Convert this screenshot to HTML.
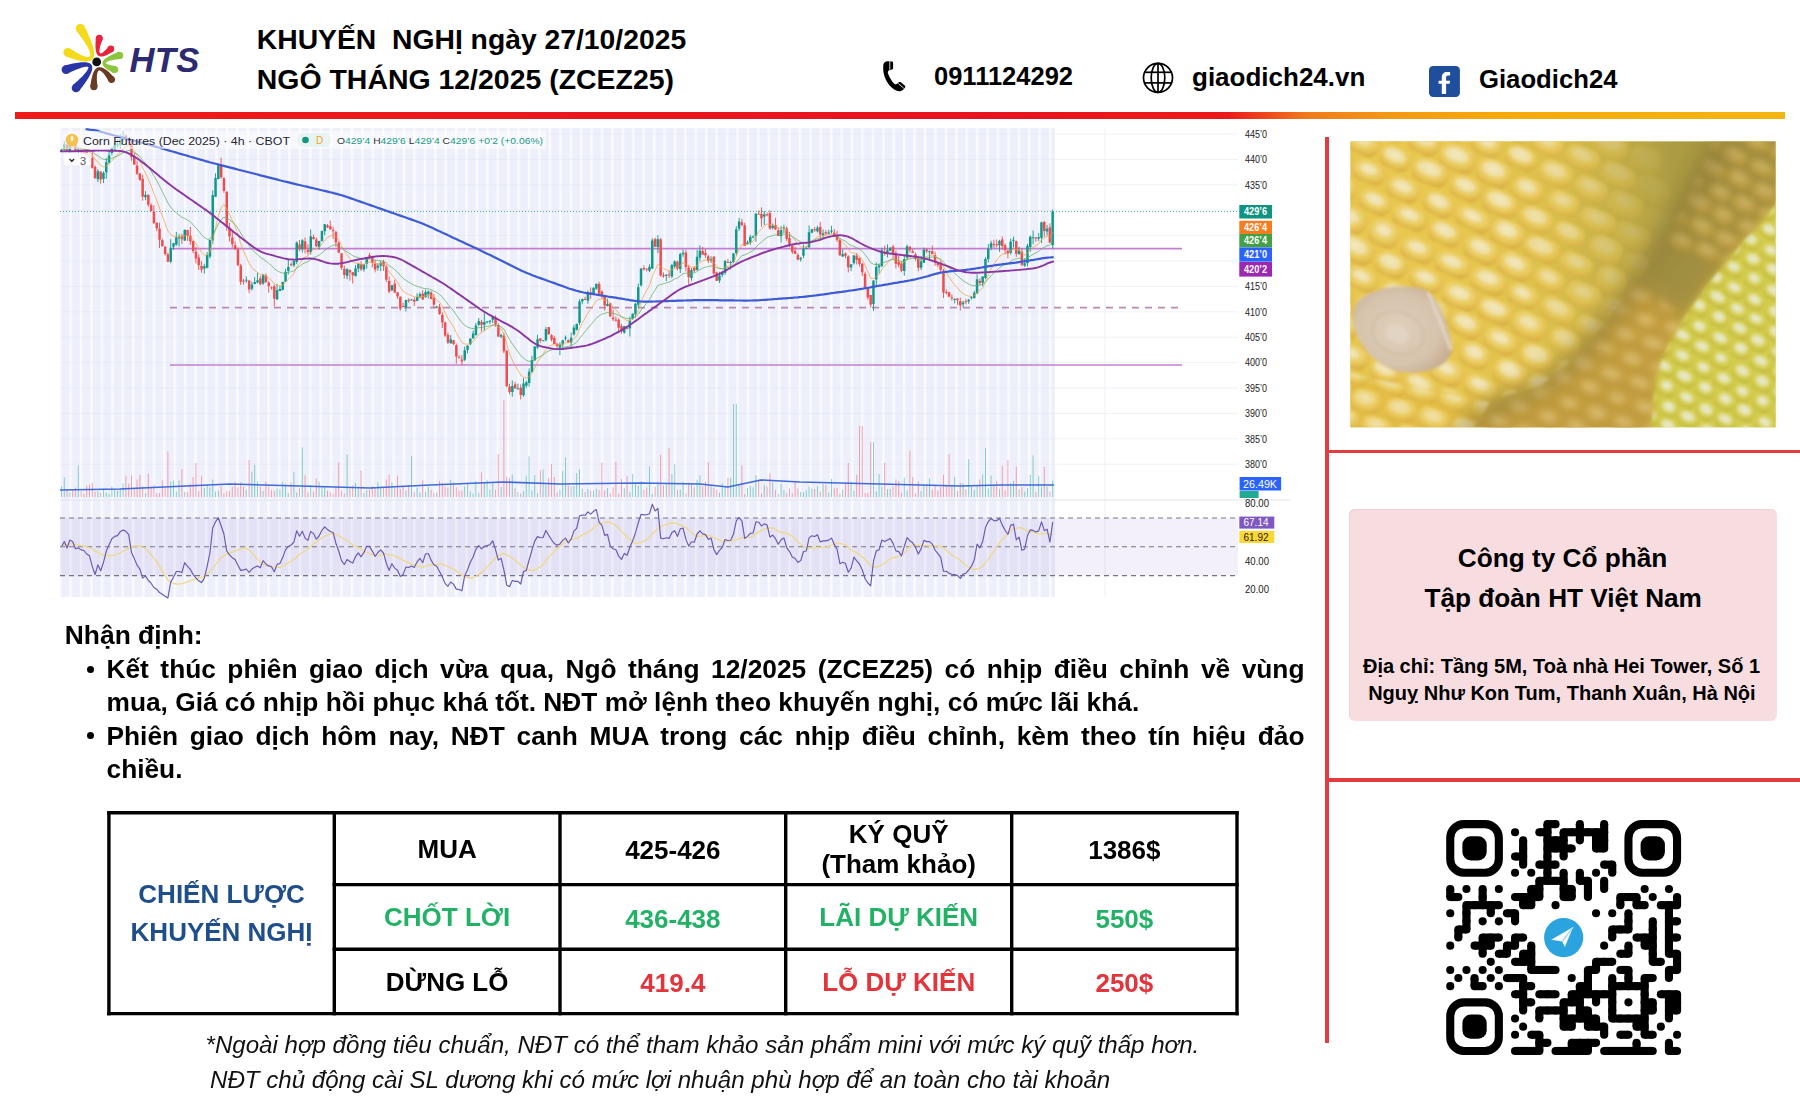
<!DOCTYPE html>
<html lang="vi"><head><meta charset="utf-8"><title>HTS - Khuyến nghị Ngô</title>
<style>
*{margin:0;padding:0;box-sizing:border-box}
html,body{width:1800px;height:1112px;overflow:hidden;background:#fff}
body{position:relative;font-family:"Liberation Sans", Arial, sans-serif;color:#000}
.abs{position:absolute;white-space:nowrap}
.rl{position:absolute;background:#e23b40}
.txt{position:absolute;left:106.5px;width:1198px;font-size:26.3px;font-weight:bold;line-height:33.4px;text-align:justify;text-align-last:left}
.txt li{list-style:none;position:relative}
.bul{position:absolute;left:-20px;top:12.7px;width:7px;height:7px;border-radius:50%;background:#000}
</style></head><body>
<svg style="position:absolute;left:0;top:0" width="210" height="110" viewBox="0 0 210 110"><g fill="#f2da1c"><polygon points="76.52,31.08 78.11,33.10 79.60,35.04 80.99,36.91 82.28,38.71 83.48,40.43 84.58,42.07 85.57,43.64 86.47,45.13 87.28,46.54 87.98,47.87 88.58,49.12 89.09,50.28 89.50,51.36 89.81,52.35 90.03,53.24 90.15,54.04 90.19,54.72 90.16,55.30 90.06,55.76 89.92,56.11 89.74,56.38 89.53,56.58 89.25,56.74 88.90,56.86 88.45,56.95 87.88,56.97 87.21,56.94 86.43,56.82 85.54,56.63 84.55,56.35 83.47,55.97 82.30,55.51 81.03,54.96 79.68,54.31 78.25,53.57 76.72,52.74 75.12,51.81 73.43,50.79 71.66,49.68 69.80,48.48 65.80,56.32 67.99,57.14 70.08,57.90 72.09,58.58 74.00,59.18 75.82,59.72 77.55,60.18 79.19,60.57 80.74,60.89 82.21,61.13 83.60,61.30 84.90,61.40 86.13,61.42 87.29,61.35 88.39,61.20 89.42,60.94 90.38,60.58 91.27,60.09 92.06,59.47 92.74,58.73 93.28,57.89 93.68,56.97 93.95,55.99 94.11,54.97 94.17,53.88 94.13,52.74 94.02,51.54 93.82,50.27 93.55,48.92 93.20,47.49 92.77,45.98 92.27,44.39 91.69,42.71 91.03,40.95 90.29,39.10 89.48,37.16 88.60,35.13 87.63,33.01 86.59,30.81 85.47,28.51 84.28,26.12"/><circle cx="80.4" cy="28.6" r="4.6"/><circle cx="67.8" cy="52.4" r="4.4"/></g><g fill="#e8243c"><polygon points="95.90,37.39 95.77,38.79 95.67,40.14 95.59,41.43 95.53,42.66 95.49,43.84 95.47,44.96 95.48,46.02 95.50,47.04 95.55,47.99 95.63,48.90 95.72,49.75 95.84,50.56 95.98,51.32 96.16,52.03 96.36,52.69 96.59,53.32 96.87,53.90 97.18,54.45 97.55,54.95 97.98,55.40 98.47,55.79 99.01,56.11 99.59,56.34 100.21,56.50 100.84,56.58 101.48,56.59 102.14,56.54 102.82,56.43 103.51,56.27 104.23,56.06 104.98,55.81 105.75,55.50 106.55,55.15 107.38,54.75 108.25,54.30 109.15,53.81 110.09,53.27 111.06,52.68 112.06,52.04 113.10,51.36 108.70,46.44 107.97,47.32 107.27,48.14 106.59,48.89 105.94,49.59 105.31,50.23 104.71,50.80 104.14,51.32 103.60,51.78 103.10,52.17 102.62,52.51 102.18,52.79 101.78,53.01 101.41,53.17 101.10,53.29 100.83,53.35 100.60,53.38 100.42,53.38 100.27,53.35 100.14,53.29 100.02,53.20 99.90,53.06 99.78,52.87 99.67,52.61 99.58,52.28 99.51,51.89 99.46,51.43 99.45,50.90 99.47,50.32 99.53,49.68 99.62,48.97 99.76,48.22 99.93,47.40 100.14,46.54 100.39,45.62 100.67,44.65 101.00,43.62 101.37,42.54 101.77,41.42 102.22,40.24 102.70,39.01"/><circle cx="99.3" cy="38.2" r="3.5"/><circle cx="110.9" cy="48.9" r="3.3"/></g><g fill="#8cc63f"><polygon points="118.61,51.81 117.25,52.36 115.95,52.91 114.71,53.45 113.53,53.97 112.42,54.49 111.36,55.00 110.37,55.50 109.44,55.99 108.57,56.48 107.75,56.96 107.00,57.43 106.30,57.89 105.66,58.36 105.07,58.82 104.54,59.28 104.06,59.76 103.63,60.24 103.25,60.75 102.94,61.30 102.69,61.87 102.53,62.49 102.46,63.13 102.51,63.78 102.65,64.41 102.89,65.01 103.19,65.58 103.56,66.13 103.99,66.65 104.47,67.16 105.00,67.67 105.59,68.18 106.24,68.68 106.94,69.19 107.71,69.71 108.53,70.22 109.41,70.75 110.35,71.29 111.35,71.83 112.42,72.38 113.54,72.94 115.66,66.06 114.52,65.90 113.45,65.74 112.45,65.57 111.52,65.39 110.65,65.21 109.86,65.01 109.13,64.82 108.47,64.61 107.89,64.41 107.37,64.20 106.93,64.00 106.56,63.80 106.27,63.62 106.05,63.46 105.89,63.32 105.79,63.21 105.74,63.14 105.70,63.08 105.69,63.01 105.71,62.93 105.77,62.80 105.89,62.64 106.08,62.44 106.35,62.23 106.69,62.00 107.11,61.76 107.60,61.52 108.17,61.28 108.81,61.05 109.52,60.82 110.30,60.60 111.15,60.38 112.07,60.18 113.06,59.98 114.12,59.79 115.24,59.61 116.43,59.44 117.68,59.28 119.00,59.13 120.39,58.99"/><circle cx="119.5" cy="55.4" r="3.7"/><circle cx="114.6" cy="69.5" r="3.6"/></g><g fill="#6b3a22"><polygon points="97.50,86.59 97.31,85.09 97.16,83.66 97.03,82.30 96.94,81.01 96.88,79.80 96.85,78.65 96.85,77.57 96.88,76.57 96.94,75.64 97.02,74.78 97.14,74.01 97.28,73.30 97.44,72.68 97.63,72.14 97.83,71.67 98.04,71.29 98.25,70.99 98.47,70.76 98.68,70.60 98.89,70.49 99.11,70.43 99.34,70.41 99.61,70.43 99.92,70.50 100.27,70.64 100.66,70.84 101.09,71.11 101.55,71.46 102.04,71.88 102.56,72.38 103.10,72.96 103.67,73.61 104.25,74.34 104.86,75.15 105.48,76.03 106.12,76.99 106.77,78.03 107.45,79.14 108.14,80.32 108.84,81.58 114.36,77.62 113.31,76.48 112.29,75.40 111.30,74.40 110.34,73.46 109.40,72.58 108.49,71.77 107.61,71.02 106.76,70.34 105.92,69.73 105.12,69.17 104.33,68.68 103.55,68.26 102.80,67.90 102.05,67.60 101.31,67.38 100.58,67.22 99.84,67.16 99.12,67.18 98.40,67.29 97.71,67.51 97.06,67.82 96.45,68.22 95.89,68.70 95.38,69.24 94.90,69.84 94.46,70.50 94.05,71.22 93.66,72.01 93.30,72.86 92.95,73.77 92.62,74.74 92.31,75.78 92.01,76.89 91.72,78.07 91.45,79.32 91.19,80.63 90.95,82.02 90.72,83.48 90.50,85.01 90.30,86.61"/><circle cx="93.9" cy="86.6" r="3.6"/><circle cx="111.6" cy="79.6" r="3.4"/></g><g fill="#2b36a6"><polygon points="67.39,73.63 69.38,72.66 71.27,71.76 73.07,70.94 74.78,70.19 76.40,69.51 77.92,68.91 79.35,68.38 80.69,67.92 81.92,67.54 83.06,67.23 84.10,66.99 85.03,66.82 85.85,66.72 86.56,66.68 87.15,66.70 87.61,66.76 87.94,66.85 88.15,66.94 88.27,67.03 88.33,67.11 88.38,67.24 88.40,67.45 88.38,67.76 88.28,68.19 88.10,68.72 87.82,69.34 87.44,70.05 86.95,70.83 86.36,71.68 85.66,72.60 84.85,73.58 83.94,74.62 82.93,75.72 81.81,76.88 80.58,78.10 79.25,79.37 77.82,80.70 76.28,82.09 74.64,83.53 72.90,85.02 79.10,90.98 80.57,89.10 81.95,87.28 83.24,85.54 84.45,83.87 85.56,82.27 86.60,80.74 87.54,79.28 88.40,77.89 89.18,76.56 89.87,75.30 90.47,74.10 90.99,72.96 91.43,71.88 91.78,70.85 92.04,69.86 92.21,68.90 92.28,67.96 92.23,67.04 92.03,66.14 91.67,65.29 91.13,64.52 90.46,63.87 89.69,63.36 88.85,62.97 87.95,62.68 86.98,62.47 85.94,62.33 84.83,62.25 83.64,62.24 82.36,62.27 81.00,62.37 79.54,62.51 77.99,62.71 76.34,62.96 74.60,63.26 72.76,63.62 70.82,64.03 68.78,64.49 66.64,65.00 64.41,65.57"/><circle cx="65.9" cy="69.6" r="4.3"/><circle cx="76.0" cy="88.0" r="4.3"/></g><circle cx="96.7" cy="61.9" r="4.4" fill="#111"/></svg>
<div class="abs" style="top:42.61px;font-size:34.6px;line-height:34.6px;font-weight:bold;left:129.50px;font-style:italic;color:#2c2a70;letter-spacing:0.3px">HTS</div>
<div class="abs" style="top:24.79px;font-size:28.3px;line-height:28.3px;font-weight:bold;left:256.80px;">KHUYẾN&nbsp; NGHỊ ngày 27/10/2025</div>
<div class="abs" style="top:64.92px;font-size:28.45px;line-height:28.45px;font-weight:bold;left:256.80px;">NGÔ THÁNG 12/2025 (ZCEZ25)</div>
<svg style="position:absolute;left:875px;top:55px" width="40" height="40" viewBox="0 0 40 40">
<path d="M8.3,10 C8.5,7.5 10.5,6.3 12.5,6.2 L17,6.4 C17.9,6.5 18.1,7.2 18.1,8 L18.1,13 C18.1,14 17.3,14.6 16.3,14.7 L14.2,15.2 C13,15.8 12.6,17 13,18.5 C14.6,22.6 16.6,26 19,28.4 C20,29.4 21.2,29.6 22.2,28.8 L23.6,27.4 C24.3,26.8 25.2,26.8 25.9,27.3 L29.8,30.6 C30.5,31.2 30.5,32 29.9,32.7 L28.4,34.4 C26.8,36 24.2,36.6 21.8,35.8 C18.2,34.6 14.8,31.4 12.4,27.6 C10,23.6 8.4,18.8 8.2,14.2 Z" fill="#000"/>
<path d="M14.8,6.2 L14.8,14.9 M23.3,28.5 L28.8,33.3" stroke="#fff" stroke-width="0.9" fill="none" opacity="0.9"/>
</svg>
<div class="abs" style="top:63.61px;font-size:25.5px;line-height:25.5px;font-weight:bold;left:934.00px;">0911124292</div>
<svg style="position:absolute;left:1138px;top:58px" width="40" height="40" viewBox="0 0 40 40">
<g fill="none" stroke="#000" stroke-width="1.7">
<circle cx="20" cy="19.8" r="14.5"/>
<ellipse cx="20" cy="19.8" rx="6.8" ry="14.5"/>
<line x1="20" y1="5.3" x2="20" y2="34.3"/>
<line x1="6.6" y1="14.3" x2="33.4" y2="14.3"/>
<line x1="6.4" y1="24.9" x2="33.6" y2="24.9"/>
</g></svg>
<div class="abs" style="top:64.39px;font-size:26px;line-height:26px;font-weight:bold;left:1192.00px;">giaodich24.vn</div>
<svg style="position:absolute;left:1429px;top:65.9px" width="32" height="32" viewBox="0 0 32 32">
<rect x="0" y="0" width="30.9" height="31.1" rx="4.2" fill="#1f4f9c"/>
<path d="M12.8,28.1 L12.8,17.8 L9.6,17.8 L9.6,14.7 L12.8,14.7 L12.8,11.5 C12.8,8 14.8,6 18.2,6 L21.1,6 L21.1,9.6 L19,9.6 C17.6,9.6 17.1,10.3 17.1,11.6 L17.1,14.7 L21.1,14.7 L20.6,17.8 L17.1,17.8 L17.1,28.1 Z" fill="#fff"/>
</svg>
<div class="abs" style="top:66.54px;font-size:25.7px;line-height:25.7px;font-weight:bold;left:1479.00px;">Giaodich24</div>
<div style="position:absolute;left:15px;top:112px;width:1770px;height:6.5px;background:linear-gradient(90deg,#ee1b1b 0%,#e8131f 55%,#ec1a1a 68.5%,#f07a1c 73%,#f39a14 78%,#f6aa0a 84%,#f2b512 100%)"></div>
<svg style="position:absolute;left:0;top:0" width="1800" height="1112" viewBox="0 0 1800 1112" font-family="Liberation Sans, sans-serif">
<defs><pattern id="stp" x="59.0" y="0" width="10.42" height="20" patternUnits="userSpaceOnUse"><rect x="0" y="0" width="10.42" height="20" fill="#edeffb"/><rect x="0" y="0" width="2.4" height="20" fill="#fafbff"/></pattern></defs>
<rect x="60" y="128" width="995" height="469" fill="url(#stp)"/>
<line x1="60" y1="134.0" x2="1238" y2="134.0" stroke="#e3e5f0" stroke-width="0.8" stroke-opacity="0.7"/>
<line x1="60" y1="159.4" x2="1238" y2="159.4" stroke="#e3e5f0" stroke-width="0.8" stroke-opacity="0.7"/>
<line x1="60" y1="184.8" x2="1238" y2="184.8" stroke="#e3e5f0" stroke-width="0.8" stroke-opacity="0.7"/>
<line x1="60" y1="210.2" x2="1238" y2="210.2" stroke="#e3e5f0" stroke-width="0.8" stroke-opacity="0.7"/>
<line x1="60" y1="235.6" x2="1238" y2="235.6" stroke="#e3e5f0" stroke-width="0.8" stroke-opacity="0.7"/>
<line x1="60" y1="261.0" x2="1238" y2="261.0" stroke="#e3e5f0" stroke-width="0.8" stroke-opacity="0.7"/>
<line x1="60" y1="286.4" x2="1238" y2="286.4" stroke="#e3e5f0" stroke-width="0.8" stroke-opacity="0.7"/>
<line x1="60" y1="311.8" x2="1238" y2="311.8" stroke="#e3e5f0" stroke-width="0.8" stroke-opacity="0.7"/>
<line x1="60" y1="337.2" x2="1238" y2="337.2" stroke="#e3e5f0" stroke-width="0.8" stroke-opacity="0.7"/>
<line x1="60" y1="362.6" x2="1238" y2="362.6" stroke="#e3e5f0" stroke-width="0.8" stroke-opacity="0.7"/>
<line x1="60" y1="388.0" x2="1238" y2="388.0" stroke="#e3e5f0" stroke-width="0.8" stroke-opacity="0.7"/>
<line x1="60" y1="413.4" x2="1238" y2="413.4" stroke="#e3e5f0" stroke-width="0.8" stroke-opacity="0.7"/>
<line x1="60" y1="438.8" x2="1238" y2="438.8" stroke="#e3e5f0" stroke-width="0.8" stroke-opacity="0.7"/>
<line x1="60" y1="464.2" x2="1238" y2="464.2" stroke="#e3e5f0" stroke-width="0.8" stroke-opacity="0.7"/>
<line x1="1105" y1="128" x2="1105" y2="597" stroke="#f0f1f6" stroke-width="1"/>
<rect x="60" y="518" width="1178" height="57.6" fill="#7e57c2" fill-opacity="0.09"/>
<line x1="60" y1="518" x2="1238" y2="518" stroke="#74767f" stroke-width="1.1" stroke-dasharray="5,4"/>
<line x1="60" y1="546.8" x2="1238" y2="546.8" stroke="#74767f" stroke-width="1.1" stroke-dasharray="5,4"/>
<line x1="60" y1="575.6" x2="1238" y2="575.6" stroke="#74767f" stroke-width="1.1" stroke-dasharray="5,4"/>
<line x1="170" y1="248.6" x2="1182" y2="248.6" stroke="#c47fd0" stroke-width="1.6"/>
<line x1="170" y1="307.6" x2="1182" y2="307.6" stroke="#b98ab8" stroke-width="1.6" stroke-dasharray="7,6"/>
<line x1="170" y1="365" x2="1182" y2="365" stroke="#c47fd0" stroke-width="1.6"/>
<line x1="60" y1="211.5" x2="1238" y2="211.5" stroke="#2a9d8f" stroke-width="1" stroke-dasharray="1,2" opacity="0.8"/>
<line x1="61.5" y1="148.9" x2="61.5" y2="152.0" stroke="#10998a" stroke-width="0.9"/>
<rect x="60.2" y="149.6" width="2.5" height="1.4" fill="#10998a"/>
<line x1="64.3" y1="140.8" x2="64.3" y2="150.7" stroke="#10998a" stroke-width="0.9"/>
<rect x="63.0" y="144.4" width="2.5" height="5.0" fill="#10998a"/>
<line x1="67.1" y1="143.3" x2="67.1" y2="151.0" stroke="#ef4d4d" stroke-width="0.9"/>
<rect x="65.8" y="144.6" width="2.5" height="5.8" fill="#ef4d4d"/>
<line x1="69.9" y1="140.6" x2="69.9" y2="152.8" stroke="#10998a" stroke-width="0.9"/>
<rect x="68.6" y="142.2" width="2.5" height="9.0" fill="#10998a"/>
<line x1="72.7" y1="137.6" x2="72.7" y2="145.2" stroke="#ef4d4d" stroke-width="0.9"/>
<rect x="71.4" y="140.5" width="2.5" height="3.3" fill="#ef4d4d"/>
<line x1="75.5" y1="142.0" x2="75.5" y2="152.4" stroke="#ef4d4d" stroke-width="0.9"/>
<rect x="74.2" y="143.7" width="2.5" height="6.7" fill="#ef4d4d"/>
<line x1="78.3" y1="147.5" x2="78.3" y2="156.3" stroke="#10998a" stroke-width="0.9"/>
<rect x="77.0" y="149.6" width="2.5" height="1.2" fill="#10998a"/>
<line x1="81.1" y1="148.8" x2="81.1" y2="153.8" stroke="#ef4d4d" stroke-width="0.9"/>
<rect x="79.8" y="150.8" width="2.5" height="1.0" fill="#ef4d4d"/>
<line x1="83.9" y1="149.3" x2="83.9" y2="152.8" stroke="#ef4d4d" stroke-width="0.9"/>
<rect x="82.6" y="151.4" width="2.5" height="1.0" fill="#ef4d4d"/>
<line x1="86.7" y1="149.3" x2="86.7" y2="159.0" stroke="#ef4d4d" stroke-width="0.9"/>
<rect x="85.4" y="151.0" width="2.5" height="4.1" fill="#ef4d4d"/>
<line x1="89.5" y1="154.0" x2="89.5" y2="161.4" stroke="#ef4d4d" stroke-width="0.9"/>
<rect x="88.2" y="155.3" width="2.5" height="1.3" fill="#ef4d4d"/>
<line x1="92.3" y1="151.5" x2="92.3" y2="168.7" stroke="#ef4d4d" stroke-width="0.9"/>
<rect x="91.0" y="157.9" width="2.5" height="9.8" fill="#ef4d4d"/>
<line x1="95.1" y1="165.3" x2="95.1" y2="178.4" stroke="#ef4d4d" stroke-width="0.9"/>
<rect x="93.8" y="166.9" width="2.5" height="11.4" fill="#ef4d4d"/>
<line x1="97.9" y1="169.1" x2="97.9" y2="182.1" stroke="#10998a" stroke-width="0.9"/>
<rect x="96.6" y="171.3" width="2.5" height="7.8" fill="#10998a"/>
<line x1="100.7" y1="171.2" x2="100.7" y2="183.8" stroke="#ef4d4d" stroke-width="0.9"/>
<rect x="99.4" y="171.6" width="2.5" height="8.0" fill="#ef4d4d"/>
<line x1="103.5" y1="171.4" x2="103.5" y2="183.0" stroke="#10998a" stroke-width="0.9"/>
<rect x="102.2" y="172.8" width="2.5" height="6.2" fill="#10998a"/>
<line x1="106.3" y1="158.1" x2="106.3" y2="178.8" stroke="#10998a" stroke-width="0.9"/>
<rect x="105.0" y="162.2" width="2.5" height="10.1" fill="#10998a"/>
<line x1="109.1" y1="150.9" x2="109.1" y2="164.3" stroke="#10998a" stroke-width="0.9"/>
<rect x="107.8" y="155.5" width="2.5" height="6.9" fill="#10998a"/>
<line x1="111.9" y1="147.1" x2="111.9" y2="155.4" stroke="#10998a" stroke-width="0.9"/>
<rect x="110.6" y="148.2" width="2.5" height="4.8" fill="#10998a"/>
<line x1="114.7" y1="141.7" x2="114.7" y2="149.7" stroke="#10998a" stroke-width="0.9"/>
<rect x="113.4" y="145.2" width="2.5" height="3.9" fill="#10998a"/>
<line x1="117.5" y1="139.2" x2="117.5" y2="147.7" stroke="#10998a" stroke-width="0.9"/>
<rect x="116.2" y="144.3" width="2.5" height="1.4" fill="#10998a"/>
<line x1="120.3" y1="134.3" x2="120.3" y2="149.0" stroke="#10998a" stroke-width="0.9"/>
<rect x="119.0" y="139.4" width="2.5" height="5.5" fill="#10998a"/>
<line x1="123.1" y1="131.0" x2="123.1" y2="141.9" stroke="#10998a" stroke-width="0.9"/>
<rect x="121.8" y="137.3" width="2.5" height="2.5" fill="#10998a"/>
<line x1="125.9" y1="134.9" x2="125.9" y2="141.6" stroke="#ef4d4d" stroke-width="0.9"/>
<rect x="124.6" y="135.5" width="2.5" height="2.8" fill="#ef4d4d"/>
<line x1="128.7" y1="138.1" x2="128.7" y2="141.2" stroke="#ef4d4d" stroke-width="0.9"/>
<rect x="127.4" y="139.9" width="2.5" height="1.0" fill="#ef4d4d"/>
<line x1="131.5" y1="141.0" x2="131.5" y2="160.8" stroke="#ef4d4d" stroke-width="0.9"/>
<rect x="130.2" y="141.4" width="2.5" height="15.7" fill="#ef4d4d"/>
<line x1="134.3" y1="153.3" x2="134.3" y2="164.6" stroke="#ef4d4d" stroke-width="0.9"/>
<rect x="133.0" y="156.7" width="2.5" height="7.9" fill="#ef4d4d"/>
<line x1="137.1" y1="160.8" x2="137.1" y2="175.0" stroke="#ef4d4d" stroke-width="0.9"/>
<rect x="135.8" y="165.5" width="2.5" height="8.1" fill="#ef4d4d"/>
<line x1="139.9" y1="173.0" x2="139.9" y2="180.8" stroke="#ef4d4d" stroke-width="0.9"/>
<rect x="138.6" y="173.5" width="2.5" height="6.4" fill="#ef4d4d"/>
<line x1="142.7" y1="174.8" x2="142.7" y2="200.7" stroke="#ef4d4d" stroke-width="0.9"/>
<rect x="141.4" y="178.8" width="2.5" height="17.8" fill="#ef4d4d"/>
<line x1="145.5" y1="191.2" x2="145.5" y2="200.1" stroke="#10998a" stroke-width="0.9"/>
<rect x="144.2" y="194.8" width="2.5" height="2.5" fill="#10998a"/>
<line x1="148.3" y1="194.4" x2="148.3" y2="206.7" stroke="#ef4d4d" stroke-width="0.9"/>
<rect x="147.1" y="194.9" width="2.5" height="9.9" fill="#ef4d4d"/>
<line x1="151.1" y1="203.3" x2="151.1" y2="211.2" stroke="#ef4d4d" stroke-width="0.9"/>
<rect x="149.9" y="205.1" width="2.5" height="6.1" fill="#ef4d4d"/>
<line x1="153.9" y1="205.3" x2="153.9" y2="224.1" stroke="#ef4d4d" stroke-width="0.9"/>
<rect x="152.7" y="211.8" width="2.5" height="11.3" fill="#ef4d4d"/>
<line x1="156.7" y1="222.6" x2="156.7" y2="231.1" stroke="#ef4d4d" stroke-width="0.9"/>
<rect x="155.5" y="222.7" width="2.5" height="5.5" fill="#ef4d4d"/>
<line x1="159.5" y1="222.7" x2="159.5" y2="248.0" stroke="#ef4d4d" stroke-width="0.9"/>
<rect x="158.3" y="228.6" width="2.5" height="11.2" fill="#ef4d4d"/>
<line x1="162.3" y1="238.7" x2="162.3" y2="246.9" stroke="#ef4d4d" stroke-width="0.9"/>
<rect x="161.1" y="240.0" width="2.5" height="6.1" fill="#ef4d4d"/>
<line x1="165.1" y1="245.9" x2="165.1" y2="255.7" stroke="#ef4d4d" stroke-width="0.9"/>
<rect x="163.9" y="246.8" width="2.5" height="7.3" fill="#ef4d4d"/>
<line x1="167.9" y1="252.7" x2="167.9" y2="262.0" stroke="#ef4d4d" stroke-width="0.9"/>
<rect x="166.7" y="254.4" width="2.5" height="7.3" fill="#ef4d4d"/>
<line x1="170.7" y1="239.2" x2="170.7" y2="263.2" stroke="#10998a" stroke-width="0.9"/>
<rect x="169.5" y="247.9" width="2.5" height="13.8" fill="#10998a"/>
<line x1="173.5" y1="243.0" x2="173.5" y2="249.8" stroke="#10998a" stroke-width="0.9"/>
<rect x="172.3" y="243.2" width="2.5" height="3.6" fill="#10998a"/>
<line x1="176.3" y1="231.9" x2="176.3" y2="245.8" stroke="#10998a" stroke-width="0.9"/>
<rect x="175.1" y="237.3" width="2.5" height="7.3" fill="#10998a"/>
<line x1="179.1" y1="233.9" x2="179.1" y2="246.5" stroke="#10998a" stroke-width="0.9"/>
<rect x="177.9" y="237.4" width="2.5" height="1.0" fill="#10998a"/>
<line x1="181.9" y1="233.7" x2="181.9" y2="244.0" stroke="#ef4d4d" stroke-width="0.9"/>
<rect x="180.7" y="235.9" width="2.5" height="3.3" fill="#ef4d4d"/>
<line x1="184.7" y1="229.4" x2="184.7" y2="241.1" stroke="#10998a" stroke-width="0.9"/>
<rect x="183.5" y="229.9" width="2.5" height="10.6" fill="#10998a"/>
<line x1="187.5" y1="229.8" x2="187.5" y2="240.9" stroke="#ef4d4d" stroke-width="0.9"/>
<rect x="186.3" y="230.0" width="2.5" height="5.9" fill="#ef4d4d"/>
<line x1="190.3" y1="226.9" x2="190.3" y2="245.0" stroke="#ef4d4d" stroke-width="0.9"/>
<rect x="189.1" y="235.7" width="2.5" height="5.7" fill="#ef4d4d"/>
<line x1="193.1" y1="240.7" x2="193.1" y2="253.2" stroke="#ef4d4d" stroke-width="0.9"/>
<rect x="191.9" y="241.1" width="2.5" height="9.9" fill="#ef4d4d"/>
<line x1="195.9" y1="246.7" x2="195.9" y2="263.4" stroke="#ef4d4d" stroke-width="0.9"/>
<rect x="194.7" y="251.6" width="2.5" height="6.9" fill="#ef4d4d"/>
<line x1="198.7" y1="254.3" x2="198.7" y2="269.9" stroke="#ef4d4d" stroke-width="0.9"/>
<rect x="197.5" y="257.6" width="2.5" height="7.6" fill="#ef4d4d"/>
<line x1="201.5" y1="261.2" x2="201.5" y2="272.7" stroke="#ef4d4d" stroke-width="0.9"/>
<rect x="200.3" y="265.9" width="2.5" height="3.7" fill="#ef4d4d"/>
<line x1="204.3" y1="263.7" x2="204.3" y2="273.6" stroke="#10998a" stroke-width="0.9"/>
<rect x="203.1" y="266.2" width="2.5" height="2.4" fill="#10998a"/>
<line x1="207.1" y1="251.9" x2="207.1" y2="268.3" stroke="#10998a" stroke-width="0.9"/>
<rect x="205.9" y="255.1" width="2.5" height="12.6" fill="#10998a"/>
<line x1="209.9" y1="239.8" x2="209.9" y2="258.4" stroke="#10998a" stroke-width="0.9"/>
<rect x="208.7" y="240.1" width="2.5" height="16.4" fill="#10998a"/>
<line x1="212.7" y1="190.4" x2="212.7" y2="243.8" stroke="#10998a" stroke-width="0.9"/>
<rect x="211.5" y="195.2" width="2.5" height="45.3" fill="#10998a"/>
<line x1="215.5" y1="173.3" x2="215.5" y2="197.2" stroke="#10998a" stroke-width="0.9"/>
<rect x="214.3" y="178.0" width="2.5" height="18.7" fill="#10998a"/>
<line x1="218.3" y1="165.0" x2="218.3" y2="179.4" stroke="#10998a" stroke-width="0.9"/>
<rect x="217.1" y="165.4" width="2.5" height="13.6" fill="#10998a"/>
<line x1="221.1" y1="157.8" x2="221.1" y2="178.6" stroke="#ef4d4d" stroke-width="0.9"/>
<rect x="219.9" y="165.1" width="2.5" height="12.2" fill="#ef4d4d"/>
<line x1="223.9" y1="177.2" x2="223.9" y2="192.8" stroke="#ef4d4d" stroke-width="0.9"/>
<rect x="222.7" y="178.2" width="2.5" height="12.7" fill="#ef4d4d"/>
<line x1="226.7" y1="191.4" x2="226.7" y2="230.7" stroke="#ef4d4d" stroke-width="0.9"/>
<rect x="225.5" y="191.7" width="2.5" height="34.8" fill="#ef4d4d"/>
<line x1="229.5" y1="222.8" x2="229.5" y2="241.5" stroke="#ef4d4d" stroke-width="0.9"/>
<rect x="228.3" y="227.5" width="2.5" height="8.9" fill="#ef4d4d"/>
<line x1="232.3" y1="231.3" x2="232.3" y2="247.6" stroke="#ef4d4d" stroke-width="0.9"/>
<rect x="231.1" y="237.3" width="2.5" height="6.9" fill="#ef4d4d"/>
<line x1="235.1" y1="241.3" x2="235.1" y2="249.4" stroke="#ef4d4d" stroke-width="0.9"/>
<rect x="233.9" y="245.2" width="2.5" height="4.1" fill="#ef4d4d"/>
<line x1="237.9" y1="247.4" x2="237.9" y2="266.1" stroke="#ef4d4d" stroke-width="0.9"/>
<rect x="236.7" y="249.3" width="2.5" height="16.0" fill="#ef4d4d"/>
<line x1="240.7" y1="263.7" x2="240.7" y2="285.0" stroke="#ef4d4d" stroke-width="0.9"/>
<rect x="239.5" y="265.4" width="2.5" height="16.4" fill="#ef4d4d"/>
<line x1="243.5" y1="278.8" x2="243.5" y2="284.5" stroke="#ef4d4d" stroke-width="0.9"/>
<rect x="242.3" y="280.6" width="2.5" height="1.0" fill="#ef4d4d"/>
<line x1="246.3" y1="276.4" x2="246.3" y2="283.0" stroke="#10998a" stroke-width="0.9"/>
<rect x="245.1" y="279.7" width="2.5" height="1.0" fill="#10998a"/>
<line x1="249.1" y1="279.9" x2="249.1" y2="293.2" stroke="#ef4d4d" stroke-width="0.9"/>
<rect x="247.9" y="280.5" width="2.5" height="9.0" fill="#ef4d4d"/>
<line x1="251.9" y1="281.8" x2="251.9" y2="290.6" stroke="#10998a" stroke-width="0.9"/>
<rect x="250.7" y="284.7" width="2.5" height="4.0" fill="#10998a"/>
<line x1="254.7" y1="277.2" x2="254.7" y2="284.4" stroke="#10998a" stroke-width="0.9"/>
<rect x="253.5" y="282.1" width="2.5" height="1.9" fill="#10998a"/>
<line x1="257.5" y1="272.7" x2="257.5" y2="283.5" stroke="#10998a" stroke-width="0.9"/>
<rect x="256.3" y="280.3" width="2.5" height="2.2" fill="#10998a"/>
<line x1="260.3" y1="276.0" x2="260.3" y2="285.2" stroke="#ef4d4d" stroke-width="0.9"/>
<rect x="259.1" y="278.3" width="2.5" height="6.0" fill="#ef4d4d"/>
<line x1="263.1" y1="273.9" x2="263.1" y2="284.9" stroke="#10998a" stroke-width="0.9"/>
<rect x="261.9" y="274.8" width="2.5" height="8.6" fill="#10998a"/>
<line x1="265.9" y1="273.5" x2="265.9" y2="283.0" stroke="#ef4d4d" stroke-width="0.9"/>
<rect x="264.7" y="275.6" width="2.5" height="6.4" fill="#ef4d4d"/>
<line x1="268.7" y1="281.2" x2="268.7" y2="292.7" stroke="#ef4d4d" stroke-width="0.9"/>
<rect x="267.5" y="282.6" width="2.5" height="3.5" fill="#ef4d4d"/>
<line x1="271.5" y1="286.4" x2="271.5" y2="289.5" stroke="#ef4d4d" stroke-width="0.9"/>
<rect x="270.3" y="287.4" width="2.5" height="1.0" fill="#ef4d4d"/>
<line x1="274.3" y1="284.7" x2="274.3" y2="306.5" stroke="#ef4d4d" stroke-width="0.9"/>
<rect x="273.1" y="286.2" width="2.5" height="12.5" fill="#ef4d4d"/>
<line x1="277.1" y1="284.1" x2="277.1" y2="299.8" stroke="#10998a" stroke-width="0.9"/>
<rect x="275.9" y="290.1" width="2.5" height="9.3" fill="#10998a"/>
<line x1="279.9" y1="286.1" x2="279.9" y2="291.3" stroke="#10998a" stroke-width="0.9"/>
<rect x="278.7" y="289.0" width="2.5" height="2.0" fill="#10998a"/>
<line x1="282.7" y1="281.8" x2="282.7" y2="290.4" stroke="#10998a" stroke-width="0.9"/>
<rect x="281.5" y="281.9" width="2.5" height="7.9" fill="#10998a"/>
<line x1="285.5" y1="268.9" x2="285.5" y2="281.9" stroke="#10998a" stroke-width="0.9"/>
<rect x="284.3" y="271.8" width="2.5" height="9.8" fill="#10998a"/>
<line x1="288.3" y1="258.4" x2="288.3" y2="274.6" stroke="#10998a" stroke-width="0.9"/>
<rect x="287.1" y="266.9" width="2.5" height="4.0" fill="#10998a"/>
<line x1="291.1" y1="262.3" x2="291.1" y2="266.4" stroke="#ef4d4d" stroke-width="0.9"/>
<rect x="289.9" y="264.3" width="2.5" height="1.0" fill="#ef4d4d"/>
<line x1="293.9" y1="260.6" x2="293.9" y2="267.0" stroke="#10998a" stroke-width="0.9"/>
<rect x="292.7" y="260.8" width="2.5" height="4.5" fill="#10998a"/>
<line x1="296.7" y1="241.5" x2="296.7" y2="264.1" stroke="#10998a" stroke-width="0.9"/>
<rect x="295.5" y="242.6" width="2.5" height="19.3" fill="#10998a"/>
<line x1="299.5" y1="239.9" x2="299.5" y2="251.3" stroke="#ef4d4d" stroke-width="0.9"/>
<rect x="298.3" y="244.4" width="2.5" height="4.8" fill="#ef4d4d"/>
<line x1="302.3" y1="239.1" x2="302.3" y2="252.5" stroke="#10998a" stroke-width="0.9"/>
<rect x="301.1" y="240.3" width="2.5" height="9.0" fill="#10998a"/>
<line x1="305.1" y1="237.5" x2="305.1" y2="253.3" stroke="#ef4d4d" stroke-width="0.9"/>
<rect x="303.9" y="241.4" width="2.5" height="7.6" fill="#ef4d4d"/>
<line x1="307.9" y1="244.2" x2="307.9" y2="254.6" stroke="#ef4d4d" stroke-width="0.9"/>
<rect x="306.7" y="250.0" width="2.5" height="2.0" fill="#ef4d4d"/>
<line x1="310.7" y1="229.5" x2="310.7" y2="254.6" stroke="#10998a" stroke-width="0.9"/>
<rect x="309.5" y="236.4" width="2.5" height="15.8" fill="#10998a"/>
<line x1="313.5" y1="234.6" x2="313.5" y2="239.5" stroke="#ef4d4d" stroke-width="0.9"/>
<rect x="312.3" y="237.0" width="2.5" height="2.1" fill="#ef4d4d"/>
<line x1="316.3" y1="237.4" x2="316.3" y2="246.9" stroke="#ef4d4d" stroke-width="0.9"/>
<rect x="315.1" y="239.5" width="2.5" height="6.7" fill="#ef4d4d"/>
<line x1="319.1" y1="240.9" x2="319.1" y2="249.6" stroke="#10998a" stroke-width="0.9"/>
<rect x="317.9" y="241.0" width="2.5" height="6.0" fill="#10998a"/>
<line x1="321.9" y1="230.7" x2="321.9" y2="241.5" stroke="#10998a" stroke-width="0.9"/>
<rect x="320.7" y="231.0" width="2.5" height="10.0" fill="#10998a"/>
<line x1="324.7" y1="223.9" x2="324.7" y2="235.2" stroke="#10998a" stroke-width="0.9"/>
<rect x="323.5" y="224.3" width="2.5" height="6.9" fill="#10998a"/>
<line x1="327.5" y1="224.0" x2="327.5" y2="228.0" stroke="#ef4d4d" stroke-width="0.9"/>
<rect x="326.3" y="225.4" width="2.5" height="2.0" fill="#ef4d4d"/>
<line x1="330.3" y1="220.4" x2="330.3" y2="229.6" stroke="#ef4d4d" stroke-width="0.9"/>
<rect x="329.1" y="226.4" width="2.5" height="3.0" fill="#ef4d4d"/>
<line x1="333.1" y1="226.7" x2="333.1" y2="238.9" stroke="#ef4d4d" stroke-width="0.9"/>
<rect x="331.9" y="230.2" width="2.5" height="1.0" fill="#ef4d4d"/>
<line x1="335.9" y1="230.8" x2="335.9" y2="246.8" stroke="#ef4d4d" stroke-width="0.9"/>
<rect x="334.7" y="232.1" width="2.5" height="10.3" fill="#ef4d4d"/>
<line x1="338.7" y1="241.3" x2="338.7" y2="253.2" stroke="#ef4d4d" stroke-width="0.9"/>
<rect x="337.5" y="242.9" width="2.5" height="9.7" fill="#ef4d4d"/>
<line x1="341.5" y1="253.3" x2="341.5" y2="269.8" stroke="#ef4d4d" stroke-width="0.9"/>
<rect x="340.3" y="253.3" width="2.5" height="14.6" fill="#ef4d4d"/>
<line x1="344.3" y1="265.6" x2="344.3" y2="278.5" stroke="#ef4d4d" stroke-width="0.9"/>
<rect x="343.1" y="268.9" width="2.5" height="6.1" fill="#ef4d4d"/>
<line x1="347.1" y1="268.3" x2="347.1" y2="279.2" stroke="#10998a" stroke-width="0.9"/>
<rect x="345.9" y="269.2" width="2.5" height="6.6" fill="#10998a"/>
<line x1="349.9" y1="269.4" x2="349.9" y2="280.7" stroke="#ef4d4d" stroke-width="0.9"/>
<rect x="348.7" y="270.1" width="2.5" height="2.4" fill="#ef4d4d"/>
<line x1="352.7" y1="272.0" x2="352.7" y2="283.6" stroke="#ef4d4d" stroke-width="0.9"/>
<rect x="351.5" y="272.3" width="2.5" height="3.0" fill="#ef4d4d"/>
<line x1="355.5" y1="265.1" x2="355.5" y2="276.2" stroke="#10998a" stroke-width="0.9"/>
<rect x="354.3" y="268.3" width="2.5" height="7.9" fill="#10998a"/>
<line x1="358.3" y1="262.8" x2="358.3" y2="272.1" stroke="#10998a" stroke-width="0.9"/>
<rect x="357.1" y="264.0" width="2.5" height="4.5" fill="#10998a"/>
<line x1="361.1" y1="261.2" x2="361.1" y2="271.1" stroke="#ef4d4d" stroke-width="0.9"/>
<rect x="359.9" y="264.0" width="2.5" height="5.4" fill="#ef4d4d"/>
<line x1="363.9" y1="263.7" x2="363.9" y2="271.7" stroke="#10998a" stroke-width="0.9"/>
<rect x="362.7" y="264.5" width="2.5" height="5.0" fill="#10998a"/>
<line x1="366.7" y1="257.1" x2="366.7" y2="268.6" stroke="#10998a" stroke-width="0.9"/>
<rect x="365.5" y="257.1" width="2.5" height="6.7" fill="#10998a"/>
<line x1="369.5" y1="252.9" x2="369.5" y2="259.2" stroke="#ef4d4d" stroke-width="0.9"/>
<rect x="368.3" y="255.1" width="2.5" height="2.3" fill="#ef4d4d"/>
<line x1="372.3" y1="256.6" x2="372.3" y2="267.5" stroke="#ef4d4d" stroke-width="0.9"/>
<rect x="371.1" y="257.3" width="2.5" height="5.6" fill="#ef4d4d"/>
<line x1="375.1" y1="260.0" x2="375.1" y2="272.3" stroke="#ef4d4d" stroke-width="0.9"/>
<rect x="373.9" y="263.5" width="2.5" height="6.0" fill="#ef4d4d"/>
<line x1="377.9" y1="263.1" x2="377.9" y2="270.7" stroke="#10998a" stroke-width="0.9"/>
<rect x="376.7" y="265.6" width="2.5" height="2.1" fill="#10998a"/>
<line x1="380.7" y1="260.8" x2="380.7" y2="271.2" stroke="#10998a" stroke-width="0.9"/>
<rect x="379.5" y="262.8" width="2.5" height="2.8" fill="#10998a"/>
<line x1="383.5" y1="259.7" x2="383.5" y2="270.9" stroke="#ef4d4d" stroke-width="0.9"/>
<rect x="382.3" y="261.7" width="2.5" height="4.7" fill="#ef4d4d"/>
<line x1="386.3" y1="264.6" x2="386.3" y2="282.0" stroke="#ef4d4d" stroke-width="0.9"/>
<rect x="385.1" y="266.7" width="2.5" height="13.0" fill="#ef4d4d"/>
<line x1="389.1" y1="276.7" x2="389.1" y2="293.2" stroke="#ef4d4d" stroke-width="0.9"/>
<rect x="387.9" y="280.9" width="2.5" height="10.7" fill="#ef4d4d"/>
<line x1="391.9" y1="285.0" x2="391.9" y2="290.5" stroke="#10998a" stroke-width="0.9"/>
<rect x="390.7" y="285.2" width="2.5" height="5.3" fill="#10998a"/>
<line x1="394.7" y1="279.7" x2="394.7" y2="292.7" stroke="#ef4d4d" stroke-width="0.9"/>
<rect x="393.5" y="283.6" width="2.5" height="9.0" fill="#ef4d4d"/>
<line x1="397.5" y1="292.1" x2="397.5" y2="298.8" stroke="#ef4d4d" stroke-width="0.9"/>
<rect x="396.3" y="292.3" width="2.5" height="4.0" fill="#ef4d4d"/>
<line x1="400.3" y1="296.4" x2="400.3" y2="310.8" stroke="#ef4d4d" stroke-width="0.9"/>
<rect x="399.1" y="296.7" width="2.5" height="12.0" fill="#ef4d4d"/>
<line x1="403.1" y1="302.8" x2="403.1" y2="307.0" stroke="#ef4d4d" stroke-width="0.9"/>
<rect x="401.9" y="306.0" width="2.5" height="1.0" fill="#ef4d4d"/>
<line x1="405.9" y1="299.6" x2="405.9" y2="311.5" stroke="#10998a" stroke-width="0.9"/>
<rect x="404.7" y="300.1" width="2.5" height="7.1" fill="#10998a"/>
<line x1="408.7" y1="298.3" x2="408.7" y2="302.8" stroke="#ef4d4d" stroke-width="0.9"/>
<rect x="407.5" y="299.7" width="2.5" height="1.1" fill="#ef4d4d"/>
<line x1="411.5" y1="299.1" x2="411.5" y2="300.2" stroke="#10998a" stroke-width="0.9"/>
<rect x="410.3" y="299.5" width="2.5" height="1.0" fill="#10998a"/>
<line x1="414.3" y1="297.5" x2="414.3" y2="306.0" stroke="#ef4d4d" stroke-width="0.9"/>
<rect x="413.1" y="299.8" width="2.5" height="1.8" fill="#ef4d4d"/>
<line x1="417.1" y1="293.4" x2="417.1" y2="301.3" stroke="#10998a" stroke-width="0.9"/>
<rect x="415.9" y="297.0" width="2.5" height="3.9" fill="#10998a"/>
<line x1="419.9" y1="292.4" x2="419.9" y2="298.4" stroke="#10998a" stroke-width="0.9"/>
<rect x="418.7" y="294.1" width="2.5" height="3.1" fill="#10998a"/>
<line x1="422.7" y1="290.2" x2="422.7" y2="299.9" stroke="#ef4d4d" stroke-width="0.9"/>
<rect x="421.5" y="293.7" width="2.5" height="5.8" fill="#ef4d4d"/>
<line x1="425.5" y1="289.6" x2="425.5" y2="297.9" stroke="#10998a" stroke-width="0.9"/>
<rect x="424.3" y="292.0" width="2.5" height="5.1" fill="#10998a"/>
<line x1="428.3" y1="290.5" x2="428.3" y2="298.4" stroke="#10998a" stroke-width="0.9"/>
<rect x="427.1" y="291.5" width="2.5" height="2.8" fill="#10998a"/>
<line x1="431.1" y1="290.8" x2="431.1" y2="299.4" stroke="#ef4d4d" stroke-width="0.9"/>
<rect x="429.9" y="292.5" width="2.5" height="6.5" fill="#ef4d4d"/>
<line x1="433.9" y1="294.1" x2="433.9" y2="308.0" stroke="#ef4d4d" stroke-width="0.9"/>
<rect x="432.7" y="297.8" width="2.5" height="6.9" fill="#ef4d4d"/>
<line x1="436.7" y1="305.9" x2="436.7" y2="306.9" stroke="#10998a" stroke-width="0.9"/>
<rect x="435.5" y="306.6" width="2.5" height="1.0" fill="#10998a"/>
<line x1="439.5" y1="304.0" x2="439.5" y2="314.9" stroke="#ef4d4d" stroke-width="0.9"/>
<rect x="438.3" y="306.6" width="2.5" height="7.4" fill="#ef4d4d"/>
<line x1="442.3" y1="312.3" x2="442.3" y2="328.0" stroke="#ef4d4d" stroke-width="0.9"/>
<rect x="441.1" y="314.8" width="2.5" height="7.7" fill="#ef4d4d"/>
<line x1="445.1" y1="321.6" x2="445.1" y2="336.9" stroke="#ef4d4d" stroke-width="0.9"/>
<rect x="443.9" y="322.4" width="2.5" height="13.1" fill="#ef4d4d"/>
<line x1="447.9" y1="332.7" x2="447.9" y2="344.1" stroke="#ef4d4d" stroke-width="0.9"/>
<rect x="446.7" y="334.9" width="2.5" height="7.7" fill="#ef4d4d"/>
<line x1="450.7" y1="335.1" x2="450.7" y2="343.3" stroke="#10998a" stroke-width="0.9"/>
<rect x="449.5" y="339.4" width="2.5" height="3.9" fill="#10998a"/>
<line x1="453.5" y1="340.1" x2="453.5" y2="345.0" stroke="#ef4d4d" stroke-width="0.9"/>
<rect x="452.3" y="340.2" width="2.5" height="3.8" fill="#ef4d4d"/>
<line x1="456.3" y1="343.5" x2="456.3" y2="363.8" stroke="#ef4d4d" stroke-width="0.9"/>
<rect x="455.1" y="345.1" width="2.5" height="11.4" fill="#ef4d4d"/>
<line x1="459.1" y1="355.2" x2="459.1" y2="357.9" stroke="#ef4d4d" stroke-width="0.9"/>
<rect x="457.9" y="357.3" width="2.5" height="1.0" fill="#ef4d4d"/>
<line x1="461.9" y1="355.1" x2="461.9" y2="365.2" stroke="#ef4d4d" stroke-width="0.9"/>
<rect x="460.7" y="359.5" width="2.5" height="1.8" fill="#ef4d4d"/>
<line x1="464.7" y1="346.5" x2="464.7" y2="361.2" stroke="#10998a" stroke-width="0.9"/>
<rect x="463.5" y="350.2" width="2.5" height="9.5" fill="#10998a"/>
<line x1="467.5" y1="345.2" x2="467.5" y2="353.4" stroke="#10998a" stroke-width="0.9"/>
<rect x="466.3" y="345.6" width="2.5" height="4.3" fill="#10998a"/>
<line x1="470.3" y1="338.3" x2="470.3" y2="345.1" stroke="#10998a" stroke-width="0.9"/>
<rect x="469.1" y="338.6" width="2.5" height="5.6" fill="#10998a"/>
<line x1="473.1" y1="330.6" x2="473.1" y2="338.8" stroke="#10998a" stroke-width="0.9"/>
<rect x="471.9" y="333.5" width="2.5" height="4.8" fill="#10998a"/>
<line x1="475.9" y1="323.0" x2="475.9" y2="335.5" stroke="#10998a" stroke-width="0.9"/>
<rect x="474.7" y="325.5" width="2.5" height="9.6" fill="#10998a"/>
<line x1="478.7" y1="318.1" x2="478.7" y2="325.9" stroke="#10998a" stroke-width="0.9"/>
<rect x="477.5" y="321.1" width="2.5" height="3.7" fill="#10998a"/>
<line x1="481.5" y1="319.8" x2="481.5" y2="331.5" stroke="#ef4d4d" stroke-width="0.9"/>
<rect x="480.3" y="321.7" width="2.5" height="3.1" fill="#ef4d4d"/>
<line x1="484.3" y1="313.2" x2="484.3" y2="330.8" stroke="#10998a" stroke-width="0.9"/>
<rect x="483.1" y="322.1" width="2.5" height="2.7" fill="#10998a"/>
<line x1="487.1" y1="320.9" x2="487.1" y2="323.6" stroke="#10998a" stroke-width="0.9"/>
<rect x="485.9" y="321.4" width="2.5" height="1.0" fill="#10998a"/>
<line x1="489.9" y1="320.4" x2="489.9" y2="324.2" stroke="#10998a" stroke-width="0.9"/>
<rect x="488.7" y="320.6" width="2.5" height="1.2" fill="#10998a"/>
<line x1="492.7" y1="316.8" x2="492.7" y2="323.0" stroke="#10998a" stroke-width="0.9"/>
<rect x="491.5" y="316.8" width="2.5" height="2.9" fill="#10998a"/>
<line x1="495.5" y1="315.4" x2="495.5" y2="326.7" stroke="#ef4d4d" stroke-width="0.9"/>
<rect x="494.3" y="317.4" width="2.5" height="7.2" fill="#ef4d4d"/>
<line x1="498.3" y1="323.3" x2="498.3" y2="336.9" stroke="#ef4d4d" stroke-width="0.9"/>
<rect x="497.1" y="325.0" width="2.5" height="11.6" fill="#ef4d4d"/>
<line x1="501.1" y1="333.6" x2="501.1" y2="338.2" stroke="#10998a" stroke-width="0.9"/>
<rect x="499.9" y="335.1" width="2.5" height="1.5" fill="#10998a"/>
<line x1="503.9" y1="333.0" x2="503.9" y2="353.4" stroke="#ef4d4d" stroke-width="0.9"/>
<rect x="502.7" y="335.8" width="2.5" height="15.5" fill="#ef4d4d"/>
<line x1="506.7" y1="350.3" x2="506.7" y2="386.8" stroke="#ef4d4d" stroke-width="0.9"/>
<rect x="505.5" y="350.8" width="2.5" height="35.5" fill="#ef4d4d"/>
<line x1="509.5" y1="383.7" x2="509.5" y2="394.3" stroke="#ef4d4d" stroke-width="0.9"/>
<rect x="508.3" y="386.6" width="2.5" height="5.5" fill="#ef4d4d"/>
<line x1="512.3" y1="380.4" x2="512.3" y2="396.7" stroke="#10998a" stroke-width="0.9"/>
<rect x="511.1" y="386.0" width="2.5" height="6.0" fill="#10998a"/>
<line x1="515.1" y1="381.9" x2="515.1" y2="388.8" stroke="#ef4d4d" stroke-width="0.9"/>
<rect x="513.9" y="384.3" width="2.5" height="4.1" fill="#ef4d4d"/>
<line x1="517.9" y1="383.6" x2="517.9" y2="389.4" stroke="#10998a" stroke-width="0.9"/>
<rect x="516.7" y="388.4" width="2.5" height="1.0" fill="#10998a"/>
<line x1="520.7" y1="384.5" x2="520.7" y2="399.4" stroke="#ef4d4d" stroke-width="0.9"/>
<rect x="519.5" y="387.8" width="2.5" height="7.2" fill="#ef4d4d"/>
<line x1="523.5" y1="378.1" x2="523.5" y2="396.7" stroke="#10998a" stroke-width="0.9"/>
<rect x="522.3" y="383.5" width="2.5" height="11.8" fill="#10998a"/>
<line x1="526.3" y1="380.8" x2="526.3" y2="387.9" stroke="#10998a" stroke-width="0.9"/>
<rect x="525.1" y="382.4" width="2.5" height="3.3" fill="#10998a"/>
<line x1="529.1" y1="368.4" x2="529.1" y2="386.7" stroke="#10998a" stroke-width="0.9"/>
<rect x="527.9" y="371.7" width="2.5" height="11.3" fill="#10998a"/>
<line x1="531.9" y1="355.8" x2="531.9" y2="372.6" stroke="#10998a" stroke-width="0.9"/>
<rect x="530.7" y="360.0" width="2.5" height="12.0" fill="#10998a"/>
<line x1="534.7" y1="346.2" x2="534.7" y2="360.7" stroke="#10998a" stroke-width="0.9"/>
<rect x="533.5" y="346.5" width="2.5" height="13.9" fill="#10998a"/>
<line x1="537.5" y1="334.8" x2="537.5" y2="348.8" stroke="#10998a" stroke-width="0.9"/>
<rect x="536.3" y="339.2" width="2.5" height="8.4" fill="#10998a"/>
<line x1="540.3" y1="338.2" x2="540.3" y2="343.1" stroke="#ef4d4d" stroke-width="0.9"/>
<rect x="539.1" y="338.4" width="2.5" height="2.2" fill="#ef4d4d"/>
<line x1="543.1" y1="340.0" x2="543.1" y2="340.9" stroke="#10998a" stroke-width="0.9"/>
<rect x="541.9" y="340.2" width="2.5" height="1.0" fill="#10998a"/>
<line x1="545.9" y1="326.9" x2="545.9" y2="341.4" stroke="#10998a" stroke-width="0.9"/>
<rect x="544.7" y="329.1" width="2.5" height="11.1" fill="#10998a"/>
<line x1="548.7" y1="327.0" x2="548.7" y2="335.0" stroke="#ef4d4d" stroke-width="0.9"/>
<rect x="547.5" y="327.1" width="2.5" height="7.1" fill="#ef4d4d"/>
<line x1="551.5" y1="334.2" x2="551.5" y2="341.5" stroke="#ef4d4d" stroke-width="0.9"/>
<rect x="550.3" y="335.1" width="2.5" height="4.5" fill="#ef4d4d"/>
<line x1="554.3" y1="335.8" x2="554.3" y2="344.1" stroke="#ef4d4d" stroke-width="0.9"/>
<rect x="553.1" y="338.0" width="2.5" height="6.0" fill="#ef4d4d"/>
<line x1="557.1" y1="342.8" x2="557.1" y2="348.2" stroke="#ef4d4d" stroke-width="0.9"/>
<rect x="555.9" y="343.8" width="2.5" height="2.2" fill="#ef4d4d"/>
<line x1="559.9" y1="342.2" x2="559.9" y2="355.3" stroke="#10998a" stroke-width="0.9"/>
<rect x="558.7" y="344.4" width="2.5" height="3.4" fill="#10998a"/>
<line x1="562.7" y1="339.7" x2="562.7" y2="347.7" stroke="#10998a" stroke-width="0.9"/>
<rect x="561.5" y="340.3" width="2.5" height="4.1" fill="#10998a"/>
<line x1="565.5" y1="335.5" x2="565.5" y2="340.7" stroke="#10998a" stroke-width="0.9"/>
<rect x="564.3" y="337.5" width="2.5" height="1.0" fill="#10998a"/>
<line x1="568.3" y1="339.4" x2="568.3" y2="343.1" stroke="#ef4d4d" stroke-width="0.9"/>
<rect x="567.1" y="340.1" width="2.5" height="2.2" fill="#ef4d4d"/>
<line x1="571.1" y1="332.5" x2="571.1" y2="346.6" stroke="#10998a" stroke-width="0.9"/>
<rect x="569.9" y="337.8" width="2.5" height="4.8" fill="#10998a"/>
<line x1="573.9" y1="325.0" x2="573.9" y2="335.6" stroke="#10998a" stroke-width="0.9"/>
<rect x="572.7" y="327.6" width="2.5" height="6.8" fill="#10998a"/>
<line x1="576.7" y1="323.8" x2="576.7" y2="330.6" stroke="#10998a" stroke-width="0.9"/>
<rect x="575.5" y="323.8" width="2.5" height="6.0" fill="#10998a"/>
<line x1="579.5" y1="299.3" x2="579.5" y2="325.0" stroke="#10998a" stroke-width="0.9"/>
<rect x="578.3" y="301.3" width="2.5" height="21.6" fill="#10998a"/>
<line x1="582.3" y1="298.5" x2="582.3" y2="304.3" stroke="#10998a" stroke-width="0.9"/>
<rect x="581.1" y="299.0" width="2.5" height="2.3" fill="#10998a"/>
<line x1="585.1" y1="296.8" x2="585.1" y2="299.8" stroke="#ef4d4d" stroke-width="0.9"/>
<rect x="583.9" y="298.9" width="2.5" height="1.0" fill="#ef4d4d"/>
<line x1="587.9" y1="290.6" x2="587.9" y2="303.8" stroke="#10998a" stroke-width="0.9"/>
<rect x="586.7" y="292.0" width="2.5" height="8.7" fill="#10998a"/>
<line x1="590.7" y1="287.4" x2="590.7" y2="298.9" stroke="#ef4d4d" stroke-width="0.9"/>
<rect x="589.5" y="292.4" width="2.5" height="1.4" fill="#ef4d4d"/>
<line x1="593.5" y1="287.2" x2="593.5" y2="295.1" stroke="#10998a" stroke-width="0.9"/>
<rect x="592.3" y="287.8" width="2.5" height="6.8" fill="#10998a"/>
<line x1="596.3" y1="283.7" x2="596.3" y2="289.7" stroke="#10998a" stroke-width="0.9"/>
<rect x="595.1" y="283.8" width="2.5" height="4.9" fill="#10998a"/>
<line x1="599.1" y1="281.7" x2="599.1" y2="294.9" stroke="#ef4d4d" stroke-width="0.9"/>
<rect x="597.9" y="283.9" width="2.5" height="9.8" fill="#ef4d4d"/>
<line x1="601.9" y1="290.2" x2="601.9" y2="298.6" stroke="#ef4d4d" stroke-width="0.9"/>
<rect x="600.6" y="291.6" width="2.5" height="4.8" fill="#ef4d4d"/>
<line x1="604.7" y1="295.6" x2="604.7" y2="310.5" stroke="#ef4d4d" stroke-width="0.9"/>
<rect x="603.4" y="296.0" width="2.5" height="9.4" fill="#ef4d4d"/>
<line x1="607.5" y1="298.7" x2="607.5" y2="306.3" stroke="#10998a" stroke-width="0.9"/>
<rect x="606.2" y="304.0" width="2.5" height="2.1" fill="#10998a"/>
<line x1="610.3" y1="302.7" x2="610.3" y2="316.7" stroke="#ef4d4d" stroke-width="0.9"/>
<rect x="609.0" y="303.3" width="2.5" height="13.1" fill="#ef4d4d"/>
<line x1="613.1" y1="309.9" x2="613.1" y2="321.3" stroke="#ef4d4d" stroke-width="0.9"/>
<rect x="611.8" y="317.6" width="2.5" height="1.6" fill="#ef4d4d"/>
<line x1="615.9" y1="316.3" x2="615.9" y2="321.7" stroke="#ef4d4d" stroke-width="0.9"/>
<rect x="614.6" y="319.6" width="2.5" height="1.0" fill="#ef4d4d"/>
<line x1="618.7" y1="318.1" x2="618.7" y2="332.7" stroke="#ef4d4d" stroke-width="0.9"/>
<rect x="617.4" y="319.8" width="2.5" height="7.9" fill="#ef4d4d"/>
<line x1="621.5" y1="323.9" x2="621.5" y2="333.5" stroke="#ef4d4d" stroke-width="0.9"/>
<rect x="620.2" y="326.2" width="2.5" height="5.5" fill="#ef4d4d"/>
<line x1="624.3" y1="325.9" x2="624.3" y2="333.8" stroke="#10998a" stroke-width="0.9"/>
<rect x="623.0" y="326.2" width="2.5" height="6.4" fill="#10998a"/>
<line x1="627.1" y1="327.7" x2="627.1" y2="329.4" stroke="#ef4d4d" stroke-width="0.9"/>
<rect x="625.8" y="327.7" width="2.5" height="1.0" fill="#ef4d4d"/>
<line x1="629.9" y1="316.4" x2="629.9" y2="336.4" stroke="#10998a" stroke-width="0.9"/>
<rect x="628.6" y="320.5" width="2.5" height="7.9" fill="#10998a"/>
<line x1="632.7" y1="313.5" x2="632.7" y2="319.9" stroke="#10998a" stroke-width="0.9"/>
<rect x="631.4" y="313.6" width="2.5" height="5.0" fill="#10998a"/>
<line x1="635.5" y1="302.8" x2="635.5" y2="317.6" stroke="#10998a" stroke-width="0.9"/>
<rect x="634.2" y="303.7" width="2.5" height="10.6" fill="#10998a"/>
<line x1="638.3" y1="283.7" x2="638.3" y2="308.0" stroke="#10998a" stroke-width="0.9"/>
<rect x="637.0" y="287.2" width="2.5" height="17.5" fill="#10998a"/>
<line x1="641.1" y1="267.9" x2="641.1" y2="286.6" stroke="#10998a" stroke-width="0.9"/>
<rect x="639.8" y="268.7" width="2.5" height="16.6" fill="#10998a"/>
<line x1="643.9" y1="265.2" x2="643.9" y2="270.6" stroke="#ef4d4d" stroke-width="0.9"/>
<rect x="642.6" y="268.0" width="2.5" height="1.3" fill="#ef4d4d"/>
<line x1="646.7" y1="268.6" x2="646.7" y2="271.5" stroke="#ef4d4d" stroke-width="0.9"/>
<rect x="645.4" y="268.6" width="2.5" height="1.0" fill="#ef4d4d"/>
<line x1="649.5" y1="264.3" x2="649.5" y2="272.1" stroke="#10998a" stroke-width="0.9"/>
<rect x="648.2" y="266.8" width="2.5" height="4.0" fill="#10998a"/>
<line x1="652.3" y1="238.2" x2="652.3" y2="268.8" stroke="#10998a" stroke-width="0.9"/>
<rect x="651.0" y="240.5" width="2.5" height="28.2" fill="#10998a"/>
<line x1="655.1" y1="237.6" x2="655.1" y2="246.8" stroke="#ef4d4d" stroke-width="0.9"/>
<rect x="653.8" y="239.1" width="2.5" height="7.6" fill="#ef4d4d"/>
<line x1="657.9" y1="235.3" x2="657.9" y2="253.0" stroke="#10998a" stroke-width="0.9"/>
<rect x="656.6" y="239.2" width="2.5" height="7.8" fill="#10998a"/>
<line x1="660.7" y1="237.9" x2="660.7" y2="276.8" stroke="#ef4d4d" stroke-width="0.9"/>
<rect x="659.4" y="239.4" width="2.5" height="36.0" fill="#ef4d4d"/>
<line x1="663.5" y1="272.4" x2="663.5" y2="277.8" stroke="#ef4d4d" stroke-width="0.9"/>
<rect x="662.2" y="275.2" width="2.5" height="1.3" fill="#ef4d4d"/>
<line x1="666.3" y1="274.2" x2="666.3" y2="281.2" stroke="#10998a" stroke-width="0.9"/>
<rect x="665.0" y="274.6" width="2.5" height="1.1" fill="#10998a"/>
<line x1="669.1" y1="270.8" x2="669.1" y2="278.0" stroke="#ef4d4d" stroke-width="0.9"/>
<rect x="667.8" y="274.4" width="2.5" height="1.0" fill="#ef4d4d"/>
<line x1="671.9" y1="263.8" x2="671.9" y2="278.1" stroke="#10998a" stroke-width="0.9"/>
<rect x="670.6" y="265.1" width="2.5" height="11.3" fill="#10998a"/>
<line x1="674.7" y1="260.2" x2="674.7" y2="268.3" stroke="#10998a" stroke-width="0.9"/>
<rect x="673.4" y="261.5" width="2.5" height="5.0" fill="#10998a"/>
<line x1="677.5" y1="260.7" x2="677.5" y2="270.3" stroke="#ef4d4d" stroke-width="0.9"/>
<rect x="676.2" y="261.6" width="2.5" height="6.9" fill="#ef4d4d"/>
<line x1="680.3" y1="252.9" x2="680.3" y2="273.0" stroke="#10998a" stroke-width="0.9"/>
<rect x="679.0" y="254.1" width="2.5" height="15.0" fill="#10998a"/>
<line x1="683.1" y1="249.6" x2="683.1" y2="256.7" stroke="#10998a" stroke-width="0.9"/>
<rect x="681.8" y="252.8" width="2.5" height="1.4" fill="#10998a"/>
<line x1="685.9" y1="250.0" x2="685.9" y2="271.4" stroke="#ef4d4d" stroke-width="0.9"/>
<rect x="684.6" y="252.5" width="2.5" height="14.7" fill="#ef4d4d"/>
<line x1="688.7" y1="264.8" x2="688.7" y2="284.4" stroke="#ef4d4d" stroke-width="0.9"/>
<rect x="687.4" y="267.6" width="2.5" height="9.4" fill="#ef4d4d"/>
<line x1="691.5" y1="268.1" x2="691.5" y2="280.8" stroke="#10998a" stroke-width="0.9"/>
<rect x="690.2" y="270.1" width="2.5" height="8.0" fill="#10998a"/>
<line x1="694.3" y1="266.2" x2="694.3" y2="272.3" stroke="#ef4d4d" stroke-width="0.9"/>
<rect x="693.0" y="267.6" width="2.5" height="3.1" fill="#ef4d4d"/>
<line x1="697.1" y1="249.9" x2="697.1" y2="270.3" stroke="#10998a" stroke-width="0.9"/>
<rect x="695.8" y="256.8" width="2.5" height="13.3" fill="#10998a"/>
<line x1="699.9" y1="245.3" x2="699.9" y2="261.3" stroke="#10998a" stroke-width="0.9"/>
<rect x="698.6" y="250.8" width="2.5" height="6.8" fill="#10998a"/>
<line x1="702.7" y1="246.9" x2="702.7" y2="255.0" stroke="#ef4d4d" stroke-width="0.9"/>
<rect x="701.4" y="250.9" width="2.5" height="3.7" fill="#ef4d4d"/>
<line x1="705.5" y1="249.1" x2="705.5" y2="257.8" stroke="#ef4d4d" stroke-width="0.9"/>
<rect x="704.2" y="252.9" width="2.5" height="2.5" fill="#ef4d4d"/>
<line x1="708.3" y1="254.7" x2="708.3" y2="263.1" stroke="#ef4d4d" stroke-width="0.9"/>
<rect x="707.0" y="256.3" width="2.5" height="4.7" fill="#ef4d4d"/>
<line x1="711.1" y1="256.3" x2="711.1" y2="263.0" stroke="#10998a" stroke-width="0.9"/>
<rect x="709.8" y="259.2" width="2.5" height="1.5" fill="#10998a"/>
<line x1="713.9" y1="256.2" x2="713.9" y2="275.0" stroke="#ef4d4d" stroke-width="0.9"/>
<rect x="712.6" y="256.7" width="2.5" height="16.7" fill="#ef4d4d"/>
<line x1="716.7" y1="271.5" x2="716.7" y2="281.0" stroke="#ef4d4d" stroke-width="0.9"/>
<rect x="715.4" y="272.5" width="2.5" height="8.4" fill="#ef4d4d"/>
<line x1="719.5" y1="271.8" x2="719.5" y2="283.0" stroke="#10998a" stroke-width="0.9"/>
<rect x="718.2" y="275.5" width="2.5" height="5.0" fill="#10998a"/>
<line x1="722.3" y1="271.3" x2="722.3" y2="277.2" stroke="#10998a" stroke-width="0.9"/>
<rect x="721.0" y="271.8" width="2.5" height="3.1" fill="#10998a"/>
<line x1="725.1" y1="260.0" x2="725.1" y2="274.7" stroke="#10998a" stroke-width="0.9"/>
<rect x="723.8" y="261.0" width="2.5" height="11.9" fill="#10998a"/>
<line x1="727.9" y1="258.9" x2="727.9" y2="262.5" stroke="#ef4d4d" stroke-width="0.9"/>
<rect x="726.6" y="262.0" width="2.5" height="1.0" fill="#ef4d4d"/>
<line x1="730.7" y1="260.8" x2="730.7" y2="269.4" stroke="#10998a" stroke-width="0.9"/>
<rect x="729.4" y="261.9" width="2.5" height="1.0" fill="#10998a"/>
<line x1="733.5" y1="253.4" x2="733.5" y2="263.1" stroke="#10998a" stroke-width="0.9"/>
<rect x="732.2" y="253.4" width="2.5" height="8.8" fill="#10998a"/>
<line x1="736.3" y1="226.1" x2="736.3" y2="255.4" stroke="#10998a" stroke-width="0.9"/>
<rect x="735.0" y="229.3" width="2.5" height="23.7" fill="#10998a"/>
<line x1="739.1" y1="217.8" x2="739.1" y2="230.8" stroke="#10998a" stroke-width="0.9"/>
<rect x="737.8" y="221.5" width="2.5" height="7.2" fill="#10998a"/>
<line x1="741.9" y1="218.9" x2="741.9" y2="226.1" stroke="#ef4d4d" stroke-width="0.9"/>
<rect x="740.6" y="222.2" width="2.5" height="2.8" fill="#ef4d4d"/>
<line x1="744.7" y1="222.8" x2="744.7" y2="246.0" stroke="#ef4d4d" stroke-width="0.9"/>
<rect x="743.4" y="225.2" width="2.5" height="20.7" fill="#ef4d4d"/>
<line x1="747.5" y1="240.5" x2="747.5" y2="244.6" stroke="#10998a" stroke-width="0.9"/>
<rect x="746.2" y="242.4" width="2.5" height="1.7" fill="#10998a"/>
<line x1="750.3" y1="234.7" x2="750.3" y2="244.9" stroke="#10998a" stroke-width="0.9"/>
<rect x="749.0" y="237.0" width="2.5" height="5.5" fill="#10998a"/>
<line x1="753.1" y1="235.4" x2="753.1" y2="237.7" stroke="#10998a" stroke-width="0.9"/>
<rect x="751.8" y="236.4" width="2.5" height="1.2" fill="#10998a"/>
<line x1="755.9" y1="213.1" x2="755.9" y2="241.6" stroke="#10998a" stroke-width="0.9"/>
<rect x="754.6" y="213.7" width="2.5" height="22.3" fill="#10998a"/>
<line x1="758.7" y1="210.6" x2="758.7" y2="214.3" stroke="#ef4d4d" stroke-width="0.9"/>
<rect x="757.4" y="213.7" width="2.5" height="1.0" fill="#ef4d4d"/>
<line x1="761.5" y1="207.4" x2="761.5" y2="226.7" stroke="#ef4d4d" stroke-width="0.9"/>
<rect x="760.2" y="214.0" width="2.5" height="4.3" fill="#ef4d4d"/>
<line x1="764.3" y1="211.1" x2="764.3" y2="225.0" stroke="#10998a" stroke-width="0.9"/>
<rect x="763.0" y="214.3" width="2.5" height="2.3" fill="#10998a"/>
<line x1="767.1" y1="212.7" x2="767.1" y2="216.3" stroke="#ef4d4d" stroke-width="0.9"/>
<rect x="765.8" y="214.4" width="2.5" height="1.0" fill="#ef4d4d"/>
<line x1="769.9" y1="210.3" x2="769.9" y2="229.7" stroke="#ef4d4d" stroke-width="0.9"/>
<rect x="768.6" y="213.1" width="2.5" height="15.5" fill="#ef4d4d"/>
<line x1="772.7" y1="223.5" x2="772.7" y2="229.5" stroke="#10998a" stroke-width="0.9"/>
<rect x="771.4" y="225.6" width="2.5" height="2.4" fill="#10998a"/>
<line x1="775.5" y1="217.9" x2="775.5" y2="229.7" stroke="#ef4d4d" stroke-width="0.9"/>
<rect x="774.2" y="225.0" width="2.5" height="4.5" fill="#ef4d4d"/>
<line x1="778.3" y1="227.5" x2="778.3" y2="236.2" stroke="#ef4d4d" stroke-width="0.9"/>
<rect x="777.0" y="230.3" width="2.5" height="5.7" fill="#ef4d4d"/>
<line x1="781.1" y1="226.1" x2="781.1" y2="242.6" stroke="#10998a" stroke-width="0.9"/>
<rect x="779.8" y="230.1" width="2.5" height="6.1" fill="#10998a"/>
<line x1="783.9" y1="224.8" x2="783.9" y2="233.0" stroke="#10998a" stroke-width="0.9"/>
<rect x="782.6" y="227.5" width="2.5" height="1.0" fill="#10998a"/>
<line x1="786.7" y1="226.4" x2="786.7" y2="241.1" stroke="#ef4d4d" stroke-width="0.9"/>
<rect x="785.4" y="228.4" width="2.5" height="10.5" fill="#ef4d4d"/>
<line x1="789.5" y1="232.1" x2="789.5" y2="247.2" stroke="#ef4d4d" stroke-width="0.9"/>
<rect x="788.2" y="237.9" width="2.5" height="6.1" fill="#ef4d4d"/>
<line x1="792.3" y1="243.8" x2="792.3" y2="254.0" stroke="#ef4d4d" stroke-width="0.9"/>
<rect x="791.0" y="246.0" width="2.5" height="5.7" fill="#ef4d4d"/>
<line x1="795.1" y1="246.7" x2="795.1" y2="254.0" stroke="#ef4d4d" stroke-width="0.9"/>
<rect x="793.8" y="250.9" width="2.5" height="2.9" fill="#ef4d4d"/>
<line x1="797.9" y1="253.2" x2="797.9" y2="260.3" stroke="#ef4d4d" stroke-width="0.9"/>
<rect x="796.6" y="255.1" width="2.5" height="4.5" fill="#ef4d4d"/>
<line x1="800.7" y1="256.8" x2="800.7" y2="261.5" stroke="#10998a" stroke-width="0.9"/>
<rect x="799.4" y="257.9" width="2.5" height="1.4" fill="#10998a"/>
<line x1="803.5" y1="244.5" x2="803.5" y2="258.1" stroke="#10998a" stroke-width="0.9"/>
<rect x="802.2" y="248.6" width="2.5" height="7.1" fill="#10998a"/>
<line x1="806.3" y1="246.2" x2="806.3" y2="249.0" stroke="#10998a" stroke-width="0.9"/>
<rect x="805.0" y="248.0" width="2.5" height="1.0" fill="#10998a"/>
<line x1="809.1" y1="225.4" x2="809.1" y2="247.8" stroke="#10998a" stroke-width="0.9"/>
<rect x="807.8" y="232.2" width="2.5" height="15.1" fill="#10998a"/>
<line x1="811.9" y1="228.9" x2="811.9" y2="233.3" stroke="#10998a" stroke-width="0.9"/>
<rect x="810.6" y="229.3" width="2.5" height="3.4" fill="#10998a"/>
<line x1="814.7" y1="227.0" x2="814.7" y2="231.9" stroke="#ef4d4d" stroke-width="0.9"/>
<rect x="813.4" y="229.3" width="2.5" height="1.0" fill="#ef4d4d"/>
<line x1="817.5" y1="225.8" x2="817.5" y2="232.5" stroke="#10998a" stroke-width="0.9"/>
<rect x="816.2" y="227.7" width="2.5" height="3.7" fill="#10998a"/>
<line x1="820.3" y1="221.9" x2="820.3" y2="240.3" stroke="#ef4d4d" stroke-width="0.9"/>
<rect x="819.0" y="226.9" width="2.5" height="7.8" fill="#ef4d4d"/>
<line x1="823.1" y1="229.6" x2="823.1" y2="237.8" stroke="#10998a" stroke-width="0.9"/>
<rect x="821.8" y="233.4" width="2.5" height="1.8" fill="#10998a"/>
<line x1="825.9" y1="230.1" x2="825.9" y2="234.9" stroke="#ef4d4d" stroke-width="0.9"/>
<rect x="824.6" y="232.1" width="2.5" height="1.3" fill="#ef4d4d"/>
<line x1="828.7" y1="229.8" x2="828.7" y2="234.7" stroke="#10998a" stroke-width="0.9"/>
<rect x="827.4" y="232.6" width="2.5" height="1.0" fill="#10998a"/>
<line x1="831.5" y1="225.8" x2="831.5" y2="233.7" stroke="#10998a" stroke-width="0.9"/>
<rect x="830.2" y="230.6" width="2.5" height="1.1" fill="#10998a"/>
<line x1="834.3" y1="229.0" x2="834.3" y2="236.7" stroke="#ef4d4d" stroke-width="0.9"/>
<rect x="833.0" y="232.8" width="2.5" height="2.8" fill="#ef4d4d"/>
<line x1="837.1" y1="230.8" x2="837.1" y2="241.9" stroke="#ef4d4d" stroke-width="0.9"/>
<rect x="835.8" y="236.0" width="2.5" height="3.9" fill="#ef4d4d"/>
<line x1="839.9" y1="238.4" x2="839.9" y2="255.9" stroke="#ef4d4d" stroke-width="0.9"/>
<rect x="838.6" y="240.0" width="2.5" height="15.3" fill="#ef4d4d"/>
<line x1="842.7" y1="249.5" x2="842.7" y2="256.8" stroke="#10998a" stroke-width="0.9"/>
<rect x="841.4" y="254.1" width="2.5" height="2.5" fill="#10998a"/>
<line x1="845.5" y1="252.5" x2="845.5" y2="258.3" stroke="#ef4d4d" stroke-width="0.9"/>
<rect x="844.2" y="253.5" width="2.5" height="2.3" fill="#ef4d4d"/>
<line x1="848.3" y1="255.4" x2="848.3" y2="272.4" stroke="#ef4d4d" stroke-width="0.9"/>
<rect x="847.0" y="256.4" width="2.5" height="11.0" fill="#ef4d4d"/>
<line x1="851.1" y1="264.2" x2="851.1" y2="271.1" stroke="#10998a" stroke-width="0.9"/>
<rect x="849.8" y="264.3" width="2.5" height="3.2" fill="#10998a"/>
<line x1="853.9" y1="255.2" x2="853.9" y2="264.7" stroke="#10998a" stroke-width="0.9"/>
<rect x="852.6" y="255.4" width="2.5" height="7.8" fill="#10998a"/>
<line x1="856.7" y1="253.0" x2="856.7" y2="264.5" stroke="#ef4d4d" stroke-width="0.9"/>
<rect x="855.4" y="255.7" width="2.5" height="4.2" fill="#ef4d4d"/>
<line x1="859.5" y1="257.5" x2="859.5" y2="266.5" stroke="#ef4d4d" stroke-width="0.9"/>
<rect x="858.2" y="258.1" width="2.5" height="5.9" fill="#ef4d4d"/>
<line x1="862.3" y1="262.8" x2="862.3" y2="276.1" stroke="#ef4d4d" stroke-width="0.9"/>
<rect x="861.0" y="263.7" width="2.5" height="8.6" fill="#ef4d4d"/>
<line x1="865.1" y1="271.6" x2="865.1" y2="288.3" stroke="#ef4d4d" stroke-width="0.9"/>
<rect x="863.8" y="273.7" width="2.5" height="14.0" fill="#ef4d4d"/>
<line x1="867.9" y1="287.5" x2="867.9" y2="299.8" stroke="#ef4d4d" stroke-width="0.9"/>
<rect x="866.6" y="287.7" width="2.5" height="9.8" fill="#ef4d4d"/>
<line x1="870.7" y1="295.0" x2="870.7" y2="307.5" stroke="#ef4d4d" stroke-width="0.9"/>
<rect x="869.4" y="295.0" width="2.5" height="9.6" fill="#ef4d4d"/>
<line x1="873.5" y1="280.1" x2="873.5" y2="311.0" stroke="#10998a" stroke-width="0.9"/>
<rect x="872.2" y="280.6" width="2.5" height="23.5" fill="#10998a"/>
<line x1="876.3" y1="262.5" x2="876.3" y2="287.1" stroke="#10998a" stroke-width="0.9"/>
<rect x="875.0" y="267.0" width="2.5" height="12.5" fill="#10998a"/>
<line x1="879.1" y1="263.4" x2="879.1" y2="273.3" stroke="#10998a" stroke-width="0.9"/>
<rect x="877.8" y="265.4" width="2.5" height="1.9" fill="#10998a"/>
<line x1="881.9" y1="247.9" x2="881.9" y2="267.2" stroke="#10998a" stroke-width="0.9"/>
<rect x="880.6" y="250.3" width="2.5" height="15.7" fill="#10998a"/>
<line x1="884.7" y1="245.5" x2="884.7" y2="255.8" stroke="#ef4d4d" stroke-width="0.9"/>
<rect x="883.4" y="251.7" width="2.5" height="1.0" fill="#ef4d4d"/>
<line x1="887.5" y1="244.4" x2="887.5" y2="257.3" stroke="#10998a" stroke-width="0.9"/>
<rect x="886.2" y="250.2" width="2.5" height="2.5" fill="#10998a"/>
<line x1="890.3" y1="247.0" x2="890.3" y2="250.8" stroke="#10998a" stroke-width="0.9"/>
<rect x="889.0" y="247.9" width="2.5" height="2.8" fill="#10998a"/>
<line x1="893.1" y1="244.8" x2="893.1" y2="258.8" stroke="#ef4d4d" stroke-width="0.9"/>
<rect x="891.8" y="246.5" width="2.5" height="7.3" fill="#ef4d4d"/>
<line x1="895.9" y1="250.5" x2="895.9" y2="268.3" stroke="#ef4d4d" stroke-width="0.9"/>
<rect x="894.6" y="254.4" width="2.5" height="9.4" fill="#ef4d4d"/>
<line x1="898.7" y1="256.0" x2="898.7" y2="267.3" stroke="#ef4d4d" stroke-width="0.9"/>
<rect x="897.4" y="261.9" width="2.5" height="2.9" fill="#ef4d4d"/>
<line x1="901.5" y1="261.8" x2="901.5" y2="272.2" stroke="#ef4d4d" stroke-width="0.9"/>
<rect x="900.2" y="263.5" width="2.5" height="7.3" fill="#ef4d4d"/>
<line x1="904.3" y1="255.7" x2="904.3" y2="275.8" stroke="#10998a" stroke-width="0.9"/>
<rect x="903.0" y="259.1" width="2.5" height="11.9" fill="#10998a"/>
<line x1="907.1" y1="244.6" x2="907.1" y2="259.6" stroke="#10998a" stroke-width="0.9"/>
<rect x="905.8" y="246.4" width="2.5" height="11.3" fill="#10998a"/>
<line x1="909.9" y1="246.5" x2="909.9" y2="252.5" stroke="#ef4d4d" stroke-width="0.9"/>
<rect x="908.6" y="246.6" width="2.5" height="3.7" fill="#ef4d4d"/>
<line x1="912.7" y1="248.9" x2="912.7" y2="253.2" stroke="#ef4d4d" stroke-width="0.9"/>
<rect x="911.4" y="251.3" width="2.5" height="1.5" fill="#ef4d4d"/>
<line x1="915.5" y1="252.5" x2="915.5" y2="260.9" stroke="#ef4d4d" stroke-width="0.9"/>
<rect x="914.2" y="254.4" width="2.5" height="4.5" fill="#ef4d4d"/>
<line x1="918.3" y1="255.9" x2="918.3" y2="271.2" stroke="#ef4d4d" stroke-width="0.9"/>
<rect x="917.0" y="258.6" width="2.5" height="9.1" fill="#ef4d4d"/>
<line x1="921.1" y1="256.3" x2="921.1" y2="270.0" stroke="#10998a" stroke-width="0.9"/>
<rect x="919.8" y="261.4" width="2.5" height="6.4" fill="#10998a"/>
<line x1="923.9" y1="247.6" x2="923.9" y2="263.2" stroke="#10998a" stroke-width="0.9"/>
<rect x="922.6" y="249.8" width="2.5" height="12.9" fill="#10998a"/>
<line x1="926.7" y1="248.6" x2="926.7" y2="253.1" stroke="#ef4d4d" stroke-width="0.9"/>
<rect x="925.4" y="249.5" width="2.5" height="1.8" fill="#ef4d4d"/>
<line x1="929.5" y1="250.5" x2="929.5" y2="260.1" stroke="#10998a" stroke-width="0.9"/>
<rect x="928.2" y="251.2" width="2.5" height="1.0" fill="#10998a"/>
<line x1="932.3" y1="245.5" x2="932.3" y2="254.3" stroke="#ef4d4d" stroke-width="0.9"/>
<rect x="931.0" y="251.3" width="2.5" height="2.7" fill="#ef4d4d"/>
<line x1="935.1" y1="251.6" x2="935.1" y2="265.9" stroke="#ef4d4d" stroke-width="0.9"/>
<rect x="933.8" y="255.1" width="2.5" height="5.9" fill="#ef4d4d"/>
<line x1="937.9" y1="262.9" x2="937.9" y2="267.3" stroke="#ef4d4d" stroke-width="0.9"/>
<rect x="936.6" y="263.3" width="2.5" height="1.8" fill="#ef4d4d"/>
<line x1="940.7" y1="260.5" x2="940.7" y2="272.8" stroke="#ef4d4d" stroke-width="0.9"/>
<rect x="939.4" y="264.0" width="2.5" height="5.9" fill="#ef4d4d"/>
<line x1="943.5" y1="268.9" x2="943.5" y2="298.0" stroke="#ef4d4d" stroke-width="0.9"/>
<rect x="942.2" y="270.7" width="2.5" height="21.9" fill="#ef4d4d"/>
<line x1="946.3" y1="289.4" x2="946.3" y2="294.4" stroke="#ef4d4d" stroke-width="0.9"/>
<rect x="945.0" y="292.0" width="2.5" height="1.0" fill="#ef4d4d"/>
<line x1="949.1" y1="291.7" x2="949.1" y2="297.2" stroke="#ef4d4d" stroke-width="0.9"/>
<rect x="947.8" y="292.3" width="2.5" height="4.4" fill="#ef4d4d"/>
<line x1="951.9" y1="294.4" x2="951.9" y2="300.6" stroke="#ef4d4d" stroke-width="0.9"/>
<rect x="950.6" y="297.4" width="2.5" height="1.0" fill="#ef4d4d"/>
<line x1="954.7" y1="298.5" x2="954.7" y2="303.4" stroke="#10998a" stroke-width="0.9"/>
<rect x="953.4" y="298.9" width="2.5" height="1.0" fill="#10998a"/>
<line x1="957.5" y1="298.4" x2="957.5" y2="305.0" stroke="#ef4d4d" stroke-width="0.9"/>
<rect x="956.2" y="298.5" width="2.5" height="1.8" fill="#ef4d4d"/>
<line x1="960.3" y1="297.7" x2="960.3" y2="310.6" stroke="#ef4d4d" stroke-width="0.9"/>
<rect x="959.0" y="301.1" width="2.5" height="4.4" fill="#ef4d4d"/>
<line x1="963.1" y1="300.8" x2="963.1" y2="307.2" stroke="#10998a" stroke-width="0.9"/>
<rect x="961.8" y="302.5" width="2.5" height="1.7" fill="#10998a"/>
<line x1="965.9" y1="298.7" x2="965.9" y2="304.4" stroke="#ef4d4d" stroke-width="0.9"/>
<rect x="964.6" y="301.2" width="2.5" height="1.0" fill="#ef4d4d"/>
<line x1="968.7" y1="298.8" x2="968.7" y2="303.9" stroke="#10998a" stroke-width="0.9"/>
<rect x="967.4" y="299.8" width="2.5" height="1.6" fill="#10998a"/>
<line x1="971.5" y1="296.1" x2="971.5" y2="299.4" stroke="#10998a" stroke-width="0.9"/>
<rect x="970.2" y="297.2" width="2.5" height="1.0" fill="#10998a"/>
<line x1="974.3" y1="290.9" x2="974.3" y2="298.3" stroke="#10998a" stroke-width="0.9"/>
<rect x="973.0" y="292.8" width="2.5" height="5.3" fill="#10998a"/>
<line x1="977.1" y1="274.2" x2="977.1" y2="294.2" stroke="#10998a" stroke-width="0.9"/>
<rect x="975.8" y="279.3" width="2.5" height="14.0" fill="#10998a"/>
<line x1="979.9" y1="278.3" x2="979.9" y2="284.9" stroke="#ef4d4d" stroke-width="0.9"/>
<rect x="978.6" y="280.9" width="2.5" height="2.1" fill="#ef4d4d"/>
<line x1="982.7" y1="276.2" x2="982.7" y2="286.2" stroke="#10998a" stroke-width="0.9"/>
<rect x="981.4" y="276.5" width="2.5" height="6.3" fill="#10998a"/>
<line x1="985.5" y1="257.3" x2="985.5" y2="279.2" stroke="#10998a" stroke-width="0.9"/>
<rect x="984.2" y="259.0" width="2.5" height="18.9" fill="#10998a"/>
<line x1="988.3" y1="244.1" x2="988.3" y2="262.5" stroke="#10998a" stroke-width="0.9"/>
<rect x="987.0" y="248.7" width="2.5" height="10.5" fill="#10998a"/>
<line x1="991.1" y1="240.7" x2="991.1" y2="250.2" stroke="#10998a" stroke-width="0.9"/>
<rect x="989.8" y="243.1" width="2.5" height="4.5" fill="#10998a"/>
<line x1="993.9" y1="239.8" x2="993.9" y2="247.8" stroke="#ef4d4d" stroke-width="0.9"/>
<rect x="992.6" y="244.2" width="2.5" height="1.0" fill="#ef4d4d"/>
<line x1="996.7" y1="239.5" x2="996.7" y2="247.4" stroke="#ef4d4d" stroke-width="0.9"/>
<rect x="995.4" y="244.3" width="2.5" height="1.0" fill="#ef4d4d"/>
<line x1="999.5" y1="239.8" x2="999.5" y2="251.8" stroke="#10998a" stroke-width="0.9"/>
<rect x="998.2" y="240.9" width="2.5" height="4.4" fill="#10998a"/>
<line x1="1002.3" y1="236.5" x2="1002.3" y2="250.0" stroke="#ef4d4d" stroke-width="0.9"/>
<rect x="1001.0" y="239.4" width="2.5" height="6.7" fill="#ef4d4d"/>
<line x1="1005.1" y1="243.5" x2="1005.1" y2="254.2" stroke="#ef4d4d" stroke-width="0.9"/>
<rect x="1003.8" y="245.2" width="2.5" height="4.8" fill="#ef4d4d"/>
<line x1="1007.9" y1="249.7" x2="1007.9" y2="258.4" stroke="#ef4d4d" stroke-width="0.9"/>
<rect x="1006.6" y="250.7" width="2.5" height="2.8" fill="#ef4d4d"/>
<line x1="1010.7" y1="238.5" x2="1010.7" y2="254.5" stroke="#10998a" stroke-width="0.9"/>
<rect x="1009.4" y="241.6" width="2.5" height="11.3" fill="#10998a"/>
<line x1="1013.5" y1="236.5" x2="1013.5" y2="247.5" stroke="#10998a" stroke-width="0.9"/>
<rect x="1012.2" y="239.8" width="2.5" height="1.0" fill="#10998a"/>
<line x1="1016.3" y1="240.6" x2="1016.3" y2="256.9" stroke="#ef4d4d" stroke-width="0.9"/>
<rect x="1015.0" y="241.2" width="2.5" height="12.6" fill="#ef4d4d"/>
<line x1="1019.1" y1="246.5" x2="1019.1" y2="254.9" stroke="#10998a" stroke-width="0.9"/>
<rect x="1017.8" y="250.4" width="2.5" height="3.6" fill="#10998a"/>
<line x1="1021.9" y1="248.2" x2="1021.9" y2="266.3" stroke="#ef4d4d" stroke-width="0.9"/>
<rect x="1020.6" y="251.8" width="2.5" height="13.0" fill="#ef4d4d"/>
<line x1="1024.7" y1="258.3" x2="1024.7" y2="266.9" stroke="#10998a" stroke-width="0.9"/>
<rect x="1023.4" y="263.2" width="2.5" height="2.4" fill="#10998a"/>
<line x1="1027.5" y1="243.9" x2="1027.5" y2="266.5" stroke="#10998a" stroke-width="0.9"/>
<rect x="1026.2" y="245.8" width="2.5" height="17.4" fill="#10998a"/>
<line x1="1030.3" y1="235.5" x2="1030.3" y2="251.8" stroke="#10998a" stroke-width="0.9"/>
<rect x="1029.0" y="236.7" width="2.5" height="10.4" fill="#10998a"/>
<line x1="1033.1" y1="230.5" x2="1033.1" y2="244.2" stroke="#10998a" stroke-width="0.9"/>
<rect x="1031.8" y="237.2" width="2.5" height="1.0" fill="#10998a"/>
<line x1="1035.9" y1="237.0" x2="1035.9" y2="241.8" stroke="#ef4d4d" stroke-width="0.9"/>
<rect x="1034.6" y="237.4" width="2.5" height="1.2" fill="#ef4d4d"/>
<line x1="1038.7" y1="232.9" x2="1038.7" y2="241.1" stroke="#10998a" stroke-width="0.9"/>
<rect x="1037.4" y="237.2" width="2.5" height="1.5" fill="#10998a"/>
<line x1="1041.5" y1="221.6" x2="1041.5" y2="243.1" stroke="#10998a" stroke-width="0.9"/>
<rect x="1040.2" y="222.4" width="2.5" height="15.5" fill="#10998a"/>
<line x1="1044.3" y1="220.8" x2="1044.3" y2="236.6" stroke="#ef4d4d" stroke-width="0.9"/>
<rect x="1043.0" y="222.0" width="2.5" height="9.0" fill="#ef4d4d"/>
<line x1="1047.1" y1="224.9" x2="1047.1" y2="235.5" stroke="#10998a" stroke-width="0.9"/>
<rect x="1045.8" y="228.7" width="2.5" height="2.8" fill="#10998a"/>
<line x1="1049.9" y1="223.3" x2="1049.9" y2="243.4" stroke="#ef4d4d" stroke-width="0.9"/>
<rect x="1048.6" y="227.3" width="2.5" height="15.3" fill="#ef4d4d"/>
<line x1="1052.7" y1="209.5" x2="1052.7" y2="248.8" stroke="#10998a" stroke-width="0.9"/>
<rect x="1051.4" y="211.5" width="2.5" height="33.7" fill="#10998a"/>
<polyline points="61.5,149.6 64.3,148.5 67.1,148.9 69.9,147.6 72.7,146.8 75.5,147.5 78.3,147.9 81.1,148.6 83.9,149.3 86.7,150.5 89.5,151.7 92.3,154.9 95.1,159.6 97.9,161.9 100.7,165.4 103.5,166.9 106.3,166.0 109.1,163.9 111.9,160.8 114.7,157.7 117.5,155.0 120.3,151.9 123.1,149.0 125.9,146.8 128.7,145.6 131.5,147.9 134.3,151.2 137.1,155.7 139.9,160.5 142.7,167.8 145.5,173.2 148.3,179.5 151.1,185.8 153.9,193.3 156.7,200.3 159.5,208.2 162.3,215.7 165.1,223.4 167.9,231.1 170.7,234.4 173.5,236.2 176.3,236.4 179.1,236.6 181.9,237.1 184.7,235.7 187.5,235.7 190.3,236.9 193.1,239.7 195.9,243.5 198.7,247.8 201.5,252.2 204.3,255.0 207.1,255.0 209.9,252.0 212.7,240.6 215.5,228.1 218.3,215.6 221.1,207.9 223.9,204.5 226.7,208.9 229.5,214.4 232.3,220.4 235.1,226.2 237.9,234.0 240.7,243.6 243.5,251.1 246.3,256.8 249.1,263.3 251.9,267.6 254.7,270.5 257.5,272.4 260.3,274.8 263.1,274.8 265.9,276.2 268.7,278.2 271.5,280.2 274.3,283.9 277.1,285.1 279.9,285.9 282.7,285.1 285.5,282.4 288.3,279.3 291.1,276.4 293.9,273.3 296.7,267.2 299.5,263.6 302.3,258.9 305.1,256.9 307.9,255.9 310.7,252.0 313.5,249.5 316.3,248.8 319.1,247.3 321.9,244.0 324.7,240.1 327.5,237.5 330.3,235.9 333.1,234.8 335.9,236.3 338.7,239.6 341.5,245.3 344.3,251.2 347.1,254.8 349.9,258.4 352.7,261.8 355.5,263.1 358.3,263.2 361.1,264.5 363.9,264.5 366.7,263.0 369.5,261.9 372.3,262.1 375.1,263.6 377.9,264.0 380.7,263.7 383.5,264.3 386.3,267.4 389.1,272.2 391.9,274.8 394.7,278.4 397.5,282.0 400.3,287.3 403.1,291.2 405.9,293.0 408.7,294.6 411.5,295.6 414.3,296.8 417.1,296.8 419.9,296.3 422.7,296.9 425.5,295.9 428.3,295.0 431.1,295.8 433.9,297.6 436.7,299.4 439.5,302.3 442.3,306.3 445.1,312.2 447.9,318.3 450.7,322.5 453.5,326.8 456.3,332.7 459.1,337.7 461.9,342.5 464.7,344.0 467.5,344.3 470.3,343.2 473.1,341.2 475.9,338.1 478.7,334.7 481.5,332.7 484.3,330.6 487.1,328.8 489.9,327.1 492.7,325.1 495.5,325.0 498.3,327.3 501.1,328.9 503.9,333.4 506.7,343.9 509.5,353.6 512.3,360.1 515.1,365.7 517.9,370.2 520.7,375.2 523.5,376.9 526.3,378.0 529.1,376.7 531.9,373.4 534.7,368.0 537.5,362.2 540.3,357.9 543.1,354.4 545.9,349.3 548.7,346.3 551.5,345.0 554.3,344.8 557.1,345.0 559.9,344.9 562.7,344.0 565.5,342.7 568.3,342.6 571.1,341.6 573.9,338.8 576.7,335.8 579.5,328.9 582.3,322.9 585.1,318.2 587.9,313.0 590.7,309.1 593.5,304.9 596.3,300.7 599.1,299.3 601.9,298.7 604.7,300.0 607.5,300.8 610.3,304.0 613.1,307.0 615.9,309.6 618.7,313.2 621.5,316.9 624.3,318.8 627.1,320.7 629.9,320.6 632.7,319.2 635.5,316.1 638.3,310.3 641.1,302.0 643.9,295.5 646.7,290.2 649.5,285.5 652.3,276.5 655.1,270.5 657.9,264.3 660.7,266.5 663.5,268.5 666.3,269.7 669.1,270.9 671.9,269.7 674.7,268.1 677.5,268.2 680.3,265.3 683.1,262.8 685.9,263.7 688.7,266.4 691.5,267.1 694.3,267.8 697.1,265.6 699.9,262.6 702.7,261.0 705.5,259.9 708.3,260.1 711.1,259.9 713.9,262.7 716.7,266.3 719.5,268.1 722.3,268.9 725.1,267.3 727.9,266.3 730.7,265.4 733.5,263.0 736.3,256.3 739.1,249.3 741.9,244.5 744.7,244.7 747.5,244.3 750.3,242.8 753.1,241.5 755.9,236.0 758.7,231.6 761.5,229.0 764.3,226.0 767.1,223.9 769.9,224.8 772.7,225.0 775.5,225.9 778.3,227.9 781.1,228.3 783.9,228.2 786.7,230.3 789.5,233.1 792.3,236.8 795.1,240.2 797.9,244.1 800.7,246.8 803.5,247.2 806.3,247.3 809.1,244.3 811.9,241.3 814.7,239.0 817.5,236.8 820.3,236.3 823.1,235.8 825.9,235.3 828.7,234.7 831.5,233.9 834.3,234.3 837.1,235.4 839.9,239.4 842.7,242.3 845.5,245.0 848.3,249.5 851.1,252.5 853.9,253.1 856.7,254.4 859.5,256.4 862.3,259.6 865.1,265.2 867.9,271.6 870.7,278.3 873.5,278.7 876.3,276.4 879.1,274.2 881.9,269.4 884.7,266.0 887.5,262.9 890.3,259.9 893.1,258.7 895.9,259.7 898.7,260.7 901.5,262.7 904.3,262.0 907.1,258.9 909.9,257.2 912.7,256.3 915.5,256.8 918.3,259.0 921.1,259.5 923.9,257.5 926.7,256.3 929.5,255.3 932.3,255.0 935.1,256.2 937.9,258.0 940.7,260.4 943.5,266.8 946.3,272.0 949.1,276.9 951.9,281.2 954.7,284.7 957.5,287.9 960.3,291.4 963.1,293.6 965.9,295.3 968.7,296.2 971.5,296.4 974.3,295.6 977.1,292.4 979.9,290.5 982.7,287.7 985.5,282.0 988.3,275.3 991.1,268.9 993.9,264.1 996.7,260.3 999.5,256.4 1002.3,254.3 1005.1,253.5 1007.9,253.5 1010.7,251.1 1013.5,248.8 1016.3,249.8 1019.1,249.9 1021.9,252.9 1024.7,255.0 1027.5,253.1 1030.3,249.8 1033.1,247.3 1035.9,245.6 1038.7,243.9 1041.5,239.6 1044.3,237.9 1047.1,236.0 1049.9,237.4 1052.7,232.2" fill="none" stroke="#f5a040" stroke-width="1.0" stroke-opacity="0.75" stroke-linejoin="round"/>
<polyline points="61.5,149.6 64.3,149.1 67.1,149.2 69.9,148.6 72.7,148.1 75.5,148.3 78.3,148.5 81.1,148.7 83.9,149.0 86.7,149.6 89.5,150.2 92.3,151.8 95.1,154.2 97.9,155.8 100.7,157.9 103.5,159.3 106.3,159.5 109.1,159.2 111.9,158.2 114.7,157.0 117.5,155.9 120.3,154.4 123.1,152.8 125.9,151.5 128.7,150.5 131.5,151.1 134.3,152.3 137.1,154.3 139.9,156.6 142.7,160.2 145.5,163.4 148.3,167.1 151.1,171.1 153.9,175.9 156.7,180.6 159.5,186.0 162.3,191.5 165.1,197.2 167.9,203.0 170.7,207.1 173.5,210.4 176.3,212.8 179.1,215.1 181.9,217.3 184.7,218.4 187.5,220.0 190.3,221.9 193.1,224.6 195.9,227.7 198.7,231.1 201.5,234.6 204.3,237.5 207.1,239.1 209.9,239.2 212.7,235.2 215.5,230.0 218.3,224.1 221.1,219.8 223.9,217.2 226.7,218.1 229.5,219.7 232.3,221.9 235.1,224.4 237.9,228.2 240.7,233.0 243.5,237.4 246.3,241.2 249.1,245.6 251.9,249.2 254.7,252.2 257.5,254.7 260.3,257.4 263.1,259.0 265.9,261.1 268.7,263.4 271.5,265.6 274.3,268.6 277.1,270.6 279.9,272.2 282.7,273.1 285.5,273.0 288.3,272.4 291.1,271.7 293.9,270.8 296.7,268.2 299.5,266.5 302.3,264.1 305.1,262.7 307.9,261.7 310.7,259.4 313.5,257.6 316.3,256.6 319.1,255.1 321.9,253.0 324.7,250.3 327.5,248.3 330.3,246.5 333.1,245.1 335.9,244.8 338.7,245.6 341.5,247.6 344.3,250.1 347.1,251.8 349.9,253.7 352.7,255.7 355.5,256.8 358.3,257.5 361.1,258.6 363.9,259.1 366.7,258.9 369.5,258.8 372.3,259.2 375.1,260.1 377.9,260.6 380.7,260.8 383.5,261.3 386.3,263.0 389.1,265.6 391.9,267.4 394.7,269.7 397.5,272.1 400.3,275.4 403.1,278.3 405.9,280.3 408.7,282.1 411.5,283.7 414.3,285.3 417.1,286.4 419.9,287.1 422.7,288.2 425.5,288.6 428.3,288.8 431.1,289.7 433.9,291.1 436.7,292.5 439.5,294.5 442.3,297.0 445.1,300.5 447.9,304.3 450.7,307.5 453.5,310.8 456.3,315.0 459.1,318.9 461.9,322.7 464.7,325.2 467.5,327.1 470.3,328.1 473.1,328.6 475.9,328.3 478.7,327.7 481.5,327.4 484.3,326.9 487.1,326.4 489.9,325.9 492.7,325.1 495.5,325.0 498.3,326.1 501.1,326.9 503.9,329.1 506.7,334.3 509.5,339.6 512.3,343.8 515.1,347.8 517.9,351.5 520.7,355.5 523.5,358.0 526.3,360.3 529.1,361.3 531.9,361.2 534.7,359.8 537.5,358.0 540.3,356.4 543.1,354.9 545.9,352.6 548.7,350.9 551.5,349.9 554.3,349.3 557.1,349.0 559.9,348.6 562.7,347.9 565.5,346.9 568.3,346.5 571.1,345.7 573.9,344.1 576.7,342.2 579.5,338.5 582.3,334.9 585.1,331.7 587.9,328.1 590.7,324.9 593.5,321.6 596.3,318.1 599.1,315.9 601.9,314.1 604.7,313.4 607.5,312.5 610.3,312.9 613.1,313.4 615.9,314.0 618.7,315.3 621.5,316.8 624.3,317.6 627.1,318.6 629.9,318.8 632.7,318.3 635.5,317.0 638.3,314.3 641.1,310.1 643.9,306.4 646.7,303.0 649.5,299.7 652.3,294.3 655.1,290.0 657.9,285.4 660.7,284.5 663.5,283.7 666.3,282.9 669.1,282.2 671.9,280.7 674.7,278.9 677.5,278.0 680.3,275.8 683.1,273.7 685.9,273.1 688.7,273.5 691.5,273.2 694.3,272.9 697.1,271.5 699.9,269.6 702.7,268.2 705.5,267.1 708.3,266.5 711.1,265.9 713.9,266.5 716.7,267.8 719.5,268.5 722.3,268.8 725.1,268.1 727.9,267.6 730.7,267.1 733.5,265.8 736.3,262.5 739.1,258.8 741.9,255.7 744.7,254.8 747.5,253.7 750.3,252.2 753.1,250.7 755.9,247.4 758.7,244.3 761.5,242.0 764.3,239.5 767.1,237.3 769.9,236.5 772.7,235.5 775.5,234.9 778.3,235.0 781.1,234.6 783.9,234.0 786.7,234.4 789.5,235.3 792.3,236.8 795.1,238.3 797.9,240.2 800.7,241.8 803.5,242.5 806.3,243.0 809.1,242.0 811.9,240.8 814.7,239.8 817.5,238.7 820.3,238.4 823.1,237.9 825.9,237.5 828.7,237.1 831.5,236.5 834.3,236.4 837.1,236.7 839.9,238.4 842.7,239.8 845.5,241.3 848.3,243.7 851.1,245.5 853.9,246.4 856.7,247.7 859.5,249.2 862.3,251.3 865.1,254.6 867.9,258.5 870.7,262.7 873.5,264.3 876.3,264.5 879.1,264.6 881.9,263.3 884.7,262.3 887.5,261.2 890.3,260.0 893.1,259.5 895.9,259.9 898.7,260.3 901.5,261.3 904.3,261.1 907.1,259.7 909.9,258.9 912.7,258.3 915.5,258.4 918.3,259.2 921.1,259.4 923.9,258.5 926.7,257.9 929.5,257.3 932.3,257.0 935.1,257.3 937.9,258.0 940.7,259.1 943.5,262.2 946.3,264.9 949.1,267.8 951.9,270.6 954.7,273.2 957.5,275.6 960.3,278.4 963.1,280.6 965.9,282.5 968.7,284.1 971.5,285.3 974.3,285.9 977.1,285.3 979.9,285.1 982.7,284.3 985.5,282.0 988.3,279.0 991.1,275.7 993.9,272.9 996.7,270.4 999.5,267.7 1002.3,265.8 1005.1,264.3 1007.9,263.3 1010.7,261.4 1013.5,259.4 1016.3,258.9 1019.1,258.1 1021.9,258.7 1024.7,259.1 1027.5,257.9 1030.3,256.0 1033.1,254.3 1035.9,252.9 1038.7,251.4 1041.5,248.8 1044.3,247.2 1047.1,245.5 1049.9,245.2 1052.7,242.2" fill="none" stroke="#5fae62" stroke-width="1.0" stroke-opacity="0.75" stroke-linejoin="round"/>
<polyline points="85.6,129.0 87.6,129.3 89.6,129.6 91.6,129.8 93.6,130.1 95.6,130.4 97.6,130.9 99.6,131.5 101.6,132.0 103.6,132.5 105.6,133.1 107.6,133.6 109.6,134.1 111.6,134.7 113.6,135.2 115.6,135.8 117.6,136.3 119.6,136.8 121.6,137.4 123.6,137.9 125.6,138.4 127.6,139.0 129.6,139.5 131.6,140.1 133.6,140.6 135.6,141.1 137.6,141.7 139.6,142.2 141.6,142.7 143.6,143.3 145.6,143.8 147.6,144.4 149.6,144.9 151.6,145.5 153.6,146.1 155.6,146.6 157.6,147.2 159.6,147.8 161.6,148.4 163.6,148.9 165.6,149.5 167.6,150.1 169.6,150.7 171.6,151.3 173.6,151.8 175.6,152.4 177.6,153.0 179.6,153.6 181.6,154.1 183.6,154.7 185.6,155.3 187.6,155.9 189.6,156.5 191.6,157.0 193.6,157.6 195.6,158.2 197.6,158.8 199.6,159.4 201.6,159.9 203.6,160.5 205.6,161.1 207.6,161.6 209.6,162.2 211.6,162.7 213.6,163.3 215.6,163.8 217.6,164.3 219.6,164.9 221.6,165.4 223.6,165.9 225.6,166.4 227.6,166.9 229.6,167.4 231.6,167.9 233.6,168.4 235.6,168.9 237.6,169.5 239.6,170.0 241.6,170.5 243.6,171.0 245.6,171.5 247.6,172.0 249.6,172.5 251.6,173.0 253.6,173.5 255.6,174.0 257.6,174.5 259.6,175.1 261.6,175.6 263.6,176.1 265.6,176.6 267.6,177.1 269.6,177.6 271.6,178.1 273.6,178.6 275.6,179.1 277.6,179.6 279.6,180.2 281.6,180.7 283.6,181.2 285.6,181.7 287.6,182.1 289.6,182.6 291.6,183.1 293.6,183.6 295.6,184.1 297.6,184.6 299.6,185.0 301.6,185.5 303.6,186.0 305.6,186.4 307.6,186.9 309.6,187.4 311.6,187.8 313.6,188.3 315.6,188.8 317.6,189.2 319.6,189.7 321.6,190.2 323.6,190.7 325.6,191.1 327.6,191.6 329.6,192.1 331.6,192.5 333.6,193.1 335.6,193.6 337.6,194.1 339.6,194.7 341.6,195.3 343.6,195.9 345.6,196.5 347.6,197.2 349.6,197.9 351.6,198.6 353.6,199.3 355.6,200.0 357.6,200.7 359.6,201.4 361.6,202.1 363.6,202.8 365.6,203.5 367.6,204.2 369.6,204.9 371.6,205.6 373.6,206.3 375.6,207.0 377.6,207.7 379.6,208.4 381.6,209.1 383.6,209.8 385.6,210.5 387.6,211.2 389.6,211.9 391.6,212.6 393.6,213.3 395.6,214.0 397.6,214.7 399.6,215.4 401.6,216.1 403.6,216.8 405.6,217.5 407.6,218.2 409.6,218.9 411.6,219.6 413.6,220.3 415.6,221.0 417.6,221.8 419.6,222.5 421.6,223.3 423.6,224.1 425.6,225.0 427.6,225.8 429.6,226.7 431.6,227.6 433.6,228.5 435.6,229.5 437.6,230.4 439.6,231.3 441.6,232.3 443.6,233.2 445.6,234.1 447.6,235.1 449.6,236.0 451.6,236.9 453.6,237.9 455.6,238.8 457.6,239.7 459.6,240.7 461.6,241.6 463.6,242.5 465.6,243.5 467.6,244.4 469.6,245.3 471.6,246.2 473.6,247.2 475.6,248.1 477.6,249.1 479.6,250.0 481.6,251.0 483.6,251.9 485.6,252.9 487.6,253.9 489.6,254.8 491.6,255.8 493.6,256.8 495.6,257.8 497.6,258.8 499.6,259.8 501.6,260.8 503.6,261.8 505.6,262.8 507.6,263.8 509.6,264.8 511.6,265.8 513.6,266.8 515.6,267.8 517.6,268.8 519.6,269.7 521.6,270.7 523.6,271.6 525.6,272.4 527.6,273.3 529.6,274.1 531.6,274.9 533.6,275.7 535.6,276.4 537.6,277.2 539.6,277.9 541.6,278.6 543.6,279.3 545.6,280.0 547.6,280.8 549.6,281.5 551.6,282.2 553.6,282.9 555.6,283.6 557.6,284.4 559.6,285.1 561.6,285.8 563.6,286.5 565.6,287.2 567.6,288.0 569.6,288.7 571.6,289.3 573.6,289.9 575.6,290.5 577.6,291.0 579.6,291.6 581.6,292.0 583.6,292.5 585.6,292.9 587.6,293.2 589.6,293.6 591.6,293.9 593.6,294.2 595.6,294.5 597.6,294.8 599.6,295.2 601.6,295.5 603.6,295.8 605.6,296.1 607.6,296.5 609.6,296.8 611.6,297.1 613.6,297.4 615.6,297.7 617.6,298.1 619.6,298.4 621.6,298.7 623.6,299.0 625.6,299.4 627.6,299.7 629.6,300.1 631.6,300.4 633.6,300.7 635.6,300.9 637.6,301.2 639.6,301.3 641.6,301.5 643.6,301.6 645.6,301.7 647.6,301.7 649.6,301.7 651.6,301.6 653.6,301.5 655.6,301.5 657.6,301.4 659.6,301.3 661.6,301.3 663.6,301.2 665.6,301.1 667.6,301.1 669.6,301.0 671.6,300.9 673.6,300.9 675.6,300.8 677.6,300.7 679.6,300.7 681.6,300.6 683.6,300.5 685.6,300.5 687.6,300.4 689.6,300.3 691.6,300.3 693.6,300.2 695.6,300.2 697.6,300.2 699.6,300.1 701.6,300.1 703.6,300.1 705.6,300.1 707.6,300.1 709.6,300.1 711.6,300.2 713.6,300.2 715.6,300.2 717.6,300.2 719.6,300.3 721.6,300.3 723.6,300.3 725.6,300.3 727.6,300.4 729.6,300.4 731.6,300.4 733.6,300.4 735.6,300.5 737.6,300.5 739.6,300.5 741.6,300.5 743.6,300.6 745.6,300.6 747.6,300.6 749.6,300.5 751.6,300.5 753.6,300.4 755.6,300.4 757.6,300.3 759.6,300.2 761.6,300.0 763.6,299.9 765.6,299.8 767.6,299.6 769.6,299.5 771.6,299.3 773.6,299.2 775.6,299.0 777.6,298.9 779.6,298.7 781.6,298.6 783.6,298.4 785.6,298.3 787.6,298.1 789.6,298.0 791.6,297.8 793.6,297.7 795.6,297.5 797.6,297.4 799.6,297.2 801.6,297.0 803.6,296.8 805.6,296.6 807.6,296.4 809.6,296.2 811.6,296.0 813.6,295.7 815.6,295.5 817.6,295.2 819.6,294.9 821.6,294.6 823.6,294.4 825.6,294.1 827.6,293.8 829.6,293.5 831.6,293.2 833.6,293.0 835.6,292.7 837.6,292.4 839.6,292.1 841.6,291.9 843.6,291.6 845.6,291.3 847.6,291.0 849.6,290.7 851.6,290.5 853.6,290.2 855.6,289.9 857.6,289.5 859.6,289.2 861.6,288.9 863.6,288.5 865.6,288.2 867.6,287.8 869.6,287.5 871.6,287.1 873.6,286.7 875.6,286.4 877.6,286.0 879.6,285.6 881.6,285.3 883.6,284.9 885.6,284.6 887.6,284.3 889.6,283.9 891.6,283.6 893.6,283.2 895.6,282.9 897.6,282.6 899.6,282.2 901.6,281.9 903.6,281.6 905.6,281.2 907.6,280.9 909.6,280.5 911.6,280.1 913.6,279.7 915.6,279.3 917.6,278.8 919.6,278.3 921.6,277.8 923.6,277.3 925.6,276.7 927.6,276.2 929.6,275.6 931.6,275.0 933.6,274.4 935.6,273.9 937.6,273.4 939.6,272.9 941.6,272.5 943.6,272.2 945.6,271.8 947.6,271.6 949.6,271.3 951.6,271.1 953.6,271.0 955.6,270.8 957.6,270.7 959.6,270.5 961.6,270.3 963.6,270.1 965.6,269.9 967.6,269.6 969.6,269.4 971.6,269.1 973.6,268.8 975.6,268.5 977.6,268.2 979.6,267.8 981.6,267.5 983.6,267.1 985.6,266.8 987.6,266.4 989.6,266.1 991.6,265.8 993.6,265.5 995.6,265.2 997.6,264.9 999.6,264.6 1001.6,264.4 1003.6,264.1 1005.6,263.9 1007.6,263.6 1009.6,263.4 1011.6,263.1 1013.6,262.8 1015.6,262.6 1017.6,262.3 1019.6,262.0 1021.6,261.7 1023.6,261.4 1025.6,261.1 1027.6,260.8 1029.6,260.5 1031.6,260.2 1033.6,259.9 1035.6,259.5 1037.6,259.2 1039.6,258.8 1041.6,258.4 1043.6,258.1 1045.6,257.9 1047.6,257.7 1049.6,257.5 1051.6,257.3 1053.6,257.1" fill="none" stroke="#3d5bd6" stroke-width="2.2" stroke-opacity="1" stroke-linejoin="round"/>
<polyline points="60.0,151.4 62.0,151.4 64.0,151.4 66.0,151.3 68.0,151.3 70.0,151.2 72.0,151.2 74.0,151.2 76.0,151.1 78.0,151.0 80.0,151.0 82.0,151.0 84.0,150.9 86.0,150.8 88.0,150.8 90.0,150.8 92.0,150.7 94.0,150.7 96.0,150.6 98.0,150.6 100.0,150.6 102.0,150.6 104.0,150.6 106.0,150.6 108.0,150.7 110.0,150.7 112.0,150.7 114.0,150.8 116.0,150.8 118.0,150.9 120.0,151.0 122.0,151.3 124.0,151.7 126.0,152.3 128.0,153.1 130.0,154.1 132.0,155.2 134.0,156.4 136.0,157.7 138.0,159.0 140.0,160.4 142.0,161.9 144.0,163.4 146.0,165.0 148.0,166.7 150.0,168.3 152.0,170.0 154.0,171.7 156.0,173.3 158.0,175.0 160.0,176.7 162.0,178.3 164.0,180.0 166.0,181.6 168.0,183.2 170.0,184.8 172.0,186.3 174.0,187.8 176.0,189.2 178.0,190.6 180.0,192.0 182.0,193.4 184.0,194.8 186.0,196.2 188.0,197.6 190.0,199.0 192.0,200.3 194.0,201.7 196.0,203.1 198.0,204.5 200.0,205.9 202.0,207.3 204.0,208.7 206.0,210.1 208.0,211.6 210.0,213.0 212.0,214.5 214.0,216.1 216.0,217.7 218.0,219.2 220.0,220.9 222.0,222.5 224.0,224.1 226.0,225.7 228.0,227.3 230.0,228.9 232.0,230.5 234.0,232.2 236.0,233.8 238.0,235.3 240.0,236.9 242.0,238.5 244.0,240.0 246.0,241.5 248.0,243.0 250.0,244.5 252.0,246.0 254.0,247.5 256.0,248.9 258.0,250.1 260.0,251.2 262.0,252.1 264.0,252.9 266.0,253.6 268.0,254.1 270.0,254.7 272.0,255.2 274.0,255.7 276.0,256.3 278.0,256.8 280.0,257.3 282.0,257.9 284.0,258.4 286.0,258.8 288.0,259.2 290.0,259.4 292.0,259.5 294.0,259.6 296.0,259.5 298.0,259.3 300.0,259.1 302.0,259.0 304.0,258.8 306.0,258.6 308.0,258.5 310.0,258.5 312.0,258.7 314.0,258.9 316.0,259.3 318.0,259.8 320.0,260.5 322.0,261.2 324.0,261.9 326.0,262.5 328.0,263.0 330.0,263.4 332.0,263.6 334.0,263.8 336.0,263.8 338.0,263.7 340.0,263.4 342.0,263.1 344.0,262.8 346.0,262.4 348.0,261.9 350.0,261.4 352.0,260.9 354.0,260.4 356.0,260.0 358.0,259.5 360.0,259.1 362.0,258.7 364.0,258.4 366.0,258.0 368.0,257.7 370.0,257.4 372.0,257.0 374.0,256.7 376.0,256.4 378.0,256.2 380.0,256.1 382.0,256.0 384.0,256.0 386.0,256.1 388.0,256.3 390.0,256.6 392.0,256.8 394.0,257.2 396.0,257.7 398.0,258.4 400.0,259.1 402.0,260.0 404.0,261.0 406.0,262.2 408.0,263.3 410.0,264.4 412.0,265.6 414.0,266.7 416.0,267.8 418.0,269.0 420.0,270.1 422.0,271.3 424.0,272.4 426.0,273.5 428.0,274.7 430.0,275.8 432.0,277.0 434.0,278.1 436.0,279.2 438.0,280.4 440.0,281.6 442.0,282.8 444.0,284.0 446.0,285.3 448.0,286.7 450.0,288.0 452.0,289.4 454.0,290.8 456.0,292.2 458.0,293.6 460.0,295.0 462.0,296.4 464.0,297.8 466.0,299.2 468.0,300.6 470.0,302.0 472.0,303.4 474.0,304.8 476.0,306.2 478.0,307.6 480.0,309.0 482.0,310.3 484.0,311.6 486.0,312.8 488.0,314.0 490.0,315.1 492.0,316.2 494.0,317.3 496.0,318.4 498.0,319.4 500.0,320.5 502.0,321.6 504.0,322.6 506.0,323.7 508.0,324.7 510.0,325.8 512.0,326.9 514.0,328.2 516.0,329.5 518.0,330.8 520.0,332.3 522.0,333.8 524.0,335.4 526.0,337.0 528.0,338.6 530.0,340.2 532.0,341.7 534.0,343.0 536.0,344.2 538.0,345.1 540.0,345.9 542.0,346.6 544.0,347.0 546.0,347.4 548.0,347.8 550.0,348.3 552.0,348.6 554.0,348.9 556.0,349.1 558.0,349.1 560.0,349.1 562.0,349.0 564.0,348.8 566.0,348.5 568.0,348.2 570.0,348.0 572.0,347.7 574.0,347.4 576.0,347.2 578.0,346.9 580.0,346.6 582.0,346.3 584.0,346.0 586.0,345.6 588.0,345.1 590.0,344.5 592.0,343.9 594.0,343.1 596.0,342.3 598.0,341.5 600.0,340.7 602.0,339.9 604.0,339.0 606.0,338.2 608.0,337.2 610.0,336.3 612.0,335.3 614.0,334.2 616.0,333.2 618.0,332.1 620.0,331.0 622.0,329.8 624.0,328.7 626.0,327.4 628.0,326.2 630.0,324.8 632.0,323.5 634.0,322.0 636.0,320.6 638.0,319.2 640.0,317.7 642.0,316.3 644.0,314.8 646.0,313.4 648.0,311.9 650.0,310.5 652.0,309.1 654.0,307.6 656.0,306.2 658.0,304.7 660.0,303.3 662.0,301.8 664.0,300.4 666.0,298.9 668.0,297.5 670.0,296.0 672.0,294.5 674.0,293.1 676.0,291.7 678.0,290.5 680.0,289.3 682.0,288.3 684.0,287.3 686.0,286.5 688.0,285.8 690.0,285.0 692.0,284.3 694.0,283.6 696.0,282.8 698.0,282.1 700.0,281.4 702.0,280.6 704.0,279.9 706.0,279.1 708.0,278.4 710.0,277.7 712.0,276.9 714.0,276.2 716.0,275.4 718.0,274.5 720.0,273.6 722.0,272.6 724.0,271.5 726.0,270.4 728.0,269.2 730.0,268.0 732.0,266.8 734.0,265.6 736.0,264.5 738.0,263.4 740.0,262.3 742.0,261.4 744.0,260.5 746.0,259.6 748.0,258.8 750.0,258.0 752.0,257.2 754.0,256.4 756.0,255.6 758.0,254.8 760.0,254.0 762.0,253.2 764.0,252.5 766.0,251.8 768.0,251.1 770.0,250.5 772.0,249.9 774.0,249.3 776.0,248.7 778.0,248.2 780.0,247.7 782.0,247.1 784.0,246.6 786.0,246.0 788.0,245.5 790.0,245.0 792.0,244.6 794.0,244.2 796.0,243.8 798.0,243.6 800.0,243.3 802.0,243.1 804.0,242.9 806.0,242.7 808.0,242.5 810.0,242.2 812.0,241.9 814.0,241.4 816.0,240.9 818.0,240.4 820.0,239.8 822.0,239.1 824.0,238.4 826.0,237.7 828.0,237.1 830.0,236.6 832.0,236.1 834.0,235.8 836.0,235.5 838.0,235.4 840.0,235.3 842.0,235.4 844.0,235.7 846.0,236.1 848.0,236.7 850.0,237.5 852.0,238.4 854.0,239.5 856.0,240.7 858.0,241.8 860.0,243.0 862.0,244.0 864.0,245.1 866.0,246.1 868.0,247.0 870.0,247.9 872.0,248.7 874.0,249.4 876.0,250.2 878.0,250.9 880.0,251.5 882.0,252.1 884.0,252.6 886.0,253.0 888.0,253.3 890.0,253.5 892.0,253.8 894.0,254.0 896.0,254.2 898.0,254.5 900.0,254.7 902.0,255.0 904.0,255.2 906.0,255.5 908.0,255.7 910.0,256.0 912.0,256.3 914.0,256.5 916.0,256.8 918.0,257.1 920.0,257.4 922.0,257.8 924.0,258.3 926.0,258.8 928.0,259.4 930.0,260.0 932.0,260.7 934.0,261.4 936.0,262.0 938.0,262.7 940.0,263.4 942.0,264.1 944.0,264.9 946.0,265.6 948.0,266.4 950.0,267.2 952.0,268.0 954.0,268.8 956.0,269.6 958.0,270.3 960.0,270.9 962.0,271.4 964.0,271.8 966.0,272.2 968.0,272.4 970.0,272.6 972.0,272.7 974.0,272.7 976.0,272.7 978.0,272.7 980.0,272.6 982.0,272.5 984.0,272.4 986.0,272.3 988.0,272.1 990.0,272.0 992.0,271.9 994.0,271.7 996.0,271.6 998.0,271.5 1000.0,271.3 1002.0,271.2 1004.0,271.0 1006.0,270.9 1008.0,270.7 1010.0,270.6 1012.0,270.4 1014.0,270.3 1016.0,270.1 1018.0,269.9 1020.0,269.8 1022.0,269.6 1024.0,269.4 1026.0,269.2 1028.0,268.9 1030.0,268.7 1032.0,268.5 1034.0,268.2 1036.0,267.8 1038.0,267.3 1040.0,266.7 1042.0,266.0 1044.0,265.1 1046.0,264.1 1048.0,263.1 1050.0,262.5 1052.0,261.9 1054.0,261.3" fill="none" stroke="#8b35a3" stroke-width="1.9" stroke-opacity="1" stroke-linejoin="round"/>
<line x1="61.5" y1="497" x2="61.5" y2="486.3" stroke="#22ab94" stroke-width="1" stroke-opacity="0.5"/>
<line x1="64.3" y1="497" x2="64.3" y2="477.3" stroke="#22ab94" stroke-width="1" stroke-opacity="0.5"/>
<line x1="67.1" y1="497" x2="67.1" y2="489.1" stroke="#f7525f" stroke-width="1" stroke-opacity="0.5"/>
<line x1="69.9" y1="497" x2="69.9" y2="492.5" stroke="#22ab94" stroke-width="1" stroke-opacity="0.5"/>
<line x1="72.7" y1="497" x2="72.7" y2="489.3" stroke="#f7525f" stroke-width="1" stroke-opacity="0.5"/>
<line x1="75.5" y1="497" x2="75.5" y2="487.6" stroke="#f7525f" stroke-width="1" stroke-opacity="0.5"/>
<line x1="78.3" y1="497" x2="78.3" y2="465.2" stroke="#22ab94" stroke-width="1" stroke-opacity="0.5"/>
<line x1="81.1" y1="497" x2="81.1" y2="491.1" stroke="#f7525f" stroke-width="1" stroke-opacity="0.5"/>
<line x1="83.9" y1="497" x2="83.9" y2="493.7" stroke="#f7525f" stroke-width="1" stroke-opacity="0.5"/>
<line x1="86.7" y1="497" x2="86.7" y2="485.5" stroke="#f7525f" stroke-width="1" stroke-opacity="0.5"/>
<line x1="89.5" y1="497" x2="89.5" y2="484.5" stroke="#f7525f" stroke-width="1" stroke-opacity="0.5"/>
<line x1="92.3" y1="497" x2="92.3" y2="482.9" stroke="#f7525f" stroke-width="1" stroke-opacity="0.5"/>
<line x1="95.1" y1="497" x2="95.1" y2="491.9" stroke="#f7525f" stroke-width="1" stroke-opacity="0.5"/>
<line x1="97.9" y1="497" x2="97.9" y2="491.3" stroke="#22ab94" stroke-width="1" stroke-opacity="0.5"/>
<line x1="100.7" y1="497" x2="100.7" y2="492.8" stroke="#f7525f" stroke-width="1" stroke-opacity="0.5"/>
<line x1="103.5" y1="497" x2="103.5" y2="488.6" stroke="#22ab94" stroke-width="1" stroke-opacity="0.5"/>
<line x1="106.3" y1="497" x2="106.3" y2="492.5" stroke="#22ab94" stroke-width="1" stroke-opacity="0.5"/>
<line x1="109.1" y1="497" x2="109.1" y2="493.9" stroke="#22ab94" stroke-width="1" stroke-opacity="0.5"/>
<line x1="111.9" y1="497" x2="111.9" y2="486.5" stroke="#22ab94" stroke-width="1" stroke-opacity="0.5"/>
<line x1="114.7" y1="497" x2="114.7" y2="489.4" stroke="#22ab94" stroke-width="1" stroke-opacity="0.5"/>
<line x1="117.5" y1="497" x2="117.5" y2="490.7" stroke="#22ab94" stroke-width="1" stroke-opacity="0.5"/>
<line x1="120.3" y1="497" x2="120.3" y2="489.3" stroke="#22ab94" stroke-width="1" stroke-opacity="0.5"/>
<line x1="123.1" y1="497" x2="123.1" y2="483.6" stroke="#22ab94" stroke-width="1" stroke-opacity="0.5"/>
<line x1="125.9" y1="497" x2="125.9" y2="475.7" stroke="#f7525f" stroke-width="1" stroke-opacity="0.5"/>
<line x1="128.7" y1="497" x2="128.7" y2="483.6" stroke="#f7525f" stroke-width="1" stroke-opacity="0.5"/>
<line x1="131.5" y1="497" x2="131.5" y2="475.5" stroke="#f7525f" stroke-width="1" stroke-opacity="0.5"/>
<line x1="134.3" y1="497" x2="134.3" y2="489.0" stroke="#f7525f" stroke-width="1" stroke-opacity="0.5"/>
<line x1="137.1" y1="497" x2="137.1" y2="479.5" stroke="#f7525f" stroke-width="1" stroke-opacity="0.5"/>
<line x1="139.9" y1="497" x2="139.9" y2="474.8" stroke="#f7525f" stroke-width="1" stroke-opacity="0.5"/>
<line x1="142.7" y1="497" x2="142.7" y2="486.2" stroke="#f7525f" stroke-width="1" stroke-opacity="0.5"/>
<line x1="145.5" y1="497" x2="145.5" y2="493.5" stroke="#22ab94" stroke-width="1" stroke-opacity="0.5"/>
<line x1="148.3" y1="497" x2="148.3" y2="473.6" stroke="#f7525f" stroke-width="1" stroke-opacity="0.5"/>
<line x1="151.1" y1="497" x2="151.1" y2="486.8" stroke="#f7525f" stroke-width="1" stroke-opacity="0.5"/>
<line x1="153.9" y1="497" x2="153.9" y2="484.8" stroke="#f7525f" stroke-width="1" stroke-opacity="0.5"/>
<line x1="156.7" y1="497" x2="156.7" y2="493.3" stroke="#f7525f" stroke-width="1" stroke-opacity="0.5"/>
<line x1="159.5" y1="497" x2="159.5" y2="493.1" stroke="#f7525f" stroke-width="1" stroke-opacity="0.5"/>
<line x1="162.3" y1="497" x2="162.3" y2="480.3" stroke="#f7525f" stroke-width="1" stroke-opacity="0.5"/>
<line x1="165.1" y1="497" x2="165.1" y2="488.3" stroke="#f7525f" stroke-width="1" stroke-opacity="0.5"/>
<line x1="167.9" y1="497" x2="167.9" y2="451.4" stroke="#f7525f" stroke-width="1" stroke-opacity="0.5"/>
<line x1="170.7" y1="497" x2="170.7" y2="481.6" stroke="#22ab94" stroke-width="1" stroke-opacity="0.5"/>
<line x1="173.5" y1="497" x2="173.5" y2="480.5" stroke="#22ab94" stroke-width="1" stroke-opacity="0.5"/>
<line x1="176.3" y1="497" x2="176.3" y2="491.6" stroke="#22ab94" stroke-width="1" stroke-opacity="0.5"/>
<line x1="179.1" y1="497" x2="179.1" y2="480.3" stroke="#22ab94" stroke-width="1" stroke-opacity="0.5"/>
<line x1="181.9" y1="497" x2="181.9" y2="469.2" stroke="#f7525f" stroke-width="1" stroke-opacity="0.5"/>
<line x1="184.7" y1="497" x2="184.7" y2="491.9" stroke="#22ab94" stroke-width="1" stroke-opacity="0.5"/>
<line x1="187.5" y1="497" x2="187.5" y2="492.4" stroke="#f7525f" stroke-width="1" stroke-opacity="0.5"/>
<line x1="190.3" y1="497" x2="190.3" y2="483.5" stroke="#f7525f" stroke-width="1" stroke-opacity="0.5"/>
<line x1="193.1" y1="497" x2="193.1" y2="477.1" stroke="#f7525f" stroke-width="1" stroke-opacity="0.5"/>
<line x1="195.9" y1="497" x2="195.9" y2="463.1" stroke="#f7525f" stroke-width="1" stroke-opacity="0.5"/>
<line x1="198.7" y1="497" x2="198.7" y2="491.3" stroke="#f7525f" stroke-width="1" stroke-opacity="0.5"/>
<line x1="201.5" y1="497" x2="201.5" y2="476.3" stroke="#f7525f" stroke-width="1" stroke-opacity="0.5"/>
<line x1="204.3" y1="497" x2="204.3" y2="487.8" stroke="#22ab94" stroke-width="1" stroke-opacity="0.5"/>
<line x1="207.1" y1="497" x2="207.1" y2="484.3" stroke="#22ab94" stroke-width="1" stroke-opacity="0.5"/>
<line x1="209.9" y1="497" x2="209.9" y2="487.3" stroke="#22ab94" stroke-width="1" stroke-opacity="0.5"/>
<line x1="212.7" y1="497" x2="212.7" y2="479.6" stroke="#22ab94" stroke-width="1" stroke-opacity="0.5"/>
<line x1="215.5" y1="497" x2="215.5" y2="491.7" stroke="#22ab94" stroke-width="1" stroke-opacity="0.5"/>
<line x1="218.3" y1="497" x2="218.3" y2="490.5" stroke="#22ab94" stroke-width="1" stroke-opacity="0.5"/>
<line x1="221.1" y1="497" x2="221.1" y2="486.3" stroke="#f7525f" stroke-width="1" stroke-opacity="0.5"/>
<line x1="223.9" y1="497" x2="223.9" y2="493.4" stroke="#f7525f" stroke-width="1" stroke-opacity="0.5"/>
<line x1="226.7" y1="497" x2="226.7" y2="491.2" stroke="#f7525f" stroke-width="1" stroke-opacity="0.5"/>
<line x1="229.5" y1="497" x2="229.5" y2="490.9" stroke="#f7525f" stroke-width="1" stroke-opacity="0.5"/>
<line x1="232.3" y1="497" x2="232.3" y2="487.0" stroke="#f7525f" stroke-width="1" stroke-opacity="0.5"/>
<line x1="235.1" y1="497" x2="235.1" y2="481.9" stroke="#f7525f" stroke-width="1" stroke-opacity="0.5"/>
<line x1="237.9" y1="497" x2="237.9" y2="487.5" stroke="#f7525f" stroke-width="1" stroke-opacity="0.5"/>
<line x1="240.7" y1="497" x2="240.7" y2="482.4" stroke="#f7525f" stroke-width="1" stroke-opacity="0.5"/>
<line x1="243.5" y1="497" x2="243.5" y2="486.6" stroke="#f7525f" stroke-width="1" stroke-opacity="0.5"/>
<line x1="246.3" y1="497" x2="246.3" y2="489.5" stroke="#22ab94" stroke-width="1" stroke-opacity="0.5"/>
<line x1="249.1" y1="497" x2="249.1" y2="459.9" stroke="#f7525f" stroke-width="1" stroke-opacity="0.5"/>
<line x1="251.9" y1="497" x2="251.9" y2="471.8" stroke="#22ab94" stroke-width="1" stroke-opacity="0.5"/>
<line x1="254.7" y1="497" x2="254.7" y2="464.8" stroke="#22ab94" stroke-width="1" stroke-opacity="0.5"/>
<line x1="257.5" y1="497" x2="257.5" y2="481.5" stroke="#22ab94" stroke-width="1" stroke-opacity="0.5"/>
<line x1="260.3" y1="497" x2="260.3" y2="486.5" stroke="#f7525f" stroke-width="1" stroke-opacity="0.5"/>
<line x1="263.1" y1="497" x2="263.1" y2="491.1" stroke="#22ab94" stroke-width="1" stroke-opacity="0.5"/>
<line x1="265.9" y1="497" x2="265.9" y2="481.5" stroke="#f7525f" stroke-width="1" stroke-opacity="0.5"/>
<line x1="268.7" y1="497" x2="268.7" y2="486.3" stroke="#f7525f" stroke-width="1" stroke-opacity="0.5"/>
<line x1="271.5" y1="497" x2="271.5" y2="489.9" stroke="#f7525f" stroke-width="1" stroke-opacity="0.5"/>
<line x1="274.3" y1="497" x2="274.3" y2="490.9" stroke="#f7525f" stroke-width="1" stroke-opacity="0.5"/>
<line x1="277.1" y1="497" x2="277.1" y2="488.8" stroke="#22ab94" stroke-width="1" stroke-opacity="0.5"/>
<line x1="279.9" y1="497" x2="279.9" y2="489.2" stroke="#22ab94" stroke-width="1" stroke-opacity="0.5"/>
<line x1="282.7" y1="497" x2="282.7" y2="481.8" stroke="#22ab94" stroke-width="1" stroke-opacity="0.5"/>
<line x1="285.5" y1="497" x2="285.5" y2="484.1" stroke="#22ab94" stroke-width="1" stroke-opacity="0.5"/>
<line x1="288.3" y1="497" x2="288.3" y2="493.1" stroke="#22ab94" stroke-width="1" stroke-opacity="0.5"/>
<line x1="291.1" y1="497" x2="291.1" y2="482.7" stroke="#f7525f" stroke-width="1" stroke-opacity="0.5"/>
<line x1="293.9" y1="497" x2="293.9" y2="472.0" stroke="#22ab94" stroke-width="1" stroke-opacity="0.5"/>
<line x1="296.7" y1="497" x2="296.7" y2="492.5" stroke="#22ab94" stroke-width="1" stroke-opacity="0.5"/>
<line x1="299.5" y1="497" x2="299.5" y2="488.4" stroke="#f7525f" stroke-width="1" stroke-opacity="0.5"/>
<line x1="302.3" y1="497" x2="302.3" y2="447.4" stroke="#22ab94" stroke-width="1" stroke-opacity="0.5"/>
<line x1="305.1" y1="497" x2="305.1" y2="475.4" stroke="#f7525f" stroke-width="1" stroke-opacity="0.5"/>
<line x1="307.9" y1="497" x2="307.9" y2="492.6" stroke="#f7525f" stroke-width="1" stroke-opacity="0.5"/>
<line x1="310.7" y1="497" x2="310.7" y2="485.1" stroke="#22ab94" stroke-width="1" stroke-opacity="0.5"/>
<line x1="313.5" y1="497" x2="313.5" y2="491.6" stroke="#f7525f" stroke-width="1" stroke-opacity="0.5"/>
<line x1="316.3" y1="497" x2="316.3" y2="478.4" stroke="#f7525f" stroke-width="1" stroke-opacity="0.5"/>
<line x1="319.1" y1="497" x2="319.1" y2="481.9" stroke="#22ab94" stroke-width="1" stroke-opacity="0.5"/>
<line x1="321.9" y1="497" x2="321.9" y2="486.9" stroke="#22ab94" stroke-width="1" stroke-opacity="0.5"/>
<line x1="324.7" y1="497" x2="324.7" y2="487.0" stroke="#22ab94" stroke-width="1" stroke-opacity="0.5"/>
<line x1="327.5" y1="497" x2="327.5" y2="490.8" stroke="#f7525f" stroke-width="1" stroke-opacity="0.5"/>
<line x1="330.3" y1="497" x2="330.3" y2="492.3" stroke="#f7525f" stroke-width="1" stroke-opacity="0.5"/>
<line x1="333.1" y1="497" x2="333.1" y2="493.9" stroke="#f7525f" stroke-width="1" stroke-opacity="0.5"/>
<line x1="335.9" y1="497" x2="335.9" y2="486.4" stroke="#f7525f" stroke-width="1" stroke-opacity="0.5"/>
<line x1="338.7" y1="497" x2="338.7" y2="462.3" stroke="#f7525f" stroke-width="1" stroke-opacity="0.5"/>
<line x1="341.5" y1="497" x2="341.5" y2="490.5" stroke="#f7525f" stroke-width="1" stroke-opacity="0.5"/>
<line x1="344.3" y1="497" x2="344.3" y2="493.7" stroke="#f7525f" stroke-width="1" stroke-opacity="0.5"/>
<line x1="347.1" y1="497" x2="347.1" y2="454.6" stroke="#22ab94" stroke-width="1" stroke-opacity="0.5"/>
<line x1="349.9" y1="497" x2="349.9" y2="488.4" stroke="#f7525f" stroke-width="1" stroke-opacity="0.5"/>
<line x1="352.7" y1="497" x2="352.7" y2="485.4" stroke="#f7525f" stroke-width="1" stroke-opacity="0.5"/>
<line x1="355.5" y1="497" x2="355.5" y2="482.9" stroke="#22ab94" stroke-width="1" stroke-opacity="0.5"/>
<line x1="358.3" y1="497" x2="358.3" y2="488.6" stroke="#22ab94" stroke-width="1" stroke-opacity="0.5"/>
<line x1="361.1" y1="497" x2="361.1" y2="470.5" stroke="#f7525f" stroke-width="1" stroke-opacity="0.5"/>
<line x1="363.9" y1="497" x2="363.9" y2="493.1" stroke="#22ab94" stroke-width="1" stroke-opacity="0.5"/>
<line x1="366.7" y1="497" x2="366.7" y2="490.6" stroke="#22ab94" stroke-width="1" stroke-opacity="0.5"/>
<line x1="369.5" y1="497" x2="369.5" y2="489.8" stroke="#f7525f" stroke-width="1" stroke-opacity="0.5"/>
<line x1="372.3" y1="497" x2="372.3" y2="486.1" stroke="#f7525f" stroke-width="1" stroke-opacity="0.5"/>
<line x1="375.1" y1="497" x2="375.1" y2="487.4" stroke="#f7525f" stroke-width="1" stroke-opacity="0.5"/>
<line x1="377.9" y1="497" x2="377.9" y2="482.2" stroke="#22ab94" stroke-width="1" stroke-opacity="0.5"/>
<line x1="380.7" y1="497" x2="380.7" y2="486.6" stroke="#22ab94" stroke-width="1" stroke-opacity="0.5"/>
<line x1="383.5" y1="497" x2="383.5" y2="487.7" stroke="#f7525f" stroke-width="1" stroke-opacity="0.5"/>
<line x1="386.3" y1="497" x2="386.3" y2="479.6" stroke="#f7525f" stroke-width="1" stroke-opacity="0.5"/>
<line x1="389.1" y1="497" x2="389.1" y2="474.6" stroke="#f7525f" stroke-width="1" stroke-opacity="0.5"/>
<line x1="391.9" y1="497" x2="391.9" y2="482.3" stroke="#22ab94" stroke-width="1" stroke-opacity="0.5"/>
<line x1="394.7" y1="497" x2="394.7" y2="487.8" stroke="#f7525f" stroke-width="1" stroke-opacity="0.5"/>
<line x1="397.5" y1="497" x2="397.5" y2="475.7" stroke="#f7525f" stroke-width="1" stroke-opacity="0.5"/>
<line x1="400.3" y1="497" x2="400.3" y2="489.0" stroke="#f7525f" stroke-width="1" stroke-opacity="0.5"/>
<line x1="403.1" y1="497" x2="403.1" y2="486.8" stroke="#f7525f" stroke-width="1" stroke-opacity="0.5"/>
<line x1="405.9" y1="497" x2="405.9" y2="490.5" stroke="#22ab94" stroke-width="1" stroke-opacity="0.5"/>
<line x1="408.7" y1="497" x2="408.7" y2="485.2" stroke="#f7525f" stroke-width="1" stroke-opacity="0.5"/>
<line x1="411.5" y1="497" x2="411.5" y2="456.0" stroke="#22ab94" stroke-width="1" stroke-opacity="0.5"/>
<line x1="414.3" y1="497" x2="414.3" y2="492.0" stroke="#f7525f" stroke-width="1" stroke-opacity="0.5"/>
<line x1="417.1" y1="497" x2="417.1" y2="487.6" stroke="#22ab94" stroke-width="1" stroke-opacity="0.5"/>
<line x1="419.9" y1="497" x2="419.9" y2="492.6" stroke="#22ab94" stroke-width="1" stroke-opacity="0.5"/>
<line x1="422.7" y1="497" x2="422.7" y2="480.4" stroke="#f7525f" stroke-width="1" stroke-opacity="0.5"/>
<line x1="425.5" y1="497" x2="425.5" y2="491.9" stroke="#22ab94" stroke-width="1" stroke-opacity="0.5"/>
<line x1="428.3" y1="497" x2="428.3" y2="486.6" stroke="#22ab94" stroke-width="1" stroke-opacity="0.5"/>
<line x1="431.1" y1="497" x2="431.1" y2="489.9" stroke="#f7525f" stroke-width="1" stroke-opacity="0.5"/>
<line x1="433.9" y1="497" x2="433.9" y2="492.9" stroke="#f7525f" stroke-width="1" stroke-opacity="0.5"/>
<line x1="436.7" y1="497" x2="436.7" y2="492.6" stroke="#22ab94" stroke-width="1" stroke-opacity="0.5"/>
<line x1="439.5" y1="497" x2="439.5" y2="480.9" stroke="#f7525f" stroke-width="1" stroke-opacity="0.5"/>
<line x1="442.3" y1="497" x2="442.3" y2="482.7" stroke="#f7525f" stroke-width="1" stroke-opacity="0.5"/>
<line x1="445.1" y1="497" x2="445.1" y2="486.3" stroke="#f7525f" stroke-width="1" stroke-opacity="0.5"/>
<line x1="447.9" y1="497" x2="447.9" y2="487.4" stroke="#f7525f" stroke-width="1" stroke-opacity="0.5"/>
<line x1="450.7" y1="497" x2="450.7" y2="479.9" stroke="#22ab94" stroke-width="1" stroke-opacity="0.5"/>
<line x1="453.5" y1="497" x2="453.5" y2="482.7" stroke="#f7525f" stroke-width="1" stroke-opacity="0.5"/>
<line x1="456.3" y1="497" x2="456.3" y2="487.1" stroke="#f7525f" stroke-width="1" stroke-opacity="0.5"/>
<line x1="459.1" y1="497" x2="459.1" y2="490.7" stroke="#f7525f" stroke-width="1" stroke-opacity="0.5"/>
<line x1="461.9" y1="497" x2="461.9" y2="490.6" stroke="#f7525f" stroke-width="1" stroke-opacity="0.5"/>
<line x1="464.7" y1="497" x2="464.7" y2="486.5" stroke="#22ab94" stroke-width="1" stroke-opacity="0.5"/>
<line x1="467.5" y1="497" x2="467.5" y2="482.8" stroke="#22ab94" stroke-width="1" stroke-opacity="0.5"/>
<line x1="470.3" y1="497" x2="470.3" y2="491.4" stroke="#22ab94" stroke-width="1" stroke-opacity="0.5"/>
<line x1="473.1" y1="497" x2="473.1" y2="493.7" stroke="#22ab94" stroke-width="1" stroke-opacity="0.5"/>
<line x1="475.9" y1="497" x2="475.9" y2="481.1" stroke="#22ab94" stroke-width="1" stroke-opacity="0.5"/>
<line x1="478.7" y1="497" x2="478.7" y2="492.9" stroke="#22ab94" stroke-width="1" stroke-opacity="0.5"/>
<line x1="481.5" y1="497" x2="481.5" y2="472.4" stroke="#f7525f" stroke-width="1" stroke-opacity="0.5"/>
<line x1="484.3" y1="497" x2="484.3" y2="483.1" stroke="#22ab94" stroke-width="1" stroke-opacity="0.5"/>
<line x1="487.1" y1="497" x2="487.1" y2="480.1" stroke="#22ab94" stroke-width="1" stroke-opacity="0.5"/>
<line x1="489.9" y1="497" x2="489.9" y2="489.6" stroke="#22ab94" stroke-width="1" stroke-opacity="0.5"/>
<line x1="492.7" y1="497" x2="492.7" y2="481.9" stroke="#22ab94" stroke-width="1" stroke-opacity="0.5"/>
<line x1="495.5" y1="497" x2="495.5" y2="490.0" stroke="#f7525f" stroke-width="1" stroke-opacity="0.5"/>
<line x1="498.3" y1="497" x2="498.3" y2="454.1" stroke="#f7525f" stroke-width="1" stroke-opacity="0.5"/>
<line x1="501.1" y1="497" x2="501.1" y2="486.9" stroke="#22ab94" stroke-width="1" stroke-opacity="0.5"/>
<line x1="503.9" y1="497" x2="503.9" y2="400.0" stroke="#f7525f" stroke-width="1" stroke-opacity="0.5"/>
<line x1="506.7" y1="497" x2="506.7" y2="476.7" stroke="#f7525f" stroke-width="1" stroke-opacity="0.5"/>
<line x1="509.5" y1="497" x2="509.5" y2="478.1" stroke="#f7525f" stroke-width="1" stroke-opacity="0.5"/>
<line x1="512.3" y1="497" x2="512.3" y2="474.6" stroke="#22ab94" stroke-width="1" stroke-opacity="0.5"/>
<line x1="515.1" y1="497" x2="515.1" y2="488.4" stroke="#f7525f" stroke-width="1" stroke-opacity="0.5"/>
<line x1="517.9" y1="497" x2="517.9" y2="492.1" stroke="#22ab94" stroke-width="1" stroke-opacity="0.5"/>
<line x1="520.7" y1="497" x2="520.7" y2="493.5" stroke="#f7525f" stroke-width="1" stroke-opacity="0.5"/>
<line x1="523.5" y1="497" x2="523.5" y2="491.2" stroke="#22ab94" stroke-width="1" stroke-opacity="0.5"/>
<line x1="526.3" y1="497" x2="526.3" y2="476.2" stroke="#22ab94" stroke-width="1" stroke-opacity="0.5"/>
<line x1="529.1" y1="497" x2="529.1" y2="456.4" stroke="#22ab94" stroke-width="1" stroke-opacity="0.5"/>
<line x1="531.9" y1="497" x2="531.9" y2="490.4" stroke="#22ab94" stroke-width="1" stroke-opacity="0.5"/>
<line x1="534.7" y1="497" x2="534.7" y2="475.4" stroke="#22ab94" stroke-width="1" stroke-opacity="0.5"/>
<line x1="537.5" y1="497" x2="537.5" y2="493.3" stroke="#22ab94" stroke-width="1" stroke-opacity="0.5"/>
<line x1="540.3" y1="497" x2="540.3" y2="470.3" stroke="#f7525f" stroke-width="1" stroke-opacity="0.5"/>
<line x1="543.1" y1="497" x2="543.1" y2="469.5" stroke="#22ab94" stroke-width="1" stroke-opacity="0.5"/>
<line x1="545.9" y1="497" x2="545.9" y2="484.8" stroke="#22ab94" stroke-width="1" stroke-opacity="0.5"/>
<line x1="548.7" y1="497" x2="548.7" y2="478.2" stroke="#f7525f" stroke-width="1" stroke-opacity="0.5"/>
<line x1="551.5" y1="497" x2="551.5" y2="464.3" stroke="#f7525f" stroke-width="1" stroke-opacity="0.5"/>
<line x1="554.3" y1="497" x2="554.3" y2="477.0" stroke="#f7525f" stroke-width="1" stroke-opacity="0.5"/>
<line x1="557.1" y1="497" x2="557.1" y2="492.7" stroke="#f7525f" stroke-width="1" stroke-opacity="0.5"/>
<line x1="559.9" y1="497" x2="559.9" y2="489.7" stroke="#22ab94" stroke-width="1" stroke-opacity="0.5"/>
<line x1="562.7" y1="497" x2="562.7" y2="471.1" stroke="#22ab94" stroke-width="1" stroke-opacity="0.5"/>
<line x1="565.5" y1="497" x2="565.5" y2="457.3" stroke="#22ab94" stroke-width="1" stroke-opacity="0.5"/>
<line x1="568.3" y1="497" x2="568.3" y2="485.6" stroke="#f7525f" stroke-width="1" stroke-opacity="0.5"/>
<line x1="571.1" y1="497" x2="571.1" y2="486.4" stroke="#22ab94" stroke-width="1" stroke-opacity="0.5"/>
<line x1="573.9" y1="497" x2="573.9" y2="486.1" stroke="#22ab94" stroke-width="1" stroke-opacity="0.5"/>
<line x1="576.7" y1="497" x2="576.7" y2="473.0" stroke="#22ab94" stroke-width="1" stroke-opacity="0.5"/>
<line x1="579.5" y1="497" x2="579.5" y2="469.2" stroke="#22ab94" stroke-width="1" stroke-opacity="0.5"/>
<line x1="582.3" y1="497" x2="582.3" y2="488.7" stroke="#22ab94" stroke-width="1" stroke-opacity="0.5"/>
<line x1="585.1" y1="497" x2="585.1" y2="492.2" stroke="#f7525f" stroke-width="1" stroke-opacity="0.5"/>
<line x1="587.9" y1="497" x2="587.9" y2="489.1" stroke="#22ab94" stroke-width="1" stroke-opacity="0.5"/>
<line x1="590.7" y1="497" x2="590.7" y2="490.9" stroke="#f7525f" stroke-width="1" stroke-opacity="0.5"/>
<line x1="593.5" y1="497" x2="593.5" y2="490.9" stroke="#22ab94" stroke-width="1" stroke-opacity="0.5"/>
<line x1="596.3" y1="497" x2="596.3" y2="488.8" stroke="#22ab94" stroke-width="1" stroke-opacity="0.5"/>
<line x1="599.1" y1="497" x2="599.1" y2="490.0" stroke="#f7525f" stroke-width="1" stroke-opacity="0.5"/>
<line x1="601.9" y1="497" x2="601.9" y2="462.5" stroke="#f7525f" stroke-width="1" stroke-opacity="0.5"/>
<line x1="604.7" y1="497" x2="604.7" y2="490.6" stroke="#f7525f" stroke-width="1" stroke-opacity="0.5"/>
<line x1="607.5" y1="497" x2="607.5" y2="488.0" stroke="#22ab94" stroke-width="1" stroke-opacity="0.5"/>
<line x1="610.3" y1="497" x2="610.3" y2="493.7" stroke="#f7525f" stroke-width="1" stroke-opacity="0.5"/>
<line x1="613.1" y1="497" x2="613.1" y2="487.3" stroke="#f7525f" stroke-width="1" stroke-opacity="0.5"/>
<line x1="615.9" y1="497" x2="615.9" y2="462.0" stroke="#f7525f" stroke-width="1" stroke-opacity="0.5"/>
<line x1="618.7" y1="497" x2="618.7" y2="493.7" stroke="#f7525f" stroke-width="1" stroke-opacity="0.5"/>
<line x1="621.5" y1="497" x2="621.5" y2="478.9" stroke="#f7525f" stroke-width="1" stroke-opacity="0.5"/>
<line x1="624.3" y1="497" x2="624.3" y2="488.3" stroke="#22ab94" stroke-width="1" stroke-opacity="0.5"/>
<line x1="627.1" y1="497" x2="627.1" y2="476.0" stroke="#f7525f" stroke-width="1" stroke-opacity="0.5"/>
<line x1="629.9" y1="497" x2="629.9" y2="492.1" stroke="#22ab94" stroke-width="1" stroke-opacity="0.5"/>
<line x1="632.7" y1="497" x2="632.7" y2="474.0" stroke="#22ab94" stroke-width="1" stroke-opacity="0.5"/>
<line x1="635.5" y1="497" x2="635.5" y2="483.4" stroke="#22ab94" stroke-width="1" stroke-opacity="0.5"/>
<line x1="638.3" y1="497" x2="638.3" y2="485.7" stroke="#22ab94" stroke-width="1" stroke-opacity="0.5"/>
<line x1="641.1" y1="497" x2="641.1" y2="481.2" stroke="#22ab94" stroke-width="1" stroke-opacity="0.5"/>
<line x1="643.9" y1="497" x2="643.9" y2="489.6" stroke="#f7525f" stroke-width="1" stroke-opacity="0.5"/>
<line x1="646.7" y1="497" x2="646.7" y2="487.6" stroke="#f7525f" stroke-width="1" stroke-opacity="0.5"/>
<line x1="649.5" y1="497" x2="649.5" y2="466.4" stroke="#22ab94" stroke-width="1" stroke-opacity="0.5"/>
<line x1="652.3" y1="497" x2="652.3" y2="493.8" stroke="#22ab94" stroke-width="1" stroke-opacity="0.5"/>
<line x1="655.1" y1="497" x2="655.1" y2="486.9" stroke="#f7525f" stroke-width="1" stroke-opacity="0.5"/>
<line x1="657.9" y1="497" x2="657.9" y2="481.8" stroke="#22ab94" stroke-width="1" stroke-opacity="0.5"/>
<line x1="660.7" y1="497" x2="660.7" y2="454.7" stroke="#f7525f" stroke-width="1" stroke-opacity="0.5"/>
<line x1="663.5" y1="497" x2="663.5" y2="485.3" stroke="#f7525f" stroke-width="1" stroke-opacity="0.5"/>
<line x1="666.3" y1="497" x2="666.3" y2="483.1" stroke="#22ab94" stroke-width="1" stroke-opacity="0.5"/>
<line x1="669.1" y1="497" x2="669.1" y2="448.1" stroke="#f7525f" stroke-width="1" stroke-opacity="0.5"/>
<line x1="671.9" y1="497" x2="671.9" y2="473.9" stroke="#22ab94" stroke-width="1" stroke-opacity="0.5"/>
<line x1="674.7" y1="497" x2="674.7" y2="464.4" stroke="#22ab94" stroke-width="1" stroke-opacity="0.5"/>
<line x1="677.5" y1="497" x2="677.5" y2="490.0" stroke="#f7525f" stroke-width="1" stroke-opacity="0.5"/>
<line x1="680.3" y1="497" x2="680.3" y2="489.6" stroke="#22ab94" stroke-width="1" stroke-opacity="0.5"/>
<line x1="683.1" y1="497" x2="683.1" y2="481.9" stroke="#22ab94" stroke-width="1" stroke-opacity="0.5"/>
<line x1="685.9" y1="497" x2="685.9" y2="493.6" stroke="#f7525f" stroke-width="1" stroke-opacity="0.5"/>
<line x1="688.7" y1="497" x2="688.7" y2="482.5" stroke="#f7525f" stroke-width="1" stroke-opacity="0.5"/>
<line x1="691.5" y1="497" x2="691.5" y2="483.1" stroke="#22ab94" stroke-width="1" stroke-opacity="0.5"/>
<line x1="694.3" y1="497" x2="694.3" y2="487.2" stroke="#f7525f" stroke-width="1" stroke-opacity="0.5"/>
<line x1="697.1" y1="497" x2="697.1" y2="479.8" stroke="#22ab94" stroke-width="1" stroke-opacity="0.5"/>
<line x1="699.9" y1="497" x2="699.9" y2="475.2" stroke="#22ab94" stroke-width="1" stroke-opacity="0.5"/>
<line x1="702.7" y1="497" x2="702.7" y2="486.4" stroke="#f7525f" stroke-width="1" stroke-opacity="0.5"/>
<line x1="705.5" y1="497" x2="705.5" y2="481.7" stroke="#f7525f" stroke-width="1" stroke-opacity="0.5"/>
<line x1="708.3" y1="497" x2="708.3" y2="462.0" stroke="#f7525f" stroke-width="1" stroke-opacity="0.5"/>
<line x1="711.1" y1="497" x2="711.1" y2="484.9" stroke="#22ab94" stroke-width="1" stroke-opacity="0.5"/>
<line x1="713.9" y1="497" x2="713.9" y2="487.7" stroke="#f7525f" stroke-width="1" stroke-opacity="0.5"/>
<line x1="716.7" y1="497" x2="716.7" y2="489.6" stroke="#f7525f" stroke-width="1" stroke-opacity="0.5"/>
<line x1="719.5" y1="497" x2="719.5" y2="492.6" stroke="#22ab94" stroke-width="1" stroke-opacity="0.5"/>
<line x1="722.3" y1="497" x2="722.3" y2="483.4" stroke="#22ab94" stroke-width="1" stroke-opacity="0.5"/>
<line x1="725.1" y1="497" x2="725.1" y2="486.3" stroke="#22ab94" stroke-width="1" stroke-opacity="0.5"/>
<line x1="727.9" y1="497" x2="727.9" y2="477.9" stroke="#f7525f" stroke-width="1" stroke-opacity="0.5"/>
<line x1="730.7" y1="497" x2="730.7" y2="477.9" stroke="#22ab94" stroke-width="1" stroke-opacity="0.5"/>
<line x1="733.5" y1="497" x2="733.5" y2="404.0" stroke="#22ab94" stroke-width="1" stroke-opacity="0.5"/>
<line x1="736.3" y1="497" x2="736.3" y2="404.0" stroke="#22ab94" stroke-width="1" stroke-opacity="0.5"/>
<line x1="739.1" y1="497" x2="739.1" y2="485.3" stroke="#22ab94" stroke-width="1" stroke-opacity="0.5"/>
<line x1="741.9" y1="497" x2="741.9" y2="465.5" stroke="#f7525f" stroke-width="1" stroke-opacity="0.5"/>
<line x1="744.7" y1="497" x2="744.7" y2="493.9" stroke="#f7525f" stroke-width="1" stroke-opacity="0.5"/>
<line x1="747.5" y1="497" x2="747.5" y2="488.0" stroke="#22ab94" stroke-width="1" stroke-opacity="0.5"/>
<line x1="750.3" y1="497" x2="750.3" y2="486.0" stroke="#22ab94" stroke-width="1" stroke-opacity="0.5"/>
<line x1="753.1" y1="497" x2="753.1" y2="487.3" stroke="#22ab94" stroke-width="1" stroke-opacity="0.5"/>
<line x1="755.9" y1="497" x2="755.9" y2="475.1" stroke="#22ab94" stroke-width="1" stroke-opacity="0.5"/>
<line x1="758.7" y1="497" x2="758.7" y2="479.5" stroke="#f7525f" stroke-width="1" stroke-opacity="0.5"/>
<line x1="761.5" y1="497" x2="761.5" y2="493.5" stroke="#f7525f" stroke-width="1" stroke-opacity="0.5"/>
<line x1="764.3" y1="497" x2="764.3" y2="485.0" stroke="#22ab94" stroke-width="1" stroke-opacity="0.5"/>
<line x1="767.1" y1="497" x2="767.1" y2="486.6" stroke="#f7525f" stroke-width="1" stroke-opacity="0.5"/>
<line x1="769.9" y1="497" x2="769.9" y2="473.2" stroke="#f7525f" stroke-width="1" stroke-opacity="0.5"/>
<line x1="772.7" y1="497" x2="772.7" y2="482.6" stroke="#22ab94" stroke-width="1" stroke-opacity="0.5"/>
<line x1="775.5" y1="497" x2="775.5" y2="490.0" stroke="#f7525f" stroke-width="1" stroke-opacity="0.5"/>
<line x1="778.3" y1="497" x2="778.3" y2="494.0" stroke="#f7525f" stroke-width="1" stroke-opacity="0.5"/>
<line x1="781.1" y1="497" x2="781.1" y2="483.5" stroke="#22ab94" stroke-width="1" stroke-opacity="0.5"/>
<line x1="783.9" y1="497" x2="783.9" y2="490.3" stroke="#22ab94" stroke-width="1" stroke-opacity="0.5"/>
<line x1="786.7" y1="497" x2="786.7" y2="493.3" stroke="#f7525f" stroke-width="1" stroke-opacity="0.5"/>
<line x1="789.5" y1="497" x2="789.5" y2="488.6" stroke="#f7525f" stroke-width="1" stroke-opacity="0.5"/>
<line x1="792.3" y1="497" x2="792.3" y2="493.3" stroke="#f7525f" stroke-width="1" stroke-opacity="0.5"/>
<line x1="795.1" y1="497" x2="795.1" y2="480.9" stroke="#f7525f" stroke-width="1" stroke-opacity="0.5"/>
<line x1="797.9" y1="497" x2="797.9" y2="488.5" stroke="#f7525f" stroke-width="1" stroke-opacity="0.5"/>
<line x1="800.7" y1="497" x2="800.7" y2="492.0" stroke="#22ab94" stroke-width="1" stroke-opacity="0.5"/>
<line x1="803.5" y1="497" x2="803.5" y2="492.2" stroke="#22ab94" stroke-width="1" stroke-opacity="0.5"/>
<line x1="806.3" y1="497" x2="806.3" y2="490.5" stroke="#22ab94" stroke-width="1" stroke-opacity="0.5"/>
<line x1="809.1" y1="497" x2="809.1" y2="486.8" stroke="#22ab94" stroke-width="1" stroke-opacity="0.5"/>
<line x1="811.9" y1="497" x2="811.9" y2="488.5" stroke="#22ab94" stroke-width="1" stroke-opacity="0.5"/>
<line x1="814.7" y1="497" x2="814.7" y2="488.8" stroke="#f7525f" stroke-width="1" stroke-opacity="0.5"/>
<line x1="817.5" y1="497" x2="817.5" y2="486.2" stroke="#22ab94" stroke-width="1" stroke-opacity="0.5"/>
<line x1="820.3" y1="497" x2="820.3" y2="491.5" stroke="#f7525f" stroke-width="1" stroke-opacity="0.5"/>
<line x1="823.1" y1="497" x2="823.1" y2="484.2" stroke="#22ab94" stroke-width="1" stroke-opacity="0.5"/>
<line x1="825.9" y1="497" x2="825.9" y2="484.8" stroke="#f7525f" stroke-width="1" stroke-opacity="0.5"/>
<line x1="828.7" y1="497" x2="828.7" y2="492.7" stroke="#22ab94" stroke-width="1" stroke-opacity="0.5"/>
<line x1="831.5" y1="497" x2="831.5" y2="478.9" stroke="#22ab94" stroke-width="1" stroke-opacity="0.5"/>
<line x1="834.3" y1="497" x2="834.3" y2="488.3" stroke="#f7525f" stroke-width="1" stroke-opacity="0.5"/>
<line x1="837.1" y1="497" x2="837.1" y2="487.9" stroke="#f7525f" stroke-width="1" stroke-opacity="0.5"/>
<line x1="839.9" y1="497" x2="839.9" y2="493.8" stroke="#f7525f" stroke-width="1" stroke-opacity="0.5"/>
<line x1="842.7" y1="497" x2="842.7" y2="489.7" stroke="#22ab94" stroke-width="1" stroke-opacity="0.5"/>
<line x1="845.5" y1="497" x2="845.5" y2="484.0" stroke="#f7525f" stroke-width="1" stroke-opacity="0.5"/>
<line x1="848.3" y1="497" x2="848.3" y2="463.0" stroke="#f7525f" stroke-width="1" stroke-opacity="0.5"/>
<line x1="851.1" y1="497" x2="851.1" y2="481.8" stroke="#22ab94" stroke-width="1" stroke-opacity="0.5"/>
<line x1="853.9" y1="497" x2="853.9" y2="490.9" stroke="#22ab94" stroke-width="1" stroke-opacity="0.5"/>
<line x1="856.7" y1="497" x2="856.7" y2="474.8" stroke="#f7525f" stroke-width="1" stroke-opacity="0.5"/>
<line x1="859.5" y1="497" x2="859.5" y2="426.0" stroke="#f7525f" stroke-width="1" stroke-opacity="0.5"/>
<line x1="862.3" y1="497" x2="862.3" y2="426.0" stroke="#f7525f" stroke-width="1" stroke-opacity="0.5"/>
<line x1="865.1" y1="497" x2="865.1" y2="493.2" stroke="#f7525f" stroke-width="1" stroke-opacity="0.5"/>
<line x1="867.9" y1="497" x2="867.9" y2="493.1" stroke="#f7525f" stroke-width="1" stroke-opacity="0.5"/>
<line x1="870.7" y1="497" x2="870.7" y2="442.0" stroke="#f7525f" stroke-width="1" stroke-opacity="0.5"/>
<line x1="873.5" y1="497" x2="873.5" y2="442.0" stroke="#22ab94" stroke-width="1" stroke-opacity="0.5"/>
<line x1="876.3" y1="497" x2="876.3" y2="491.2" stroke="#22ab94" stroke-width="1" stroke-opacity="0.5"/>
<line x1="879.1" y1="497" x2="879.1" y2="474.2" stroke="#22ab94" stroke-width="1" stroke-opacity="0.5"/>
<line x1="881.9" y1="497" x2="881.9" y2="486.2" stroke="#22ab94" stroke-width="1" stroke-opacity="0.5"/>
<line x1="884.7" y1="497" x2="884.7" y2="462.9" stroke="#f7525f" stroke-width="1" stroke-opacity="0.5"/>
<line x1="887.5" y1="497" x2="887.5" y2="489.2" stroke="#22ab94" stroke-width="1" stroke-opacity="0.5"/>
<line x1="890.3" y1="497" x2="890.3" y2="488.9" stroke="#22ab94" stroke-width="1" stroke-opacity="0.5"/>
<line x1="893.1" y1="497" x2="893.1" y2="486.5" stroke="#f7525f" stroke-width="1" stroke-opacity="0.5"/>
<line x1="895.9" y1="497" x2="895.9" y2="479.5" stroke="#f7525f" stroke-width="1" stroke-opacity="0.5"/>
<line x1="898.7" y1="497" x2="898.7" y2="481.0" stroke="#f7525f" stroke-width="1" stroke-opacity="0.5"/>
<line x1="901.5" y1="497" x2="901.5" y2="492.8" stroke="#f7525f" stroke-width="1" stroke-opacity="0.5"/>
<line x1="904.3" y1="497" x2="904.3" y2="477.6" stroke="#22ab94" stroke-width="1" stroke-opacity="0.5"/>
<line x1="907.1" y1="497" x2="907.1" y2="490.6" stroke="#22ab94" stroke-width="1" stroke-opacity="0.5"/>
<line x1="909.9" y1="497" x2="909.9" y2="450.8" stroke="#f7525f" stroke-width="1" stroke-opacity="0.5"/>
<line x1="912.7" y1="497" x2="912.7" y2="477.0" stroke="#f7525f" stroke-width="1" stroke-opacity="0.5"/>
<line x1="915.5" y1="497" x2="915.5" y2="493.5" stroke="#f7525f" stroke-width="1" stroke-opacity="0.5"/>
<line x1="918.3" y1="497" x2="918.3" y2="481.3" stroke="#f7525f" stroke-width="1" stroke-opacity="0.5"/>
<line x1="921.1" y1="497" x2="921.1" y2="491.0" stroke="#22ab94" stroke-width="1" stroke-opacity="0.5"/>
<line x1="923.9" y1="497" x2="923.9" y2="484.5" stroke="#22ab94" stroke-width="1" stroke-opacity="0.5"/>
<line x1="926.7" y1="497" x2="926.7" y2="484.2" stroke="#f7525f" stroke-width="1" stroke-opacity="0.5"/>
<line x1="929.5" y1="497" x2="929.5" y2="478.5" stroke="#22ab94" stroke-width="1" stroke-opacity="0.5"/>
<line x1="932.3" y1="497" x2="932.3" y2="489.8" stroke="#f7525f" stroke-width="1" stroke-opacity="0.5"/>
<line x1="935.1" y1="497" x2="935.1" y2="484.7" stroke="#f7525f" stroke-width="1" stroke-opacity="0.5"/>
<line x1="937.9" y1="497" x2="937.9" y2="490.6" stroke="#f7525f" stroke-width="1" stroke-opacity="0.5"/>
<line x1="940.7" y1="497" x2="940.7" y2="487.1" stroke="#f7525f" stroke-width="1" stroke-opacity="0.5"/>
<line x1="943.5" y1="497" x2="943.5" y2="474.7" stroke="#f7525f" stroke-width="1" stroke-opacity="0.5"/>
<line x1="946.3" y1="497" x2="946.3" y2="486.0" stroke="#f7525f" stroke-width="1" stroke-opacity="0.5"/>
<line x1="949.1" y1="497" x2="949.1" y2="454.2" stroke="#f7525f" stroke-width="1" stroke-opacity="0.5"/>
<line x1="951.9" y1="497" x2="951.9" y2="485.4" stroke="#f7525f" stroke-width="1" stroke-opacity="0.5"/>
<line x1="954.7" y1="497" x2="954.7" y2="476.8" stroke="#22ab94" stroke-width="1" stroke-opacity="0.5"/>
<line x1="957.5" y1="497" x2="957.5" y2="491.0" stroke="#f7525f" stroke-width="1" stroke-opacity="0.5"/>
<line x1="960.3" y1="497" x2="960.3" y2="482.4" stroke="#f7525f" stroke-width="1" stroke-opacity="0.5"/>
<line x1="963.1" y1="497" x2="963.1" y2="483.2" stroke="#22ab94" stroke-width="1" stroke-opacity="0.5"/>
<line x1="965.9" y1="497" x2="965.9" y2="489.3" stroke="#f7525f" stroke-width="1" stroke-opacity="0.5"/>
<line x1="968.7" y1="497" x2="968.7" y2="459.3" stroke="#22ab94" stroke-width="1" stroke-opacity="0.5"/>
<line x1="971.5" y1="497" x2="971.5" y2="485.4" stroke="#22ab94" stroke-width="1" stroke-opacity="0.5"/>
<line x1="974.3" y1="497" x2="974.3" y2="490.1" stroke="#22ab94" stroke-width="1" stroke-opacity="0.5"/>
<line x1="977.1" y1="497" x2="977.1" y2="484.9" stroke="#22ab94" stroke-width="1" stroke-opacity="0.5"/>
<line x1="979.9" y1="497" x2="979.9" y2="479.6" stroke="#f7525f" stroke-width="1" stroke-opacity="0.5"/>
<line x1="982.7" y1="497" x2="982.7" y2="474.4" stroke="#22ab94" stroke-width="1" stroke-opacity="0.5"/>
<line x1="985.5" y1="497" x2="985.5" y2="448.0" stroke="#22ab94" stroke-width="1" stroke-opacity="0.5"/>
<line x1="988.3" y1="497" x2="988.3" y2="488.4" stroke="#22ab94" stroke-width="1" stroke-opacity="0.5"/>
<line x1="991.1" y1="497" x2="991.1" y2="475.6" stroke="#22ab94" stroke-width="1" stroke-opacity="0.5"/>
<line x1="993.9" y1="497" x2="993.9" y2="484.8" stroke="#f7525f" stroke-width="1" stroke-opacity="0.5"/>
<line x1="996.7" y1="497" x2="996.7" y2="481.0" stroke="#f7525f" stroke-width="1" stroke-opacity="0.5"/>
<line x1="999.5" y1="497" x2="999.5" y2="488.9" stroke="#22ab94" stroke-width="1" stroke-opacity="0.5"/>
<line x1="1002.3" y1="497" x2="1002.3" y2="465.8" stroke="#f7525f" stroke-width="1" stroke-opacity="0.5"/>
<line x1="1005.1" y1="497" x2="1005.1" y2="490.5" stroke="#f7525f" stroke-width="1" stroke-opacity="0.5"/>
<line x1="1007.9" y1="497" x2="1007.9" y2="459.9" stroke="#f7525f" stroke-width="1" stroke-opacity="0.5"/>
<line x1="1010.7" y1="497" x2="1010.7" y2="483.4" stroke="#22ab94" stroke-width="1" stroke-opacity="0.5"/>
<line x1="1013.5" y1="497" x2="1013.5" y2="480.9" stroke="#22ab94" stroke-width="1" stroke-opacity="0.5"/>
<line x1="1016.3" y1="497" x2="1016.3" y2="466.5" stroke="#f7525f" stroke-width="1" stroke-opacity="0.5"/>
<line x1="1019.1" y1="497" x2="1019.1" y2="489.4" stroke="#22ab94" stroke-width="1" stroke-opacity="0.5"/>
<line x1="1021.9" y1="497" x2="1021.9" y2="487.1" stroke="#f7525f" stroke-width="1" stroke-opacity="0.5"/>
<line x1="1024.7" y1="497" x2="1024.7" y2="491.6" stroke="#22ab94" stroke-width="1" stroke-opacity="0.5"/>
<line x1="1027.5" y1="497" x2="1027.5" y2="488.1" stroke="#22ab94" stroke-width="1" stroke-opacity="0.5"/>
<line x1="1030.3" y1="497" x2="1030.3" y2="474.8" stroke="#22ab94" stroke-width="1" stroke-opacity="0.5"/>
<line x1="1033.1" y1="497" x2="1033.1" y2="455.4" stroke="#22ab94" stroke-width="1" stroke-opacity="0.5"/>
<line x1="1035.9" y1="497" x2="1035.9" y2="492.0" stroke="#f7525f" stroke-width="1" stroke-opacity="0.5"/>
<line x1="1038.7" y1="497" x2="1038.7" y2="475.9" stroke="#22ab94" stroke-width="1" stroke-opacity="0.5"/>
<line x1="1041.5" y1="497" x2="1041.5" y2="486.7" stroke="#22ab94" stroke-width="1" stroke-opacity="0.5"/>
<line x1="1044.3" y1="497" x2="1044.3" y2="466.9" stroke="#f7525f" stroke-width="1" stroke-opacity="0.5"/>
<line x1="1047.1" y1="497" x2="1047.1" y2="486.6" stroke="#22ab94" stroke-width="1" stroke-opacity="0.5"/>
<line x1="1049.9" y1="497" x2="1049.9" y2="491.4" stroke="#f7525f" stroke-width="1" stroke-opacity="0.5"/>
<line x1="1052.7" y1="497" x2="1052.7" y2="480.9" stroke="#22ab94" stroke-width="1" stroke-opacity="0.5"/>
<polyline points="60.0,490.0 120.0,489.0 230.0,484.0 300.0,486.0 370.0,488.0 430.0,485.0 503.0,482.0 560.0,484.0 640.0,483.0 700.0,484.0 728.0,487.0 761.0,480.0 800.0,482.0 880.0,484.0 960.0,486.0 1000.0,485.0 1054.0,485.0" fill="none" stroke="#3f6ad8" stroke-width="1.6" stroke-opacity="1" stroke-linejoin="round"/>
<line x1="60" y1="500" x2="1290" y2="500" stroke="#e3e5ee" stroke-width="1"/>
<polyline points="61.5,546.8 64.3,544.2 67.1,545.4 69.9,544.1 72.7,543.6 75.5,544.5 78.3,544.9 81.1,545.6 83.9,546.1 86.7,546.9 89.5,547.7 92.3,549.3 95.1,551.2 97.9,552.2 100.7,553.9 103.5,555.4 106.3,555.6 109.1,556.0 111.9,555.7 114.7,554.9 117.5,554.0 120.3,552.7 123.1,551.2 125.9,549.6 128.7,548.1 131.5,547.1 134.3,545.9 137.1,546.0 139.9,545.9 142.7,547.0 145.5,548.8 148.3,551.3 151.1,554.5 153.9,558.1 156.7,562.0 159.5,566.3 162.3,570.9 165.1,575.5 167.9,580.1 170.7,582.2 173.5,583.5 176.3,584.0 179.1,584.1 181.9,583.7 184.7,582.8 187.5,581.8 190.3,580.8 193.1,579.8 195.9,579.0 198.7,578.2 201.5,577.4 204.3,576.1 207.1,573.8 209.9,571.8 212.7,568.2 215.5,564.7 218.3,560.9 221.1,557.5 223.9,555.5 226.7,554.4 229.5,553.3 232.3,552.1 235.1,550.8 237.9,549.7 240.7,548.8 243.5,548.2 246.3,548.4 249.1,549.8 251.9,552.7 254.7,556.0 257.5,559.4 260.3,562.4 263.1,564.3 265.9,565.2 268.7,566.0 271.5,566.7 274.3,567.6 277.1,567.5 279.9,567.0 282.7,566.1 285.5,564.8 288.3,562.9 291.1,561.2 293.9,559.4 296.7,556.9 299.5,554.6 302.3,552.5 305.1,550.7 307.9,548.9 310.7,546.4 313.5,543.6 316.3,541.8 319.1,539.9 321.9,537.9 324.7,536.3 327.5,535.1 330.3,534.1 333.1,533.4 335.9,534.3 338.7,535.4 341.5,537.5 344.3,539.3 347.1,540.7 349.9,542.8 352.7,545.0 355.5,546.2 358.3,547.4 361.1,549.3 363.9,551.1 366.7,552.3 369.5,553.4 372.3,554.7 375.1,555.6 377.9,555.8 380.7,555.0 383.5,554.2 386.3,554.4 389.1,555.1 391.9,555.1 394.7,555.9 397.5,557.2 400.3,558.6 403.1,560.1 405.9,561.6 408.7,563.1 411.5,564.2 414.3,565.0 417.1,565.7 419.9,566.3 422.7,567.0 425.5,566.3 428.3,565.1 431.1,564.8 433.9,564.6 436.7,564.3 439.5,563.9 442.3,564.1 445.1,565.3 447.9,566.6 450.7,567.8 453.5,569.0 456.3,570.9 459.1,573.1 461.9,575.1 464.7,576.7 467.5,577.9 470.3,578.0 473.1,577.5 475.9,576.3 478.7,574.4 481.5,572.4 484.3,569.8 487.1,566.9 489.9,564.2 492.7,561.1 495.5,558.3 498.3,556.2 501.1,553.9 503.9,553.4 506.7,554.5 509.5,556.2 512.3,557.9 515.1,560.2 517.9,562.8 520.7,565.3 523.5,567.1 526.3,568.9 529.1,570.0 531.9,570.6 534.7,570.0 537.5,568.4 540.3,566.9 543.1,564.6 545.9,560.7 548.7,557.0 551.5,554.1 554.3,551.4 557.1,548.8 559.9,546.0 562.7,543.7 565.5,541.4 568.3,540.2 571.1,539.4 573.9,538.7 576.7,538.1 579.5,536.6 582.3,535.0 585.1,533.9 587.9,532.2 590.7,530.4 593.5,528.1 596.3,525.5 599.1,524.0 601.9,522.9 604.7,522.7 607.5,522.1 610.3,522.6 613.1,523.9 615.9,525.4 618.7,528.3 621.5,531.4 624.3,534.2 627.1,537.2 629.9,539.6 632.7,541.7 635.5,543.4 638.3,543.4 641.1,542.6 643.9,541.2 646.7,539.8 649.5,537.4 652.3,534.2 655.1,531.5 657.9,528.1 660.7,526.5 663.5,525.5 666.3,524.3 669.1,523.6 671.9,523.0 674.7,522.9 677.5,523.9 680.3,524.9 683.1,525.8 685.9,527.6 688.7,529.9 691.5,532.6 694.3,534.8 697.1,536.6 699.9,536.1 702.7,535.8 705.5,535.5 708.3,535.6 711.1,536.0 713.9,537.4 716.7,538.7 719.5,540.2 722.3,541.6 725.1,541.6 727.9,541.2 730.7,541.1 733.5,540.5 736.3,539.6 739.1,538.6 741.9,537.7 744.7,537.9 747.5,537.7 750.3,537.4 753.1,536.2 755.9,533.9 758.7,531.9 761.5,530.3 764.3,529.2 767.1,528.1 769.9,527.9 772.7,528.0 775.5,529.2 778.3,531.1 781.1,532.5 783.9,532.5 786.7,533.3 789.5,534.6 792.3,536.3 795.1,538.9 797.9,541.8 800.7,544.2 803.5,546.2 806.3,548.1 809.1,548.1 811.9,548.2 814.7,548.0 817.5,547.3 820.3,547.5 823.1,547.7 825.9,547.2 828.7,546.4 831.5,545.1 834.3,544.1 837.1,543.1 839.9,543.3 842.7,544.1 845.5,545.0 848.3,547.5 851.1,549.8 853.9,551.2 856.7,553.1 859.5,554.7 862.3,556.8 865.1,559.5 867.9,562.5 870.7,565.9 873.5,567.1 876.3,567.2 879.1,566.2 881.9,564.7 884.7,563.1 887.5,560.8 890.3,558.7 893.1,557.7 895.9,557.0 898.7,556.1 901.5,555.1 904.3,552.8 907.1,549.5 909.9,546.3 912.7,545.0 915.5,544.8 918.3,545.1 921.1,545.7 923.9,545.6 926.7,545.7 929.5,546.0 932.3,546.0 935.1,546.0 937.9,546.1 940.7,546.2 943.5,548.0 946.3,550.4 949.1,552.7 951.9,555.0 954.7,556.9 957.5,558.4 960.3,560.5 963.1,562.9 965.9,565.2 968.7,567.2 971.5,568.8 974.3,569.5 977.1,568.8 979.9,568.2 982.7,566.0 985.5,562.9 988.3,559.2 991.1,555.2 993.9,551.3 996.7,547.4 999.5,543.1 1002.3,539.6 1005.1,536.6 1007.9,534.0 1010.7,531.1 1013.5,528.6 1016.3,528.3 1019.1,527.5 1021.9,528.1 1024.7,529.6 1027.5,530.7 1030.3,531.5 1033.1,532.2 1035.9,533.0 1038.7,533.9 1041.5,533.6 1044.3,533.7 1047.1,533.3 1049.9,534.5 1052.7,534.3" fill="none" stroke="#efd98a" stroke-width="1.3" stroke-opacity="1" stroke-linejoin="round"/>
<polyline points="61.5,546.8 64.3,541.5 67.1,548.0 69.9,540.0 72.7,541.7 75.5,548.7 78.3,547.9 81.1,549.9 83.9,550.5 86.7,554.0 89.5,555.7 92.3,566.6 95.1,574.5 97.9,564.8 100.7,570.8 103.5,562.3 106.3,551.0 109.1,544.8 111.9,538.7 114.7,536.4 117.5,535.6 120.3,531.7 123.1,530.1 125.9,531.3 128.7,534.6 131.5,552.4 134.3,558.6 137.1,565.2 139.9,569.2 142.7,578.1 145.5,575.9 148.3,580.5 151.1,583.2 153.9,587.5 156.7,589.2 159.5,592.6 162.3,594.2 165.1,596.2 167.9,597.9 170.7,582.1 173.5,577.3 176.3,571.5 179.1,571.5 181.9,572.5 184.7,562.7 187.5,566.4 190.3,569.4 193.1,574.4 195.9,577.9 198.7,580.8 201.5,582.6 204.3,578.4 207.1,566.3 209.9,553.0 212.7,528.0 215.5,521.8 218.3,517.8 221.1,525.8 223.9,534.0 226.7,550.9 229.5,554.8 232.3,557.7 235.1,559.6 237.9,565.3 240.7,570.4 243.5,569.9 246.3,569.0 249.1,572.3 251.9,569.1 254.7,567.3 257.5,565.9 260.3,567.7 263.1,560.6 265.9,564.0 268.7,565.9 271.5,566.8 274.3,571.7 277.1,564.4 279.9,563.5 282.7,557.6 285.5,549.9 288.3,546.5 291.1,545.0 293.9,542.1 296.7,530.8 299.5,536.2 302.3,531.2 305.1,538.1 307.9,540.4 310.7,531.4 313.5,533.6 316.3,539.2 319.1,536.0 321.9,530.3 324.7,526.8 327.5,529.6 330.3,531.5 333.1,532.5 335.9,543.2 338.7,551.0 341.5,560.6 344.3,564.5 347.1,559.5 349.9,561.5 352.7,563.1 355.5,556.7 358.3,552.9 361.1,556.8 363.9,552.4 366.7,546.2 369.5,546.4 372.3,551.1 375.1,556.3 377.9,552.5 380.7,549.8 383.5,553.0 386.3,563.2 389.1,570.4 391.9,563.7 394.7,568.1 397.5,570.2 400.3,576.5 403.1,574.6 405.9,567.0 408.7,567.5 411.5,566.0 414.3,567.4 417.1,561.8 419.9,558.3 422.7,562.7 425.5,554.0 428.3,553.5 431.1,560.1 433.9,564.7 436.7,566.2 439.5,571.6 442.3,576.8 445.1,583.4 447.9,586.3 450.7,582.0 453.5,584.1 456.3,589.1 459.1,589.5 461.9,590.8 464.7,575.7 467.5,570.1 470.3,562.3 473.1,557.0 475.9,549.3 478.7,545.5 481.5,548.8 484.3,546.2 487.1,545.6 489.9,544.7 492.7,540.8 495.5,549.5 498.3,560.1 501.1,558.3 503.9,569.9 506.7,584.9 509.5,586.7 512.3,580.5 515.1,581.4 517.9,581.4 520.7,584.0 523.5,571.5 526.3,570.4 529.1,560.0 531.9,550.4 534.7,541.1 537.5,536.6 540.3,537.8 543.1,537.5 545.9,530.5 548.7,535.2 551.5,539.8 554.3,543.5 557.1,545.3 559.9,543.9 562.7,540.4 565.5,538.1 568.3,543.0 571.1,539.1 573.9,531.1 576.7,528.4 579.5,516.0 582.3,515.0 585.1,515.3 587.9,511.9 590.7,514.1 593.5,511.3 596.3,509.5 599.1,522.2 601.9,525.4 604.7,535.4 607.5,534.4 610.3,546.4 613.1,548.8 615.9,549.7 618.7,556.2 621.5,559.4 624.3,553.4 627.1,555.2 629.9,547.2 632.7,540.8 635.5,532.9 638.3,522.7 641.1,514.3 643.9,514.9 646.7,514.8 649.5,513.7 652.3,504.2 655.1,511.0 657.9,508.4 660.7,538.1 663.5,538.8 666.3,537.8 669.1,538.4 671.9,532.6 674.7,530.7 677.5,536.4 680.3,528.7 683.1,528.1 685.9,539.4 688.7,546.1 691.5,541.8 694.3,542.2 697.1,534.0 699.9,530.8 702.7,533.9 705.5,534.6 708.3,539.4 711.1,538.1 713.9,549.5 716.7,554.6 719.5,550.3 722.3,547.4 725.1,539.5 727.9,540.5 730.7,540.3 733.5,534.1 736.3,520.8 739.1,517.5 741.9,520.9 744.7,538.4 747.5,536.4 750.3,533.4 753.1,533.0 755.9,521.8 758.7,522.2 761.5,526.0 764.3,523.9 767.1,525.0 769.9,537.1 772.7,535.2 775.5,538.7 778.3,544.2 781.1,539.8 783.9,537.9 786.7,547.6 789.5,551.6 792.3,557.0 795.1,558.5 797.9,562.4 800.7,560.6 803.5,551.5 806.3,551.0 809.1,537.9 811.9,535.8 814.7,536.5 817.5,534.7 820.3,542.0 823.1,540.9 825.9,540.9 828.7,540.1 831.5,538.1 834.3,544.4 837.1,549.4 839.9,563.7 842.7,562.2 845.5,563.6 848.3,572.3 851.1,568.1 853.9,557.1 856.7,560.8 859.5,564.0 862.3,570.0 865.1,578.7 867.9,583.0 870.7,585.8 873.5,561.2 876.3,550.9 879.1,549.8 881.9,540.0 884.7,541.5 887.5,540.0 890.3,538.5 893.1,543.4 895.9,550.9 898.7,551.6 901.5,555.9 904.3,546.3 907.1,537.6 909.9,540.8 912.7,542.8 915.5,547.6 918.3,554.0 921.1,548.9 923.9,540.4 926.7,541.6 929.5,541.6 932.3,544.1 935.1,550.1 937.9,553.6 940.7,557.3 943.5,571.3 946.3,571.2 949.1,573.4 951.9,574.3 954.7,574.6 957.5,575.5 960.3,578.4 963.1,574.1 965.9,573.2 968.7,570.0 971.5,566.2 974.3,559.8 977.1,544.0 979.9,547.9 982.7,541.4 985.5,527.6 988.3,521.5 991.1,518.5 993.9,520.6 996.7,520.8 999.5,518.3 1002.3,525.1 1005.1,530.2 1007.9,534.3 1010.7,525.4 1013.5,524.2 1016.3,539.9 1019.1,537.2 1021.9,550.3 1024.7,548.9 1027.5,535.5 1030.3,529.9 1033.1,530.4 1035.9,531.9 1038.7,530.9 1041.5,521.8 1044.3,530.7 1047.1,529.2 1049.9,542.2 1052.7,522.1" fill="none" stroke="#6a58b0" stroke-width="1.15" stroke-opacity="1" stroke-linejoin="round"/>
<text x="1245" y="137.8" font-size="10.5" fill="#222" textLength="22" lengthAdjust="spacingAndGlyphs">445’0</text>
<text x="1245" y="163.2" font-size="10.5" fill="#222" textLength="22" lengthAdjust="spacingAndGlyphs">440’0</text>
<text x="1245" y="188.6" font-size="10.5" fill="#222" textLength="22" lengthAdjust="spacingAndGlyphs">435’0</text>
<text x="1245" y="290.2" font-size="10.5" fill="#222" textLength="22" lengthAdjust="spacingAndGlyphs">415’0</text>
<text x="1245" y="315.6" font-size="10.5" fill="#222" textLength="22" lengthAdjust="spacingAndGlyphs">410’0</text>
<text x="1245" y="341.0" font-size="10.5" fill="#222" textLength="22" lengthAdjust="spacingAndGlyphs">405’0</text>
<text x="1245" y="366.4" font-size="10.5" fill="#222" textLength="22" lengthAdjust="spacingAndGlyphs">400’0</text>
<text x="1245" y="391.8" font-size="10.5" fill="#222" textLength="22" lengthAdjust="spacingAndGlyphs">395’0</text>
<text x="1245" y="417.2" font-size="10.5" fill="#222" textLength="22" lengthAdjust="spacingAndGlyphs">390’0</text>
<text x="1245" y="442.6" font-size="10.5" fill="#222" textLength="22" lengthAdjust="spacingAndGlyphs">385’0</text>
<text x="1245" y="468.0" font-size="10.5" fill="#222" textLength="22" lengthAdjust="spacingAndGlyphs">380’0</text>
<text x="1245" y="506.8" font-size="10.5" fill="#222" textLength="24" lengthAdjust="spacingAndGlyphs">80.00</text>
<text x="1245" y="564.8" font-size="10.5" fill="#222" textLength="24" lengthAdjust="spacingAndGlyphs">40.00</text>
<text x="1245" y="593.3" font-size="10.5" fill="#222" textLength="24" lengthAdjust="spacingAndGlyphs">20.00</text>
<rect x="1239.3" y="205" width="32.7" height="13.5" fill="#0e9480"/>
<text x="1244" y="215.2" font-size="10.5" font-weight="bold" fill="#fff" textLength="23" lengthAdjust="spacingAndGlyphs">429’6</text>
<rect x="1239.3" y="220.8" width="32.7" height="13.2" fill="#f57c1f"/>
<text x="1244" y="230.7" font-size="10.5" font-weight="bold" fill="#fff" textLength="23" lengthAdjust="spacingAndGlyphs">426’4</text>
<rect x="1239.3" y="234" width="32.7" height="13.2" fill="#43a047"/>
<text x="1244" y="243.9" font-size="10.5" font-weight="bold" fill="#fff" textLength="23" lengthAdjust="spacingAndGlyphs">426’4</text>
<rect x="1239.3" y="247.4" width="32.7" height="14.3" fill="#2962ff"/>
<text x="1244" y="258.4" font-size="10.5" font-weight="bold" fill="#fff" textLength="23" lengthAdjust="spacingAndGlyphs">421’0</text>
<rect x="1239.3" y="262" width="32.7" height="14.6" fill="#9c27b0"/>
<text x="1244" y="273.3" font-size="10.5" font-weight="bold" fill="#fff" textLength="23" lengthAdjust="spacingAndGlyphs">420’2</text>
<rect x="1239.6" y="491" width="19" height="7" fill="#22ab94"/>
<rect x="1239.6" y="477" width="41.5" height="13.5" fill="#2962ff"/>
<text x="1243" y="487.6" font-size="10.5" fill="#fff" textLength="34" lengthAdjust="spacingAndGlyphs">26.49K</text>
<rect x="1239.3" y="516.6" width="35" height="12" fill="#7e57c2"/>
<text x="1243.5" y="526.4" font-size="10.5" fill="#fff" textLength="25" lengthAdjust="spacingAndGlyphs">67.14</text>
<rect x="1239.3" y="530.8" width="35" height="12.2" fill="#fdd835"/>
<text x="1243.5" y="540.6" font-size="10.5" fill="#222" textLength="25" lengthAdjust="spacingAndGlyphs">61.92</text>
<rect x="62" y="131" width="484" height="18" fill="#ffffff" fill-opacity="0.55"/>
<rect x="63" y="153" width="28" height="13" rx="2" fill="#fff" fill-opacity="0.85" stroke="#e0e3eb" stroke-width="0.6"/>
<path d="M69.5,159 l2.3,2.3 l2.3,-2.3" fill="none" stroke="#222" stroke-width="1.3"/>
<text x="80" y="165" font-size="11" fill="#555">3</text>
<circle cx="72" cy="140" r="6.3" fill="#f2c14e"/>
<path d="M72,135.5 c-1.8,1.6 -2.2,4.2 0,6.2 c2.2,-2 1.8,-4.6 0,-6.2z" fill="#fff" opacity="0.85"/>
<text x="83" y="144.5" font-size="11.6" fill="#24262e" textLength="207" lengthAdjust="spacingAndGlyphs">Corn Futures (Dec 2025) · 4h · CBOT</text>
<rect x="297" y="133" width="34" height="14" rx="7" fill="#e3f3ef" fill-opacity="0.8"/>
<circle cx="305.5" cy="140" r="3.3" fill="#13967f"/>
<text x="316" y="144" font-size="10" fill="#f0a030">D</text>
<text x="337" y="144" font-size="9.6" fill="#333" textLength="206" lengthAdjust="spacingAndGlyphs">O<tspan fill="#1a9a85">429’4</tspan> H<tspan fill="#1a9a85">429’6</tspan> L<tspan fill="#1a9a85">429’4</tspan> C<tspan fill="#1a9a85">429’6 +0’2 (+0.06%)</tspan></text>
</svg>
<div class="rl" style="left:1325.2px;top:137px;width:3.4px;height:906px"></div>
<div class="rl" style="left:1325.5px;top:450.3px;width:475px;height:3.2px"></div>
<div class="rl" style="left:1325.5px;top:778.4px;width:475px;height:3.2px"></div>
<svg style="position:absolute;left:0;top:0" width="1800" height="1112" viewBox="0 0 1800 1112"><defs><clipPath id="cimg"><rect x="1350.5" y="141.4" width="425.0" height="285.9"/></clipPath><clipPath id="cmain"><polygon points="1340.0,120.0 1735.0,120.0 1723.0,141.0 1680.0,213.0 1636.0,285.0 1600.0,330.0 1576.0,358.0 1540.0,386.0 1490.0,400.0 1440.0,392.0 1340.0,378.0"/></clipPath><clipPath id="crc"><polygon points="1800.0,185.0 1776.0,205.0 1740.0,245.0 1708.0,285.0 1685.0,317.0 1666.0,349.0 1656.0,375.0 1650.0,440.0 1800.0,440.0"/></clipPath><clipPath id="clow"><polygon points="1465.0,440.0 1650.0,440.0 1656.0,375.0 1666.0,349.0 1685.0,317.0 1636.0,285.0 1600.0,330.0 1576.0,358.0 1540.0,386.0 1490.0,408.0"/></clipPath><clipPath id="cbl"><polygon points="1340.0,372.0 1440.0,392.0 1490.0,402.0 1465.0,440.0 1340.0,440.0"/></clipPath><clipPath id="ctr"><polygon points="1723.0,120.0 1800.0,120.0 1800.0,185.0 1776.0,205.0 1740.0,245.0 1708.0,285.0 1685.0,317.0 1636.0,285.0 1680.0,213.0"/></clipPath><linearGradient id="gmain" x1="1450" y1="0" x2="1680" y2="0" gradientUnits="userSpaceOnUse"><stop offset="0" stop-color="#eecc4c"/><stop offset="0.45" stop-color="#dec248"/><stop offset="1" stop-color="#aa9a3e"/></linearGradient><radialGradient id="kg1" cx="0.45" cy="0.35" r="0.75"><stop offset="0" stop-color="#f8eab0"/><stop offset="0.55" stop-color="#f0d05c"/><stop offset="1" stop-color="#d8a834"/></radialGradient><radialGradient id="kg2" cx="0.45" cy="0.35" r="0.75"><stop offset="0" stop-color="#eef0d0"/><stop offset="0.5" stop-color="#dcd650"/><stop offset="1" stop-color="#bcb234"/></radialGradient><radialGradient id="kg3" cx="0.45" cy="0.35" r="0.75"><stop offset="0" stop-color="#e8cc78"/><stop offset="0.55" stop-color="#d0a840"/><stop offset="1" stop-color="#ac882c"/></radialGradient><filter id="fb1" x="-30%" y="-30%" width="160%" height="160%"><feGaussianBlur stdDeviation="10"/></filter><filter id="fb2" x="-20%" y="-20%" width="140%" height="140%"><feGaussianBlur stdDeviation="1.4"/></filter><filter id="fb3" x="-20%" y="-20%" width="140%" height="140%"><feGaussianBlur stdDeviation="3"/></filter><filter id="fb4" x="-30%" y="-30%" width="160%" height="160%"><feGaussianBlur stdDeviation="5"/></filter></defs><g clip-path="url(#cimg)"><rect x="1350.5" y="141.4" width="425.0" height="285.9" fill="#c4a23e"/><g filter="url(#fb1)"><polygon points="1340.0,120.0 1735.0,120.0 1723.0,141.0 1680.0,213.0 1636.0,285.0 1600.0,330.0 1576.0,358.0 1540.0,386.0 1490.0,400.0 1440.0,392.0 1340.0,378.0" fill="url(#gmain)"/><polygon points="1723.0,120.0 1800.0,120.0 1800.0,185.0 1776.0,205.0 1740.0,245.0 1708.0,285.0 1685.0,317.0 1636.0,285.0 1680.0,213.0" fill="#a08e3c"/><polygon points="1465.0,440.0 1650.0,440.0 1656.0,375.0 1666.0,349.0 1685.0,317.0 1636.0,285.0 1600.0,330.0 1576.0,358.0 1540.0,386.0 1490.0,408.0" fill="#c49e3c"/><polygon points="1340.0,372.0 1440.0,392.0 1490.0,402.0 1465.0,440.0 1340.0,440.0" fill="#e8c040"/></g><polygon points="1800.0,185.0 1776.0,205.0 1740.0,245.0 1708.0,285.0 1685.0,317.0 1666.0,349.0 1656.0,375.0 1650.0,440.0 1800.0,440.0" fill="#d6d04a" filter="url(#fb3)"/><g filter="url(#fb2)"><g clip-path="url(#cmain)"><g transform="translate(1602.4,114.1) rotate(26.8)" opacity="0.42"><rect x="-17.2" y="-11.6" width="34.3" height="23.3" rx="10.1" fill="url(#kg1)"/><ellipse cx="-1.7" cy="-2.8" rx="11.8" ry="6.4" fill="#fbf4de" opacity="0.45"/></g><g transform="translate(1639.1,128.7) rotate(22.3)" opacity="0.17"><rect x="-17.8" y="-12.3" width="35.6" height="24.6" rx="10.7" fill="url(#kg1)"/><ellipse cx="-1.8" cy="-2.9" rx="10.3" ry="5.7" fill="#fbf4de" opacity="0.45"/></g><g transform="translate(1539.8,113.1) rotate(26.5)" opacity="0.83"><rect x="-17.0" y="-12.2" width="34.0" height="24.3" rx="10.6" fill="url(#kg1)"/><ellipse cx="-1.7" cy="-2.9" rx="9.8" ry="5.6" fill="#fbf4de" opacity="0.45"/></g><g transform="translate(1576.1,129.1) rotate(26.6)" opacity="0.59"><rect x="-17.3" y="-12.1" width="34.7" height="24.2" rx="10.5" fill="url(#kg1)"/><ellipse cx="-1.7" cy="-2.9" rx="11.0" ry="6.1" fill="#fbf4de" opacity="0.45"/></g><g transform="translate(1610.1,144.7) rotate(27.7)" opacity="0.37"><rect x="-19.0" y="-12.2" width="38.0" height="24.4" rx="10.6" fill="url(#kg1)"/><ellipse cx="-1.9" cy="-2.9" rx="13.0" ry="6.7" fill="#fbf4de" opacity="0.45"/></g><g transform="translate(1645.2,159.4) rotate(23.8)" opacity="0.13"><rect x="-16.7" y="-12.5" width="33.5" height="25.1" rx="10.9" fill="url(#kg1)"/><ellipse cx="-1.7" cy="-3.0" rx="11.3" ry="6.8" fill="#fbf4de" opacity="0.45"/></g><g transform="translate(1477.7,111.7) rotate(20.3)" opacity="1.00"><rect x="-17.2" y="-11.0" width="34.5" height="22.0" rx="9.6" fill="url(#kg1)"/><ellipse cx="-1.7" cy="-2.6" rx="9.0" ry="4.6" fill="#fbf4de" opacity="0.45"/></g><g transform="translate(1513.4,127.8) rotate(27.2)" opacity="1.00"><rect x="-18.2" y="-12.0" width="36.4" height="23.9" rx="10.4" fill="url(#kg1)"/><ellipse cx="-1.8" cy="-2.9" rx="9.6" ry="5.1" fill="#fbf4de" opacity="0.45"/></g><g transform="translate(1547.0,143.3) rotate(26.7)" opacity="0.79"><rect x="-17.1" y="-11.5" width="34.2" height="23.1" rx="10.0" fill="url(#kg1)"/><ellipse cx="-1.7" cy="-2.8" rx="8.6" ry="4.7" fill="#fbf4de" opacity="0.45"/></g><g transform="translate(1582.6,157.9) rotate(22.7)" opacity="0.55"><rect x="-18.2" y="-10.8" width="36.4" height="21.6" rx="9.4" fill="url(#kg1)"/><ellipse cx="-1.8" cy="-2.6" rx="10.8" ry="5.1" fill="#fbf4de" opacity="0.45"/></g><g transform="translate(1617.8,175.5) rotate(25.1)" opacity="0.31"><rect x="-18.9" y="-11.6" width="37.7" height="23.1" rx="10.1" fill="url(#kg1)"/><ellipse cx="-1.9" cy="-2.8" rx="12.3" ry="6.0" fill="#fbf4de" opacity="0.45"/></g><g transform="translate(1652.0,189.0) rotate(27.7)" opacity="0.09"><rect x="-18.1" y="-11.9" width="36.3" height="23.8" rx="10.3" fill="url(#kg1)"/><ellipse cx="-1.8" cy="-2.9" rx="12.3" ry="6.5" fill="#fbf4de" opacity="0.45"/></g><g transform="translate(1417.7,112.3) rotate(23.9)" opacity="1.00"><rect x="-17.5" y="-11.3" width="35.1" height="22.7" rx="9.8" fill="url(#kg1)"/><ellipse cx="-1.8" cy="-2.7" rx="12.0" ry="6.2" fill="#fbf4de" opacity="0.45"/></g><g transform="translate(1450.7,127.7) rotate(22.3)" opacity="1.00"><rect x="-16.6" y="-12.0" width="33.2" height="24.1" rx="10.5" fill="url(#kg1)"/><ellipse cx="-1.7" cy="-2.9" rx="9.5" ry="5.5" fill="#fbf4de" opacity="0.45"/></g><g transform="translate(1486.6,144.0) rotate(27.5)" opacity="1.00"><rect x="-16.2" y="-11.8" width="32.5" height="23.7" rx="10.3" fill="url(#kg1)"/><ellipse cx="-1.6" cy="-2.8" rx="8.7" ry="5.1" fill="#fbf4de" opacity="0.45"/></g><g transform="translate(1521.4,158.0) rotate(22.3)" opacity="0.96"><rect x="-17.1" y="-10.9" width="34.1" height="21.9" rx="9.5" fill="url(#kg1)"/><ellipse cx="-1.7" cy="-2.6" rx="11.7" ry="6.0" fill="#fbf4de" opacity="0.45"/></g><g transform="translate(1555.6,174.0) rotate(20.9)" opacity="0.73"><rect x="-18.3" y="-12.0" width="36.6" height="24.0" rx="10.4" fill="url(#kg1)"/><ellipse cx="-1.8" cy="-2.9" rx="11.6" ry="6.1" fill="#fbf4de" opacity="0.45"/></g><g transform="translate(1590.7,189.1) rotate(24.2)" opacity="0.50"><rect x="-17.9" y="-11.4" width="35.9" height="22.7" rx="9.9" fill="url(#kg1)"/><ellipse cx="-1.8" cy="-2.7" rx="9.7" ry="4.9" fill="#fbf4de" opacity="0.45"/></g><g transform="translate(1624.7,204.7) rotate(22.0)" opacity="0.27"><rect x="-18.6" y="-12.0" width="37.2" height="23.9" rx="10.4" fill="url(#kg1)"/><ellipse cx="-1.9" cy="-2.9" rx="9.1" ry="4.7" fill="#fbf4de" opacity="0.45"/></g><g transform="translate(1659.4,221.5) rotate(26.2)" opacity="0.04"><rect x="-19.1" y="-11.9" width="38.2" height="23.7" rx="10.3" fill="url(#kg1)"/><ellipse cx="-1.9" cy="-2.8" rx="9.2" ry="4.6" fill="#fbf4de" opacity="0.45"/></g><g transform="translate(1354.8,111.8) rotate(21.1)" opacity="1.00"><rect x="-17.1" y="-12.4" width="34.3" height="24.8" rx="10.8" fill="url(#kg1)"/><ellipse cx="-1.7" cy="-3.0" rx="11.5" ry="6.7" fill="#fbf4de" opacity="0.45"/></g><g transform="translate(1389.0,127.5) rotate(24.7)" opacity="1.00"><rect x="-17.8" y="-11.4" width="35.6" height="22.7" rx="9.9" fill="url(#kg1)"/><ellipse cx="-1.8" cy="-2.7" rx="9.1" ry="4.7" fill="#fbf4de" opacity="0.45"/></g><g transform="translate(1424.5,141.8) rotate(25.3)" opacity="1.00"><rect x="-16.9" y="-12.5" width="33.9" height="25.0" rx="10.9" fill="url(#kg1)"/><ellipse cx="-1.7" cy="-3.0" rx="11.0" ry="6.5" fill="#fbf4de" opacity="0.45"/></g><g transform="translate(1457.3,158.8) rotate(20.4)" opacity="1.00"><rect x="-19.4" y="-12.9" width="38.7" height="25.8" rx="11.2" fill="url(#kg1)"/><ellipse cx="-1.9" cy="-3.1" rx="12.2" ry="6.5" fill="#fbf4de" opacity="0.45"/></g><g transform="translate(1494.0,173.1) rotate(21.1)" opacity="1.00"><rect x="-18.3" y="-12.8" width="36.6" height="25.6" rx="11.1" fill="url(#kg1)"/><ellipse cx="-1.8" cy="-3.1" rx="11.5" ry="6.5" fill="#fbf4de" opacity="0.45"/></g><g transform="translate(1527.4,190.2) rotate(21.3)" opacity="0.92"><rect x="-16.7" y="-12.0" width="33.4" height="24.0" rx="10.4" fill="url(#kg1)"/><ellipse cx="-1.7" cy="-2.9" rx="9.5" ry="5.4" fill="#fbf4de" opacity="0.45"/></g><g transform="translate(1562.9,203.6) rotate(20.5)" opacity="0.68"><rect x="-16.6" y="-11.5" width="33.1" height="22.9" rx="10.0" fill="url(#kg1)"/><ellipse cx="-1.7" cy="-2.8" rx="8.2" ry="4.5" fill="#fbf4de" opacity="0.45"/></g><g transform="translate(1597.5,220.7) rotate(22.5)" opacity="0.45"><rect x="-19.0" y="-10.9" width="38.1" height="21.8" rx="9.5" fill="url(#kg1)"/><ellipse cx="-1.9" cy="-2.6" rx="10.9" ry="5.0" fill="#fbf4de" opacity="0.45"/></g><g transform="translate(1632.2,235.6) rotate(25.6)" opacity="0.22"><rect x="-19.2" y="-11.5" width="38.5" height="22.9" rx="10.0" fill="url(#kg1)"/><ellipse cx="-1.9" cy="-2.7" rx="9.5" ry="4.5" fill="#fbf4de" opacity="0.45"/></g><g transform="translate(1327.3,127.4) rotate(21.0)" opacity="1.00"><rect x="-16.5" y="-12.1" width="33.0" height="24.3" rx="10.6" fill="url(#kg1)"/><ellipse cx="-1.6" cy="-2.9" rx="8.2" ry="4.8" fill="#fbf4de" opacity="0.45"/></g><g transform="translate(1361.7,141.9) rotate(26.4)" opacity="1.00"><rect x="-19.0" y="-11.7" width="38.1" height="23.4" rx="10.2" fill="url(#kg1)"/><ellipse cx="-1.9" cy="-2.8" rx="10.4" ry="5.1" fill="#fbf4de" opacity="0.45"/></g><g transform="translate(1395.1,158.5) rotate(25.4)" opacity="1.00"><rect x="-16.4" y="-10.9" width="32.7" height="21.9" rx="9.5" fill="url(#kg1)"/><ellipse cx="-1.6" cy="-2.6" rx="11.1" ry="5.9" fill="#fbf4de" opacity="0.45"/></g><g transform="translate(1430.2,172.5) rotate(21.1)" opacity="1.00"><rect x="-19.4" y="-12.1" width="38.7" height="24.3" rx="10.6" fill="url(#kg1)"/><ellipse cx="-1.9" cy="-2.9" rx="12.6" ry="6.3" fill="#fbf4de" opacity="0.45"/></g><g transform="translate(1465.9,188.5) rotate(22.8)" opacity="1.00"><rect x="-17.0" y="-11.4" width="33.9" height="22.7" rx="9.9" fill="url(#kg1)"/><ellipse cx="-1.7" cy="-2.7" rx="10.3" ry="5.5" fill="#fbf4de" opacity="0.45"/></g><g transform="translate(1500.1,203.5) rotate(23.5)" opacity="1.00"><rect x="-18.9" y="-12.1" width="37.8" height="24.2" rx="10.5" fill="url(#kg1)"/><ellipse cx="-1.9" cy="-2.9" rx="12.3" ry="6.3" fill="#fbf4de" opacity="0.45"/></g><g transform="translate(1535.9,219.8) rotate(23.2)" opacity="0.86"><rect x="-18.1" y="-11.9" width="36.2" height="23.8" rx="10.4" fill="url(#kg1)"/><ellipse cx="-1.8" cy="-2.9" rx="11.5" ry="6.1" fill="#fbf4de" opacity="0.45"/></g><g transform="translate(1568.8,234.1) rotate(23.8)" opacity="0.64"><rect x="-16.9" y="-10.7" width="33.7" height="21.3" rx="9.3" fill="url(#kg1)"/><ellipse cx="-1.7" cy="-2.6" rx="11.2" ry="5.7" fill="#fbf4de" opacity="0.45"/></g><g transform="translate(1605.1,249.5) rotate(23.4)" opacity="0.40"><rect x="-17.7" y="-12.7" width="35.4" height="25.3" rx="11.0" fill="url(#kg1)"/><ellipse cx="-1.8" cy="-3.0" rx="10.8" ry="6.2" fill="#fbf4de" opacity="0.45"/></g><g transform="translate(1639.1,265.2) rotate(23.1)" opacity="0.17"><rect x="-16.7" y="-10.9" width="33.4" height="21.9" rx="9.5" fill="url(#kg1)"/><ellipse cx="-1.7" cy="-2.6" rx="9.3" ry="4.9" fill="#fbf4de" opacity="0.45"/></g><g transform="translate(1333.9,158.7) rotate(25.4)" opacity="1.00"><rect x="-16.6" y="-12.1" width="33.2" height="24.3" rx="10.6" fill="url(#kg1)"/><ellipse cx="-1.7" cy="-2.9" rx="9.0" ry="5.3" fill="#fbf4de" opacity="0.45"/></g><g transform="translate(1369.2,172.3) rotate(20.6)" opacity="1.00"><rect x="-16.9" y="-10.6" width="33.7" height="21.3" rx="9.2" fill="url(#kg1)"/><ellipse cx="-1.7" cy="-2.6" rx="8.9" ry="4.5" fill="#fbf4de" opacity="0.45"/></g><g transform="translate(1403.1,189.7) rotate(22.3)" opacity="1.00"><rect x="-17.4" y="-11.3" width="34.8" height="22.6" rx="9.8" fill="url(#kg1)"/><ellipse cx="-1.7" cy="-2.7" rx="10.1" ry="5.2" fill="#fbf4de" opacity="0.45"/></g><g transform="translate(1438.7,204.5) rotate(27.5)" opacity="1.00"><rect x="-16.7" y="-11.1" width="33.5" height="22.3" rx="9.7" fill="url(#kg1)"/><ellipse cx="-1.7" cy="-2.7" rx="10.4" ry="5.5" fill="#fbf4de" opacity="0.45"/></g><g transform="translate(1473.2,219.3) rotate(26.2)" opacity="1.00"><rect x="-19.4" y="-10.6" width="38.7" height="21.2" rx="9.2" fill="url(#kg1)"/><ellipse cx="-1.9" cy="-2.5" rx="9.5" ry="4.2" fill="#fbf4de" opacity="0.45"/></g><g transform="translate(1507.3,233.8) rotate(22.8)" opacity="1.00"><rect x="-18.0" y="-12.9" width="36.0" height="25.8" rx="11.2" fill="url(#kg1)"/><ellipse cx="-1.8" cy="-3.1" rx="10.6" ry="6.1" fill="#fbf4de" opacity="0.45"/></g><g transform="translate(1541.3,249.3) rotate(20.4)" opacity="0.82"><rect x="-19.1" y="-11.7" width="38.2" height="23.5" rx="10.2" fill="url(#kg1)"/><ellipse cx="-1.9" cy="-2.8" rx="12.9" ry="6.3" fill="#fbf4de" opacity="0.45"/></g><g transform="translate(1576.3,264.7) rotate(23.3)" opacity="0.59"><rect x="-17.5" y="-10.7" width="35.0" height="21.4" rx="9.3" fill="url(#kg1)"/><ellipse cx="-1.7" cy="-2.6" rx="9.3" ry="4.6" fill="#fbf4de" opacity="0.45"/></g><g transform="translate(1611.2,280.2) rotate(24.1)" opacity="0.36"><rect x="-16.3" y="-12.9" width="32.6" height="25.7" rx="11.2" fill="url(#kg1)"/><ellipse cx="-1.6" cy="-3.1" rx="8.4" ry="5.3" fill="#fbf4de" opacity="0.45"/></g><g transform="translate(1646.2,296.8) rotate(24.3)" opacity="0.13"><rect x="-16.5" y="-11.3" width="32.9" height="22.6" rx="9.8" fill="url(#kg1)"/><ellipse cx="-1.6" cy="-2.7" rx="8.3" ry="4.5" fill="#fbf4de" opacity="0.45"/></g><g transform="translate(1340.2,187.7) rotate(22.5)" opacity="1.00"><rect x="-16.5" y="-12.4" width="33.0" height="24.8" rx="10.8" fill="url(#kg1)"/><ellipse cx="-1.6" cy="-3.0" rx="10.7" ry="6.5" fill="#fbf4de" opacity="0.45"/></g><g transform="translate(1375.0,202.6) rotate(24.6)" opacity="1.00"><rect x="-17.0" y="-10.8" width="34.0" height="21.5" rx="9.4" fill="url(#kg1)"/><ellipse cx="-1.7" cy="-2.6" rx="9.7" ry="4.9" fill="#fbf4de" opacity="0.45"/></g><g transform="translate(1410.0,218.0) rotate(22.3)" opacity="1.00"><rect x="-18.5" y="-10.7" width="36.9" height="21.4" rx="9.3" fill="url(#kg1)"/><ellipse cx="-1.8" cy="-2.6" rx="9.6" ry="4.5" fill="#fbf4de" opacity="0.45"/></g><g transform="translate(1445.0,233.6) rotate(24.4)" opacity="1.00"><rect x="-17.6" y="-11.3" width="35.1" height="22.6" rx="9.8" fill="url(#kg1)"/><ellipse cx="-1.8" cy="-2.7" rx="11.2" ry="5.8" fill="#fbf4de" opacity="0.45"/></g><g transform="translate(1481.0,250.4) rotate(26.5)" opacity="1.00"><rect x="-18.7" y="-11.9" width="37.3" height="23.9" rx="10.4" fill="url(#kg1)"/><ellipse cx="-1.9" cy="-2.9" rx="10.7" ry="5.5" fill="#fbf4de" opacity="0.45"/></g><g transform="translate(1515.1,266.5) rotate(26.5)" opacity="1.00"><rect x="-18.6" y="-12.2" width="37.1" height="24.4" rx="10.6" fill="url(#kg1)"/><ellipse cx="-1.9" cy="-2.9" rx="10.0" ry="5.2" fill="#fbf4de" opacity="0.45"/></g><g transform="translate(1549.1,280.0) rotate(25.4)" opacity="0.77"><rect x="-16.4" y="-11.0" width="32.8" height="21.9" rx="9.5" fill="url(#kg1)"/><ellipse cx="-1.6" cy="-2.6" rx="8.8" ry="4.7" fill="#fbf4de" opacity="0.45"/></g><g transform="translate(1583.6,295.3) rotate(20.4)" opacity="0.54"><rect x="-18.7" y="-11.9" width="37.3" height="23.8" rx="10.3" fill="url(#kg1)"/><ellipse cx="-1.9" cy="-2.9" rx="9.1" ry="4.6" fill="#fbf4de" opacity="0.45"/></g><g transform="translate(1618.0,311.5) rotate(21.8)" opacity="0.31"><rect x="-19.0" y="-12.8" width="38.0" height="25.6" rx="11.1" fill="url(#kg1)"/><ellipse cx="-1.9" cy="-3.1" rx="11.6" ry="6.2" fill="#fbf4de" opacity="0.45"/></g><g transform="translate(1653.4,326.9) rotate(26.6)" opacity="0.08"><rect x="-17.3" y="-10.6" width="34.5" height="21.2" rx="9.2" fill="url(#kg1)"/><ellipse cx="-1.7" cy="-2.5" rx="10.4" ry="5.1" fill="#fbf4de" opacity="0.45"/></g><g transform="translate(1349.0,219.8) rotate(20.8)" opacity="1.00"><rect x="-17.9" y="-12.9" width="35.9" height="25.7" rx="11.2" fill="url(#kg1)"/><ellipse cx="-1.8" cy="-3.1" rx="10.8" ry="6.2" fill="#fbf4de" opacity="0.45"/></g><g transform="translate(1383.8,234.0) rotate(24.6)" opacity="1.00"><rect x="-16.4" y="-12.9" width="32.7" height="25.7" rx="11.2" fill="url(#kg1)"/><ellipse cx="-1.6" cy="-3.1" rx="8.0" ry="5.0" fill="#fbf4de" opacity="0.45"/></g><g transform="translate(1417.7,250.6) rotate(21.6)" opacity="1.00"><rect x="-17.5" y="-11.1" width="34.9" height="22.2" rx="9.6" fill="url(#kg1)"/><ellipse cx="-1.7" cy="-2.7" rx="9.4" ry="4.8" fill="#fbf4de" opacity="0.45"/></g><g transform="translate(1452.6,264.8) rotate(22.0)" opacity="1.00"><rect x="-18.6" y="-11.1" width="37.3" height="22.3" rx="9.7" fill="url(#kg1)"/><ellipse cx="-1.9" cy="-2.7" rx="10.3" ry="4.9" fill="#fbf4de" opacity="0.45"/></g><g transform="translate(1488.3,281.4) rotate(21.1)" opacity="1.00"><rect x="-19.0" y="-12.0" width="37.9" height="24.1" rx="10.5" fill="url(#kg1)"/><ellipse cx="-1.9" cy="-2.9" rx="10.7" ry="5.4" fill="#fbf4de" opacity="0.45"/></g><g transform="translate(1522.7,296.0) rotate(25.7)" opacity="0.95"><rect x="-16.3" y="-11.0" width="32.6" height="21.9" rx="9.5" fill="url(#kg1)"/><ellipse cx="-1.6" cy="-2.6" rx="8.2" ry="4.4" fill="#fbf4de" opacity="0.45"/></g><g transform="translate(1557.6,310.8) rotate(26.9)" opacity="0.72"><rect x="-18.8" y="-11.3" width="37.6" height="22.7" rx="9.9" fill="url(#kg1)"/><ellipse cx="-1.9" cy="-2.7" rx="11.7" ry="5.7" fill="#fbf4de" opacity="0.45"/></g><g transform="translate(1591.6,327.7) rotate(24.7)" opacity="0.49"><rect x="-17.4" y="-10.6" width="34.8" height="21.2" rx="9.2" fill="url(#kg1)"/><ellipse cx="-1.7" cy="-2.5" rx="10.2" ry="5.0" fill="#fbf4de" opacity="0.45"/></g><g transform="translate(1625.3,342.1) rotate(23.1)" opacity="0.26"><rect x="-17.2" y="-10.6" width="34.5" height="21.3" rx="9.3" fill="url(#kg1)"/><ellipse cx="-1.7" cy="-2.6" rx="9.4" ry="4.6" fill="#fbf4de" opacity="0.45"/></g><g transform="translate(1660.7,358.3) rotate(27.4)" opacity="0.03"><rect x="-17.5" y="-12.9" width="35.0" height="25.8" rx="11.2" fill="url(#kg1)"/><ellipse cx="-1.7" cy="-3.1" rx="11.4" ry="6.7" fill="#fbf4de" opacity="0.45"/></g><g transform="translate(1321.3,233.4) rotate(20.6)" opacity="1.00"><rect x="-19.2" y="-11.2" width="38.4" height="22.4" rx="9.8" fill="url(#kg1)"/><ellipse cx="-1.9" cy="-2.7" rx="12.1" ry="5.7" fill="#fbf4de" opacity="0.45"/></g><g transform="translate(1356.1,249.7) rotate(26.7)" opacity="1.00"><rect x="-19.3" y="-12.7" width="38.6" height="25.4" rx="11.0" fill="url(#kg1)"/><ellipse cx="-1.9" cy="-3.0" rx="12.1" ry="6.3" fill="#fbf4de" opacity="0.45"/></g><g transform="translate(1390.8,265.0) rotate(21.9)" opacity="1.00"><rect x="-16.9" y="-11.8" width="33.8" height="23.6" rx="10.3" fill="url(#kg1)"/><ellipse cx="-1.7" cy="-2.8" rx="11.3" ry="6.3" fill="#fbf4de" opacity="0.45"/></g><g transform="translate(1426.1,280.3) rotate(21.4)" opacity="1.00"><rect x="-17.5" y="-10.6" width="34.9" height="21.2" rx="9.2" fill="url(#kg1)"/><ellipse cx="-1.7" cy="-2.5" rx="9.8" ry="4.8" fill="#fbf4de" opacity="0.45"/></g><g transform="translate(1460.0,296.6) rotate(20.9)" opacity="1.00"><rect x="-19.1" y="-12.0" width="38.3" height="24.0" rx="10.4" fill="url(#kg1)"/><ellipse cx="-1.9" cy="-2.9" rx="10.7" ry="5.4" fill="#fbf4de" opacity="0.45"/></g><g transform="translate(1494.8,311.3) rotate(21.7)" opacity="1.00"><rect x="-18.5" y="-11.5" width="37.0" height="22.9" rx="10.0" fill="url(#kg1)"/><ellipse cx="-1.9" cy="-2.7" rx="12.3" ry="6.1" fill="#fbf4de" opacity="0.45"/></g><g transform="translate(1528.6,326.0) rotate(25.1)" opacity="0.91"><rect x="-18.2" y="-12.7" width="36.4" height="25.4" rx="11.0" fill="url(#kg1)"/><ellipse cx="-1.8" cy="-3.0" rx="9.4" ry="5.2" fill="#fbf4de" opacity="0.45"/></g><g transform="translate(1564.4,341.4) rotate(27.0)" opacity="0.67"><rect x="-16.4" y="-11.9" width="32.8" height="23.8" rx="10.4" fill="url(#kg1)"/><ellipse cx="-1.6" cy="-2.9" rx="10.7" ry="6.2" fill="#fbf4de" opacity="0.45"/></g><g transform="translate(1599.1,357.3) rotate(22.4)" opacity="0.44"><rect x="-17.6" y="-11.8" width="35.2" height="23.6" rx="10.3" fill="url(#kg1)"/><ellipse cx="-1.8" cy="-2.8" rx="11.8" ry="6.3" fill="#fbf4de" opacity="0.45"/></g><g transform="translate(1632.7,373.2) rotate(20.9)" opacity="0.22"><rect x="-19.3" y="-11.0" width="38.7" height="22.0" rx="9.6" fill="url(#kg1)"/><ellipse cx="-1.9" cy="-2.6" rx="9.4" ry="4.3" fill="#fbf4de" opacity="0.45"/></g><g transform="translate(1328.3,265.4) rotate(23.8)" opacity="1.00"><rect x="-16.9" y="-12.2" width="33.9" height="24.4" rx="10.6" fill="url(#kg1)"/><ellipse cx="-1.7" cy="-2.9" rx="11.1" ry="6.4" fill="#fbf4de" opacity="0.45"/></g><g transform="translate(1361.7,279.1) rotate(24.9)" opacity="1.00"><rect x="-16.7" y="-10.8" width="33.4" height="21.6" rx="9.4" fill="url(#kg1)"/><ellipse cx="-1.7" cy="-2.6" rx="8.6" ry="4.4" fill="#fbf4de" opacity="0.45"/></g><g transform="translate(1396.5,296.0) rotate(25.7)" opacity="1.00"><rect x="-18.6" y="-12.5" width="37.2" height="25.0" rx="10.9" fill="url(#kg1)"/><ellipse cx="-1.9" cy="-3.0" rx="12.1" ry="6.5" fill="#fbf4de" opacity="0.45"/></g><g transform="translate(1433.2,311.9) rotate(20.8)" opacity="1.00"><rect x="-18.2" y="-12.8" width="36.5" height="25.7" rx="11.2" fill="url(#kg1)"/><ellipse cx="-1.8" cy="-3.1" rx="9.1" ry="5.2" fill="#fbf4de" opacity="0.45"/></g><g transform="translate(1465.8,325.5) rotate(25.9)" opacity="1.00"><rect x="-17.4" y="-11.7" width="34.8" height="23.3" rx="10.1" fill="url(#kg1)"/><ellipse cx="-1.7" cy="-2.8" rx="10.8" ry="5.8" fill="#fbf4de" opacity="0.45"/></g><g transform="translate(1500.6,341.5) rotate(24.8)" opacity="1.00"><rect x="-18.0" y="-11.5" width="35.9" height="22.9" rx="10.0" fill="url(#kg1)"/><ellipse cx="-1.8" cy="-2.7" rx="9.1" ry="4.6" fill="#fbf4de" opacity="0.45"/></g><g transform="translate(1536.0,357.6) rotate(20.6)" opacity="0.86"><rect x="-17.8" y="-12.8" width="35.6" height="25.7" rx="11.2" fill="url(#kg1)"/><ellipse cx="-1.8" cy="-3.1" rx="12.1" ry="7.0" fill="#fbf4de" opacity="0.45"/></g><g transform="translate(1571.6,373.1) rotate(22.8)" opacity="0.62"><rect x="-17.2" y="-10.8" width="34.3" height="21.7" rx="9.4" fill="url(#kg1)"/><ellipse cx="-1.7" cy="-2.6" rx="10.0" ry="5.0" fill="#fbf4de" opacity="0.45"/></g><g transform="translate(1606.3,389.1) rotate(25.6)" opacity="0.39"><rect x="-17.4" y="-11.3" width="34.9" height="22.5" rx="9.8" fill="url(#kg1)"/><ellipse cx="-1.7" cy="-2.7" rx="10.2" ry="5.3" fill="#fbf4de" opacity="0.45"/></g><g transform="translate(1641.1,403.7) rotate(24.2)" opacity="0.16"><rect x="-17.2" y="-11.4" width="34.3" height="22.7" rx="9.9" fill="url(#kg1)"/><ellipse cx="-1.7" cy="-2.7" rx="11.3" ry="6.0" fill="#fbf4de" opacity="0.45"/></g><g transform="translate(1335.8,294.7) rotate(23.1)" opacity="1.00"><rect x="-16.3" y="-11.2" width="32.5" height="22.3" rx="9.7" fill="url(#kg1)"/><ellipse cx="-1.6" cy="-2.7" rx="9.4" ry="5.1" fill="#fbf4de" opacity="0.45"/></g><g transform="translate(1369.9,309.4) rotate(23.8)" opacity="1.00"><rect x="-16.9" y="-12.9" width="33.8" height="25.7" rx="11.2" fill="url(#kg1)"/><ellipse cx="-1.7" cy="-3.1" rx="9.7" ry="5.9" fill="#fbf4de" opacity="0.45"/></g><g transform="translate(1403.6,325.4) rotate(20.4)" opacity="1.00"><rect x="-19.3" y="-12.2" width="38.6" height="24.4" rx="10.6" fill="url(#kg1)"/><ellipse cx="-1.9" cy="-2.9" rx="11.3" ry="5.7" fill="#fbf4de" opacity="0.45"/></g><g transform="translate(1439.1,342.0) rotate(25.2)" opacity="1.00"><rect x="-17.6" y="-12.0" width="35.2" height="23.9" rx="10.4" fill="url(#kg1)"/><ellipse cx="-1.8" cy="-2.9" rx="11.8" ry="6.4" fill="#fbf4de" opacity="0.45"/></g><g transform="translate(1474.4,355.7) rotate(27.0)" opacity="1.00"><rect x="-16.3" y="-12.4" width="32.6" height="24.8" rx="10.8" fill="url(#kg1)"/><ellipse cx="-1.6" cy="-3.0" rx="9.2" ry="5.6" fill="#fbf4de" opacity="0.45"/></g><g transform="translate(1509.5,373.3) rotate(27.1)" opacity="1.00"><rect x="-17.4" y="-12.9" width="34.9" height="25.8" rx="11.2" fill="url(#kg1)"/><ellipse cx="-1.7" cy="-3.1" rx="11.1" ry="6.6" fill="#fbf4de" opacity="0.45"/></g><g transform="translate(1542.6,388.4) rotate(21.7)" opacity="0.82"><rect x="-17.6" y="-12.9" width="35.1" height="25.7" rx="11.2" fill="url(#kg1)"/><ellipse cx="-1.8" cy="-3.1" rx="12.1" ry="7.1" fill="#fbf4de" opacity="0.45"/></g><g transform="translate(1578.0,402.6) rotate(21.0)" opacity="0.58"><rect x="-17.7" y="-11.2" width="35.4" height="22.5" rx="9.8" fill="url(#kg1)"/><ellipse cx="-1.8" cy="-2.7" rx="11.0" ry="5.6" fill="#fbf4de" opacity="0.45"/></g><g transform="translate(1612.1,418.5) rotate(27.1)" opacity="0.35"><rect x="-16.4" y="-11.5" width="32.9" height="22.9" rx="10.0" fill="url(#kg1)"/><ellipse cx="-1.6" cy="-2.8" rx="11.0" ry="6.1" fill="#fbf4de" opacity="0.45"/></g><g transform="translate(1646.9,432.9) rotate(21.1)" opacity="0.12"><rect x="-18.9" y="-12.8" width="37.8" height="25.7" rx="11.2" fill="url(#kg1)"/><ellipse cx="-1.9" cy="-3.1" rx="11.4" ry="6.2" fill="#fbf4de" opacity="0.45"/></g><g transform="translate(1341.4,324.6) rotate(23.8)" opacity="1.00"><rect x="-18.3" y="-11.5" width="36.6" height="22.9" rx="10.0" fill="url(#kg1)"/><ellipse cx="-1.8" cy="-2.7" rx="10.2" ry="5.1" fill="#fbf4de" opacity="0.45"/></g><g transform="translate(1377.3,342.1) rotate(24.4)" opacity="1.00"><rect x="-17.0" y="-11.9" width="34.0" height="23.8" rx="10.4" fill="url(#kg1)"/><ellipse cx="-1.7" cy="-2.9" rx="9.1" ry="5.1" fill="#fbf4de" opacity="0.45"/></g><g transform="translate(1412.4,355.6) rotate(26.2)" opacity="1.00"><rect x="-17.8" y="-12.2" width="35.5" height="24.5" rx="10.6" fill="url(#kg1)"/><ellipse cx="-1.8" cy="-2.9" rx="8.6" ry="4.7" fill="#fbf4de" opacity="0.45"/></g><g transform="translate(1446.3,371.9) rotate(24.0)" opacity="1.00"><rect x="-18.2" y="-12.4" width="36.4" height="24.9" rx="10.8" fill="url(#kg1)"/><ellipse cx="-1.8" cy="-3.0" rx="8.9" ry="4.9" fill="#fbf4de" opacity="0.45"/></g><g transform="translate(1480.1,387.1) rotate(23.6)" opacity="1.00"><rect x="-17.3" y="-10.6" width="34.6" height="21.3" rx="9.2" fill="url(#kg1)"/><ellipse cx="-1.7" cy="-2.6" rx="9.4" ry="4.6" fill="#fbf4de" opacity="0.45"/></g><g transform="translate(1516.3,403.9) rotate(27.5)" opacity="0.99"><rect x="-17.4" y="-11.8" width="34.8" height="23.6" rx="10.3" fill="url(#kg1)"/><ellipse cx="-1.7" cy="-2.8" rx="11.0" ry="6.0" fill="#fbf4de" opacity="0.45"/></g><g transform="translate(1551.7,419.5) rotate(20.6)" opacity="0.76"><rect x="-17.2" y="-11.0" width="34.4" height="21.9" rx="9.5" fill="url(#kg1)"/><ellipse cx="-1.7" cy="-2.6" rx="11.6" ry="5.9" fill="#fbf4de" opacity="0.45"/></g><g transform="translate(1585.3,434.3) rotate(22.4)" opacity="0.53"><rect x="-17.9" y="-11.5" width="35.8" height="23.0" rx="10.0" fill="url(#kg1)"/><ellipse cx="-1.8" cy="-2.8" rx="12.1" ry="6.2" fill="#fbf4de" opacity="0.45"/></g><g transform="translate(1620.2,450.0) rotate(24.5)" opacity="0.30"><rect x="-16.6" y="-11.4" width="33.3" height="22.8" rx="9.9" fill="url(#kg1)"/><ellipse cx="-1.7" cy="-2.7" rx="9.7" ry="5.3" fill="#fbf4de" opacity="0.45"/></g><g transform="translate(1350.5,356.0) rotate(20.4)" opacity="1.00"><rect x="-19.1" y="-11.0" width="38.2" height="22.0" rx="9.6" fill="url(#kg1)"/><ellipse cx="-1.9" cy="-2.6" rx="9.7" ry="4.5" fill="#fbf4de" opacity="0.45"/></g><g transform="translate(1384.9,371.7) rotate(24.0)" opacity="1.00"><rect x="-16.2" y="-10.7" width="32.5" height="21.4" rx="9.3" fill="url(#kg1)"/><ellipse cx="-1.6" cy="-2.6" rx="10.6" ry="5.6" fill="#fbf4de" opacity="0.45"/></g><g transform="translate(1419.9,385.9) rotate(24.9)" opacity="1.00"><rect x="-18.1" y="-10.9" width="36.2" height="21.7" rx="9.4" fill="url(#kg1)"/><ellipse cx="-1.8" cy="-2.6" rx="11.4" ry="5.5" fill="#fbf4de" opacity="0.45"/></g><g transform="translate(1454.0,401.8) rotate(25.5)" opacity="1.00"><rect x="-19.3" y="-10.8" width="38.5" height="21.7" rx="9.4" fill="url(#kg1)"/><ellipse cx="-1.9" cy="-2.6" rx="9.5" ry="4.3" fill="#fbf4de" opacity="0.45"/></g><g transform="translate(1487.4,416.9) rotate(25.8)" opacity="1.00"><rect x="-17.7" y="-12.1" width="35.4" height="24.2" rx="10.5" fill="url(#kg1)"/><ellipse cx="-1.8" cy="-2.9" rx="11.8" ry="6.5" fill="#fbf4de" opacity="0.45"/></g><g transform="translate(1522.1,433.7) rotate(22.1)" opacity="0.95"><rect x="-18.9" y="-10.9" width="37.9" height="21.7" rx="9.4" fill="url(#kg1)"/><ellipse cx="-1.9" cy="-2.6" rx="12.1" ry="5.5" fill="#fbf4de" opacity="0.45"/></g><g transform="translate(1557.4,447.7) rotate(23.7)" opacity="0.72"><rect x="-18.7" y="-11.8" width="37.3" height="23.6" rx="10.2" fill="url(#kg1)"/><ellipse cx="-1.9" cy="-2.8" rx="12.5" ry="6.3" fill="#fbf4de" opacity="0.45"/></g><g transform="translate(1321.2,370.7) rotate(24.4)" opacity="1.00"><rect x="-17.8" y="-11.8" width="35.6" height="23.7" rx="10.3" fill="url(#kg1)"/><ellipse cx="-1.8" cy="-2.8" rx="11.9" ry="6.3" fill="#fbf4de" opacity="0.45"/></g><g transform="translate(1357.1,386.5) rotate(20.9)" opacity="1.00"><rect x="-18.7" y="-12.5" width="37.5" height="25.1" rx="10.9" fill="url(#kg1)"/><ellipse cx="-1.9" cy="-3.0" rx="10.2" ry="5.4" fill="#fbf4de" opacity="0.45"/></g><g transform="translate(1390.9,401.8) rotate(25.1)" opacity="1.00"><rect x="-19.1" y="-11.2" width="38.2" height="22.4" rx="9.7" fill="url(#kg1)"/><ellipse cx="-1.9" cy="-2.7" rx="11.7" ry="5.5" fill="#fbf4de" opacity="0.45"/></g><g transform="translate(1427.3,416.7) rotate(25.1)" opacity="1.00"><rect x="-18.7" y="-11.4" width="37.4" height="22.7" rx="9.9" fill="url(#kg1)"/><ellipse cx="-1.9" cy="-2.7" rx="9.4" ry="4.6" fill="#fbf4de" opacity="0.45"/></g><g transform="translate(1461.7,433.3) rotate(25.1)" opacity="1.00"><rect x="-16.4" y="-12.9" width="32.7" height="25.7" rx="11.2" fill="url(#kg1)"/><ellipse cx="-1.6" cy="-3.1" rx="9.2" ry="5.8" fill="#fbf4de" opacity="0.45"/></g><g transform="translate(1496.1,447.9) rotate(20.5)" opacity="1.00"><rect x="-17.5" y="-11.3" width="35.0" height="22.7" rx="9.9" fill="url(#kg1)"/><ellipse cx="-1.8" cy="-2.7" rx="8.8" ry="4.5" fill="#fbf4de" opacity="0.45"/></g><g transform="translate(1329.3,400.8) rotate(22.2)" opacity="1.00"><rect x="-19.4" y="-11.9" width="38.8" height="23.7" rx="10.3" fill="url(#kg1)"/><ellipse cx="-1.9" cy="-2.8" rx="11.1" ry="5.4" fill="#fbf4de" opacity="0.45"/></g><g transform="translate(1364.1,418.4) rotate(27.3)" opacity="1.00"><rect x="-17.6" y="-11.1" width="35.2" height="22.1" rx="9.6" fill="url(#kg1)"/><ellipse cx="-1.8" cy="-2.7" rx="10.3" ry="5.2" fill="#fbf4de" opacity="0.45"/></g><g transform="translate(1398.4,433.0) rotate(24.2)" opacity="1.00"><rect x="-19.2" y="-11.3" width="38.4" height="22.7" rx="9.9" fill="url(#kg1)"/><ellipse cx="-1.9" cy="-2.7" rx="12.5" ry="5.9" fill="#fbf4de" opacity="0.45"/></g><g transform="translate(1432.5,447.1) rotate(27.3)" opacity="1.00"><rect x="-19.2" y="-11.7" width="38.5" height="23.3" rx="10.1" fill="url(#kg1)"/><ellipse cx="-1.9" cy="-2.8" rx="11.0" ry="5.4" fill="#fbf4de" opacity="0.45"/></g><g transform="translate(1335.3,432.9) rotate(24.7)" opacity="1.00"><rect x="-16.6" y="-12.4" width="33.2" height="24.7" rx="10.8" fill="url(#kg1)"/><ellipse cx="-1.7" cy="-3.0" rx="9.1" ry="5.4" fill="#fbf4de" opacity="0.45"/></g><g transform="translate(1371.5,447.8) rotate(22.7)" opacity="1.00"><rect x="-19.0" y="-12.7" width="38.1" height="25.5" rx="11.1" fill="url(#kg1)"/><ellipse cx="-1.9" cy="-3.1" rx="10.3" ry="5.5" fill="#fbf4de" opacity="0.45"/></g></g></g><g filter="url(#fb2)"><g clip-path="url(#crc)"><g transform="translate(1665.4,112.7) rotate(25.2)" opacity="1.00"><rect x="-10.0" y="-7.6" width="20.0" height="15.2" rx="6.6" fill="url(#kg2)"/><ellipse cx="-1.0" cy="-1.8" rx="6.6" ry="4.0" fill="#eef2e2" opacity="0.5"/></g><g transform="translate(1684.4,122.6) rotate(27.5)" opacity="1.00"><rect x="-11.4" y="-7.4" width="22.8" height="14.7" rx="6.4" fill="url(#kg2)"/><ellipse cx="-1.1" cy="-1.8" rx="6.6" ry="3.4" fill="#eef2e2" opacity="0.5"/></g><g transform="translate(1706.1,135.2) rotate(30.1)" opacity="1.00"><rect x="-10.9" y="-7.2" width="21.9" height="14.5" rx="6.3" fill="url(#kg2)"/><ellipse cx="-1.1" cy="-1.7" rx="7.1" ry="3.7" fill="#eef2e2" opacity="0.5"/></g><g transform="translate(1725.6,147.6) rotate(28.9)" opacity="1.00"><rect x="-11.1" y="-8.3" width="22.2" height="16.7" rx="7.3" fill="url(#kg2)"/><ellipse cx="-1.1" cy="-2.0" rx="7.3" ry="4.4" fill="#eef2e2" opacity="0.5"/></g><g transform="translate(1744.1,159.2) rotate(26.7)" opacity="1.00"><rect x="-11.9" y="-7.5" width="23.7" height="15.0" rx="6.5" fill="url(#kg2)"/><ellipse cx="-1.2" cy="-1.8" rx="5.9" ry="3.0" fill="#eef2e2" opacity="0.5"/></g><g transform="translate(1764.2,169.5) rotate(27.4)" opacity="1.00"><rect x="-10.1" y="-7.6" width="20.2" height="15.1" rx="6.6" fill="url(#kg2)"/><ellipse cx="-1.0" cy="-1.8" rx="4.8" ry="2.9" fill="#eef2e2" opacity="0.5"/></g><g transform="translate(1784.6,181.8) rotate(31.2)" opacity="1.00"><rect x="-10.7" y="-7.5" width="21.3" height="14.9" rx="6.5" fill="url(#kg2)"/><ellipse cx="-1.1" cy="-1.8" rx="7.3" ry="4.1" fill="#eef2e2" opacity="0.5"/></g><g transform="translate(1805.5,192.1) rotate(24.2)" opacity="1.00"><rect x="-10.7" y="-7.9" width="21.4" height="15.8" rx="6.9" fill="url(#kg2)"/><ellipse cx="-1.1" cy="-1.9" rx="6.1" ry="3.6" fill="#eef2e2" opacity="0.5"/></g><g transform="translate(1646.7,120.6) rotate(28.3)" opacity="1.00"><rect x="-11.3" y="-8.4" width="22.5" height="16.9" rx="7.3" fill="url(#kg2)"/><ellipse cx="-1.1" cy="-2.0" rx="5.9" ry="3.5" fill="#eef2e2" opacity="0.5"/></g><g transform="translate(1667.8,132.4) rotate(25.2)" opacity="1.00"><rect x="-10.1" y="-8.2" width="20.2" height="16.3" rx="7.1" fill="url(#kg2)"/><ellipse cx="-1.0" cy="-2.0" rx="5.6" ry="3.6" fill="#eef2e2" opacity="0.5"/></g><g transform="translate(1686.4,143.1) rotate(24.0)" opacity="1.00"><rect x="-10.2" y="-7.9" width="20.4" height="15.8" rx="6.9" fill="url(#kg2)"/><ellipse cx="-1.0" cy="-1.9" rx="5.1" ry="3.2" fill="#eef2e2" opacity="0.5"/></g><g transform="translate(1707.0,156.8) rotate(24.6)" opacity="1.00"><rect x="-11.6" y="-7.7" width="23.1" height="15.4" rx="6.7" fill="url(#kg2)"/><ellipse cx="-1.2" cy="-1.9" rx="7.8" ry="4.2" fill="#eef2e2" opacity="0.5"/></g><g transform="translate(1725.9,166.1) rotate(27.8)" opacity="1.00"><rect x="-10.0" y="-8.2" width="20.0" height="16.3" rx="7.1" fill="url(#kg2)"/><ellipse cx="-1.0" cy="-2.0" rx="6.4" ry="4.2" fill="#eef2e2" opacity="0.5"/></g><g transform="translate(1747.4,178.6) rotate(25.4)" opacity="1.00"><rect x="-11.7" y="-8.2" width="23.4" height="16.3" rx="7.1" fill="url(#kg2)"/><ellipse cx="-1.2" cy="-2.0" rx="6.9" ry="3.9" fill="#eef2e2" opacity="0.5"/></g><g transform="translate(1766.4,190.1) rotate(30.5)" opacity="1.00"><rect x="-11.5" y="-7.6" width="23.1" height="15.1" rx="6.6" fill="url(#kg2)"/><ellipse cx="-1.2" cy="-1.8" rx="6.2" ry="3.3" fill="#eef2e2" opacity="0.5"/></g><g transform="translate(1785.5,201.8) rotate(24.8)" opacity="1.00"><rect x="-10.3" y="-8.3" width="20.7" height="16.5" rx="7.2" fill="url(#kg2)"/><ellipse cx="-1.0" cy="-2.0" rx="6.3" ry="4.0" fill="#eef2e2" opacity="0.5"/></g><g transform="translate(1628.1,130.1) rotate(26.3)" opacity="1.00"><rect x="-10.0" y="-8.3" width="20.1" height="16.6" rx="7.2" fill="url(#kg2)"/><ellipse cx="-1.0" cy="-2.0" rx="5.3" ry="3.5" fill="#eef2e2" opacity="0.5"/></g><g transform="translate(1647.6,141.2) rotate(26.8)" opacity="1.00"><rect x="-11.7" y="-7.7" width="23.5" height="15.3" rx="6.7" fill="url(#kg2)"/><ellipse cx="-1.2" cy="-1.8" rx="5.9" ry="3.1" fill="#eef2e2" opacity="0.5"/></g><g transform="translate(1669.6,152.2) rotate(27.7)" opacity="1.00"><rect x="-10.6" y="-7.5" width="21.2" height="15.1" rx="6.6" fill="url(#kg2)"/><ellipse cx="-1.1" cy="-1.8" rx="6.6" ry="3.8" fill="#eef2e2" opacity="0.5"/></g><g transform="translate(1687.4,165.6) rotate(31.0)" opacity="1.00"><rect x="-10.5" y="-8.3" width="21.1" height="16.6" rx="7.2" fill="url(#kg2)"/><ellipse cx="-1.1" cy="-2.0" rx="6.1" ry="3.8" fill="#eef2e2" opacity="0.5"/></g><g transform="translate(1707.3,175.6) rotate(28.0)" opacity="1.00"><rect x="-10.5" y="-7.6" width="20.9" height="15.2" rx="6.6" fill="url(#kg2)"/><ellipse cx="-1.0" cy="-1.8" rx="6.8" ry="4.0" fill="#eef2e2" opacity="0.5"/></g><g transform="translate(1727.9,187.7) rotate(29.3)" opacity="1.00"><rect x="-11.6" y="-8.1" width="23.1" height="16.2" rx="7.1" fill="url(#kg2)"/><ellipse cx="-1.2" cy="-1.9" rx="6.7" ry="3.7" fill="#eef2e2" opacity="0.5"/></g><g transform="translate(1748.4,199.0) rotate(31.0)" opacity="1.00"><rect x="-10.7" y="-7.4" width="21.5" height="14.8" rx="6.4" fill="url(#kg2)"/><ellipse cx="-1.1" cy="-1.8" rx="6.1" ry="3.4" fill="#eef2e2" opacity="0.5"/></g><g transform="translate(1767.6,210.4) rotate(27.6)" opacity="1.00"><rect x="-11.1" y="-8.1" width="22.2" height="16.3" rx="7.1" fill="url(#kg2)"/><ellipse cx="-1.1" cy="-2.0" rx="5.7" ry="3.4" fill="#eef2e2" opacity="0.5"/></g><g transform="translate(1788.6,221.1) rotate(24.5)" opacity="1.00"><rect x="-10.1" y="-8.4" width="20.2" height="16.8" rx="7.3" fill="url(#kg2)"/><ellipse cx="-1.0" cy="-2.0" rx="6.8" ry="4.5" fill="#eef2e2" opacity="0.5"/></g><g transform="translate(1629.7,151.0) rotate(30.3)" opacity="1.00"><rect x="-10.1" y="-8.6" width="20.2" height="17.2" rx="7.5" fill="url(#kg2)"/><ellipse cx="-1.0" cy="-2.1" rx="5.6" ry="3.8" fill="#eef2e2" opacity="0.5"/></g><g transform="translate(1651.1,163.2) rotate(25.0)" opacity="1.00"><rect x="-10.7" y="-8.6" width="21.3" height="17.1" rx="7.5" fill="url(#kg2)"/><ellipse cx="-1.1" cy="-2.1" rx="7.4" ry="4.7" fill="#eef2e2" opacity="0.5"/></g><g transform="translate(1670.5,174.2) rotate(27.3)" opacity="1.00"><rect x="-10.8" y="-7.6" width="21.6" height="15.3" rx="6.6" fill="url(#kg2)"/><ellipse cx="-1.1" cy="-1.8" rx="5.6" ry="3.2" fill="#eef2e2" opacity="0.5"/></g><g transform="translate(1690.9,185.0) rotate(28.9)" opacity="1.00"><rect x="-10.4" y="-8.2" width="20.8" height="16.4" rx="7.1" fill="url(#kg2)"/><ellipse cx="-1.0" cy="-2.0" rx="6.0" ry="3.7" fill="#eef2e2" opacity="0.5"/></g><g transform="translate(1709.7,196.2) rotate(25.9)" opacity="1.00"><rect x="-10.0" y="-8.5" width="19.9" height="17.0" rx="7.4" fill="url(#kg2)"/><ellipse cx="-1.0" cy="-2.0" rx="6.2" ry="4.2" fill="#eef2e2" opacity="0.5"/></g><g transform="translate(1729.7,208.4) rotate(26.5)" opacity="1.00"><rect x="-10.9" y="-8.6" width="21.8" height="17.3" rx="7.5" fill="url(#kg2)"/><ellipse cx="-1.1" cy="-2.1" rx="7.0" ry="4.4" fill="#eef2e2" opacity="0.5"/></g><g transform="translate(1749.2,220.0) rotate(28.0)" opacity="1.00"><rect x="-10.2" y="-8.7" width="20.4" height="17.4" rx="7.6" fill="url(#kg2)"/><ellipse cx="-1.0" cy="-2.1" rx="5.0" ry="3.4" fill="#eef2e2" opacity="0.5"/></g><g transform="translate(1769.0,231.3) rotate(30.3)" opacity="1.00"><rect x="-10.0" y="-7.6" width="20.0" height="15.1" rx="6.6" fill="url(#kg2)"/><ellipse cx="-1.0" cy="-1.8" rx="6.9" ry="4.2" fill="#eef2e2" opacity="0.5"/></g><g transform="translate(1788.8,242.6) rotate(31.9)" opacity="1.00"><rect x="-10.0" y="-7.4" width="19.9" height="14.8" rx="6.4" fill="url(#kg2)"/><ellipse cx="-1.0" cy="-1.8" rx="5.2" ry="3.1" fill="#eef2e2" opacity="0.5"/></g><g transform="translate(1610.5,159.2) rotate(29.9)" opacity="1.00"><rect x="-11.6" y="-8.6" width="23.2" height="17.1" rx="7.4" fill="url(#kg2)"/><ellipse cx="-1.2" cy="-2.1" rx="7.3" ry="4.3" fill="#eef2e2" opacity="0.5"/></g><g transform="translate(1632.6,171.3) rotate(24.3)" opacity="1.00"><rect x="-10.7" y="-8.1" width="21.3" height="16.2" rx="7.1" fill="url(#kg2)"/><ellipse cx="-1.1" cy="-1.9" rx="5.7" ry="3.5" fill="#eef2e2" opacity="0.5"/></g><g transform="translate(1650.9,182.6) rotate(26.9)" opacity="1.00"><rect x="-10.1" y="-7.3" width="20.3" height="14.7" rx="6.4" fill="url(#kg2)"/><ellipse cx="-1.0" cy="-1.8" rx="5.4" ry="3.1" fill="#eef2e2" opacity="0.5"/></g><g transform="translate(1672.5,194.1) rotate(26.6)" opacity="1.00"><rect x="-11.6" y="-8.4" width="23.1" height="16.8" rx="7.3" fill="url(#kg2)"/><ellipse cx="-1.2" cy="-2.0" rx="7.0" ry="4.1" fill="#eef2e2" opacity="0.5"/></g><g transform="translate(1691.1,205.2) rotate(26.4)" opacity="1.00"><rect x="-11.2" y="-8.6" width="22.3" height="17.1" rx="7.5" fill="url(#kg2)"/><ellipse cx="-1.1" cy="-2.1" rx="7.2" ry="4.4" fill="#eef2e2" opacity="0.5"/></g><g transform="translate(1710.4,216.0) rotate(26.4)" opacity="1.00"><rect x="-11.1" y="-7.6" width="22.1" height="15.1" rx="6.6" fill="url(#kg2)"/><ellipse cx="-1.1" cy="-1.8" rx="5.3" ry="2.9" fill="#eef2e2" opacity="0.5"/></g><g transform="translate(1730.5,228.0) rotate(29.8)" opacity="1.00"><rect x="-11.2" y="-8.1" width="22.4" height="16.3" rx="7.1" fill="url(#kg2)"/><ellipse cx="-1.1" cy="-2.0" rx="6.0" ry="3.5" fill="#eef2e2" opacity="0.5"/></g><g transform="translate(1750.4,241.2) rotate(29.9)" opacity="1.00"><rect x="-10.1" y="-8.1" width="20.3" height="16.3" rx="7.1" fill="url(#kg2)"/><ellipse cx="-1.0" cy="-2.0" rx="6.4" ry="4.1" fill="#eef2e2" opacity="0.5"/></g><g transform="translate(1771.0,252.6) rotate(25.5)" opacity="1.00"><rect x="-11.1" y="-8.3" width="22.3" height="16.6" rx="7.2" fill="url(#kg2)"/><ellipse cx="-1.1" cy="-2.0" rx="5.5" ry="3.3" fill="#eef2e2" opacity="0.5"/></g><g transform="translate(1790.8,263.3) rotate(27.8)" opacity="1.00"><rect x="-10.1" y="-8.4" width="20.2" height="16.8" rx="7.3" fill="url(#kg2)"/><ellipse cx="-1.0" cy="-2.0" rx="5.6" ry="3.7" fill="#eef2e2" opacity="0.5"/></g><g transform="translate(1612.4,179.2) rotate(26.4)" opacity="1.00"><rect x="-11.7" y="-7.2" width="23.5" height="14.5" rx="6.3" fill="url(#kg2)"/><ellipse cx="-1.2" cy="-1.7" rx="6.9" ry="3.4" fill="#eef2e2" opacity="0.5"/></g><g transform="translate(1631.9,191.1) rotate(24.6)" opacity="1.00"><rect x="-10.2" y="-7.8" width="20.4" height="15.7" rx="6.8" fill="url(#kg2)"/><ellipse cx="-1.0" cy="-1.9" rx="6.9" ry="4.2" fill="#eef2e2" opacity="0.5"/></g><g transform="translate(1652.6,203.6) rotate(26.2)" opacity="1.00"><rect x="-11.1" y="-7.2" width="22.3" height="14.5" rx="6.3" fill="url(#kg2)"/><ellipse cx="-1.1" cy="-1.7" rx="5.9" ry="3.1" fill="#eef2e2" opacity="0.5"/></g><g transform="translate(1673.8,214.5) rotate(25.2)" opacity="1.00"><rect x="-10.4" y="-8.0" width="20.8" height="15.9" rx="6.9" fill="url(#kg2)"/><ellipse cx="-1.0" cy="-1.9" rx="6.1" ry="3.7" fill="#eef2e2" opacity="0.5"/></g><g transform="translate(1693.2,226.7) rotate(31.7)" opacity="1.00"><rect x="-10.8" y="-8.1" width="21.7" height="16.1" rx="7.0" fill="url(#kg2)"/><ellipse cx="-1.1" cy="-1.9" rx="7.0" ry="4.1" fill="#eef2e2" opacity="0.5"/></g><g transform="translate(1713.0,236.5) rotate(29.5)" opacity="1.00"><rect x="-10.9" y="-8.3" width="21.8" height="16.5" rx="7.2" fill="url(#kg2)"/><ellipse cx="-1.1" cy="-2.0" rx="6.0" ry="3.6" fill="#eef2e2" opacity="0.5"/></g><g transform="translate(1732.3,249.4) rotate(29.7)" opacity="1.00"><rect x="-11.1" y="-8.3" width="22.2" height="16.5" rx="7.2" fill="url(#kg2)"/><ellipse cx="-1.1" cy="-2.0" rx="7.5" ry="4.5" fill="#eef2e2" opacity="0.5"/></g><g transform="translate(1753.0,261.1) rotate(24.5)" opacity="1.00"><rect x="-10.4" y="-8.2" width="20.7" height="16.4" rx="7.1" fill="url(#kg2)"/><ellipse cx="-1.0" cy="-2.0" rx="6.3" ry="4.0" fill="#eef2e2" opacity="0.5"/></g><g transform="translate(1773.1,271.5) rotate(30.1)" opacity="1.00"><rect x="-10.9" y="-8.0" width="21.7" height="16.1" rx="7.0" fill="url(#kg2)"/><ellipse cx="-1.1" cy="-1.9" rx="6.9" ry="4.1" fill="#eef2e2" opacity="0.5"/></g><g transform="translate(1792.3,284.7) rotate(26.6)" opacity="1.00"><rect x="-10.8" y="-8.1" width="21.6" height="16.2" rx="7.0" fill="url(#kg2)"/><ellipse cx="-1.1" cy="-1.9" rx="7.4" ry="4.5" fill="#eef2e2" opacity="0.5"/></g><g transform="translate(1595.4,188.1) rotate(30.0)" opacity="1.00"><rect x="-10.7" y="-8.7" width="21.5" height="17.3" rx="7.5" fill="url(#kg2)"/><ellipse cx="-1.1" cy="-2.1" rx="7.3" ry="4.7" fill="#eef2e2" opacity="0.5"/></g><g transform="translate(1614.2,201.3) rotate(30.9)" opacity="1.00"><rect x="-11.0" y="-8.3" width="21.9" height="16.5" rx="7.2" fill="url(#kg2)"/><ellipse cx="-1.1" cy="-2.0" rx="6.7" ry="4.1" fill="#eef2e2" opacity="0.5"/></g><g transform="translate(1635.0,213.2) rotate(28.5)" opacity="1.00"><rect x="-10.9" y="-8.0" width="21.8" height="16.0" rx="6.9" fill="url(#kg2)"/><ellipse cx="-1.1" cy="-1.9" rx="6.7" ry="4.0" fill="#eef2e2" opacity="0.5"/></g><g transform="translate(1653.3,224.7) rotate(25.5)" opacity="1.00"><rect x="-10.5" y="-8.0" width="21.1" height="16.0" rx="7.0" fill="url(#kg2)"/><ellipse cx="-1.1" cy="-1.9" rx="5.1" ry="3.1" fill="#eef2e2" opacity="0.5"/></g><g transform="translate(1675.4,234.6) rotate(29.3)" opacity="1.00"><rect x="-10.5" y="-8.5" width="21.0" height="17.0" rx="7.4" fill="url(#kg2)"/><ellipse cx="-1.0" cy="-2.0" rx="5.6" ry="3.6" fill="#eef2e2" opacity="0.5"/></g><g transform="translate(1694.4,247.6) rotate(26.9)" opacity="1.00"><rect x="-10.8" y="-7.7" width="21.7" height="15.5" rx="6.7" fill="url(#kg2)"/><ellipse cx="-1.1" cy="-1.9" rx="5.8" ry="3.3" fill="#eef2e2" opacity="0.5"/></g><g transform="translate(1713.0,257.2) rotate(31.5)" opacity="1.00"><rect x="-10.2" y="-7.7" width="20.4" height="15.4" rx="6.7" fill="url(#kg2)"/><ellipse cx="-1.0" cy="-1.8" rx="6.5" ry="4.0" fill="#eef2e2" opacity="0.5"/></g><g transform="translate(1733.7,269.0) rotate(24.9)" opacity="1.00"><rect x="-10.5" y="-8.2" width="21.0" height="16.4" rx="7.1" fill="url(#kg2)"/><ellipse cx="-1.0" cy="-2.0" rx="6.1" ry="3.8" fill="#eef2e2" opacity="0.5"/></g><g transform="translate(1754.1,280.6) rotate(27.5)" opacity="1.00"><rect x="-10.2" y="-8.5" width="20.4" height="16.9" rx="7.4" fill="url(#kg2)"/><ellipse cx="-1.0" cy="-2.0" rx="5.1" ry="3.4" fill="#eef2e2" opacity="0.5"/></g><g transform="translate(1774.6,292.7) rotate(24.3)" opacity="1.00"><rect x="-11.6" y="-7.7" width="23.3" height="15.4" rx="6.7" fill="url(#kg2)"/><ellipse cx="-1.2" cy="-1.8" rx="7.9" ry="4.2" fill="#eef2e2" opacity="0.5"/></g><g transform="translate(1794.8,303.9) rotate(29.7)" opacity="1.00"><rect x="-9.9" y="-7.6" width="19.8" height="15.2" rx="6.6" fill="url(#kg2)"/><ellipse cx="-1.0" cy="-1.8" rx="6.8" ry="4.2" fill="#eef2e2" opacity="0.5"/></g><g transform="translate(1595.9,209.6) rotate(27.8)" opacity="1.00"><rect x="-10.8" y="-7.7" width="21.6" height="15.4" rx="6.7" fill="url(#kg2)"/><ellipse cx="-1.1" cy="-1.8" rx="7.3" ry="4.2" fill="#eef2e2" opacity="0.5"/></g><g transform="translate(1615.6,221.7) rotate(25.9)" opacity="1.00"><rect x="-10.4" y="-7.9" width="20.8" height="15.8" rx="6.8" fill="url(#kg2)"/><ellipse cx="-1.0" cy="-1.9" rx="5.2" ry="3.2" fill="#eef2e2" opacity="0.5"/></g><g transform="translate(1637.1,232.9) rotate(28.2)" opacity="1.00"><rect x="-10.9" y="-8.3" width="21.9" height="16.6" rx="7.2" fill="url(#kg2)"/><ellipse cx="-1.1" cy="-2.0" rx="6.8" ry="4.1" fill="#eef2e2" opacity="0.5"/></g><g transform="translate(1655.5,243.2) rotate(24.1)" opacity="1.00"><rect x="-10.0" y="-7.4" width="19.9" height="14.8" rx="6.4" fill="url(#kg2)"/><ellipse cx="-1.0" cy="-1.8" rx="5.6" ry="3.3" fill="#eef2e2" opacity="0.5"/></g><g transform="translate(1676.2,255.2) rotate(25.7)" opacity="1.00"><rect x="-10.4" y="-7.7" width="20.7" height="15.4" rx="6.7" fill="url(#kg2)"/><ellipse cx="-1.0" cy="-1.8" rx="6.0" ry="3.6" fill="#eef2e2" opacity="0.5"/></g><g transform="translate(1696.5,267.0) rotate(28.6)" opacity="1.00"><rect x="-10.0" y="-7.3" width="20.1" height="14.7" rx="6.4" fill="url(#kg2)"/><ellipse cx="-1.0" cy="-1.8" rx="6.7" ry="3.9" fill="#eef2e2" opacity="0.5"/></g><g transform="translate(1715.1,279.1) rotate(29.3)" opacity="1.00"><rect x="-10.0" y="-8.6" width="20.0" height="17.2" rx="7.5" fill="url(#kg2)"/><ellipse cx="-1.0" cy="-2.1" rx="6.8" ry="4.7" fill="#eef2e2" opacity="0.5"/></g><g transform="translate(1734.5,289.9) rotate(25.9)" opacity="1.00"><rect x="-11.6" y="-8.1" width="23.1" height="16.3" rx="7.1" fill="url(#kg2)"/><ellipse cx="-1.2" cy="-2.0" rx="6.1" ry="3.4" fill="#eef2e2" opacity="0.5"/></g><g transform="translate(1754.4,301.6) rotate(31.2)" opacity="1.00"><rect x="-10.3" y="-7.9" width="20.5" height="15.8" rx="6.9" fill="url(#kg2)"/><ellipse cx="-1.0" cy="-1.9" rx="6.9" ry="4.2" fill="#eef2e2" opacity="0.5"/></g><g transform="translate(1775.4,313.8) rotate(27.9)" opacity="1.00"><rect x="-10.2" y="-8.7" width="20.3" height="17.4" rx="7.6" fill="url(#kg2)"/><ellipse cx="-1.0" cy="-2.1" rx="6.7" ry="4.6" fill="#eef2e2" opacity="0.5"/></g><g transform="translate(1796.2,324.1) rotate(30.7)" opacity="1.00"><rect x="-11.8" y="-7.7" width="23.7" height="15.4" rx="6.7" fill="url(#kg2)"/><ellipse cx="-1.2" cy="-1.9" rx="8.0" ry="4.2" fill="#eef2e2" opacity="0.5"/></g><g transform="translate(1577.7,218.2) rotate(28.8)" opacity="1.00"><rect x="-10.4" y="-7.9" width="20.9" height="15.7" rx="6.8" fill="url(#kg2)"/><ellipse cx="-1.0" cy="-1.9" rx="7.1" ry="4.3" fill="#eef2e2" opacity="0.5"/></g><g transform="translate(1598.2,231.1) rotate(25.6)" opacity="1.00"><rect x="-10.0" y="-8.6" width="19.9" height="17.2" rx="7.5" fill="url(#kg2)"/><ellipse cx="-1.0" cy="-2.1" rx="5.0" ry="3.4" fill="#eef2e2" opacity="0.5"/></g><g transform="translate(1618.1,242.2) rotate(27.4)" opacity="1.00"><rect x="-11.1" y="-8.0" width="22.2" height="15.9" rx="6.9" fill="url(#kg2)"/><ellipse cx="-1.1" cy="-1.9" rx="7.0" ry="4.0" fill="#eef2e2" opacity="0.5"/></g><g transform="translate(1636.7,252.4) rotate(31.6)" opacity="1.00"><rect x="-10.1" y="-7.3" width="20.2" height="14.5" rx="6.3" fill="url(#kg2)"/><ellipse cx="-1.0" cy="-1.7" rx="6.9" ry="3.9" fill="#eef2e2" opacity="0.5"/></g><g transform="translate(1657.0,264.3) rotate(25.4)" opacity="1.00"><rect x="-10.5" y="-8.5" width="20.9" height="16.9" rx="7.3" fill="url(#kg2)"/><ellipse cx="-1.0" cy="-2.0" rx="6.1" ry="3.9" fill="#eef2e2" opacity="0.5"/></g><g transform="translate(1678.2,277.1) rotate(29.1)" opacity="1.00"><rect x="-10.0" y="-7.9" width="20.0" height="15.9" rx="6.9" fill="url(#kg2)"/><ellipse cx="-1.0" cy="-1.9" rx="5.3" ry="3.3" fill="#eef2e2" opacity="0.5"/></g><g transform="translate(1696.8,287.1) rotate(27.9)" opacity="1.00"><rect x="-10.5" y="-8.2" width="21.0" height="16.3" rx="7.1" fill="url(#kg2)"/><ellipse cx="-1.0" cy="-2.0" rx="6.1" ry="3.8" fill="#eef2e2" opacity="0.5"/></g><g transform="translate(1717.5,299.0) rotate(31.4)" opacity="1.00"><rect x="-11.8" y="-7.9" width="23.5" height="15.8" rx="6.9" fill="url(#kg2)"/><ellipse cx="-1.2" cy="-1.9" rx="7.6" ry="4.1" fill="#eef2e2" opacity="0.5"/></g><g transform="translate(1737.3,310.8) rotate(27.3)" opacity="1.00"><rect x="-11.5" y="-8.3" width="22.9" height="16.7" rx="7.3" fill="url(#kg2)"/><ellipse cx="-1.1" cy="-2.0" rx="6.0" ry="3.5" fill="#eef2e2" opacity="0.5"/></g><g transform="translate(1756.1,320.9) rotate(24.2)" opacity="1.00"><rect x="-11.3" y="-7.7" width="22.5" height="15.5" rx="6.7" fill="url(#kg2)"/><ellipse cx="-1.1" cy="-1.9" rx="6.0" ry="3.3" fill="#eef2e2" opacity="0.5"/></g><g transform="translate(1775.7,334.0) rotate(31.3)" opacity="1.00"><rect x="-10.6" y="-7.9" width="21.2" height="15.8" rx="6.9" fill="url(#kg2)"/><ellipse cx="-1.1" cy="-1.9" rx="6.6" ry="3.9" fill="#eef2e2" opacity="0.5"/></g><g transform="translate(1797.2,344.4) rotate(29.2)" opacity="1.00"><rect x="-11.9" y="-7.5" width="23.7" height="15.0" rx="6.5" fill="url(#kg2)"/><ellipse cx="-1.2" cy="-1.8" rx="7.1" ry="3.6" fill="#eef2e2" opacity="0.5"/></g><g transform="translate(1578.5,238.6) rotate(28.5)" opacity="1.00"><rect x="-11.8" y="-8.3" width="23.7" height="16.5" rx="7.2" fill="url(#kg2)"/><ellipse cx="-1.2" cy="-2.0" rx="6.9" ry="3.8" fill="#eef2e2" opacity="0.5"/></g><g transform="translate(1599.4,250.0) rotate(28.8)" opacity="1.00"><rect x="-10.1" y="-7.4" width="20.1" height="14.7" rx="6.4" fill="url(#kg2)"/><ellipse cx="-1.0" cy="-1.8" rx="6.1" ry="3.6" fill="#eef2e2" opacity="0.5"/></g><g transform="translate(1620.1,262.3) rotate(27.4)" opacity="1.00"><rect x="-11.6" y="-8.8" width="23.2" height="17.6" rx="7.6" fill="url(#kg2)"/><ellipse cx="-1.2" cy="-2.1" rx="6.8" ry="4.1" fill="#eef2e2" opacity="0.5"/></g><g transform="translate(1638.8,273.2) rotate(31.6)" opacity="1.00"><rect x="-11.4" y="-8.1" width="22.8" height="16.2" rx="7.1" fill="url(#kg2)"/><ellipse cx="-1.1" cy="-1.9" rx="5.8" ry="3.3" fill="#eef2e2" opacity="0.5"/></g><g transform="translate(1658.8,285.6) rotate(24.9)" opacity="1.00"><rect x="-11.0" y="-8.1" width="22.0" height="16.3" rx="7.1" fill="url(#kg2)"/><ellipse cx="-1.1" cy="-2.0" rx="6.6" ry="3.9" fill="#eef2e2" opacity="0.5"/></g><g transform="translate(1677.8,297.1) rotate(30.0)" opacity="1.00"><rect x="-10.6" y="-7.4" width="21.2" height="14.8" rx="6.4" fill="url(#kg2)"/><ellipse cx="-1.1" cy="-1.8" rx="6.9" ry="3.9" fill="#eef2e2" opacity="0.5"/></g><g transform="translate(1699.3,307.8) rotate(29.3)" opacity="1.00"><rect x="-10.2" y="-8.4" width="20.3" height="16.8" rx="7.3" fill="url(#kg2)"/><ellipse cx="-1.0" cy="-2.0" rx="5.3" ry="3.5" fill="#eef2e2" opacity="0.5"/></g><g transform="translate(1719.0,319.0) rotate(28.7)" opacity="1.00"><rect x="-9.9" y="-8.1" width="19.8" height="16.3" rx="7.1" fill="url(#kg2)"/><ellipse cx="-1.0" cy="-2.0" rx="6.4" ry="4.2" fill="#eef2e2" opacity="0.5"/></g><g transform="translate(1739.6,330.4) rotate(26.4)" opacity="1.00"><rect x="-11.3" y="-7.9" width="22.7" height="15.8" rx="6.9" fill="url(#kg2)"/><ellipse cx="-1.1" cy="-1.9" rx="6.8" ry="3.8" fill="#eef2e2" opacity="0.5"/></g><g transform="translate(1757.7,342.6) rotate(28.0)" opacity="1.00"><rect x="-11.1" y="-8.7" width="22.2" height="17.3" rx="7.5" fill="url(#kg2)"/><ellipse cx="-1.1" cy="-2.1" rx="6.7" ry="4.2" fill="#eef2e2" opacity="0.5"/></g><g transform="translate(1778.7,354.3) rotate(27.1)" opacity="1.00"><rect x="-10.7" y="-7.6" width="21.4" height="15.3" rx="6.6" fill="url(#kg2)"/><ellipse cx="-1.1" cy="-1.8" rx="6.7" ry="3.8" fill="#eef2e2" opacity="0.5"/></g><g transform="translate(1797.1,364.7) rotate(27.9)" opacity="1.00"><rect x="-10.6" y="-8.3" width="21.2" height="16.6" rx="7.2" fill="url(#kg2)"/><ellipse cx="-1.1" cy="-2.0" rx="6.6" ry="4.1" fill="#eef2e2" opacity="0.5"/></g><g transform="translate(1561.6,247.3) rotate(26.6)" opacity="1.00"><rect x="-11.5" y="-8.1" width="23.0" height="16.1" rx="7.0" fill="url(#kg2)"/><ellipse cx="-1.1" cy="-1.9" rx="7.8" ry="4.4" fill="#eef2e2" opacity="0.5"/></g><g transform="translate(1581.0,259.8) rotate(25.0)" opacity="1.00"><rect x="-11.9" y="-7.7" width="23.7" height="15.5" rx="6.7" fill="url(#kg2)"/><ellipse cx="-1.2" cy="-1.9" rx="6.7" ry="3.5" fill="#eef2e2" opacity="0.5"/></g><g transform="translate(1600.9,270.0) rotate(31.6)" opacity="1.00"><rect x="-11.6" y="-7.4" width="23.2" height="14.9" rx="6.5" fill="url(#kg2)"/><ellipse cx="-1.2" cy="-1.8" rx="6.0" ry="3.1" fill="#eef2e2" opacity="0.5"/></g><g transform="translate(1620.4,283.1) rotate(31.9)" opacity="1.00"><rect x="-10.6" y="-7.6" width="21.2" height="15.2" rx="6.6" fill="url(#kg2)"/><ellipse cx="-1.1" cy="-1.8" rx="5.9" ry="3.4" fill="#eef2e2" opacity="0.5"/></g><g transform="translate(1639.6,295.0) rotate(29.8)" opacity="1.00"><rect x="-11.6" y="-8.3" width="23.3" height="16.6" rx="7.2" fill="url(#kg2)"/><ellipse cx="-1.2" cy="-2.0" rx="6.2" ry="3.6" fill="#eef2e2" opacity="0.5"/></g><g transform="translate(1661.2,305.7) rotate(28.7)" opacity="1.00"><rect x="-10.3" y="-8.2" width="20.7" height="16.4" rx="7.1" fill="url(#kg2)"/><ellipse cx="-1.0" cy="-2.0" rx="7.0" ry="4.5" fill="#eef2e2" opacity="0.5"/></g><g transform="translate(1679.3,316.3) rotate(27.0)" opacity="1.00"><rect x="-11.1" y="-7.3" width="22.3" height="14.6" rx="6.3" fill="url(#kg2)"/><ellipse cx="-1.1" cy="-1.7" rx="5.4" ry="2.8" fill="#eef2e2" opacity="0.5"/></g><g transform="translate(1699.5,328.5) rotate(26.5)" opacity="1.00"><rect x="-10.0" y="-8.1" width="20.1" height="16.2" rx="7.0" fill="url(#kg2)"/><ellipse cx="-1.0" cy="-1.9" rx="6.2" ry="4.0" fill="#eef2e2" opacity="0.5"/></g><g transform="translate(1720.2,340.1) rotate(28.5)" opacity="1.00"><rect x="-11.5" y="-8.1" width="22.9" height="16.2" rx="7.1" fill="url(#kg2)"/><ellipse cx="-1.1" cy="-1.9" rx="7.0" ry="4.0" fill="#eef2e2" opacity="0.5"/></g><g transform="translate(1740.7,350.5) rotate(24.1)" opacity="1.00"><rect x="-10.1" y="-8.6" width="20.3" height="17.2" rx="7.5" fill="url(#kg2)"/><ellipse cx="-1.0" cy="-2.1" rx="6.6" ry="4.5" fill="#eef2e2" opacity="0.5"/></g><g transform="translate(1760.8,363.3) rotate(24.9)" opacity="1.00"><rect x="-11.6" y="-8.3" width="23.2" height="16.6" rx="7.2" fill="url(#kg2)"/><ellipse cx="-1.2" cy="-2.0" rx="6.5" ry="3.7" fill="#eef2e2" opacity="0.5"/></g><g transform="translate(1780.4,375.0) rotate(31.5)" opacity="1.00"><rect x="-10.8" y="-7.6" width="21.7" height="15.3" rx="6.6" fill="url(#kg2)"/><ellipse cx="-1.1" cy="-1.8" rx="6.0" ry="3.4" fill="#eef2e2" opacity="0.5"/></g><g transform="translate(1799.6,385.3) rotate(25.6)" opacity="1.00"><rect x="-11.9" y="-8.8" width="23.7" height="17.5" rx="7.6" fill="url(#kg2)"/><ellipse cx="-1.2" cy="-2.1" rx="6.1" ry="3.6" fill="#eef2e2" opacity="0.5"/></g><g transform="translate(1562.2,268.3) rotate(26.1)" opacity="1.00"><rect x="-11.7" y="-7.4" width="23.3" height="14.9" rx="6.5" fill="url(#kg2)"/><ellipse cx="-1.2" cy="-1.8" rx="7.8" ry="4.0" fill="#eef2e2" opacity="0.5"/></g><g transform="translate(1581.7,279.0) rotate(30.7)" opacity="1.00"><rect x="-10.5" y="-8.8" width="21.1" height="17.5" rx="7.6" fill="url(#kg2)"/><ellipse cx="-1.1" cy="-2.1" rx="5.9" ry="3.9" fill="#eef2e2" opacity="0.5"/></g><g transform="translate(1603.1,291.9) rotate(26.0)" opacity="1.00"><rect x="-10.3" y="-7.9" width="20.5" height="15.8" rx="6.9" fill="url(#kg2)"/><ellipse cx="-1.0" cy="-1.9" rx="5.3" ry="3.3" fill="#eef2e2" opacity="0.5"/></g><g transform="translate(1621.5,302.2) rotate(26.0)" opacity="1.00"><rect x="-11.2" y="-8.0" width="22.5" height="16.1" rx="7.0" fill="url(#kg2)"/><ellipse cx="-1.1" cy="-1.9" rx="6.1" ry="3.5" fill="#eef2e2" opacity="0.5"/></g><g transform="translate(1640.9,313.5) rotate(26.0)" opacity="1.00"><rect x="-10.8" y="-7.3" width="21.5" height="14.6" rx="6.4" fill="url(#kg2)"/><ellipse cx="-1.1" cy="-1.8" rx="6.4" ry="3.5" fill="#eef2e2" opacity="0.5"/></g><g transform="translate(1662.4,325.4) rotate(25.8)" opacity="1.00"><rect x="-11.6" y="-8.7" width="23.2" height="17.4" rx="7.6" fill="url(#kg2)"/><ellipse cx="-1.2" cy="-2.1" rx="7.8" ry="4.7" fill="#eef2e2" opacity="0.5"/></g><g transform="translate(1682.7,337.4) rotate(26.1)" opacity="1.00"><rect x="-11.7" y="-7.9" width="23.3" height="15.9" rx="6.9" fill="url(#kg2)"/><ellipse cx="-1.2" cy="-1.9" rx="6.9" ry="3.8" fill="#eef2e2" opacity="0.5"/></g><g transform="translate(1702.2,348.7) rotate(24.2)" opacity="1.00"><rect x="-11.6" y="-8.3" width="23.3" height="16.7" rx="7.2" fill="url(#kg2)"/><ellipse cx="-1.2" cy="-2.0" rx="6.6" ry="3.8" fill="#eef2e2" opacity="0.5"/></g><g transform="translate(1720.9,360.3) rotate(27.7)" opacity="1.00"><rect x="-10.6" y="-8.1" width="21.3" height="16.3" rx="7.1" fill="url(#kg2)"/><ellipse cx="-1.1" cy="-2.0" rx="5.1" ry="3.1" fill="#eef2e2" opacity="0.5"/></g><g transform="translate(1742.3,373.1) rotate(32.0)" opacity="1.00"><rect x="-11.3" y="-8.3" width="22.5" height="16.6" rx="7.2" fill="url(#kg2)"/><ellipse cx="-1.1" cy="-2.0" rx="6.8" ry="4.0" fill="#eef2e2" opacity="0.5"/></g><g transform="translate(1762.0,383.4) rotate(28.8)" opacity="1.00"><rect x="-10.9" y="-8.7" width="21.8" height="17.4" rx="7.6" fill="url(#kg2)"/><ellipse cx="-1.1" cy="-2.1" rx="6.5" ry="4.1" fill="#eef2e2" opacity="0.5"/></g><g transform="translate(1780.8,395.4) rotate(32.0)" opacity="1.00"><rect x="-10.9" y="-8.7" width="21.7" height="17.4" rx="7.6" fill="url(#kg2)"/><ellipse cx="-1.1" cy="-2.1" rx="7.5" ry="4.8" fill="#eef2e2" opacity="0.5"/></g><g transform="translate(1802.2,405.4) rotate(28.5)" opacity="1.00"><rect x="-10.0" y="-7.7" width="20.1" height="15.5" rx="6.7" fill="url(#kg2)"/><ellipse cx="-1.0" cy="-1.9" rx="6.6" ry="4.0" fill="#eef2e2" opacity="0.5"/></g><g transform="translate(1543.9,276.6) rotate(29.8)" opacity="1.00"><rect x="-11.6" y="-8.2" width="23.1" height="16.5" rx="7.2" fill="url(#kg2)"/><ellipse cx="-1.2" cy="-2.0" rx="7.7" ry="4.4" fill="#eef2e2" opacity="0.5"/></g><g transform="translate(1564.1,288.4) rotate(31.3)" opacity="1.00"><rect x="-10.7" y="-7.8" width="21.5" height="15.6" rx="6.8" fill="url(#kg2)"/><ellipse cx="-1.1" cy="-1.9" rx="6.0" ry="3.5" fill="#eef2e2" opacity="0.5"/></g><g transform="translate(1583.3,301.2) rotate(28.6)" opacity="1.00"><rect x="-11.1" y="-7.3" width="22.3" height="14.7" rx="6.4" fill="url(#kg2)"/><ellipse cx="-1.1" cy="-1.8" rx="5.8" ry="3.1" fill="#eef2e2" opacity="0.5"/></g><g transform="translate(1604.1,311.3) rotate(27.4)" opacity="1.00"><rect x="-10.4" y="-7.8" width="20.8" height="15.6" rx="6.8" fill="url(#kg2)"/><ellipse cx="-1.0" cy="-1.9" rx="6.0" ry="3.6" fill="#eef2e2" opacity="0.5"/></g><g transform="translate(1624.3,323.7) rotate(25.3)" opacity="1.00"><rect x="-10.5" y="-7.8" width="20.9" height="15.5" rx="6.7" fill="url(#kg2)"/><ellipse cx="-1.0" cy="-1.9" rx="6.1" ry="3.6" fill="#eef2e2" opacity="0.5"/></g><g transform="translate(1643.0,333.9) rotate(28.8)" opacity="1.00"><rect x="-11.2" y="-8.6" width="22.4" height="17.2" rx="7.5" fill="url(#kg2)"/><ellipse cx="-1.1" cy="-2.1" rx="7.5" ry="4.6" fill="#eef2e2" opacity="0.5"/></g><g transform="translate(1662.9,346.6) rotate(28.0)" opacity="1.00"><rect x="-11.0" y="-7.5" width="22.0" height="15.0" rx="6.5" fill="url(#kg2)"/><ellipse cx="-1.1" cy="-1.8" rx="6.5" ry="3.6" fill="#eef2e2" opacity="0.5"/></g><g transform="translate(1682.4,357.8) rotate(25.9)" opacity="1.00"><rect x="-11.6" y="-8.2" width="23.1" height="16.5" rx="7.2" fill="url(#kg2)"/><ellipse cx="-1.2" cy="-2.0" rx="6.3" ry="3.6" fill="#eef2e2" opacity="0.5"/></g><g transform="translate(1703.3,369.6) rotate(29.0)" opacity="1.00"><rect x="-10.5" y="-8.0" width="21.0" height="15.9" rx="6.9" fill="url(#kg2)"/><ellipse cx="-1.0" cy="-1.9" rx="5.9" ry="3.6" fill="#eef2e2" opacity="0.5"/></g><g transform="translate(1723.8,380.6) rotate(25.9)" opacity="1.00"><rect x="-11.0" y="-8.1" width="21.9" height="16.2" rx="7.0" fill="url(#kg2)"/><ellipse cx="-1.1" cy="-1.9" rx="6.8" ry="4.0" fill="#eef2e2" opacity="0.5"/></g><g transform="translate(1742.2,393.5) rotate(27.9)" opacity="1.00"><rect x="-10.2" y="-8.3" width="20.4" height="16.6" rx="7.2" fill="url(#kg2)"/><ellipse cx="-1.0" cy="-2.0" rx="5.4" ry="3.5" fill="#eef2e2" opacity="0.5"/></g><g transform="translate(1762.6,403.3) rotate(25.1)" opacity="1.00"><rect x="-10.2" y="-8.7" width="20.5" height="17.5" rx="7.6" fill="url(#kg2)"/><ellipse cx="-1.0" cy="-2.1" rx="5.0" ry="3.4" fill="#eef2e2" opacity="0.5"/></g><g transform="translate(1783.2,415.1) rotate(25.7)" opacity="1.00"><rect x="-10.3" y="-8.4" width="20.6" height="16.9" rx="7.3" fill="url(#kg2)"/><ellipse cx="-1.0" cy="-2.0" rx="7.1" ry="4.6" fill="#eef2e2" opacity="0.5"/></g><g transform="translate(1803.1,426.7) rotate(29.3)" opacity="1.00"><rect x="-11.9" y="-8.2" width="23.8" height="16.3" rx="7.1" fill="url(#kg2)"/><ellipse cx="-1.2" cy="-2.0" rx="7.9" ry="4.4" fill="#eef2e2" opacity="0.5"/></g><g transform="translate(1546.1,298.3) rotate(30.3)" opacity="1.00"><rect x="-10.0" y="-8.3" width="20.1" height="16.6" rx="7.2" fill="url(#kg2)"/><ellipse cx="-1.0" cy="-2.0" rx="6.9" ry="4.6" fill="#eef2e2" opacity="0.5"/></g><g transform="translate(1565.5,309.3) rotate(24.6)" opacity="1.00"><rect x="-11.2" y="-8.7" width="22.3" height="17.4" rx="7.5" fill="url(#kg2)"/><ellipse cx="-1.1" cy="-2.1" rx="6.5" ry="4.1" fill="#eef2e2" opacity="0.5"/></g><g transform="translate(1584.1,322.0) rotate(24.8)" opacity="1.00"><rect x="-11.3" y="-8.7" width="22.6" height="17.4" rx="7.6" fill="url(#kg2)"/><ellipse cx="-1.1" cy="-2.1" rx="5.8" ry="3.6" fill="#eef2e2" opacity="0.5"/></g><g transform="translate(1605.3,332.2) rotate(30.3)" opacity="1.00"><rect x="-10.8" y="-7.6" width="21.6" height="15.1" rx="6.6" fill="url(#kg2)"/><ellipse cx="-1.1" cy="-1.8" rx="6.9" ry="3.9" fill="#eef2e2" opacity="0.5"/></g><g transform="translate(1625.3,343.7) rotate(26.6)" opacity="1.00"><rect x="-10.9" y="-7.8" width="21.7" height="15.7" rx="6.8" fill="url(#kg2)"/><ellipse cx="-1.1" cy="-1.9" rx="6.3" ry="3.6" fill="#eef2e2" opacity="0.5"/></g><g transform="translate(1644.6,356.5) rotate(30.6)" opacity="1.00"><rect x="-11.5" y="-7.4" width="23.0" height="14.8" rx="6.4" fill="url(#kg2)"/><ellipse cx="-1.1" cy="-1.8" rx="7.1" ry="3.7" fill="#eef2e2" opacity="0.5"/></g><g transform="translate(1664.2,367.9) rotate(27.0)" opacity="1.00"><rect x="-11.8" y="-7.3" width="23.5" height="14.6" rx="6.4" fill="url(#kg2)"/><ellipse cx="-1.2" cy="-1.8" rx="7.2" ry="3.6" fill="#eef2e2" opacity="0.5"/></g><g transform="translate(1684.5,378.5) rotate(26.0)" opacity="1.00"><rect x="-11.6" y="-8.2" width="23.2" height="16.4" rx="7.1" fill="url(#kg2)"/><ellipse cx="-1.2" cy="-2.0" rx="7.7" ry="4.4" fill="#eef2e2" opacity="0.5"/></g><g transform="translate(1705.2,389.7) rotate(25.8)" opacity="1.00"><rect x="-10.3" y="-8.5" width="20.5" height="17.0" rx="7.4" fill="url(#kg2)"/><ellipse cx="-1.0" cy="-2.0" rx="6.2" ry="4.1" fill="#eef2e2" opacity="0.5"/></g><g transform="translate(1725.3,401.4) rotate(28.4)" opacity="1.00"><rect x="-11.2" y="-8.8" width="22.5" height="17.6" rx="7.6" fill="url(#kg2)"/><ellipse cx="-1.1" cy="-2.1" rx="6.2" ry="3.9" fill="#eef2e2" opacity="0.5"/></g><g transform="translate(1744.4,412.4) rotate(26.1)" opacity="1.00"><rect x="-11.0" y="-8.7" width="21.9" height="17.5" rx="7.6" fill="url(#kg2)"/><ellipse cx="-1.1" cy="-2.1" rx="6.9" ry="4.4" fill="#eef2e2" opacity="0.5"/></g><g transform="translate(1764.7,424.7) rotate(30.2)" opacity="1.00"><rect x="-10.6" y="-8.3" width="21.3" height="16.5" rx="7.2" fill="url(#kg2)"/><ellipse cx="-1.1" cy="-2.0" rx="5.9" ry="3.7" fill="#eef2e2" opacity="0.5"/></g><g transform="translate(1783.9,436.7) rotate(25.0)" opacity="1.00"><rect x="-10.5" y="-7.5" width="21.0" height="14.9" rx="6.5" fill="url(#kg2)"/><ellipse cx="-1.0" cy="-1.8" rx="5.8" ry="3.3" fill="#eef2e2" opacity="0.5"/></g><g transform="translate(1805.0,448.6) rotate(30.8)" opacity="1.00"><rect x="-10.7" y="-7.6" width="21.4" height="15.2" rx="6.6" fill="url(#kg2)"/><ellipse cx="-1.1" cy="-1.8" rx="7.1" ry="4.0" fill="#eef2e2" opacity="0.5"/></g><g transform="translate(1525.7,306.0) rotate(31.7)" opacity="1.00"><rect x="-11.1" y="-7.7" width="22.2" height="15.4" rx="6.7" fill="url(#kg2)"/><ellipse cx="-1.1" cy="-1.8" rx="7.5" ry="4.1" fill="#eef2e2" opacity="0.5"/></g><g transform="translate(1547.0,317.8) rotate(27.4)" opacity="1.00"><rect x="-11.4" y="-7.7" width="22.8" height="15.5" rx="6.7" fill="url(#kg2)"/><ellipse cx="-1.1" cy="-1.9" rx="7.6" ry="4.1" fill="#eef2e2" opacity="0.5"/></g><g transform="translate(1566.9,330.5) rotate(25.2)" opacity="1.00"><rect x="-11.3" y="-8.4" width="22.6" height="16.8" rx="7.3" fill="url(#kg2)"/><ellipse cx="-1.1" cy="-2.0" rx="6.2" ry="3.7" fill="#eef2e2" opacity="0.5"/></g><g transform="translate(1586.1,342.5) rotate(27.5)" opacity="1.00"><rect x="-10.0" y="-7.7" width="19.9" height="15.3" rx="6.7" fill="url(#kg2)"/><ellipse cx="-1.0" cy="-1.8" rx="5.4" ry="3.3" fill="#eef2e2" opacity="0.5"/></g><g transform="translate(1607.2,352.1) rotate(29.8)" opacity="1.00"><rect x="-10.1" y="-7.2" width="20.2" height="14.5" rx="6.3" fill="url(#kg2)"/><ellipse cx="-1.0" cy="-1.7" rx="5.6" ry="3.2" fill="#eef2e2" opacity="0.5"/></g><g transform="translate(1626.1,364.7) rotate(24.3)" opacity="1.00"><rect x="-10.9" y="-7.8" width="21.8" height="15.6" rx="6.8" fill="url(#kg2)"/><ellipse cx="-1.1" cy="-1.9" rx="6.2" ry="3.5" fill="#eef2e2" opacity="0.5"/></g><g transform="translate(1647.2,376.4) rotate(28.1)" opacity="1.00"><rect x="-10.1" y="-7.5" width="20.2" height="15.0" rx="6.5" fill="url(#kg2)"/><ellipse cx="-1.0" cy="-1.8" rx="6.5" ry="3.9" fill="#eef2e2" opacity="0.5"/></g><g transform="translate(1666.7,388.0) rotate(25.1)" opacity="1.00"><rect x="-10.2" y="-8.5" width="20.4" height="17.0" rx="7.4" fill="url(#kg2)"/><ellipse cx="-1.0" cy="-2.0" rx="5.3" ry="3.6" fill="#eef2e2" opacity="0.5"/></g><g transform="translate(1686.6,399.6) rotate(26.4)" opacity="1.00"><rect x="-10.5" y="-7.8" width="21.0" height="15.6" rx="6.8" fill="url(#kg2)"/><ellipse cx="-1.0" cy="-1.9" rx="6.7" ry="4.0" fill="#eef2e2" opacity="0.5"/></g><g transform="translate(1705.8,411.6) rotate(32.0)" opacity="1.00"><rect x="-10.2" y="-8.7" width="20.3" height="17.4" rx="7.6" fill="url(#kg2)"/><ellipse cx="-1.0" cy="-2.1" rx="6.8" ry="4.6" fill="#eef2e2" opacity="0.5"/></g><g transform="translate(1725.2,421.2) rotate(28.6)" opacity="1.00"><rect x="-10.8" y="-7.5" width="21.5" height="14.9" rx="6.5" fill="url(#kg2)"/><ellipse cx="-1.1" cy="-1.8" rx="7.3" ry="4.0" fill="#eef2e2" opacity="0.5"/></g><g transform="translate(1746.6,433.4) rotate(25.8)" opacity="1.00"><rect x="-10.9" y="-8.7" width="21.8" height="17.5" rx="7.6" fill="url(#kg2)"/><ellipse cx="-1.1" cy="-2.1" rx="5.5" ry="3.5" fill="#eef2e2" opacity="0.5"/></g><g transform="translate(1766.5,445.1) rotate(28.9)" opacity="1.00"><rect x="-11.4" y="-8.8" width="22.9" height="17.6" rx="7.6" fill="url(#kg2)"/><ellipse cx="-1.1" cy="-2.1" rx="7.4" ry="4.5" fill="#eef2e2" opacity="0.5"/></g><g transform="translate(1786.2,456.5) rotate(28.2)" opacity="1.00"><rect x="-10.3" y="-7.7" width="20.7" height="15.4" rx="6.7" fill="url(#kg2)"/><ellipse cx="-1.0" cy="-1.9" rx="7.0" ry="4.2" fill="#eef2e2" opacity="0.5"/></g><g transform="translate(1528.4,327.6) rotate(30.3)" opacity="1.00"><rect x="-10.9" y="-8.6" width="21.7" height="17.3" rx="7.5" fill="url(#kg2)"/><ellipse cx="-1.1" cy="-2.1" rx="7.2" ry="4.6" fill="#eef2e2" opacity="0.5"/></g><g transform="translate(1548.6,339.4) rotate(25.6)" opacity="1.00"><rect x="-10.3" y="-8.0" width="20.6" height="16.0" rx="6.9" fill="url(#kg2)"/><ellipse cx="-1.0" cy="-1.9" rx="5.5" ry="3.4" fill="#eef2e2" opacity="0.5"/></g><g transform="translate(1569.0,349.7) rotate(24.2)" opacity="1.00"><rect x="-11.5" y="-8.5" width="23.0" height="17.1" rx="7.4" fill="url(#kg2)"/><ellipse cx="-1.2" cy="-2.0" rx="6.5" ry="3.9" fill="#eef2e2" opacity="0.5"/></g><g transform="translate(1587.1,362.2) rotate(25.3)" opacity="1.00"><rect x="-11.3" y="-7.8" width="22.6" height="15.5" rx="6.8" fill="url(#kg2)"/><ellipse cx="-1.1" cy="-1.9" rx="6.8" ry="3.8" fill="#eef2e2" opacity="0.5"/></g><g transform="translate(1608.2,374.0) rotate(24.0)" opacity="1.00"><rect x="-11.4" y="-8.1" width="22.9" height="16.2" rx="7.0" fill="url(#kg2)"/><ellipse cx="-1.1" cy="-1.9" rx="6.9" ry="3.9" fill="#eef2e2" opacity="0.5"/></g><g transform="translate(1627.1,384.6) rotate(29.5)" opacity="1.00"><rect x="-10.0" y="-7.3" width="20.1" height="14.6" rx="6.4" fill="url(#kg2)"/><ellipse cx="-1.0" cy="-1.8" rx="6.8" ry="4.0" fill="#eef2e2" opacity="0.5"/></g><g transform="translate(1647.8,396.8) rotate(27.1)" opacity="1.00"><rect x="-11.6" y="-8.2" width="23.2" height="16.4" rx="7.1" fill="url(#kg2)"/><ellipse cx="-1.2" cy="-2.0" rx="6.6" ry="3.7" fill="#eef2e2" opacity="0.5"/></g><g transform="translate(1668.7,409.0) rotate(26.7)" opacity="1.00"><rect x="-10.2" y="-8.5" width="20.4" height="17.0" rx="7.4" fill="url(#kg2)"/><ellipse cx="-1.0" cy="-2.0" rx="6.3" ry="4.2" fill="#eef2e2" opacity="0.5"/></g><g transform="translate(1687.9,418.8) rotate(24.5)" opacity="1.00"><rect x="-11.4" y="-8.1" width="22.8" height="16.2" rx="7.0" fill="url(#kg2)"/><ellipse cx="-1.1" cy="-1.9" rx="6.9" ry="3.9" fill="#eef2e2" opacity="0.5"/></g><g transform="translate(1708.3,432.0) rotate(24.9)" opacity="1.00"><rect x="-11.4" y="-7.7" width="22.8" height="15.3" rx="6.7" fill="url(#kg2)"/><ellipse cx="-1.1" cy="-1.8" rx="7.2" ry="3.9" fill="#eef2e2" opacity="0.5"/></g><g transform="translate(1727.4,442.0) rotate(27.5)" opacity="1.00"><rect x="-10.8" y="-7.7" width="21.7" height="15.3" rx="6.7" fill="url(#kg2)"/><ellipse cx="-1.1" cy="-1.8" rx="5.4" ry="3.0" fill="#eef2e2" opacity="0.5"/></g><g transform="translate(1746.6,453.1) rotate(31.8)" opacity="1.00"><rect x="-10.6" y="-7.4" width="21.1" height="14.8" rx="6.4" fill="url(#kg2)"/><ellipse cx="-1.1" cy="-1.8" rx="5.1" ry="2.9" fill="#eef2e2" opacity="0.5"/></g><g transform="translate(1510.2,337.2) rotate(26.5)" opacity="1.00"><rect x="-10.3" y="-7.9" width="20.5" height="15.7" rx="6.8" fill="url(#kg2)"/><ellipse cx="-1.0" cy="-1.9" rx="7.0" ry="4.3" fill="#eef2e2" opacity="0.5"/></g><g transform="translate(1528.7,347.2) rotate(31.5)" opacity="1.00"><rect x="-11.6" y="-7.8" width="23.2" height="15.5" rx="6.7" fill="url(#kg2)"/><ellipse cx="-1.2" cy="-1.9" rx="7.2" ry="3.8" fill="#eef2e2" opacity="0.5"/></g><g transform="translate(1549.8,358.6) rotate(28.9)" opacity="1.00"><rect x="-10.9" y="-7.7" width="21.7" height="15.4" rx="6.7" fill="url(#kg2)"/><ellipse cx="-1.1" cy="-1.9" rx="6.3" ry="3.6" fill="#eef2e2" opacity="0.5"/></g><g transform="translate(1570.5,371.3) rotate(25.5)" opacity="1.00"><rect x="-10.9" y="-8.5" width="21.8" height="17.0" rx="7.4" fill="url(#kg2)"/><ellipse cx="-1.1" cy="-2.0" rx="6.4" ry="4.0" fill="#eef2e2" opacity="0.5"/></g><g transform="translate(1589.7,381.8) rotate(24.3)" opacity="1.00"><rect x="-10.3" y="-7.8" width="20.6" height="15.6" rx="6.8" fill="url(#kg2)"/><ellipse cx="-1.0" cy="-1.9" rx="6.0" ry="3.6" fill="#eef2e2" opacity="0.5"/></g><g transform="translate(1608.9,394.9) rotate(29.6)" opacity="1.00"><rect x="-10.9" y="-7.8" width="21.8" height="15.6" rx="6.8" fill="url(#kg2)"/><ellipse cx="-1.1" cy="-1.9" rx="6.3" ry="3.6" fill="#eef2e2" opacity="0.5"/></g><g transform="translate(1629.2,405.1) rotate(27.4)" opacity="1.00"><rect x="-11.0" y="-7.6" width="22.1" height="15.3" rx="6.6" fill="url(#kg2)"/><ellipse cx="-1.1" cy="-1.8" rx="6.9" ry="3.8" fill="#eef2e2" opacity="0.5"/></g><g transform="translate(1649.6,416.5) rotate(27.9)" opacity="1.00"><rect x="-11.2" y="-7.5" width="22.3" height="15.0" rx="6.5" fill="url(#kg2)"/><ellipse cx="-1.1" cy="-1.8" rx="6.5" ry="3.5" fill="#eef2e2" opacity="0.5"/></g><g transform="translate(1667.8,427.4) rotate(30.8)" opacity="1.00"><rect x="-10.8" y="-8.4" width="21.6" height="16.8" rx="7.3" fill="url(#kg2)"/><ellipse cx="-1.1" cy="-2.0" rx="7.0" ry="4.4" fill="#eef2e2" opacity="0.5"/></g><g transform="translate(1689.7,441.0) rotate(30.3)" opacity="1.00"><rect x="-10.3" y="-7.4" width="20.6" height="14.9" rx="6.5" fill="url(#kg2)"/><ellipse cx="-1.0" cy="-1.8" rx="5.2" ry="3.0" fill="#eef2e2" opacity="0.5"/></g><g transform="translate(1708.1,450.9) rotate(25.9)" opacity="1.00"><rect x="-10.2" y="-8.7" width="20.3" height="17.3" rx="7.5" fill="url(#kg2)"/><ellipse cx="-1.0" cy="-2.1" rx="5.3" ry="3.6" fill="#eef2e2" opacity="0.5"/></g><g transform="translate(1511.0,355.7) rotate(30.7)" opacity="1.00"><rect x="-11.2" y="-8.0" width="22.3" height="15.9" rx="6.9" fill="url(#kg2)"/><ellipse cx="-1.1" cy="-1.9" rx="7.1" ry="4.1" fill="#eef2e2" opacity="0.5"/></g><g transform="translate(1531.6,368.8) rotate(25.8)" opacity="1.00"><rect x="-10.6" y="-8.4" width="21.1" height="16.7" rx="7.3" fill="url(#kg2)"/><ellipse cx="-1.1" cy="-2.0" rx="6.5" ry="4.1" fill="#eef2e2" opacity="0.5"/></g><g transform="translate(1551.8,379.7) rotate(27.8)" opacity="1.00"><rect x="-11.0" y="-7.5" width="21.9" height="15.0" rx="6.5" fill="url(#kg2)"/><ellipse cx="-1.1" cy="-1.8" rx="7.2" ry="3.9" fill="#eef2e2" opacity="0.5"/></g><g transform="translate(1571.4,392.1) rotate(25.9)" opacity="1.00"><rect x="-10.9" y="-8.1" width="21.9" height="16.3" rx="7.1" fill="url(#kg2)"/><ellipse cx="-1.1" cy="-2.0" rx="6.3" ry="3.8" fill="#eef2e2" opacity="0.5"/></g><g transform="translate(1591.5,403.8) rotate(24.6)" opacity="1.00"><rect x="-10.0" y="-7.3" width="19.9" height="14.5" rx="6.3" fill="url(#kg2)"/><ellipse cx="-1.0" cy="-1.7" rx="5.8" ry="3.4" fill="#eef2e2" opacity="0.5"/></g><g transform="translate(1610.6,413.9) rotate(31.4)" opacity="1.00"><rect x="-10.4" y="-8.4" width="20.8" height="16.9" rx="7.3" fill="url(#kg2)"/><ellipse cx="-1.0" cy="-2.0" rx="6.2" ry="4.1" fill="#eef2e2" opacity="0.5"/></g><g transform="translate(1629.9,425.5) rotate(25.5)" opacity="1.00"><rect x="-11.1" y="-8.4" width="22.2" height="16.9" rx="7.3" fill="url(#kg2)"/><ellipse cx="-1.1" cy="-2.0" rx="6.3" ry="3.8" fill="#eef2e2" opacity="0.5"/></g><g transform="translate(1650.3,437.5) rotate(30.7)" opacity="1.00"><rect x="-11.8" y="-8.2" width="23.6" height="16.5" rx="7.2" fill="url(#kg2)"/><ellipse cx="-1.2" cy="-2.0" rx="7.8" ry="4.3" fill="#eef2e2" opacity="0.5"/></g><g transform="translate(1670.3,448.8) rotate(25.5)" opacity="1.00"><rect x="-11.6" y="-8.4" width="23.1" height="16.7" rx="7.3" fill="url(#kg2)"/><ellipse cx="-1.2" cy="-2.0" rx="6.5" ry="3.8" fill="#eef2e2" opacity="0.5"/></g><g transform="translate(1491.5,366.3) rotate(24.2)" opacity="1.00"><rect x="-10.7" y="-8.5" width="21.4" height="17.0" rx="7.4" fill="url(#kg2)"/><ellipse cx="-1.1" cy="-2.0" rx="7.0" ry="4.5" fill="#eef2e2" opacity="0.5"/></g><g transform="translate(1512.1,376.7) rotate(26.7)" opacity="1.00"><rect x="-10.4" y="-7.2" width="20.8" height="14.5" rx="6.3" fill="url(#kg2)"/><ellipse cx="-1.0" cy="-1.7" rx="5.6" ry="3.1" fill="#eef2e2" opacity="0.5"/></g><g transform="translate(1532.4,388.9) rotate(31.2)" opacity="1.00"><rect x="-11.9" y="-7.4" width="23.7" height="14.7" rx="6.4" fill="url(#kg2)"/><ellipse cx="-1.2" cy="-1.8" rx="6.0" ry="3.0" fill="#eef2e2" opacity="0.5"/></g><g transform="translate(1551.9,400.4) rotate(28.6)" opacity="1.00"><rect x="-10.5" y="-8.6" width="21.0" height="17.3" rx="7.5" fill="url(#kg2)"/><ellipse cx="-1.1" cy="-2.1" rx="7.1" ry="4.7" fill="#eef2e2" opacity="0.5"/></g><g transform="translate(1571.4,411.5) rotate(27.2)" opacity="1.00"><rect x="-11.3" y="-8.1" width="22.6" height="16.2" rx="7.0" fill="url(#kg2)"/><ellipse cx="-1.1" cy="-1.9" rx="6.1" ry="3.5" fill="#eef2e2" opacity="0.5"/></g><g transform="translate(1591.2,423.0) rotate(25.3)" opacity="1.00"><rect x="-11.5" y="-7.8" width="23.1" height="15.6" rx="6.8" fill="url(#kg2)"/><ellipse cx="-1.2" cy="-1.9" rx="6.7" ry="3.6" fill="#eef2e2" opacity="0.5"/></g><g transform="translate(1612.7,434.6) rotate(24.6)" opacity="1.00"><rect x="-10.7" y="-8.4" width="21.3" height="16.9" rx="7.3" fill="url(#kg2)"/><ellipse cx="-1.1" cy="-2.0" rx="5.8" ry="3.7" fill="#eef2e2" opacity="0.5"/></g><g transform="translate(1632.4,446.9) rotate(28.1)" opacity="1.00"><rect x="-10.0" y="-7.8" width="20.0" height="15.5" rx="6.7" fill="url(#kg2)"/><ellipse cx="-1.0" cy="-1.9" rx="6.7" ry="4.1" fill="#eef2e2" opacity="0.5"/></g><g transform="translate(1651.8,456.9) rotate(29.3)" opacity="1.00"><rect x="-10.5" y="-8.1" width="20.9" height="16.3" rx="7.1" fill="url(#kg2)"/><ellipse cx="-1.0" cy="-2.0" rx="7.0" ry="4.4" fill="#eef2e2" opacity="0.5"/></g><g transform="translate(1493.0,386.2) rotate(25.1)" opacity="1.00"><rect x="-11.4" y="-7.3" width="22.9" height="14.6" rx="6.4" fill="url(#kg2)"/><ellipse cx="-1.1" cy="-1.8" rx="6.7" ry="3.4" fill="#eef2e2" opacity="0.5"/></g><g transform="translate(1514.7,398.7) rotate(29.7)" opacity="1.00"><rect x="-11.6" y="-8.1" width="23.3" height="16.1" rx="7.0" fill="url(#kg2)"/><ellipse cx="-1.2" cy="-1.9" rx="5.9" ry="3.3" fill="#eef2e2" opacity="0.5"/></g><g transform="translate(1532.9,409.9) rotate(29.9)" opacity="1.00"><rect x="-10.5" y="-8.6" width="21.0" height="17.3" rx="7.5" fill="url(#kg2)"/><ellipse cx="-1.0" cy="-2.1" rx="5.7" ry="3.7" fill="#eef2e2" opacity="0.5"/></g><g transform="translate(1553.9,420.1) rotate(28.4)" opacity="1.00"><rect x="-10.9" y="-7.9" width="21.7" height="15.8" rx="6.9" fill="url(#kg2)"/><ellipse cx="-1.1" cy="-1.9" rx="5.6" ry="3.2" fill="#eef2e2" opacity="0.5"/></g><g transform="translate(1573.9,432.7) rotate(28.2)" opacity="1.00"><rect x="-10.6" y="-8.2" width="21.1" height="16.4" rx="7.1" fill="url(#kg2)"/><ellipse cx="-1.1" cy="-2.0" rx="5.5" ry="3.4" fill="#eef2e2" opacity="0.5"/></g><g transform="translate(1593.1,444.4) rotate(26.4)" opacity="1.00"><rect x="-10.3" y="-7.7" width="20.6" height="15.3" rx="6.7" fill="url(#kg2)"/><ellipse cx="-1.0" cy="-1.8" rx="5.1" ry="3.0" fill="#eef2e2" opacity="0.5"/></g><g transform="translate(1613.7,454.6) rotate(25.7)" opacity="1.00"><rect x="-10.1" y="-8.6" width="20.3" height="17.3" rx="7.5" fill="url(#kg2)"/><ellipse cx="-1.0" cy="-2.1" rx="5.5" ry="3.8" fill="#eef2e2" opacity="0.5"/></g><g transform="translate(1476.8,395.5) rotate(29.0)" opacity="1.00"><rect x="-10.3" y="-8.6" width="20.6" height="17.1" rx="7.4" fill="url(#kg2)"/><ellipse cx="-1.0" cy="-2.1" rx="6.3" ry="4.2" fill="#eef2e2" opacity="0.5"/></g><g transform="translate(1496.5,406.3) rotate(29.6)" opacity="1.00"><rect x="-10.4" y="-8.1" width="20.9" height="16.2" rx="7.1" fill="url(#kg2)"/><ellipse cx="-1.0" cy="-1.9" rx="5.5" ry="3.4" fill="#eef2e2" opacity="0.5"/></g><g transform="translate(1515.4,417.5) rotate(31.3)" opacity="1.00"><rect x="-10.1" y="-7.5" width="20.3" height="14.9" rx="6.5" fill="url(#kg2)"/><ellipse cx="-1.0" cy="-1.8" rx="6.1" ry="3.6" fill="#eef2e2" opacity="0.5"/></g><g transform="translate(1536.1,430.6) rotate(26.9)" opacity="1.00"><rect x="-11.0" y="-8.5" width="22.0" height="17.0" rx="7.4" fill="url(#kg2)"/><ellipse cx="-1.1" cy="-2.0" rx="6.1" ry="3.7" fill="#eef2e2" opacity="0.5"/></g><g transform="translate(1556.3,440.6) rotate(28.5)" opacity="1.00"><rect x="-11.1" y="-8.1" width="22.3" height="16.2" rx="7.1" fill="url(#kg2)"/><ellipse cx="-1.1" cy="-1.9" rx="5.5" ry="3.2" fill="#eef2e2" opacity="0.5"/></g><g transform="translate(1576.0,453.7) rotate(31.3)" opacity="1.00"><rect x="-10.7" y="-8.6" width="21.5" height="17.3" rx="7.5" fill="url(#kg2)"/><ellipse cx="-1.1" cy="-2.1" rx="5.2" ry="3.4" fill="#eef2e2" opacity="0.5"/></g></g></g><g filter="url(#fb3)" opacity="0.7"><g clip-path="url(#clow)"><g transform="translate(1442.3,223.5) rotate(21.7)" opacity="1.00"><rect x="-13.0" y="-9.2" width="26.0" height="18.5" rx="8.0" fill="url(#kg3)"/><ellipse cx="-1.3" cy="-2.2" rx="6.9" ry="3.9" fill="#e8d098" opacity="0.5"/></g><g transform="translate(1470.2,233.7) rotate(19.7)" opacity="1.00"><rect x="-12.6" y="-7.9" width="25.2" height="15.7" rx="6.8" fill="url(#kg3)"/><ellipse cx="-1.3" cy="-1.9" rx="8.6" ry="4.3" fill="#e8d098" opacity="0.5"/></g><g transform="translate(1498.5,244.1) rotate(19.5)" opacity="1.00"><rect x="-14.2" y="-8.2" width="28.4" height="16.4" rx="7.1" fill="url(#kg3)"/><ellipse cx="-1.4" cy="-2.0" rx="7.4" ry="3.4" fill="#e8d098" opacity="0.5"/></g><g transform="translate(1527.8,255.0) rotate(16.3)" opacity="1.00"><rect x="-14.0" y="-8.0" width="28.0" height="15.9" rx="6.9" fill="url(#kg3)"/><ellipse cx="-1.4" cy="-1.9" rx="8.4" ry="3.8" fill="#e8d098" opacity="0.5"/></g><g transform="translate(1556.4,266.7) rotate(22.0)" opacity="1.00"><rect x="-14.1" y="-8.5" width="28.1" height="16.9" rx="7.4" fill="url(#kg3)"/><ellipse cx="-1.4" cy="-2.0" rx="7.9" ry="3.8" fill="#e8d098" opacity="0.5"/></g><g transform="translate(1583.8,276.4) rotate(17.4)" opacity="1.00"><rect x="-13.7" y="-8.3" width="27.4" height="16.7" rx="7.2" fill="url(#kg3)"/><ellipse cx="-1.4" cy="-2.0" rx="8.7" ry="4.2" fill="#e8d098" opacity="0.5"/></g><g transform="translate(1611.4,285.6) rotate(21.9)" opacity="1.00"><rect x="-13.1" y="-9.1" width="26.2" height="18.2" rx="7.9" fill="url(#kg3)"/><ellipse cx="-1.3" cy="-2.2" rx="7.2" ry="4.0" fill="#e8d098" opacity="0.5"/></g><g transform="translate(1638.9,297.5) rotate(20.8)" opacity="1.00"><rect x="-13.8" y="-8.9" width="27.6" height="17.8" rx="7.8" fill="url(#kg3)"/><ellipse cx="-1.4" cy="-2.1" rx="6.9" ry="3.6" fill="#e8d098" opacity="0.5"/></g><g transform="translate(1668.9,306.2) rotate(22.1)" opacity="1.00"><rect x="-12.8" y="-8.3" width="25.7" height="16.6" rx="7.2" fill="url(#kg3)"/><ellipse cx="-1.3" cy="-2.0" rx="8.2" ry="4.3" fill="#e8d098" opacity="0.5"/></g><g transform="translate(1695.3,316.6) rotate(22.9)" opacity="1.00"><rect x="-14.9" y="-8.1" width="29.8" height="16.3" rx="7.1" fill="url(#kg3)"/><ellipse cx="-1.5" cy="-2.0" rx="7.4" ry="3.2" fill="#e8d098" opacity="0.5"/></g><g transform="translate(1725.3,327.1) rotate(17.5)" opacity="1.00"><rect x="-14.4" y="-8.9" width="28.7" height="17.9" rx="7.8" fill="url(#kg3)"/><ellipse cx="-1.4" cy="-2.1" rx="9.4" ry="4.7" fill="#e8d098" opacity="0.5"/></g><g transform="translate(1753.3,338.5) rotate(23.8)" opacity="1.00"><rect x="-14.6" y="-8.5" width="29.2" height="17.1" rx="7.4" fill="url(#kg3)"/><ellipse cx="-1.5" cy="-2.0" rx="8.2" ry="3.8" fill="#e8d098" opacity="0.5"/></g><g transform="translate(1782.1,348.5) rotate(20.0)" opacity="1.00"><rect x="-13.9" y="-9.2" width="27.8" height="18.3" rx="8.0" fill="url(#kg3)"/><ellipse cx="-1.4" cy="-2.2" rx="9.2" ry="4.9" fill="#e8d098" opacity="0.5"/></g><g transform="translate(1421.6,239.2) rotate(18.5)" opacity="1.00"><rect x="-14.2" y="-9.0" width="28.4" height="18.1" rx="7.9" fill="url(#kg3)"/><ellipse cx="-1.4" cy="-2.2" rx="9.7" ry="4.9" fill="#e8d098" opacity="0.5"/></g><g transform="translate(1450.7,249.1) rotate(20.1)" opacity="1.00"><rect x="-13.5" y="-8.9" width="27.0" height="17.9" rx="7.8" fill="url(#kg3)"/><ellipse cx="-1.3" cy="-2.1" rx="9.2" ry="4.9" fill="#e8d098" opacity="0.5"/></g><g transform="translate(1478.5,260.5) rotate(16.2)" opacity="1.00"><rect x="-13.4" y="-8.7" width="26.8" height="17.4" rx="7.6" fill="url(#kg3)"/><ellipse cx="-1.3" cy="-2.1" rx="9.1" ry="4.7" fill="#e8d098" opacity="0.5"/></g><g transform="translate(1505.1,270.9) rotate(19.6)" opacity="1.00"><rect x="-14.0" y="-8.4" width="28.1" height="16.7" rx="7.3" fill="url(#kg3)"/><ellipse cx="-1.4" cy="-2.0" rx="9.1" ry="4.3" fill="#e8d098" opacity="0.5"/></g><g transform="translate(1533.3,279.9) rotate(16.1)" opacity="1.00"><rect x="-14.5" y="-8.7" width="29.0" height="17.5" rx="7.6" fill="url(#kg3)"/><ellipse cx="-1.5" cy="-2.1" rx="8.5" ry="4.1" fill="#e8d098" opacity="0.5"/></g><g transform="translate(1563.5,289.5) rotate(21.5)" opacity="1.00"><rect x="-13.3" y="-9.0" width="26.6" height="18.0" rx="7.8" fill="url(#kg3)"/><ellipse cx="-1.3" cy="-2.2" rx="9.0" ry="4.9" fill="#e8d098" opacity="0.5"/></g><g transform="translate(1590.3,301.4) rotate(20.4)" opacity="1.00"><rect x="-14.3" y="-8.6" width="28.6" height="17.3" rx="7.5" fill="url(#kg3)"/><ellipse cx="-1.4" cy="-2.1" rx="9.2" ry="4.5" fill="#e8d098" opacity="0.5"/></g><g transform="translate(1618.8,310.5) rotate(21.0)" opacity="1.00"><rect x="-14.6" y="-7.8" width="29.1" height="15.7" rx="6.8" fill="url(#kg3)"/><ellipse cx="-1.5" cy="-1.9" rx="7.3" ry="3.1" fill="#e8d098" opacity="0.5"/></g><g transform="translate(1645.8,322.2) rotate(19.9)" opacity="1.00"><rect x="-13.1" y="-8.4" width="26.2" height="16.9" rx="7.3" fill="url(#kg3)"/><ellipse cx="-1.3" cy="-2.0" rx="7.0" ry="3.6" fill="#e8d098" opacity="0.5"/></g><g transform="translate(1675.4,330.9) rotate(17.7)" opacity="1.00"><rect x="-14.0" y="-9.3" width="27.9" height="18.6" rx="8.1" fill="url(#kg3)"/><ellipse cx="-1.4" cy="-2.2" rx="7.1" ry="3.8" fill="#e8d098" opacity="0.5"/></g><g transform="translate(1702.6,340.9) rotate(16.3)" opacity="1.00"><rect x="-12.6" y="-9.3" width="25.3" height="18.6" rx="8.1" fill="url(#kg3)"/><ellipse cx="-1.3" cy="-2.2" rx="8.6" ry="5.1" fill="#e8d098" opacity="0.5"/></g><g transform="translate(1732.3,352.3) rotate(21.1)" opacity="1.00"><rect x="-13.1" y="-9.2" width="26.2" height="18.3" rx="8.0" fill="url(#kg3)"/><ellipse cx="-1.3" cy="-2.2" rx="6.6" ry="3.7" fill="#e8d098" opacity="0.5"/></g><g transform="translate(1760.1,362.8) rotate(18.4)" opacity="1.00"><rect x="-13.2" y="-7.9" width="26.4" height="15.8" rx="6.9" fill="url(#kg3)"/><ellipse cx="-1.3" cy="-1.9" rx="8.1" ry="3.9" fill="#e8d098" opacity="0.5"/></g><g transform="translate(1788.1,373.2) rotate(19.2)" opacity="1.00"><rect x="-12.7" y="-8.9" width="25.4" height="17.8" rx="7.7" fill="url(#kg3)"/><ellipse cx="-1.3" cy="-2.1" rx="8.7" ry="4.9" fill="#e8d098" opacity="0.5"/></g><g transform="translate(1429.2,263.4) rotate(20.6)" opacity="1.00"><rect x="-12.9" y="-8.5" width="25.7" height="17.0" rx="7.4" fill="url(#kg3)"/><ellipse cx="-1.3" cy="-2.0" rx="7.4" ry="3.9" fill="#e8d098" opacity="0.5"/></g><g transform="translate(1455.8,275.4) rotate(16.3)" opacity="1.00"><rect x="-13.9" y="-8.3" width="27.9" height="16.6" rx="7.2" fill="url(#kg3)"/><ellipse cx="-1.4" cy="-2.0" rx="8.9" ry="4.2" fill="#e8d098" opacity="0.5"/></g><g transform="translate(1485.7,285.4) rotate(22.3)" opacity="1.00"><rect x="-13.2" y="-8.4" width="26.5" height="16.8" rx="7.3" fill="url(#kg3)"/><ellipse cx="-1.3" cy="-2.0" rx="6.5" ry="3.3" fill="#e8d098" opacity="0.5"/></g><g transform="translate(1514.0,295.1) rotate(22.7)" opacity="1.00"><rect x="-15.1" y="-8.5" width="30.1" height="16.9" rx="7.4" fill="url(#kg3)"/><ellipse cx="-1.5" cy="-2.0" rx="10.0" ry="4.5" fill="#e8d098" opacity="0.5"/></g><g transform="translate(1542.1,305.1) rotate(16.7)" opacity="1.00"><rect x="-13.9" y="-7.7" width="27.8" height="15.4" rx="6.7" fill="url(#kg3)"/><ellipse cx="-1.4" cy="-1.9" rx="9.4" ry="4.2" fill="#e8d098" opacity="0.5"/></g><g transform="translate(1569.5,315.7) rotate(16.1)" opacity="1.00"><rect x="-13.0" y="-8.2" width="26.1" height="16.5" rx="7.2" fill="url(#kg3)"/><ellipse cx="-1.3" cy="-2.0" rx="7.1" ry="3.6" fill="#e8d098" opacity="0.5"/></g><g transform="translate(1597.2,325.4) rotate(23.0)" opacity="1.00"><rect x="-14.4" y="-8.8" width="28.8" height="17.7" rx="7.7" fill="url(#kg3)"/><ellipse cx="-1.4" cy="-2.1" rx="9.8" ry="4.8" fill="#e8d098" opacity="0.5"/></g><g transform="translate(1625.1,336.2) rotate(18.7)" opacity="1.00"><rect x="-14.3" y="-9.0" width="28.7" height="18.0" rx="7.8" fill="url(#kg3)"/><ellipse cx="-1.4" cy="-2.2" rx="7.3" ry="3.7" fill="#e8d098" opacity="0.5"/></g><g transform="translate(1654.1,345.7) rotate(16.5)" opacity="1.00"><rect x="-14.9" y="-8.4" width="29.8" height="16.7" rx="7.3" fill="url(#kg3)"/><ellipse cx="-1.5" cy="-2.0" rx="9.4" ry="4.2" fill="#e8d098" opacity="0.5"/></g><g transform="translate(1683.0,357.6) rotate(23.9)" opacity="1.00"><rect x="-15.0" y="-8.2" width="30.1" height="16.5" rx="7.2" fill="url(#kg3)"/><ellipse cx="-1.5" cy="-2.0" rx="9.8" ry="4.3" fill="#e8d098" opacity="0.5"/></g><g transform="translate(1709.3,365.7) rotate(22.7)" opacity="1.00"><rect x="-14.3" y="-9.3" width="28.5" height="18.7" rx="8.1" fill="url(#kg3)"/><ellipse cx="-1.4" cy="-2.2" rx="6.9" ry="3.6" fill="#e8d098" opacity="0.5"/></g><g transform="translate(1738.8,376.9) rotate(17.6)" opacity="1.00"><rect x="-13.0" y="-8.5" width="25.9" height="17.0" rx="7.4" fill="url(#kg3)"/><ellipse cx="-1.3" cy="-2.0" rx="7.6" ry="4.0" fill="#e8d098" opacity="0.5"/></g><g transform="translate(1767.6,387.8) rotate(23.5)" opacity="1.00"><rect x="-13.0" y="-8.7" width="26.0" height="17.4" rx="7.6" fill="url(#kg3)"/><ellipse cx="-1.3" cy="-2.1" rx="7.9" ry="4.2" fill="#e8d098" opacity="0.5"/></g><g transform="translate(1795.9,398.4) rotate(22.0)" opacity="1.00"><rect x="-12.7" y="-8.4" width="25.5" height="16.7" rx="7.3" fill="url(#kg3)"/><ellipse cx="-1.3" cy="-2.0" rx="6.5" ry="3.4" fill="#e8d098" opacity="0.5"/></g><g transform="translate(1407.3,279.0) rotate(21.0)" opacity="1.00"><rect x="-15.0" y="-9.1" width="30.0" height="18.3" rx="7.9" fill="url(#kg3)"/><ellipse cx="-1.5" cy="-2.2" rx="9.5" ry="4.6" fill="#e8d098" opacity="0.5"/></g><g transform="translate(1435.3,289.0) rotate(19.3)" opacity="1.00"><rect x="-12.7" y="-8.0" width="25.3" height="16.0" rx="6.9" fill="url(#kg3)"/><ellipse cx="-1.3" cy="-1.9" rx="7.9" ry="4.0" fill="#e8d098" opacity="0.5"/></g><g transform="translate(1463.3,300.1) rotate(22.7)" opacity="1.00"><rect x="-13.6" y="-8.9" width="27.1" height="17.8" rx="7.7" fill="url(#kg3)"/><ellipse cx="-1.4" cy="-2.1" rx="8.8" ry="4.6" fill="#e8d098" opacity="0.5"/></g><g transform="translate(1491.0,309.7) rotate(17.5)" opacity="1.00"><rect x="-13.8" y="-8.6" width="27.6" height="17.3" rx="7.5" fill="url(#kg3)"/><ellipse cx="-1.4" cy="-2.1" rx="6.9" ry="3.4" fill="#e8d098" opacity="0.5"/></g><g transform="translate(1519.2,320.4) rotate(19.5)" opacity="1.00"><rect x="-14.6" y="-8.3" width="29.1" height="16.6" rx="7.2" fill="url(#kg3)"/><ellipse cx="-1.5" cy="-2.0" rx="8.8" ry="4.0" fill="#e8d098" opacity="0.5"/></g><g transform="translate(1548.1,329.5) rotate(17.0)" opacity="1.00"><rect x="-13.5" y="-9.3" width="26.9" height="18.6" rx="8.1" fill="url(#kg3)"/><ellipse cx="-1.3" cy="-2.2" rx="9.0" ry="4.9" fill="#e8d098" opacity="0.5"/></g><g transform="translate(1575.3,341.1) rotate(20.8)" opacity="1.00"><rect x="-13.7" y="-8.7" width="27.4" height="17.5" rx="7.6" fill="url(#kg3)"/><ellipse cx="-1.4" cy="-2.1" rx="8.3" ry="4.2" fill="#e8d098" opacity="0.5"/></g><g transform="translate(1605.3,349.7) rotate(18.4)" opacity="1.00"><rect x="-14.8" y="-8.1" width="29.5" height="16.2" rx="7.0" fill="url(#kg3)"/><ellipse cx="-1.5" cy="-1.9" rx="7.3" ry="3.2" fill="#e8d098" opacity="0.5"/></g><g transform="translate(1632.6,361.5) rotate(19.0)" opacity="1.00"><rect x="-14.1" y="-9.3" width="28.1" height="18.6" rx="8.1" fill="url(#kg3)"/><ellipse cx="-1.4" cy="-2.2" rx="7.3" ry="3.9" fill="#e8d098" opacity="0.5"/></g><g transform="translate(1660.9,371.3) rotate(22.3)" opacity="1.00"><rect x="-14.4" y="-8.5" width="28.7" height="17.0" rx="7.4" fill="url(#kg3)"/><ellipse cx="-1.4" cy="-2.0" rx="7.2" ry="3.4" fill="#e8d098" opacity="0.5"/></g><g transform="translate(1689.6,380.3) rotate(21.0)" opacity="1.00"><rect x="-14.6" y="-7.7" width="29.3" height="15.3" rx="6.7" fill="url(#kg3)"/><ellipse cx="-1.5" cy="-1.8" rx="9.1" ry="3.8" fill="#e8d098" opacity="0.5"/></g><g transform="translate(1716.6,390.6) rotate(22.5)" opacity="1.00"><rect x="-13.2" y="-8.7" width="26.5" height="17.4" rx="7.6" fill="url(#kg3)"/><ellipse cx="-1.3" cy="-2.1" rx="7.8" ry="4.1" fill="#e8d098" opacity="0.5"/></g><g transform="translate(1744.5,402.1) rotate(16.9)" opacity="1.00"><rect x="-13.4" y="-7.7" width="26.7" height="15.4" rx="6.7" fill="url(#kg3)"/><ellipse cx="-1.3" cy="-1.9" rx="6.9" ry="3.2" fill="#e8d098" opacity="0.5"/></g><g transform="translate(1772.7,411.0) rotate(19.4)" opacity="1.00"><rect x="-15.1" y="-8.3" width="30.1" height="16.5" rx="7.2" fill="url(#kg3)"/><ellipse cx="-1.5" cy="-2.0" rx="9.6" ry="4.2" fill="#e8d098" opacity="0.5"/></g><g transform="translate(1801.7,421.8) rotate(22.2)" opacity="1.00"><rect x="-15.0" y="-8.0" width="30.0" height="16.0" rx="7.0" fill="url(#kg3)"/><ellipse cx="-1.5" cy="-1.9" rx="10.2" ry="4.4" fill="#e8d098" opacity="0.5"/></g><g transform="translate(1414.8,302.6) rotate(20.5)" opacity="1.00"><rect x="-15.1" y="-8.8" width="30.2" height="17.5" rx="7.6" fill="url(#kg3)"/><ellipse cx="-1.5" cy="-2.1" rx="9.1" ry="4.2" fill="#e8d098" opacity="0.5"/></g><g transform="translate(1442.0,314.9) rotate(20.2)" opacity="1.00"><rect x="-15.1" y="-9.3" width="30.1" height="18.5" rx="8.1" fill="url(#kg3)"/><ellipse cx="-1.5" cy="-2.2" rx="7.7" ry="3.8" fill="#e8d098" opacity="0.5"/></g><g transform="translate(1470.8,323.3) rotate(18.4)" opacity="1.00"><rect x="-14.8" y="-8.9" width="29.7" height="17.9" rx="7.8" fill="url(#kg3)"/><ellipse cx="-1.5" cy="-2.1" rx="7.5" ry="3.6" fill="#e8d098" opacity="0.5"/></g><g transform="translate(1498.9,335.3) rotate(20.7)" opacity="1.00"><rect x="-15.1" y="-8.1" width="30.2" height="16.2" rx="7.1" fill="url(#kg3)"/><ellipse cx="-1.5" cy="-1.9" rx="9.9" ry="4.3" fill="#e8d098" opacity="0.5"/></g><g transform="translate(1526.4,344.0) rotate(17.0)" opacity="1.00"><rect x="-12.9" y="-7.7" width="25.7" height="15.4" rx="6.7" fill="url(#kg3)"/><ellipse cx="-1.3" cy="-1.9" rx="7.3" ry="3.5" fill="#e8d098" opacity="0.5"/></g><g transform="translate(1554.2,354.4) rotate(23.8)" opacity="1.00"><rect x="-12.9" y="-8.0" width="25.9" height="16.0" rx="7.0" fill="url(#kg3)"/><ellipse cx="-1.3" cy="-1.9" rx="6.9" ry="3.4" fill="#e8d098" opacity="0.5"/></g><g transform="translate(1582.9,365.4) rotate(23.4)" opacity="1.00"><rect x="-14.0" y="-9.3" width="27.9" height="18.6" rx="8.1" fill="url(#kg3)"/><ellipse cx="-1.4" cy="-2.2" rx="9.1" ry="4.9" fill="#e8d098" opacity="0.5"/></g><g transform="translate(1612.2,376.0) rotate(18.6)" opacity="1.00"><rect x="-14.8" y="-8.2" width="29.6" height="16.4" rx="7.1" fill="url(#kg3)"/><ellipse cx="-1.5" cy="-2.0" rx="9.0" ry="4.0" fill="#e8d098" opacity="0.5"/></g><g transform="translate(1640.5,385.1) rotate(21.9)" opacity="1.00"><rect x="-15.1" y="-8.1" width="30.2" height="16.1" rx="7.0" fill="url(#kg3)"/><ellipse cx="-1.5" cy="-1.9" rx="8.3" ry="3.6" fill="#e8d098" opacity="0.5"/></g><g transform="translate(1667.8,395.2) rotate(20.1)" opacity="1.00"><rect x="-12.9" y="-9.1" width="25.8" height="18.3" rx="7.9" fill="url(#kg3)"/><ellipse cx="-1.3" cy="-2.2" rx="6.8" ry="3.8" fill="#e8d098" opacity="0.5"/></g><g transform="translate(1696.7,406.1) rotate(20.8)" opacity="1.00"><rect x="-13.8" y="-7.9" width="27.6" height="15.9" rx="6.9" fill="url(#kg3)"/><ellipse cx="-1.4" cy="-1.9" rx="9.3" ry="4.3" fill="#e8d098" opacity="0.5"/></g><g transform="translate(1724.4,416.2) rotate(18.8)" opacity="1.00"><rect x="-14.4" y="-8.3" width="28.8" height="16.6" rx="7.2" fill="url(#kg3)"/><ellipse cx="-1.4" cy="-2.0" rx="7.4" ry="3.4" fill="#e8d098" opacity="0.5"/></g><g transform="translate(1752.9,427.6) rotate(21.2)" opacity="1.00"><rect x="-13.9" y="-8.8" width="27.8" height="17.5" rx="7.6" fill="url(#kg3)"/><ellipse cx="-1.4" cy="-2.1" rx="9.4" ry="4.7" fill="#e8d098" opacity="0.5"/></g><g transform="translate(1781.6,436.4) rotate(20.7)" opacity="1.00"><rect x="-14.8" y="-8.9" width="29.6" height="17.9" rx="7.8" fill="url(#kg3)"/><ellipse cx="-1.5" cy="-2.1" rx="8.9" ry="4.3" fill="#e8d098" opacity="0.5"/></g><g transform="translate(1391.5,319.1) rotate(23.0)" opacity="1.00"><rect x="-13.6" y="-8.7" width="27.2" height="17.3" rx="7.5" fill="url(#kg3)"/><ellipse cx="-1.4" cy="-2.1" rx="7.8" ry="4.0" fill="#e8d098" opacity="0.5"/></g><g transform="translate(1421.4,328.1) rotate(17.3)" opacity="1.00"><rect x="-14.2" y="-8.0" width="28.4" height="16.0" rx="7.0" fill="url(#kg3)"/><ellipse cx="-1.4" cy="-1.9" rx="9.6" ry="4.3" fill="#e8d098" opacity="0.5"/></g><g transform="translate(1450.0,338.8) rotate(21.4)" opacity="1.00"><rect x="-13.0" y="-9.3" width="25.9" height="18.6" rx="8.1" fill="url(#kg3)"/><ellipse cx="-1.3" cy="-2.2" rx="6.8" ry="3.9" fill="#e8d098" opacity="0.5"/></g><g transform="translate(1476.7,348.1) rotate(21.4)" opacity="1.00"><rect x="-14.6" y="-9.2" width="29.2" height="18.3" rx="8.0" fill="url(#kg3)"/><ellipse cx="-1.5" cy="-2.2" rx="9.7" ry="4.9" fill="#e8d098" opacity="0.5"/></g><g transform="translate(1505.8,358.4) rotate(16.2)" opacity="1.00"><rect x="-15.1" y="-8.2" width="30.2" height="16.4" rx="7.1" fill="url(#kg3)"/><ellipse cx="-1.5" cy="-2.0" rx="9.3" ry="4.0" fill="#e8d098" opacity="0.5"/></g><g transform="translate(1533.2,369.5) rotate(16.2)" opacity="1.00"><rect x="-13.8" y="-8.4" width="27.6" height="16.7" rx="7.3" fill="url(#kg3)"/><ellipse cx="-1.4" cy="-2.0" rx="7.7" ry="3.7" fill="#e8d098" opacity="0.5"/></g><g transform="translate(1562.2,379.4) rotate(21.9)" opacity="1.00"><rect x="-12.9" y="-8.3" width="25.8" height="16.6" rx="7.2" fill="url(#kg3)"/><ellipse cx="-1.3" cy="-2.0" rx="8.0" ry="4.1" fill="#e8d098" opacity="0.5"/></g><g transform="translate(1589.8,389.1) rotate(23.8)" opacity="1.00"><rect x="-14.2" y="-8.7" width="28.4" height="17.3" rx="7.5" fill="url(#kg3)"/><ellipse cx="-1.4" cy="-2.1" rx="8.2" ry="4.0" fill="#e8d098" opacity="0.5"/></g><g transform="translate(1617.9,400.3) rotate(17.5)" opacity="1.00"><rect x="-12.7" y="-7.9" width="25.4" height="15.8" rx="6.8" fill="url(#kg3)"/><ellipse cx="-1.3" cy="-1.9" rx="6.6" ry="3.3" fill="#e8d098" opacity="0.5"/></g><g transform="translate(1645.6,409.6) rotate(20.5)" opacity="1.00"><rect x="-14.9" y="-8.6" width="29.8" height="17.3" rx="7.5" fill="url(#kg3)"/><ellipse cx="-1.5" cy="-2.1" rx="8.7" ry="4.0" fill="#e8d098" opacity="0.5"/></g><g transform="translate(1674.1,421.7) rotate(16.0)" opacity="1.00"><rect x="-14.5" y="-8.4" width="28.9" height="16.8" rx="7.3" fill="url(#kg3)"/><ellipse cx="-1.4" cy="-2.0" rx="7.0" ry="3.2" fill="#e8d098" opacity="0.5"/></g><g transform="translate(1701.6,431.6) rotate(19.0)" opacity="1.00"><rect x="-12.7" y="-8.4" width="25.4" height="16.8" rx="7.3" fill="url(#kg3)"/><ellipse cx="-1.3" cy="-2.0" rx="7.5" ry="4.0" fill="#e8d098" opacity="0.5"/></g><g transform="translate(1730.5,442.4) rotate(23.6)" opacity="1.00"><rect x="-15.0" y="-8.9" width="30.0" height="17.9" rx="7.8" fill="url(#kg3)"/><ellipse cx="-1.5" cy="-2.1" rx="8.9" ry="4.2" fill="#e8d098" opacity="0.5"/></g><g transform="translate(1759.6,450.9) rotate(19.1)" opacity="1.00"><rect x="-13.0" y="-7.9" width="25.9" height="15.8" rx="6.9" fill="url(#kg3)"/><ellipse cx="-1.3" cy="-1.9" rx="6.5" ry="3.2" fill="#e8d098" opacity="0.5"/></g><g transform="translate(1398.6,342.6) rotate(22.6)" opacity="1.00"><rect x="-13.8" y="-9.1" width="27.5" height="18.3" rx="8.0" fill="url(#kg3)"/><ellipse cx="-1.4" cy="-2.2" rx="9.2" ry="4.9" fill="#e8d098" opacity="0.5"/></g><g transform="translate(1427.2,354.1) rotate(17.9)" opacity="1.00"><rect x="-13.3" y="-8.6" width="26.6" height="17.3" rx="7.5" fill="url(#kg3)"/><ellipse cx="-1.3" cy="-2.1" rx="7.9" ry="4.1" fill="#e8d098" opacity="0.5"/></g><g transform="translate(1456.1,363.0) rotate(17.5)" opacity="1.00"><rect x="-14.6" y="-8.0" width="29.2" height="16.1" rx="7.0" fill="url(#kg3)"/><ellipse cx="-1.5" cy="-1.9" rx="9.4" ry="4.1" fill="#e8d098" opacity="0.5"/></g><g transform="translate(1483.0,373.7) rotate(20.0)" opacity="1.00"><rect x="-14.8" y="-8.7" width="29.6" height="17.5" rx="7.6" fill="url(#kg3)"/><ellipse cx="-1.5" cy="-2.1" rx="7.9" ry="3.7" fill="#e8d098" opacity="0.5"/></g><g transform="translate(1511.9,384.5) rotate(16.3)" opacity="1.00"><rect x="-13.3" y="-7.9" width="26.7" height="15.9" rx="6.9" fill="url(#kg3)"/><ellipse cx="-1.3" cy="-1.9" rx="9.2" ry="4.4" fill="#e8d098" opacity="0.5"/></g><g transform="translate(1539.7,393.9) rotate(17.2)" opacity="1.00"><rect x="-13.4" y="-8.6" width="26.9" height="17.2" rx="7.5" fill="url(#kg3)"/><ellipse cx="-1.3" cy="-2.1" rx="7.8" ry="4.0" fill="#e8d098" opacity="0.5"/></g><g transform="translate(1569.5,405.1) rotate(20.1)" opacity="1.00"><rect x="-13.1" y="-7.9" width="26.1" height="15.9" rx="6.9" fill="url(#kg3)"/><ellipse cx="-1.3" cy="-1.9" rx="6.6" ry="3.2" fill="#e8d098" opacity="0.5"/></g><g transform="translate(1597.2,415.4) rotate(19.8)" opacity="1.00"><rect x="-13.2" y="-9.1" width="26.4" height="18.2" rx="7.9" fill="url(#kg3)"/><ellipse cx="-1.3" cy="-2.2" rx="8.8" ry="4.9" fill="#e8d098" opacity="0.5"/></g><g transform="translate(1624.2,424.3) rotate(21.7)" opacity="1.00"><rect x="-14.4" y="-7.8" width="28.8" height="15.5" rx="6.8" fill="url(#kg3)"/><ellipse cx="-1.4" cy="-1.9" rx="8.8" ry="3.8" fill="#e8d098" opacity="0.5"/></g><g transform="translate(1652.1,434.5) rotate(22.4)" opacity="1.00"><rect x="-13.2" y="-8.4" width="26.4" height="16.8" rx="7.3" fill="url(#kg3)"/><ellipse cx="-1.3" cy="-2.0" rx="8.7" ry="4.4" fill="#e8d098" opacity="0.5"/></g><g transform="translate(1681.2,444.5) rotate(23.5)" opacity="1.00"><rect x="-14.0" y="-8.0" width="27.9" height="16.0" rx="6.9" fill="url(#kg3)"/><ellipse cx="-1.4" cy="-1.9" rx="7.6" ry="3.5" fill="#e8d098" opacity="0.5"/></g><g transform="translate(1709.2,455.7) rotate(20.7)" opacity="1.00"><rect x="-14.3" y="-9.2" width="28.6" height="18.5" rx="8.0" fill="url(#kg3)"/><ellipse cx="-1.4" cy="-2.2" rx="7.0" ry="3.6" fill="#e8d098" opacity="0.5"/></g><g transform="translate(1379.4,358.0) rotate(19.5)" opacity="1.00"><rect x="-13.7" y="-9.3" width="27.4" height="18.7" rx="8.1" fill="url(#kg3)"/><ellipse cx="-1.4" cy="-2.2" rx="9.3" ry="5.1" fill="#e8d098" opacity="0.5"/></g><g transform="translate(1406.4,367.9) rotate(19.8)" opacity="1.00"><rect x="-12.9" y="-8.7" width="25.7" height="17.5" rx="7.6" fill="url(#kg3)"/><ellipse cx="-1.3" cy="-2.1" rx="8.1" ry="4.4" fill="#e8d098" opacity="0.5"/></g><g transform="translate(1434.9,379.1) rotate(21.9)" opacity="1.00"><rect x="-14.2" y="-8.8" width="28.3" height="17.6" rx="7.7" fill="url(#kg3)"/><ellipse cx="-1.4" cy="-2.1" rx="9.4" ry="4.7" fill="#e8d098" opacity="0.5"/></g><g transform="translate(1462.8,389.5) rotate(17.3)" opacity="1.00"><rect x="-15.0" y="-7.8" width="30.0" height="15.6" rx="6.8" fill="url(#kg3)"/><ellipse cx="-1.5" cy="-1.9" rx="10.3" ry="4.3" fill="#e8d098" opacity="0.5"/></g><g transform="translate(1492.0,399.0) rotate(17.4)" opacity="1.00"><rect x="-14.6" y="-8.2" width="29.1" height="16.5" rx="7.2" fill="url(#kg3)"/><ellipse cx="-1.5" cy="-2.0" rx="7.9" ry="3.6" fill="#e8d098" opacity="0.5"/></g><g transform="translate(1518.3,408.0) rotate(22.9)" opacity="1.00"><rect x="-13.0" y="-9.0" width="26.1" height="18.1" rx="7.9" fill="url(#kg3)"/><ellipse cx="-1.3" cy="-2.2" rx="7.7" ry="4.3" fill="#e8d098" opacity="0.5"/></g><g transform="translate(1548.6,419.1) rotate(20.1)" opacity="1.00"><rect x="-13.0" y="-9.2" width="26.1" height="18.3" rx="8.0" fill="url(#kg3)"/><ellipse cx="-1.3" cy="-2.2" rx="6.6" ry="3.7" fill="#e8d098" opacity="0.5"/></g><g transform="translate(1576.5,428.6) rotate(22.9)" opacity="1.00"><rect x="-13.3" y="-8.8" width="26.6" height="17.5" rx="7.6" fill="url(#kg3)"/><ellipse cx="-1.3" cy="-2.1" rx="6.6" ry="3.5" fill="#e8d098" opacity="0.5"/></g><g transform="translate(1604.4,439.9) rotate(20.3)" opacity="1.00"><rect x="-14.6" y="-7.9" width="29.1" height="15.8" rx="6.9" fill="url(#kg3)"/><ellipse cx="-1.5" cy="-1.9" rx="9.6" ry="4.2" fill="#e8d098" opacity="0.5"/></g><g transform="translate(1631.7,450.7) rotate(16.3)" opacity="1.00"><rect x="-13.8" y="-7.7" width="27.5" height="15.4" rx="6.7" fill="url(#kg3)"/><ellipse cx="-1.4" cy="-1.9" rx="8.6" ry="3.9" fill="#e8d098" opacity="0.5"/></g><g transform="translate(1385.4,383.1) rotate(21.1)" opacity="1.00"><rect x="-14.2" y="-7.7" width="28.4" height="15.4" rx="6.7" fill="url(#kg3)"/><ellipse cx="-1.4" cy="-1.8" rx="7.1" ry="3.1" fill="#e8d098" opacity="0.5"/></g><g transform="translate(1414.1,393.1) rotate(23.7)" opacity="1.00"><rect x="-15.1" y="-8.8" width="30.2" height="17.7" rx="7.7" fill="url(#kg3)"/><ellipse cx="-1.5" cy="-2.1" rx="8.6" ry="4.0" fill="#e8d098" opacity="0.5"/></g><g transform="translate(1441.0,402.1) rotate(20.3)" opacity="1.00"><rect x="-13.6" y="-7.7" width="27.2" height="15.4" rx="6.7" fill="url(#kg3)"/><ellipse cx="-1.4" cy="-1.8" rx="8.1" ry="3.7" fill="#e8d098" opacity="0.5"/></g><g transform="translate(1469.0,413.6) rotate(22.4)" opacity="1.00"><rect x="-13.8" y="-8.8" width="27.6" height="17.7" rx="7.7" fill="url(#kg3)"/><ellipse cx="-1.4" cy="-2.1" rx="8.9" ry="4.6" fill="#e8d098" opacity="0.5"/></g><g transform="translate(1498.4,422.6) rotate(19.0)" opacity="1.00"><rect x="-14.0" y="-8.8" width="28.1" height="17.6" rx="7.6" fill="url(#kg3)"/><ellipse cx="-1.4" cy="-2.1" rx="7.3" ry="3.7" fill="#e8d098" opacity="0.5"/></g><g transform="translate(1526.2,433.3) rotate(22.2)" opacity="1.00"><rect x="-12.8" y="-8.1" width="25.6" height="16.3" rx="7.1" fill="url(#kg3)"/><ellipse cx="-1.3" cy="-2.0" rx="7.3" ry="3.7" fill="#e8d098" opacity="0.5"/></g><g transform="translate(1555.5,444.9) rotate(21.0)" opacity="1.00"><rect x="-14.8" y="-9.3" width="29.7" height="18.6" rx="8.1" fill="url(#kg3)"/><ellipse cx="-1.5" cy="-2.2" rx="8.7" ry="4.4" fill="#e8d098" opacity="0.5"/></g><g transform="translate(1581.4,454.9) rotate(16.8)" opacity="1.00"><rect x="-14.7" y="-8.2" width="29.4" height="16.5" rx="7.2" fill="url(#kg3)"/><ellipse cx="-1.5" cy="-2.0" rx="8.9" ry="4.0" fill="#e8d098" opacity="0.5"/></g><g transform="translate(1365.1,396.0) rotate(18.4)" opacity="1.00"><rect x="-14.2" y="-8.3" width="28.4" height="16.6" rx="7.2" fill="url(#kg3)"/><ellipse cx="-1.4" cy="-2.0" rx="7.1" ry="3.3" fill="#e8d098" opacity="0.5"/></g><g transform="translate(1393.2,406.7) rotate(16.2)" opacity="1.00"><rect x="-13.8" y="-9.1" width="27.6" height="18.2" rx="7.9" fill="url(#kg3)"/><ellipse cx="-1.4" cy="-2.2" rx="6.9" ry="3.7" fill="#e8d098" opacity="0.5"/></g><g transform="translate(1420.6,417.9) rotate(20.8)" opacity="1.00"><rect x="-12.7" y="-9.1" width="25.4" height="18.1" rx="7.9" fill="url(#kg3)"/><ellipse cx="-1.3" cy="-2.2" rx="8.1" ry="4.7" fill="#e8d098" opacity="0.5"/></g><g transform="translate(1447.9,428.9) rotate(23.3)" opacity="1.00"><rect x="-13.2" y="-9.3" width="26.3" height="18.7" rx="8.1" fill="url(#kg3)"/><ellipse cx="-1.3" cy="-2.2" rx="7.8" ry="4.5" fill="#e8d098" opacity="0.5"/></g><g transform="translate(1476.8,438.4) rotate(23.7)" opacity="1.00"><rect x="-15.0" y="-8.4" width="29.9" height="16.8" rx="7.3" fill="url(#kg3)"/><ellipse cx="-1.5" cy="-2.0" rx="8.2" ry="3.7" fill="#e8d098" opacity="0.5"/></g><g transform="translate(1506.1,447.5) rotate(17.9)" opacity="1.00"><rect x="-14.8" y="-8.9" width="29.5" height="17.9" rx="7.8" fill="url(#kg3)"/><ellipse cx="-1.5" cy="-2.1" rx="7.7" ry="3.8" fill="#e8d098" opacity="0.5"/></g><g transform="translate(1372.0,422.4) rotate(22.0)" opacity="1.00"><rect x="-13.7" y="-7.7" width="27.4" height="15.5" rx="6.7" fill="url(#kg3)"/><ellipse cx="-1.4" cy="-1.9" rx="9.2" ry="4.1" fill="#e8d098" opacity="0.5"/></g><g transform="translate(1398.2,432.7) rotate(16.7)" opacity="1.00"><rect x="-13.3" y="-8.4" width="26.6" height="16.8" rx="7.3" fill="url(#kg3)"/><ellipse cx="-1.3" cy="-2.0" rx="6.8" ry="3.4" fill="#e8d098" opacity="0.5"/></g><g transform="translate(1427.2,443.0) rotate(22.0)" opacity="1.00"><rect x="-14.4" y="-9.1" width="28.8" height="18.2" rx="7.9" fill="url(#kg3)"/><ellipse cx="-1.4" cy="-2.2" rx="9.7" ry="4.9" fill="#e8d098" opacity="0.5"/></g><g transform="translate(1454.8,453.4) rotate(23.3)" opacity="1.00"><rect x="-14.4" y="-7.8" width="28.9" height="15.7" rx="6.8" fill="url(#kg3)"/><ellipse cx="-1.4" cy="-1.9" rx="7.0" ry="3.0" fill="#e8d098" opacity="0.5"/></g></g><g clip-path="url(#ctr)"><g transform="translate(1800.2,118.5) rotate(26.5)" opacity="1.00"><rect x="-12.7" y="-8.8" width="25.5" height="17.5" rx="7.6" fill="url(#kg3)"/><ellipse cx="-1.3" cy="-2.1" rx="6.1" ry="3.4" fill="#c8bc80" opacity="0.35"/></g><g transform="translate(1753.3,120.1) rotate(28.1)" opacity="1.00"><rect x="-13.3" y="-8.3" width="26.6" height="16.7" rx="7.3" fill="url(#kg3)"/><ellipse cx="-1.3" cy="-2.0" rx="7.1" ry="3.6" fill="#c8bc80" opacity="0.35"/></g><g transform="translate(1778.3,131.5) rotate(28.3)" opacity="1.00"><rect x="-13.2" y="-7.8" width="26.4" height="15.5" rx="6.7" fill="url(#kg3)"/><ellipse cx="-1.3" cy="-1.9" rx="7.0" ry="3.3" fill="#c8bc80" opacity="0.35"/></g><g transform="translate(1802.7,143.0) rotate(23.2)" opacity="1.00"><rect x="-13.1" y="-8.0" width="26.2" height="16.0" rx="7.0" fill="url(#kg3)"/><ellipse cx="-1.3" cy="-1.9" rx="6.5" ry="3.2" fill="#c8bc80" opacity="0.35"/></g><g transform="translate(1706.2,121.1) rotate(22.8)" opacity="1.00"><rect x="-13.9" y="-7.8" width="27.8" height="15.7" rx="6.8" fill="url(#kg3)"/><ellipse cx="-1.4" cy="-1.9" rx="8.2" ry="3.7" fill="#c8bc80" opacity="0.35"/></g><g transform="translate(1732.3,131.0) rotate(27.9)" opacity="1.00"><rect x="-12.4" y="-7.5" width="24.8" height="15.0" rx="6.5" fill="url(#kg3)"/><ellipse cx="-1.2" cy="-1.8" rx="7.9" ry="3.8" fill="#c8bc80" opacity="0.35"/></g><g transform="translate(1756.8,143.3) rotate(23.5)" opacity="1.00"><rect x="-13.8" y="-7.4" width="27.7" height="14.7" rx="6.4" fill="url(#kg3)"/><ellipse cx="-1.4" cy="-1.8" rx="8.9" ry="3.8" fill="#c8bc80" opacity="0.35"/></g><g transform="translate(1783.3,155.0) rotate(22.6)" opacity="1.00"><rect x="-13.7" y="-8.6" width="27.5" height="17.1" rx="7.4" fill="url(#kg3)"/><ellipse cx="-1.4" cy="-2.1" rx="7.5" ry="3.7" fill="#c8bc80" opacity="0.35"/></g><g transform="translate(1660.1,119.9) rotate(23.6)" opacity="1.00"><rect x="-13.0" y="-8.4" width="26.1" height="16.7" rx="7.3" fill="url(#kg3)"/><ellipse cx="-1.3" cy="-2.0" rx="6.7" ry="3.4" fill="#c8bc80" opacity="0.35"/></g><g transform="translate(1685.5,132.7) rotate(23.8)" opacity="1.00"><rect x="-13.8" y="-7.2" width="27.6" height="14.5" rx="6.3" fill="url(#kg3)"/><ellipse cx="-1.4" cy="-1.7" rx="7.7" ry="3.3" fill="#c8bc80" opacity="0.35"/></g><g transform="translate(1711.3,144.1) rotate(23.7)" opacity="1.00"><rect x="-12.5" y="-7.5" width="24.9" height="14.9" rx="6.5" fill="url(#kg3)"/><ellipse cx="-1.2" cy="-1.8" rx="7.1" ry="3.4" fill="#c8bc80" opacity="0.35"/></g><g transform="translate(1734.6,156.3) rotate(28.0)" opacity="1.00"><rect x="-13.8" y="-7.9" width="27.6" height="15.7" rx="6.8" fill="url(#kg3)"/><ellipse cx="-1.4" cy="-1.9" rx="7.9" ry="3.6" fill="#c8bc80" opacity="0.35"/></g><g transform="translate(1762.2,168.9) rotate(23.7)" opacity="1.00"><rect x="-13.4" y="-7.5" width="26.9" height="15.0" rx="6.5" fill="url(#kg3)"/><ellipse cx="-1.3" cy="-1.8" rx="7.5" ry="3.3" fill="#c8bc80" opacity="0.35"/></g><g transform="translate(1787.2,180.3) rotate(28.9)" opacity="1.00"><rect x="-13.6" y="-7.4" width="27.2" height="14.9" rx="6.5" fill="url(#kg3)"/><ellipse cx="-1.4" cy="-1.8" rx="7.2" ry="3.1" fill="#c8bc80" opacity="0.35"/></g><g transform="translate(1639.5,133.1) rotate(27.2)" opacity="1.00"><rect x="-12.5" y="-8.3" width="25.0" height="16.6" rx="7.2" fill="url(#kg3)"/><ellipse cx="-1.3" cy="-2.0" rx="6.6" ry="3.5" fill="#c8bc80" opacity="0.35"/></g><g transform="translate(1664.6,144.7) rotate(28.2)" opacity="1.00"><rect x="-13.5" y="-8.3" width="26.9" height="16.6" rx="7.2" fill="url(#kg3)"/><ellipse cx="-1.3" cy="-2.0" rx="8.6" ry="4.3" fill="#c8bc80" opacity="0.35"/></g><g transform="translate(1689.9,157.3) rotate(28.3)" opacity="1.00"><rect x="-13.4" y="-7.3" width="26.7" height="14.7" rx="6.4" fill="url(#kg3)"/><ellipse cx="-1.3" cy="-1.8" rx="7.0" ry="3.1" fill="#c8bc80" opacity="0.35"/></g><g transform="translate(1713.6,169.1) rotate(26.7)" opacity="1.00"><rect x="-13.4" y="-7.4" width="26.8" height="14.8" rx="6.5" fill="url(#kg3)"/><ellipse cx="-1.3" cy="-1.8" rx="8.9" ry="4.0" fill="#c8bc80" opacity="0.35"/></g><g transform="translate(1739.3,179.6) rotate(27.8)" opacity="1.00"><rect x="-13.3" y="-8.2" width="26.6" height="16.4" rx="7.1" fill="url(#kg3)"/><ellipse cx="-1.3" cy="-2.0" rx="8.0" ry="4.0" fill="#c8bc80" opacity="0.35"/></g><g transform="translate(1764.9,192.7) rotate(23.0)" opacity="1.00"><rect x="-14.0" y="-8.6" width="27.9" height="17.1" rx="7.4" fill="url(#kg3)"/><ellipse cx="-1.4" cy="-2.1" rx="8.0" ry="3.9" fill="#c8bc80" opacity="0.35"/></g><g transform="translate(1790.8,203.4) rotate(21.7)" opacity="1.00"><rect x="-13.3" y="-7.3" width="26.5" height="14.7" rx="6.4" fill="url(#kg3)"/><ellipse cx="-1.3" cy="-1.8" rx="7.2" ry="3.2" fill="#c8bc80" opacity="0.35"/></g><g transform="translate(1642.4,157.6) rotate(23.6)" opacity="1.00"><rect x="-12.9" y="-8.7" width="25.7" height="17.5" rx="7.6" fill="url(#kg3)"/><ellipse cx="-1.3" cy="-2.1" rx="7.1" ry="3.8" fill="#c8bc80" opacity="0.35"/></g><g transform="translate(1667.3,169.2) rotate(27.1)" opacity="1.00"><rect x="-13.1" y="-8.7" width="26.2" height="17.4" rx="7.6" fill="url(#kg3)"/><ellipse cx="-1.3" cy="-2.1" rx="7.6" ry="4.1" fill="#c8bc80" opacity="0.35"/></g><g transform="translate(1692.7,181.4) rotate(21.6)" opacity="1.00"><rect x="-11.9" y="-7.5" width="23.7" height="15.0" rx="6.5" fill="url(#kg3)"/><ellipse cx="-1.2" cy="-1.8" rx="8.2" ry="4.1" fill="#c8bc80" opacity="0.35"/></g><g transform="translate(1720.0,193.4) rotate(28.8)" opacity="1.00"><rect x="-11.9" y="-7.9" width="23.7" height="15.7" rx="6.8" fill="url(#kg3)"/><ellipse cx="-1.2" cy="-1.9" rx="7.7" ry="4.1" fill="#c8bc80" opacity="0.35"/></g><g transform="translate(1744.3,205.0) rotate(26.2)" opacity="1.00"><rect x="-12.7" y="-8.4" width="25.4" height="16.8" rx="7.3" fill="url(#kg3)"/><ellipse cx="-1.3" cy="-2.0" rx="6.3" ry="3.3" fill="#c8bc80" opacity="0.35"/></g><g transform="translate(1768.9,216.4) rotate(22.8)" opacity="1.00"><rect x="-12.4" y="-7.2" width="24.7" height="14.5" rx="6.3" fill="url(#kg3)"/><ellipse cx="-1.2" cy="-1.7" rx="7.1" ry="3.3" fill="#c8bc80" opacity="0.35"/></g><g transform="translate(1795.0,226.5) rotate(25.9)" opacity="1.00"><rect x="-12.7" y="-7.6" width="25.4" height="15.1" rx="6.6" fill="url(#kg3)"/><ellipse cx="-1.3" cy="-1.8" rx="7.1" ry="3.4" fill="#c8bc80" opacity="0.35"/></g><g transform="translate(1621.8,169.5) rotate(23.1)" opacity="1.00"><rect x="-12.3" y="-7.4" width="24.5" height="14.8" rx="6.4" fill="url(#kg3)"/><ellipse cx="-1.2" cy="-1.8" rx="7.7" ry="3.7" fill="#c8bc80" opacity="0.35"/></g><g transform="translate(1647.6,180.9) rotate(27.7)" opacity="1.00"><rect x="-11.9" y="-7.7" width="23.8" height="15.5" rx="6.7" fill="url(#kg3)"/><ellipse cx="-1.2" cy="-1.9" rx="8.1" ry="4.2" fill="#c8bc80" opacity="0.35"/></g><g transform="translate(1672.7,193.8) rotate(25.0)" opacity="1.00"><rect x="-14.0" y="-8.5" width="28.0" height="16.9" rx="7.4" fill="url(#kg3)"/><ellipse cx="-1.4" cy="-2.0" rx="9.3" ry="4.5" fill="#c8bc80" opacity="0.35"/></g><g transform="translate(1698.7,203.9) rotate(28.7)" opacity="1.00"><rect x="-13.9" y="-8.8" width="27.8" height="17.5" rx="7.6" fill="url(#kg3)"/><ellipse cx="-1.4" cy="-2.1" rx="9.1" ry="4.6" fill="#c8bc80" opacity="0.35"/></g><g transform="translate(1723.5,216.7) rotate(28.2)" opacity="1.00"><rect x="-12.0" y="-8.4" width="23.9" height="16.7" rx="7.3" fill="url(#kg3)"/><ellipse cx="-1.2" cy="-2.0" rx="6.0" ry="3.3" fill="#c8bc80" opacity="0.35"/></g><g transform="translate(1749.2,229.0) rotate(24.9)" opacity="1.00"><rect x="-13.4" y="-7.6" width="26.9" height="15.3" rx="6.6" fill="url(#kg3)"/><ellipse cx="-1.3" cy="-1.8" rx="8.1" ry="3.7" fill="#c8bc80" opacity="0.35"/></g><g transform="translate(1774.8,240.2) rotate(26.1)" opacity="1.00"><rect x="-12.7" y="-8.3" width="25.3" height="16.7" rx="7.3" fill="url(#kg3)"/><ellipse cx="-1.3" cy="-2.0" rx="8.1" ry="4.3" fill="#c8bc80" opacity="0.35"/></g><g transform="translate(1798.9,252.2) rotate(22.2)" opacity="1.00"><rect x="-13.0" y="-7.4" width="26.1" height="14.7" rx="6.4" fill="url(#kg3)"/><ellipse cx="-1.3" cy="-1.8" rx="7.0" ry="3.2" fill="#c8bc80" opacity="0.35"/></g><g transform="translate(1626.5,193.2) rotate(21.3)" opacity="1.00"><rect x="-12.0" y="-8.3" width="24.0" height="16.6" rx="7.2" fill="url(#kg3)"/><ellipse cx="-1.2" cy="-2.0" rx="7.8" ry="4.3" fill="#c8bc80" opacity="0.35"/></g><g transform="translate(1651.8,204.7) rotate(27.4)" opacity="1.00"><rect x="-13.8" y="-8.7" width="27.6" height="17.3" rx="7.5" fill="url(#kg3)"/><ellipse cx="-1.4" cy="-2.1" rx="8.4" ry="4.2" fill="#c8bc80" opacity="0.35"/></g><g transform="translate(1675.8,217.2) rotate(22.9)" opacity="1.00"><rect x="-13.3" y="-8.4" width="26.7" height="16.8" rx="7.3" fill="url(#kg3)"/><ellipse cx="-1.3" cy="-2.0" rx="7.7" ry="3.9" fill="#c8bc80" opacity="0.35"/></g><g transform="translate(1701.7,227.7) rotate(27.3)" opacity="1.00"><rect x="-13.2" y="-8.3" width="26.5" height="16.6" rx="7.2" fill="url(#kg3)"/><ellipse cx="-1.3" cy="-2.0" rx="8.1" ry="4.0" fill="#c8bc80" opacity="0.35"/></g><g transform="translate(1726.8,240.6) rotate(23.3)" opacity="1.00"><rect x="-13.6" y="-8.2" width="27.1" height="16.4" rx="7.1" fill="url(#kg3)"/><ellipse cx="-1.4" cy="-2.0" rx="7.0" ry="3.4" fill="#c8bc80" opacity="0.35"/></g><g transform="translate(1752.3,251.7) rotate(28.6)" opacity="1.00"><rect x="-13.3" y="-7.8" width="26.6" height="15.6" rx="6.8" fill="url(#kg3)"/><ellipse cx="-1.3" cy="-1.9" rx="7.0" ry="3.3" fill="#c8bc80" opacity="0.35"/></g><g transform="translate(1778.3,264.9) rotate(28.3)" opacity="1.00"><rect x="-12.7" y="-7.4" width="25.4" height="14.8" rx="6.4" fill="url(#kg3)"/><ellipse cx="-1.3" cy="-1.8" rx="6.3" ry="2.9" fill="#c8bc80" opacity="0.35"/></g><g transform="translate(1802.3,274.8) rotate(23.7)" opacity="1.00"><rect x="-13.1" y="-7.9" width="26.2" height="15.7" rx="6.8" fill="url(#kg3)"/><ellipse cx="-1.3" cy="-1.9" rx="6.4" ry="3.1" fill="#c8bc80" opacity="0.35"/></g><g transform="translate(1604.4,204.6) rotate(27.0)" opacity="1.00"><rect x="-12.9" y="-8.6" width="25.8" height="17.2" rx="7.5" fill="url(#kg3)"/><ellipse cx="-1.3" cy="-2.1" rx="7.8" ry="4.2" fill="#c8bc80" opacity="0.35"/></g><g transform="translate(1630.8,215.8) rotate(24.3)" opacity="1.00"><rect x="-11.9" y="-8.5" width="23.9" height="17.0" rx="7.4" fill="url(#kg3)"/><ellipse cx="-1.2" cy="-2.0" rx="7.0" ry="4.0" fill="#c8bc80" opacity="0.35"/></g><g transform="translate(1656.3,228.2) rotate(21.5)" opacity="1.00"><rect x="-12.8" y="-8.5" width="25.6" height="17.0" rx="7.4" fill="url(#kg3)"/><ellipse cx="-1.3" cy="-2.0" rx="8.1" ry="4.3" fill="#c8bc80" opacity="0.35"/></g><g transform="translate(1680.2,241.5) rotate(25.2)" opacity="1.00"><rect x="-13.1" y="-7.8" width="26.3" height="15.7" rx="6.8" fill="url(#kg3)"/><ellipse cx="-1.3" cy="-1.9" rx="8.8" ry="4.2" fill="#c8bc80" opacity="0.35"/></g><g transform="translate(1707.1,252.0) rotate(26.3)" opacity="1.00"><rect x="-13.1" y="-7.8" width="26.3" height="15.6" rx="6.8" fill="url(#kg3)"/><ellipse cx="-1.3" cy="-1.9" rx="6.3" ry="3.0" fill="#c8bc80" opacity="0.35"/></g><g transform="translate(1731.6,263.9) rotate(28.7)" opacity="1.00"><rect x="-12.4" y="-7.9" width="24.9" height="15.7" rx="6.8" fill="url(#kg3)"/><ellipse cx="-1.2" cy="-1.9" rx="7.6" ry="3.9" fill="#c8bc80" opacity="0.35"/></g><g transform="translate(1757.5,277.2) rotate(27.7)" opacity="1.00"><rect x="-12.4" y="-7.2" width="24.8" height="14.5" rx="6.3" fill="url(#kg3)"/><ellipse cx="-1.2" cy="-1.7" rx="6.4" ry="3.0" fill="#c8bc80" opacity="0.35"/></g><g transform="translate(1781.4,288.6) rotate(22.6)" opacity="1.00"><rect x="-14.0" y="-8.5" width="28.0" height="16.9" rx="7.4" fill="url(#kg3)"/><ellipse cx="-1.4" cy="-2.0" rx="8.2" ry="3.9" fill="#c8bc80" opacity="0.35"/></g></g></g><g filter="url(#fb2)" opacity="0.9"><g clip-path="url(#cbl)"><g transform="translate(1335.7,321.2) rotate(17.8)" opacity="1.00"><rect x="-16.8" y="-10.2" width="33.6" height="20.5" rx="8.9" fill="url(#kg1)"/><ellipse cx="-1.7" cy="-2.5" rx="9.5" ry="4.6" fill="#f8ecc0" opacity="0.45"/></g><g transform="translate(1369.3,329.6) rotate(11.1)" opacity="1.00"><rect x="-16.5" y="-9.5" width="32.9" height="19.1" rx="8.3" fill="url(#kg1)"/><ellipse cx="-1.6" cy="-2.3" rx="9.6" ry="4.5" fill="#f8ecc0" opacity="0.45"/></g><g transform="translate(1401.8,338.7) rotate(17.1)" opacity="1.00"><rect x="-17.6" y="-10.5" width="35.2" height="21.0" rx="9.1" fill="url(#kg1)"/><ellipse cx="-1.8" cy="-2.5" rx="9.1" ry="4.3" fill="#f8ecc0" opacity="0.45"/></g><g transform="translate(1434.0,347.9) rotate(11.4)" opacity="1.00"><rect x="-17.0" y="-10.3" width="34.0" height="20.6" rx="9.0" fill="url(#kg1)"/><ellipse cx="-1.7" cy="-2.5" rx="10.1" ry="4.9" fill="#f8ecc0" opacity="0.45"/></g><g transform="translate(1466.7,355.5) rotate(13.9)" opacity="1.00"><rect x="-16.3" y="-10.5" width="32.7" height="20.9" rx="9.1" fill="url(#kg1)"/><ellipse cx="-1.6" cy="-2.5" rx="8.6" ry="4.4" fill="#f8ecc0" opacity="0.45"/></g><g transform="translate(1498.8,366.4) rotate(16.8)" opacity="1.00"><rect x="-17.4" y="-10.1" width="34.9" height="20.2" rx="8.8" fill="url(#kg1)"/><ellipse cx="-1.7" cy="-2.4" rx="12.0" ry="5.6" fill="#f8ecc0" opacity="0.45"/></g><g transform="translate(1532.8,373.7) rotate(14.6)" opacity="1.00"><rect x="-16.9" y="-11.2" width="33.9" height="22.4" rx="9.7" fill="url(#kg1)"/><ellipse cx="-1.7" cy="-2.7" rx="10.9" ry="5.8" fill="#f8ecc0" opacity="0.45"/></g><g transform="translate(1566.5,382.3) rotate(12.3)" opacity="1.00"><rect x="-17.2" y="-11.5" width="34.4" height="23.0" rx="10.0" fill="url(#kg1)"/><ellipse cx="-1.7" cy="-2.8" rx="8.4" ry="4.5" fill="#f8ecc0" opacity="0.45"/></g><g transform="translate(1598.9,392.2) rotate(18.9)" opacity="1.00"><rect x="-15.3" y="-9.5" width="30.5" height="19.0" rx="8.3" fill="url(#kg1)"/><ellipse cx="-1.5" cy="-2.3" rx="10.3" ry="5.1" fill="#f8ecc0" opacity="0.45"/></g><g transform="translate(1632.3,399.5) rotate(13.4)" opacity="1.00"><rect x="-17.1" y="-10.4" width="34.1" height="20.8" rx="9.0" fill="url(#kg1)"/><ellipse cx="-1.7" cy="-2.5" rx="9.5" ry="4.6" fill="#f8ecc0" opacity="0.45"/></g><g transform="translate(1347.3,348.9) rotate(16.6)" opacity="1.00"><rect x="-17.5" y="-10.6" width="35.0" height="21.2" rx="9.2" fill="url(#kg1)"/><ellipse cx="-1.8" cy="-2.5" rx="10.3" ry="5.0" fill="#f8ecc0" opacity="0.45"/></g><g transform="translate(1379.4,356.0) rotate(14.9)" opacity="1.00"><rect x="-16.5" y="-10.4" width="33.0" height="20.8" rx="9.1" fill="url(#kg1)"/><ellipse cx="-1.6" cy="-2.5" rx="9.6" ry="4.9" fill="#f8ecc0" opacity="0.45"/></g><g transform="translate(1411.9,365.8) rotate(17.0)" opacity="1.00"><rect x="-15.8" y="-9.8" width="31.6" height="19.5" rx="8.5" fill="url(#kg1)"/><ellipse cx="-1.6" cy="-2.3" rx="10.9" ry="5.4" fill="#f8ecc0" opacity="0.45"/></g><g transform="translate(1444.2,375.2) rotate(12.6)" opacity="1.00"><rect x="-17.2" y="-10.1" width="34.4" height="20.3" rx="8.8" fill="url(#kg1)"/><ellipse cx="-1.7" cy="-2.4" rx="9.3" ry="4.4" fill="#f8ecc0" opacity="0.45"/></g><g transform="translate(1476.4,382.6) rotate(18.8)" opacity="1.00"><rect x="-17.6" y="-11.5" width="35.1" height="23.0" rx="10.0" fill="url(#kg1)"/><ellipse cx="-1.8" cy="-2.8" rx="10.8" ry="5.6" fill="#f8ecc0" opacity="0.45"/></g><g transform="translate(1509.4,392.1) rotate(18.5)" opacity="1.00"><rect x="-17.7" y="-10.0" width="35.5" height="20.0" rx="8.7" fill="url(#kg1)"/><ellipse cx="-1.8" cy="-2.4" rx="8.6" ry="3.9" fill="#f8ecc0" opacity="0.45"/></g><g transform="translate(1543.5,401.8) rotate(17.9)" opacity="1.00"><rect x="-15.1" y="-11.2" width="30.2" height="22.4" rx="9.7" fill="url(#kg1)"/><ellipse cx="-1.5" cy="-2.7" rx="9.1" ry="5.4" fill="#f8ecc0" opacity="0.45"/></g><g transform="translate(1575.7,408.4) rotate(12.2)" opacity="1.00"><rect x="-16.7" y="-10.2" width="33.5" height="20.3" rx="8.8" fill="url(#kg1)"/><ellipse cx="-1.7" cy="-2.4" rx="8.6" ry="4.2" fill="#f8ecc0" opacity="0.45"/></g><g transform="translate(1608.0,418.6) rotate(17.6)" opacity="1.00"><rect x="-17.2" y="-9.6" width="34.3" height="19.3" rx="8.4" fill="url(#kg1)"/><ellipse cx="-1.7" cy="-2.3" rx="8.9" ry="4.0" fill="#f8ecc0" opacity="0.45"/></g><g transform="translate(1323.5,366.2) rotate(11.2)" opacity="1.00"><rect x="-15.6" y="-9.7" width="31.1" height="19.5" rx="8.5" fill="url(#kg1)"/><ellipse cx="-1.6" cy="-2.3" rx="8.8" ry="4.4" fill="#f8ecc0" opacity="0.45"/></g><g transform="translate(1355.6,373.7) rotate(14.2)" opacity="1.00"><rect x="-15.7" y="-11.2" width="31.5" height="22.3" rx="9.7" fill="url(#kg1)"/><ellipse cx="-1.6" cy="-2.7" rx="10.5" ry="6.0" fill="#f8ecc0" opacity="0.45"/></g><g transform="translate(1390.1,384.2) rotate(18.2)" opacity="1.00"><rect x="-17.7" y="-9.9" width="35.5" height="19.8" rx="8.6" fill="url(#kg1)"/><ellipse cx="-1.8" cy="-2.4" rx="11.1" ry="5.0" fill="#f8ecc0" opacity="0.45"/></g><g transform="translate(1423.0,391.1) rotate(11.3)" opacity="1.00"><rect x="-17.3" y="-11.1" width="34.7" height="22.1" rx="9.6" fill="url(#kg1)"/><ellipse cx="-1.7" cy="-2.7" rx="10.5" ry="5.4" fill="#f8ecc0" opacity="0.45"/></g><g transform="translate(1454.2,399.8) rotate(17.7)" opacity="1.00"><rect x="-16.5" y="-10.7" width="33.0" height="21.4" rx="9.3" fill="url(#kg1)"/><ellipse cx="-1.6" cy="-2.6" rx="8.3" ry="4.3" fill="#f8ecc0" opacity="0.45"/></g><g transform="translate(1487.8,408.9) rotate(12.7)" opacity="1.00"><rect x="-16.6" y="-10.0" width="33.2" height="20.0" rx="8.7" fill="url(#kg1)"/><ellipse cx="-1.7" cy="-2.4" rx="8.7" ry="4.2" fill="#f8ecc0" opacity="0.45"/></g><g transform="translate(1521.6,417.6) rotate(16.4)" opacity="1.00"><rect x="-15.6" y="-9.7" width="31.1" height="19.5" rx="8.5" fill="url(#kg1)"/><ellipse cx="-1.6" cy="-2.3" rx="9.6" ry="4.8" fill="#f8ecc0" opacity="0.45"/></g><g transform="translate(1553.6,426.6) rotate(11.5)" opacity="1.00"><rect x="-14.9" y="-11.4" width="29.8" height="22.8" rx="9.9" fill="url(#kg1)"/><ellipse cx="-1.5" cy="-2.7" rx="9.0" ry="5.5" fill="#f8ecc0" opacity="0.45"/></g><g transform="translate(1586.9,437.0) rotate(14.5)" opacity="1.00"><rect x="-15.5" y="-11.4" width="30.9" height="22.9" rx="9.9" fill="url(#kg1)"/><ellipse cx="-1.5" cy="-2.7" rx="8.0" ry="4.7" fill="#f8ecc0" opacity="0.45"/></g><g transform="translate(1619.3,446.1) rotate(13.3)" opacity="1.00"><rect x="-16.3" y="-11.0" width="32.6" height="22.0" rx="9.6" fill="url(#kg1)"/><ellipse cx="-1.6" cy="-2.6" rx="10.3" ry="5.6" fill="#f8ecc0" opacity="0.45"/></g><g transform="translate(1335.5,392.0) rotate(14.4)" opacity="1.00"><rect x="-17.1" y="-10.4" width="34.2" height="20.9" rx="9.1" fill="url(#kg1)"/><ellipse cx="-1.7" cy="-2.5" rx="9.9" ry="4.8" fill="#f8ecc0" opacity="0.45"/></g><g transform="translate(1366.0,401.2) rotate(13.3)" opacity="1.00"><rect x="-15.6" y="-11.4" width="31.2" height="22.8" rx="9.9" fill="url(#kg1)"/><ellipse cx="-1.6" cy="-2.7" rx="9.6" ry="5.6" fill="#f8ecc0" opacity="0.45"/></g><g transform="translate(1400.8,410.2) rotate(12.7)" opacity="1.00"><rect x="-16.7" y="-11.0" width="33.5" height="22.0" rx="9.6" fill="url(#kg1)"/><ellipse cx="-1.7" cy="-2.6" rx="10.6" ry="5.6" fill="#f8ecc0" opacity="0.45"/></g><g transform="translate(1433.7,419.4) rotate(18.8)" opacity="1.00"><rect x="-17.1" y="-11.0" width="34.2" height="22.0" rx="9.6" fill="url(#kg1)"/><ellipse cx="-1.7" cy="-2.6" rx="9.1" ry="4.7" fill="#f8ecc0" opacity="0.45"/></g><g transform="translate(1466.2,428.6) rotate(19.0)" opacity="1.00"><rect x="-15.7" y="-10.1" width="31.4" height="20.2" rx="8.8" fill="url(#kg1)"/><ellipse cx="-1.6" cy="-2.4" rx="10.4" ry="5.4" fill="#f8ecc0" opacity="0.45"/></g><g transform="translate(1499.0,435.6) rotate(13.7)" opacity="1.00"><rect x="-15.7" y="-10.6" width="31.4" height="21.2" rx="9.2" fill="url(#kg1)"/><ellipse cx="-1.6" cy="-2.5" rx="7.6" ry="4.1" fill="#f8ecc0" opacity="0.45"/></g><g transform="translate(1531.5,446.2) rotate(18.0)" opacity="1.00"><rect x="-16.9" y="-11.3" width="33.8" height="22.6" rx="9.8" fill="url(#kg1)"/><ellipse cx="-1.7" cy="-2.7" rx="8.8" ry="4.7" fill="#f8ecc0" opacity="0.45"/></g><g transform="translate(1563.5,453.4) rotate(16.6)" opacity="1.00"><rect x="-16.8" y="-10.0" width="33.6" height="19.9" rx="8.7" fill="url(#kg1)"/><ellipse cx="-1.7" cy="-2.4" rx="8.1" ry="3.8" fill="#f8ecc0" opacity="0.45"/></g><g transform="translate(1345.4,418.4) rotate(17.3)" opacity="1.00"><rect x="-14.9" y="-9.9" width="29.8" height="19.8" rx="8.6" fill="url(#kg1)"/><ellipse cx="-1.5" cy="-2.4" rx="9.0" ry="4.8" fill="#f8ecc0" opacity="0.45"/></g><g transform="translate(1376.8,427.0) rotate(17.0)" opacity="1.00"><rect x="-15.7" y="-10.0" width="31.5" height="20.0" rx="8.7" fill="url(#kg1)"/><ellipse cx="-1.6" cy="-2.4" rx="8.7" ry="4.4" fill="#f8ecc0" opacity="0.45"/></g><g transform="translate(1410.1,437.2) rotate(18.8)" opacity="1.00"><rect x="-16.8" y="-11.4" width="33.6" height="22.7" rx="9.9" fill="url(#kg1)"/><ellipse cx="-1.7" cy="-2.7" rx="10.1" ry="5.5" fill="#f8ecc0" opacity="0.45"/></g><g transform="translate(1443.0,445.5) rotate(17.8)" opacity="1.00"><rect x="-15.4" y="-9.9" width="30.9" height="19.8" rx="8.6" fill="url(#kg1)"/><ellipse cx="-1.5" cy="-2.4" rx="8.6" ry="4.4" fill="#f8ecc0" opacity="0.45"/></g><g transform="translate(1477.1,454.1) rotate(14.7)" opacity="1.00"><rect x="-15.9" y="-10.1" width="31.8" height="20.3" rx="8.8" fill="url(#kg1)"/><ellipse cx="-1.6" cy="-2.4" rx="9.5" ry="4.9" fill="#f8ecc0" opacity="0.45"/></g><g transform="translate(1321.9,436.9) rotate(13.1)" opacity="1.00"><rect x="-16.4" y="-10.7" width="32.9" height="21.4" rx="9.3" fill="url(#kg1)"/><ellipse cx="-1.6" cy="-2.6" rx="8.5" ry="4.4" fill="#f8ecc0" opacity="0.45"/></g><g transform="translate(1355.9,446.8) rotate(19.0)" opacity="1.00"><rect x="-15.4" y="-9.6" width="30.7" height="19.3" rx="8.4" fill="url(#kg1)"/><ellipse cx="-1.5" cy="-2.3" rx="10.2" ry="5.1" fill="#f8ecc0" opacity="0.45"/></g><g transform="translate(1387.9,455.5) rotate(11.2)" opacity="1.00"><rect x="-16.6" y="-11.3" width="33.2" height="22.7" rx="9.9" fill="url(#kg1)"/><ellipse cx="-1.7" cy="-2.7" rx="8.1" ry="4.4" fill="#f8ecc0" opacity="0.45"/></g></g></g><polyline points="1723.0,141.0 1680.0,213.0 1636.0,285.0 1600.0,330.0 1576.0,358.0 1540.0,386.0 1490.0,408.0 1465.0,430.0" fill="none" stroke="#7c6c30" stroke-width="16" stroke-linecap="round" opacity="0.55" filter="url(#fb1)"/><radialGradient id="cutg" cx="0.45" cy="0.5" r="0.6"><stop offset="0" stop-color="#e4d4c0"/><stop offset="0.7" stop-color="#dac6b0"/><stop offset="1" stop-color="#c8ae92"/></radialGradient><g filter="url(#fb2)"><path d="M1358,302 C1368,288 1402,283 1424,289 C1438,296 1450,326 1452,348 C1450,368 1424,375 1400,372 C1378,368 1358,346 1354,326 C1352,314 1353,307 1358,302 Z" fill="url(#cutg)"/><ellipse cx="1398" cy="333" rx="26" ry="21" transform="rotate(20 1398 333)" fill="none" stroke="#ceb9a0" stroke-width="1.6" opacity="0.7"/><ellipse cx="1397" cy="334" rx="12" ry="9" transform="rotate(20 1397 334)" fill="#e8dccc" opacity="0.7"/><path d="M1428,292 C1436,310 1444,330 1451,350" stroke="#ece2d6" stroke-width="3" fill="none" opacity="0.8"/></g><rect x="1350.5" y="141.4" width="425.0" height="285.9" fill="#a89c84" opacity="0.07"/></g></svg>
<div style="position:absolute;left:1349px;top:509px;width:428px;height:212px;background:#f8dde0;border-radius:6px;box-shadow:inset 1px 1px 0 #ecd5d8"></div>
<div class="abs" style="top:544.82px;font-size:26.2px;line-height:26.2px;font-weight:bold;left:1352.60px;width:420px;text-align:center;">Công ty Cổ phần</div>
<div class="abs" style="top:584.62px;font-size:26.2px;line-height:26.2px;font-weight:bold;left:1353.20px;width:420px;text-align:center;">Tập đoàn HT Việt Nam</div>
<div class="abs" style="top:655.57px;font-size:20px;line-height:20px;font-weight:bold;left:1351.50px;width:420px;text-align:center;">Địa chỉ: Tầng 5M, Toà nhà Hei Tower, Số 1</div>
<div class="abs" style="top:683.37px;font-size:20px;line-height:20px;font-weight:bold;left:1351.90px;width:420px;text-align:center;">Nguỵ Như Kon Tum, Thanh Xuân, Hà Nội</div>
<svg style="position:absolute;left:0;top:0" width="1800" height="1112" viewBox="0 0 1800 1112"><g fill="#000"><circle cx="1547.45" cy="824.15" r="4.05"/><rect x="1547.45" y="820.10" width="8.10" height="8.10"/><rect x="1543.40" y="824.15" width="8.10" height="8.10"/><circle cx="1555.55" cy="824.15" r="4.05"/><circle cx="1579.85" cy="824.15" r="4.05"/><rect x="1575.80" y="824.15" width="8.10" height="8.10"/><circle cx="1604.15" cy="824.15" r="4.05"/><rect x="1600.10" y="824.15" width="8.10" height="8.10"/><circle cx="1515.05" cy="832.25" r="4.05"/><circle cx="1539.35" cy="832.25" r="4.05"/><rect x="1539.35" y="828.20" width="8.10" height="8.10"/><circle cx="1547.45" cy="832.25" r="4.05"/><rect x="1543.40" y="832.25" width="8.10" height="8.10"/><circle cx="1563.65" cy="832.25" r="4.05"/><rect x="1563.65" y="828.20" width="8.10" height="8.10"/><rect x="1559.60" y="832.25" width="8.10" height="8.10"/><circle cx="1571.75" cy="832.25" r="4.05"/><rect x="1571.75" y="828.20" width="8.10" height="8.10"/><circle cx="1579.85" cy="832.25" r="4.05"/><rect x="1579.85" y="828.20" width="8.10" height="8.10"/><rect x="1575.80" y="832.25" width="8.10" height="8.10"/><circle cx="1587.95" cy="832.25" r="4.05"/><rect x="1587.95" y="828.20" width="8.10" height="8.10"/><circle cx="1596.05" cy="832.25" r="4.05"/><rect x="1596.05" y="828.20" width="8.10" height="8.10"/><rect x="1592.00" y="832.25" width="8.10" height="8.10"/><rect x="1596.05" y="832.25" width="8.10" height="8.10"/><circle cx="1604.15" cy="832.25" r="4.05"/><rect x="1600.10" y="832.25" width="8.10" height="8.10"/><circle cx="1523.15" cy="840.35" r="4.05"/><rect x="1519.10" y="840.35" width="8.10" height="8.10"/><circle cx="1547.45" cy="840.35" r="4.05"/><rect x="1547.45" y="836.30" width="8.10" height="8.10"/><rect x="1543.40" y="840.35" width="8.10" height="8.10"/><rect x="1547.45" y="840.35" width="8.10" height="8.10"/><circle cx="1555.55" cy="840.35" r="4.05"/><rect x="1555.55" y="836.30" width="8.10" height="8.10"/><rect x="1551.50" y="840.35" width="8.10" height="8.10"/><rect x="1555.55" y="840.35" width="8.10" height="8.10"/><circle cx="1563.65" cy="840.35" r="4.05"/><rect x="1559.60" y="840.35" width="8.10" height="8.10"/><circle cx="1579.85" cy="840.35" r="4.05"/><circle cx="1596.05" cy="840.35" r="4.05"/><rect x="1596.05" y="836.30" width="8.10" height="8.10"/><rect x="1592.00" y="840.35" width="8.10" height="8.10"/><rect x="1596.05" y="840.35" width="8.10" height="8.10"/><circle cx="1604.15" cy="840.35" r="4.05"/><rect x="1600.10" y="840.35" width="8.10" height="8.10"/><circle cx="1523.15" cy="848.45" r="4.05"/><rect x="1519.10" y="848.45" width="8.10" height="8.10"/><circle cx="1547.45" cy="848.45" r="4.05"/><rect x="1547.45" y="844.40" width="8.10" height="8.10"/><rect x="1543.40" y="848.45" width="8.10" height="8.10"/><circle cx="1555.55" cy="848.45" r="4.05"/><rect x="1555.55" y="844.40" width="8.10" height="8.10"/><circle cx="1563.65" cy="848.45" r="4.05"/><rect x="1563.65" y="844.40" width="8.10" height="8.10"/><rect x="1559.60" y="848.45" width="8.10" height="8.10"/><circle cx="1571.75" cy="848.45" r="4.05"/><circle cx="1596.05" cy="848.45" r="4.05"/><rect x="1596.05" y="844.40" width="8.10" height="8.10"/><circle cx="1604.15" cy="848.45" r="4.05"/><circle cx="1515.05" cy="856.55" r="4.05"/><rect x="1515.05" y="852.50" width="8.10" height="8.10"/><circle cx="1523.15" cy="856.55" r="4.05"/><rect x="1519.10" y="856.55" width="8.10" height="8.10"/><circle cx="1547.45" cy="856.55" r="4.05"/><rect x="1543.40" y="856.55" width="8.10" height="8.10"/><circle cx="1563.65" cy="856.55" r="4.05"/><circle cx="1523.15" cy="864.65" r="4.05"/><circle cx="1539.35" cy="864.65" r="4.05"/><rect x="1539.35" y="860.60" width="8.10" height="8.10"/><circle cx="1547.45" cy="864.65" r="4.05"/><rect x="1547.45" y="860.60" width="8.10" height="8.10"/><rect x="1543.40" y="864.65" width="8.10" height="8.10"/><circle cx="1555.55" cy="864.65" r="4.05"/><circle cx="1604.15" cy="864.65" r="4.05"/><rect x="1604.15" y="860.60" width="8.10" height="8.10"/><circle cx="1612.25" cy="864.65" r="4.05"/><rect x="1608.20" y="864.65" width="8.10" height="8.10"/><circle cx="1515.05" cy="872.75" r="4.05"/><circle cx="1531.25" cy="872.75" r="4.05"/><circle cx="1547.45" cy="872.75" r="4.05"/><rect x="1543.40" y="872.75" width="8.10" height="8.10"/><circle cx="1563.65" cy="872.75" r="4.05"/><rect x="1559.60" y="872.75" width="8.10" height="8.10"/><circle cx="1579.85" cy="872.75" r="4.05"/><rect x="1575.80" y="872.75" width="8.10" height="8.10"/><circle cx="1596.05" cy="872.75" r="4.05"/><circle cx="1612.25" cy="872.75" r="4.05"/><circle cx="1539.35" cy="880.85" r="4.05"/><rect x="1539.35" y="876.80" width="8.10" height="8.10"/><rect x="1535.30" y="880.85" width="8.10" height="8.10"/><circle cx="1547.45" cy="880.85" r="4.05"/><rect x="1547.45" y="876.80" width="8.10" height="8.10"/><circle cx="1555.55" cy="880.85" r="4.05"/><rect x="1555.55" y="876.80" width="8.10" height="8.10"/><circle cx="1563.65" cy="880.85" r="4.05"/><rect x="1559.60" y="880.85" width="8.10" height="8.10"/><circle cx="1579.85" cy="880.85" r="4.05"/><rect x="1579.85" y="876.80" width="8.10" height="8.10"/><circle cx="1587.95" cy="880.85" r="4.05"/><rect x="1583.90" y="880.85" width="8.10" height="8.10"/><circle cx="1604.15" cy="880.85" r="4.05"/><rect x="1600.10" y="880.85" width="8.10" height="8.10"/><circle cx="1450.25" cy="888.95" r="4.05"/><rect x="1446.20" y="888.95" width="8.10" height="8.10"/><circle cx="1466.45" cy="888.95" r="4.05"/><circle cx="1482.65" cy="888.95" r="4.05"/><rect x="1478.60" y="888.95" width="8.10" height="8.10"/><circle cx="1498.85" cy="888.95" r="4.05"/><circle cx="1531.25" cy="888.95" r="4.05"/><rect x="1531.25" y="884.90" width="8.10" height="8.10"/><rect x="1527.20" y="888.95" width="8.10" height="8.10"/><rect x="1531.25" y="888.95" width="8.10" height="8.10"/><circle cx="1539.35" cy="888.95" r="4.05"/><rect x="1535.30" y="888.95" width="8.10" height="8.10"/><circle cx="1563.65" cy="888.95" r="4.05"/><rect x="1563.65" y="884.90" width="8.10" height="8.10"/><rect x="1559.60" y="888.95" width="8.10" height="8.10"/><rect x="1563.65" y="888.95" width="8.10" height="8.10"/><circle cx="1571.75" cy="888.95" r="4.05"/><rect x="1567.70" y="888.95" width="8.10" height="8.10"/><circle cx="1587.95" cy="888.95" r="4.05"/><rect x="1583.90" y="888.95" width="8.10" height="8.10"/><circle cx="1604.15" cy="888.95" r="4.05"/><circle cx="1644.65" cy="888.95" r="4.05"/><circle cx="1668.95" cy="888.95" r="4.05"/><circle cx="1450.25" cy="897.05" r="4.05"/><rect x="1450.25" y="893.00" width="8.10" height="8.10"/><circle cx="1458.35" cy="897.05" r="4.05"/><circle cx="1482.65" cy="897.05" r="4.05"/><rect x="1478.60" y="897.05" width="8.10" height="8.10"/><circle cx="1515.05" cy="897.05" r="4.05"/><rect x="1515.05" y="893.00" width="8.10" height="8.10"/><circle cx="1523.15" cy="897.05" r="4.05"/><rect x="1523.15" y="893.00" width="8.10" height="8.10"/><rect x="1519.10" y="897.05" width="8.10" height="8.10"/><rect x="1523.15" y="897.05" width="8.10" height="8.10"/><circle cx="1531.25" cy="897.05" r="4.05"/><rect x="1531.25" y="893.00" width="8.10" height="8.10"/><rect x="1527.20" y="897.05" width="8.10" height="8.10"/><circle cx="1539.35" cy="897.05" r="4.05"/><circle cx="1563.65" cy="897.05" r="4.05"/><rect x="1563.65" y="893.00" width="8.10" height="8.10"/><circle cx="1571.75" cy="897.05" r="4.05"/><circle cx="1587.95" cy="897.05" r="4.05"/><circle cx="1620.35" cy="897.05" r="4.05"/><rect x="1620.35" y="893.00" width="8.10" height="8.10"/><rect x="1616.30" y="897.05" width="8.10" height="8.10"/><circle cx="1628.45" cy="897.05" r="4.05"/><rect x="1628.45" y="893.00" width="8.10" height="8.10"/><circle cx="1636.55" cy="897.05" r="4.05"/><rect x="1632.50" y="897.05" width="8.10" height="8.10"/><circle cx="1652.75" cy="897.05" r="4.05"/><circle cx="1677.05" cy="897.05" r="4.05"/><rect x="1673.00" y="897.05" width="8.10" height="8.10"/><circle cx="1466.45" cy="905.15" r="4.05"/><rect x="1466.45" y="901.10" width="8.10" height="8.10"/><rect x="1462.40" y="905.15" width="8.10" height="8.10"/><circle cx="1474.55" cy="905.15" r="4.05"/><rect x="1474.55" y="901.10" width="8.10" height="8.10"/><circle cx="1482.65" cy="905.15" r="4.05"/><rect x="1482.65" y="901.10" width="8.10" height="8.10"/><circle cx="1490.75" cy="905.15" r="4.05"/><rect x="1490.75" y="901.10" width="8.10" height="8.10"/><rect x="1486.70" y="905.15" width="8.10" height="8.10"/><circle cx="1498.85" cy="905.15" r="4.05"/><circle cx="1523.15" cy="905.15" r="4.05"/><rect x="1523.15" y="901.10" width="8.10" height="8.10"/><circle cx="1531.25" cy="905.15" r="4.05"/><circle cx="1555.55" cy="905.15" r="4.05"/><circle cx="1620.35" cy="905.15" r="4.05"/><circle cx="1636.55" cy="905.15" r="4.05"/><rect x="1636.55" y="901.10" width="8.10" height="8.10"/><circle cx="1644.65" cy="905.15" r="4.05"/><circle cx="1660.85" cy="905.15" r="4.05"/><rect x="1660.85" y="901.10" width="8.10" height="8.10"/><circle cx="1668.95" cy="905.15" r="4.05"/><rect x="1668.95" y="901.10" width="8.10" height="8.10"/><rect x="1664.90" y="905.15" width="8.10" height="8.10"/><circle cx="1677.05" cy="905.15" r="4.05"/><circle cx="1450.25" cy="913.25" r="4.05"/><circle cx="1466.45" cy="913.25" r="4.05"/><rect x="1462.40" y="913.25" width="8.10" height="8.10"/><circle cx="1490.75" cy="913.25" r="4.05"/><circle cx="1506.95" cy="913.25" r="4.05"/><rect x="1506.95" y="909.20" width="8.10" height="8.10"/><circle cx="1515.05" cy="913.25" r="4.05"/><rect x="1511.00" y="913.25" width="8.10" height="8.10"/><circle cx="1596.05" cy="913.25" r="4.05"/><circle cx="1612.25" cy="913.25" r="4.05"/><circle cx="1628.45" cy="913.25" r="4.05"/><rect x="1624.40" y="913.25" width="8.10" height="8.10"/><circle cx="1668.95" cy="913.25" r="4.05"/><rect x="1664.90" y="913.25" width="8.10" height="8.10"/><circle cx="1466.45" cy="921.35" r="4.05"/><rect x="1462.40" y="921.35" width="8.10" height="8.10"/><circle cx="1482.65" cy="921.35" r="4.05"/><circle cx="1498.85" cy="921.35" r="4.05"/><circle cx="1515.05" cy="921.35" r="4.05"/><circle cx="1628.45" cy="921.35" r="4.05"/><rect x="1624.40" y="921.35" width="8.10" height="8.10"/><circle cx="1652.75" cy="921.35" r="4.05"/><rect x="1648.70" y="921.35" width="8.10" height="8.10"/><circle cx="1668.95" cy="921.35" r="4.05"/><rect x="1668.95" y="917.30" width="8.10" height="8.10"/><rect x="1664.90" y="921.35" width="8.10" height="8.10"/><circle cx="1677.05" cy="921.35" r="4.05"/><circle cx="1458.35" cy="929.45" r="4.05"/><rect x="1458.35" y="925.40" width="8.10" height="8.10"/><rect x="1454.30" y="929.45" width="8.10" height="8.10"/><circle cx="1466.45" cy="929.45" r="4.05"/><circle cx="1612.25" cy="929.45" r="4.05"/><rect x="1612.25" y="925.40" width="8.10" height="8.10"/><rect x="1608.20" y="929.45" width="8.10" height="8.10"/><circle cx="1620.35" cy="929.45" r="4.05"/><rect x="1620.35" y="925.40" width="8.10" height="8.10"/><circle cx="1628.45" cy="929.45" r="4.05"/><circle cx="1652.75" cy="929.45" r="4.05"/><rect x="1648.70" y="929.45" width="8.10" height="8.10"/><circle cx="1668.95" cy="929.45" r="4.05"/><rect x="1664.90" y="929.45" width="8.10" height="8.10"/><circle cx="1458.35" cy="937.55" r="4.05"/><circle cx="1482.65" cy="937.55" r="4.05"/><rect x="1482.65" y="933.50" width="8.10" height="8.10"/><rect x="1478.60" y="937.55" width="8.10" height="8.10"/><rect x="1482.65" y="937.55" width="8.10" height="8.10"/><circle cx="1490.75" cy="937.55" r="4.05"/><rect x="1490.75" y="933.50" width="8.10" height="8.10"/><rect x="1486.70" y="937.55" width="8.10" height="8.10"/><circle cx="1498.85" cy="937.55" r="4.05"/><circle cx="1515.05" cy="937.55" r="4.05"/><rect x="1515.05" y="933.50" width="8.10" height="8.10"/><rect x="1511.00" y="937.55" width="8.10" height="8.10"/><circle cx="1523.15" cy="937.55" r="4.05"/><circle cx="1612.25" cy="937.55" r="4.05"/><circle cx="1636.55" cy="937.55" r="4.05"/><rect x="1636.55" y="933.50" width="8.10" height="8.10"/><circle cx="1644.65" cy="937.55" r="4.05"/><rect x="1644.65" y="933.50" width="8.10" height="8.10"/><rect x="1640.60" y="937.55" width="8.10" height="8.10"/><rect x="1644.65" y="937.55" width="8.10" height="8.10"/><circle cx="1652.75" cy="937.55" r="4.05"/><rect x="1648.70" y="937.55" width="8.10" height="8.10"/><circle cx="1668.95" cy="937.55" r="4.05"/><rect x="1668.95" y="933.50" width="8.10" height="8.10"/><rect x="1664.90" y="937.55" width="8.10" height="8.10"/><circle cx="1677.05" cy="937.55" r="4.05"/><circle cx="1450.25" cy="945.65" r="4.05"/><circle cx="1474.55" cy="945.65" r="4.05"/><rect x="1474.55" y="941.60" width="8.10" height="8.10"/><circle cx="1482.65" cy="945.65" r="4.05"/><rect x="1482.65" y="941.60" width="8.10" height="8.10"/><rect x="1478.60" y="945.65" width="8.10" height="8.10"/><circle cx="1490.75" cy="945.65" r="4.05"/><circle cx="1506.95" cy="945.65" r="4.05"/><rect x="1506.95" y="941.60" width="8.10" height="8.10"/><rect x="1502.90" y="945.65" width="8.10" height="8.10"/><circle cx="1515.05" cy="945.65" r="4.05"/><circle cx="1531.25" cy="945.65" r="4.05"/><rect x="1527.20" y="945.65" width="8.10" height="8.10"/><circle cx="1604.15" cy="945.65" r="4.05"/><circle cx="1628.45" cy="945.65" r="4.05"/><rect x="1624.40" y="945.65" width="8.10" height="8.10"/><circle cx="1644.65" cy="945.65" r="4.05"/><rect x="1644.65" y="941.60" width="8.10" height="8.10"/><circle cx="1652.75" cy="945.65" r="4.05"/><rect x="1648.70" y="945.65" width="8.10" height="8.10"/><circle cx="1668.95" cy="945.65" r="4.05"/><rect x="1664.90" y="945.65" width="8.10" height="8.10"/><circle cx="1482.65" cy="953.75" r="4.05"/><circle cx="1498.85" cy="953.75" r="4.05"/><rect x="1498.85" y="949.70" width="8.10" height="8.10"/><circle cx="1506.95" cy="953.75" r="4.05"/><circle cx="1523.15" cy="953.75" r="4.05"/><rect x="1523.15" y="949.70" width="8.10" height="8.10"/><rect x="1519.10" y="953.75" width="8.10" height="8.10"/><rect x="1523.15" y="953.75" width="8.10" height="8.10"/><circle cx="1531.25" cy="953.75" r="4.05"/><rect x="1527.20" y="953.75" width="8.10" height="8.10"/><circle cx="1620.35" cy="953.75" r="4.05"/><rect x="1620.35" y="949.70" width="8.10" height="8.10"/><circle cx="1628.45" cy="953.75" r="4.05"/><circle cx="1652.75" cy="953.75" r="4.05"/><rect x="1648.70" y="953.75" width="8.10" height="8.10"/><circle cx="1668.95" cy="953.75" r="4.05"/><rect x="1668.95" y="949.70" width="8.10" height="8.10"/><circle cx="1677.05" cy="953.75" r="4.05"/><rect x="1673.00" y="953.75" width="8.10" height="8.10"/><circle cx="1490.75" cy="961.85" r="4.05"/><circle cx="1515.05" cy="961.85" r="4.05"/><rect x="1515.05" y="957.80" width="8.10" height="8.10"/><circle cx="1523.15" cy="961.85" r="4.05"/><rect x="1523.15" y="957.80" width="8.10" height="8.10"/><circle cx="1531.25" cy="961.85" r="4.05"/><rect x="1527.20" y="961.85" width="8.10" height="8.10"/><circle cx="1596.05" cy="961.85" r="4.05"/><rect x="1596.05" y="957.80" width="8.10" height="8.10"/><rect x="1592.00" y="961.85" width="8.10" height="8.10"/><circle cx="1604.15" cy="961.85" r="4.05"/><rect x="1604.15" y="957.80" width="8.10" height="8.10"/><circle cx="1612.25" cy="961.85" r="4.05"/><circle cx="1652.75" cy="961.85" r="4.05"/><rect x="1652.75" y="957.80" width="8.10" height="8.10"/><circle cx="1660.85" cy="961.85" r="4.05"/><circle cx="1677.05" cy="961.85" r="4.05"/><rect x="1673.00" y="961.85" width="8.10" height="8.10"/><circle cx="1450.25" cy="969.95" r="4.05"/><circle cx="1466.45" cy="969.95" r="4.05"/><circle cx="1482.65" cy="969.95" r="4.05"/><circle cx="1498.85" cy="969.95" r="4.05"/><circle cx="1531.25" cy="969.95" r="4.05"/><rect x="1531.25" y="965.90" width="8.10" height="8.10"/><circle cx="1539.35" cy="969.95" r="4.05"/><rect x="1539.35" y="965.90" width="8.10" height="8.10"/><circle cx="1547.45" cy="969.95" r="4.05"/><rect x="1547.45" y="965.90" width="8.10" height="8.10"/><circle cx="1555.55" cy="969.95" r="4.05"/><circle cx="1587.95" cy="969.95" r="4.05"/><rect x="1587.95" y="965.90" width="8.10" height="8.10"/><rect x="1583.90" y="969.95" width="8.10" height="8.10"/><circle cx="1596.05" cy="969.95" r="4.05"/><circle cx="1620.35" cy="969.95" r="4.05"/><rect x="1620.35" y="965.90" width="8.10" height="8.10"/><circle cx="1628.45" cy="969.95" r="4.05"/><rect x="1624.40" y="969.95" width="8.10" height="8.10"/><circle cx="1668.95" cy="969.95" r="4.05"/><rect x="1668.95" y="965.90" width="8.10" height="8.10"/><rect x="1664.90" y="969.95" width="8.10" height="8.10"/><circle cx="1677.05" cy="969.95" r="4.05"/><circle cx="1458.35" cy="978.05" r="4.05"/><circle cx="1474.55" cy="978.05" r="4.05"/><rect x="1470.50" y="978.05" width="8.10" height="8.10"/><circle cx="1490.75" cy="978.05" r="4.05"/><circle cx="1506.95" cy="978.05" r="4.05"/><rect x="1506.95" y="974.00" width="8.10" height="8.10"/><circle cx="1515.05" cy="978.05" r="4.05"/><rect x="1515.05" y="974.00" width="8.10" height="8.10"/><circle cx="1523.15" cy="978.05" r="4.05"/><rect x="1519.10" y="978.05" width="8.10" height="8.10"/><circle cx="1571.75" cy="978.05" r="4.05"/><circle cx="1587.95" cy="978.05" r="4.05"/><rect x="1583.90" y="978.05" width="8.10" height="8.10"/><circle cx="1612.25" cy="978.05" r="4.05"/><rect x="1608.20" y="978.05" width="8.10" height="8.10"/><circle cx="1628.45" cy="978.05" r="4.05"/><rect x="1624.40" y="978.05" width="8.10" height="8.10"/><circle cx="1644.65" cy="978.05" r="4.05"/><rect x="1644.65" y="974.00" width="8.10" height="8.10"/><rect x="1640.60" y="978.05" width="8.10" height="8.10"/><circle cx="1652.75" cy="978.05" r="4.05"/><circle cx="1668.95" cy="978.05" r="4.05"/><circle cx="1450.25" cy="986.15" r="4.05"/><circle cx="1474.55" cy="986.15" r="4.05"/><rect x="1474.55" y="982.10" width="8.10" height="8.10"/><circle cx="1482.65" cy="986.15" r="4.05"/><circle cx="1498.85" cy="986.15" r="4.05"/><circle cx="1523.15" cy="986.15" r="4.05"/><rect x="1523.15" y="982.10" width="8.10" height="8.10"/><rect x="1519.10" y="986.15" width="8.10" height="8.10"/><circle cx="1531.25" cy="986.15" r="4.05"/><circle cx="1579.85" cy="986.15" r="4.05"/><rect x="1579.85" y="982.10" width="8.10" height="8.10"/><rect x="1575.80" y="986.15" width="8.10" height="8.10"/><rect x="1579.85" y="986.15" width="8.10" height="8.10"/><circle cx="1587.95" cy="986.15" r="4.05"/><rect x="1583.90" y="986.15" width="8.10" height="8.10"/><circle cx="1612.25" cy="986.15" r="4.05"/><rect x="1612.25" y="982.10" width="8.10" height="8.10"/><rect x="1608.20" y="986.15" width="8.10" height="8.10"/><circle cx="1620.35" cy="986.15" r="4.05"/><rect x="1620.35" y="982.10" width="8.10" height="8.10"/><circle cx="1628.45" cy="986.15" r="4.05"/><rect x="1628.45" y="982.10" width="8.10" height="8.10"/><circle cx="1636.55" cy="986.15" r="4.05"/><rect x="1636.55" y="982.10" width="8.10" height="8.10"/><circle cx="1644.65" cy="986.15" r="4.05"/><rect x="1640.60" y="986.15" width="8.10" height="8.10"/><circle cx="1515.05" cy="994.25" r="4.05"/><rect x="1515.05" y="990.20" width="8.10" height="8.10"/><circle cx="1523.15" cy="994.25" r="4.05"/><rect x="1519.10" y="994.25" width="8.10" height="8.10"/><circle cx="1539.35" cy="994.25" r="4.05"/><rect x="1539.35" y="990.20" width="8.10" height="8.10"/><circle cx="1547.45" cy="994.25" r="4.05"/><rect x="1547.45" y="990.20" width="8.10" height="8.10"/><circle cx="1555.55" cy="994.25" r="4.05"/><circle cx="1571.75" cy="994.25" r="4.05"/><rect x="1571.75" y="990.20" width="8.10" height="8.10"/><rect x="1567.70" y="994.25" width="8.10" height="8.10"/><rect x="1571.75" y="994.25" width="8.10" height="8.10"/><circle cx="1579.85" cy="994.25" r="4.05"/><rect x="1579.85" y="990.20" width="8.10" height="8.10"/><rect x="1575.80" y="994.25" width="8.10" height="8.10"/><circle cx="1587.95" cy="994.25" r="4.05"/><rect x="1587.95" y="990.20" width="8.10" height="8.10"/><circle cx="1596.05" cy="994.25" r="4.05"/><rect x="1596.05" y="990.20" width="8.10" height="8.10"/><rect x="1592.00" y="994.25" width="8.10" height="8.10"/><circle cx="1604.15" cy="994.25" r="4.05"/><rect x="1604.15" y="990.20" width="8.10" height="8.10"/><circle cx="1612.25" cy="994.25" r="4.05"/><rect x="1608.20" y="994.25" width="8.10" height="8.10"/><circle cx="1644.65" cy="994.25" r="4.05"/><rect x="1640.60" y="994.25" width="8.10" height="8.10"/><circle cx="1660.85" cy="994.25" r="4.05"/><rect x="1660.85" y="990.20" width="8.10" height="8.10"/><circle cx="1668.95" cy="994.25" r="4.05"/><rect x="1668.95" y="990.20" width="8.10" height="8.10"/><rect x="1664.90" y="994.25" width="8.10" height="8.10"/><rect x="1668.95" y="994.25" width="8.10" height="8.10"/><circle cx="1677.05" cy="994.25" r="4.05"/><rect x="1673.00" y="994.25" width="8.10" height="8.10"/><circle cx="1523.15" cy="1002.35" r="4.05"/><rect x="1523.15" y="998.30" width="8.10" height="8.10"/><rect x="1519.10" y="1002.35" width="8.10" height="8.10"/><circle cx="1531.25" cy="1002.35" r="4.05"/><circle cx="1563.65" cy="1002.35" r="4.05"/><rect x="1563.65" y="998.30" width="8.10" height="8.10"/><rect x="1559.60" y="1002.35" width="8.10" height="8.10"/><circle cx="1571.75" cy="1002.35" r="4.05"/><rect x="1571.75" y="998.30" width="8.10" height="8.10"/><circle cx="1579.85" cy="1002.35" r="4.05"/><rect x="1575.80" y="1002.35" width="8.10" height="8.10"/><circle cx="1596.05" cy="1002.35" r="4.05"/><circle cx="1612.25" cy="1002.35" r="4.05"/><rect x="1608.20" y="1002.35" width="8.10" height="8.10"/><circle cx="1628.45" cy="1002.35" r="4.05"/><circle cx="1644.65" cy="1002.35" r="4.05"/><rect x="1644.65" y="998.30" width="8.10" height="8.10"/><rect x="1640.60" y="1002.35" width="8.10" height="8.10"/><rect x="1644.65" y="1002.35" width="8.10" height="8.10"/><circle cx="1652.75" cy="1002.35" r="4.05"/><rect x="1648.70" y="1002.35" width="8.10" height="8.10"/><circle cx="1668.95" cy="1002.35" r="4.05"/><rect x="1668.95" y="998.30" width="8.10" height="8.10"/><rect x="1664.90" y="1002.35" width="8.10" height="8.10"/><rect x="1668.95" y="1002.35" width="8.10" height="8.10"/><circle cx="1677.05" cy="1002.35" r="4.05"/><rect x="1673.00" y="1002.35" width="8.10" height="8.10"/><circle cx="1523.15" cy="1010.45" r="4.05"/><circle cx="1539.35" cy="1010.45" r="4.05"/><rect x="1539.35" y="1006.40" width="8.10" height="8.10"/><rect x="1535.30" y="1010.45" width="8.10" height="8.10"/><circle cx="1547.45" cy="1010.45" r="4.05"/><rect x="1547.45" y="1006.40" width="8.10" height="8.10"/><circle cx="1555.55" cy="1010.45" r="4.05"/><rect x="1555.55" y="1006.40" width="8.10" height="8.10"/><circle cx="1563.65" cy="1010.45" r="4.05"/><rect x="1559.60" y="1010.45" width="8.10" height="8.10"/><circle cx="1579.85" cy="1010.45" r="4.05"/><rect x="1579.85" y="1006.40" width="8.10" height="8.10"/><rect x="1575.80" y="1010.45" width="8.10" height="8.10"/><rect x="1579.85" y="1010.45" width="8.10" height="8.10"/><circle cx="1587.95" cy="1010.45" r="4.05"/><rect x="1583.90" y="1010.45" width="8.10" height="8.10"/><circle cx="1612.25" cy="1010.45" r="4.05"/><rect x="1608.20" y="1010.45" width="8.10" height="8.10"/><circle cx="1644.65" cy="1010.45" r="4.05"/><rect x="1644.65" y="1006.40" width="8.10" height="8.10"/><rect x="1640.60" y="1010.45" width="8.10" height="8.10"/><circle cx="1652.75" cy="1010.45" r="4.05"/><circle cx="1668.95" cy="1010.45" r="4.05"/><rect x="1668.95" y="1006.40" width="8.10" height="8.10"/><rect x="1664.90" y="1010.45" width="8.10" height="8.10"/><circle cx="1677.05" cy="1010.45" r="4.05"/><circle cx="1515.05" cy="1018.55" r="4.05"/><circle cx="1539.35" cy="1018.55" r="4.05"/><circle cx="1563.65" cy="1018.55" r="4.05"/><rect x="1563.65" y="1014.50" width="8.10" height="8.10"/><rect x="1559.60" y="1018.55" width="8.10" height="8.10"/><rect x="1563.65" y="1018.55" width="8.10" height="8.10"/><circle cx="1571.75" cy="1018.55" r="4.05"/><rect x="1571.75" y="1014.50" width="8.10" height="8.10"/><rect x="1567.70" y="1018.55" width="8.10" height="8.10"/><circle cx="1579.85" cy="1018.55" r="4.05"/><rect x="1579.85" y="1014.50" width="8.10" height="8.10"/><circle cx="1587.95" cy="1018.55" r="4.05"/><rect x="1587.95" y="1014.50" width="8.10" height="8.10"/><rect x="1583.90" y="1018.55" width="8.10" height="8.10"/><rect x="1587.95" y="1018.55" width="8.10" height="8.10"/><circle cx="1596.05" cy="1018.55" r="4.05"/><rect x="1592.00" y="1018.55" width="8.10" height="8.10"/><circle cx="1612.25" cy="1018.55" r="4.05"/><rect x="1612.25" y="1014.50" width="8.10" height="8.10"/><circle cx="1620.35" cy="1018.55" r="4.05"/><rect x="1620.35" y="1014.50" width="8.10" height="8.10"/><circle cx="1628.45" cy="1018.55" r="4.05"/><rect x="1628.45" y="1014.50" width="8.10" height="8.10"/><circle cx="1636.55" cy="1018.55" r="4.05"/><rect x="1636.55" y="1014.50" width="8.10" height="8.10"/><rect x="1632.50" y="1018.55" width="8.10" height="8.10"/><rect x="1636.55" y="1018.55" width="8.10" height="8.10"/><circle cx="1644.65" cy="1018.55" r="4.05"/><rect x="1640.60" y="1018.55" width="8.10" height="8.10"/><circle cx="1668.95" cy="1018.55" r="4.05"/><circle cx="1523.15" cy="1026.65" r="4.05"/><circle cx="1563.65" cy="1026.65" r="4.05"/><rect x="1563.65" y="1022.60" width="8.10" height="8.10"/><circle cx="1571.75" cy="1026.65" r="4.05"/><circle cx="1587.95" cy="1026.65" r="4.05"/><rect x="1587.95" y="1022.60" width="8.10" height="8.10"/><circle cx="1596.05" cy="1026.65" r="4.05"/><rect x="1596.05" y="1022.60" width="8.10" height="8.10"/><circle cx="1604.15" cy="1026.65" r="4.05"/><rect x="1600.10" y="1026.65" width="8.10" height="8.10"/><circle cx="1636.55" cy="1026.65" r="4.05"/><rect x="1636.55" y="1022.60" width="8.10" height="8.10"/><circle cx="1644.65" cy="1026.65" r="4.05"/><rect x="1640.60" y="1026.65" width="8.10" height="8.10"/><circle cx="1660.85" cy="1026.65" r="4.05"/><circle cx="1515.05" cy="1034.75" r="4.05"/><circle cx="1531.25" cy="1034.75" r="4.05"/><rect x="1531.25" y="1030.70" width="8.10" height="8.10"/><circle cx="1539.35" cy="1034.75" r="4.05"/><rect x="1535.30" y="1034.75" width="8.10" height="8.10"/><circle cx="1604.15" cy="1034.75" r="4.05"/><circle cx="1620.35" cy="1034.75" r="4.05"/><rect x="1620.35" y="1030.70" width="8.10" height="8.10"/><circle cx="1628.45" cy="1034.75" r="4.05"/><circle cx="1644.65" cy="1034.75" r="4.05"/><rect x="1644.65" y="1030.70" width="8.10" height="8.10"/><circle cx="1652.75" cy="1034.75" r="4.05"/><circle cx="1677.05" cy="1034.75" r="4.05"/><circle cx="1539.35" cy="1042.85" r="4.05"/><rect x="1539.35" y="1038.80" width="8.10" height="8.10"/><rect x="1535.30" y="1042.85" width="8.10" height="8.10"/><circle cx="1547.45" cy="1042.85" r="4.05"/><circle cx="1571.75" cy="1042.85" r="4.05"/><rect x="1571.75" y="1038.80" width="8.10" height="8.10"/><rect x="1567.70" y="1042.85" width="8.10" height="8.10"/><rect x="1571.75" y="1042.85" width="8.10" height="8.10"/><circle cx="1579.85" cy="1042.85" r="4.05"/><rect x="1579.85" y="1038.80" width="8.10" height="8.10"/><rect x="1575.80" y="1042.85" width="8.10" height="8.10"/><rect x="1579.85" y="1042.85" width="8.10" height="8.10"/><circle cx="1587.95" cy="1042.85" r="4.05"/><rect x="1587.95" y="1038.80" width="8.10" height="8.10"/><rect x="1583.90" y="1042.85" width="8.10" height="8.10"/><circle cx="1596.05" cy="1042.85" r="4.05"/><circle cx="1636.55" cy="1042.85" r="4.05"/><rect x="1632.50" y="1042.85" width="8.10" height="8.10"/><circle cx="1668.95" cy="1042.85" r="4.05"/><rect x="1664.90" y="1042.85" width="8.10" height="8.10"/><circle cx="1515.05" cy="1050.95" r="4.05"/><rect x="1515.05" y="1046.90" width="8.10" height="8.10"/><circle cx="1523.15" cy="1050.95" r="4.05"/><rect x="1523.15" y="1046.90" width="8.10" height="8.10"/><circle cx="1531.25" cy="1050.95" r="4.05"/><rect x="1531.25" y="1046.90" width="8.10" height="8.10"/><circle cx="1539.35" cy="1050.95" r="4.05"/><circle cx="1555.55" cy="1050.95" r="4.05"/><rect x="1555.55" y="1046.90" width="8.10" height="8.10"/><circle cx="1563.65" cy="1050.95" r="4.05"/><rect x="1563.65" y="1046.90" width="8.10" height="8.10"/><circle cx="1571.75" cy="1050.95" r="4.05"/><rect x="1571.75" y="1046.90" width="8.10" height="8.10"/><circle cx="1579.85" cy="1050.95" r="4.05"/><rect x="1579.85" y="1046.90" width="8.10" height="8.10"/><circle cx="1587.95" cy="1050.95" r="4.05"/><circle cx="1604.15" cy="1050.95" r="4.05"/><rect x="1604.15" y="1046.90" width="8.10" height="8.10"/><circle cx="1612.25" cy="1050.95" r="4.05"/><rect x="1612.25" y="1046.90" width="8.10" height="8.10"/><circle cx="1620.35" cy="1050.95" r="4.05"/><rect x="1620.35" y="1046.90" width="8.10" height="8.10"/><circle cx="1628.45" cy="1050.95" r="4.05"/><rect x="1628.45" y="1046.90" width="8.10" height="8.10"/><circle cx="1636.55" cy="1050.95" r="4.05"/><rect x="1636.55" y="1046.90" width="8.10" height="8.10"/><circle cx="1644.65" cy="1050.95" r="4.05"/><rect x="1644.65" y="1046.90" width="8.10" height="8.10"/><circle cx="1652.75" cy="1050.95" r="4.05"/><circle cx="1668.95" cy="1050.95" r="4.05"/><rect x="1668.95" y="1046.90" width="8.10" height="8.10"/><circle cx="1677.05" cy="1050.95" r="4.05"/><rect x="1450.25" y="824.15" width="48.60" height="48.60" rx="13.77" fill="none" stroke="#000" stroke-width="8.10"/><rect x="1462.40" y="836.30" width="24.30" height="24.30" rx="8.51"/><rect x="1628.45" y="824.15" width="48.60" height="48.60" rx="13.77" fill="none" stroke="#000" stroke-width="8.10"/><rect x="1640.60" y="836.30" width="24.30" height="24.30" rx="8.51"/><rect x="1450.25" y="1002.35" width="48.60" height="48.60" rx="13.77" fill="none" stroke="#000" stroke-width="8.10"/><rect x="1462.40" y="1014.50" width="24.30" height="24.30" rx="8.51"/></g><circle cx="1563.65" cy="937.55" r="19.6" fill="#2aa3df"/><path d="M1551.15,939.75 L1573.15,927.05 L1564.85,947.05 L1562.15,941.55 Z" fill="#fff" opacity="0.95"/><path d="M1562.15,941.55 L1573.15,927.05" stroke="#9fd4ef" stroke-width="1.2"/></svg>
<div class="abs" style="top:621.55px;font-size:26.4px;line-height:26.4px;font-weight:bold;left:64.80px;">Nhận định:</div>
<ul class="txt" style="top:652.99px">
<li><span class="bul"></span>Kết thúc phiên giao dịch vừa qua, Ngô tháng 12/2025 (ZCEZ25) có nhịp điều chỉnh về vùng mua, Giá có nhịp hồi phục khá tốt. NĐT mở lệnh theo khuyến nghị, có mức lãi khá.</li>
<li><span class="bul"></span>Phiên giao dịch hôm nay, NĐT canh MUA trong các nhịp điều chỉnh, kèm theo tín hiệu đảo chiều.</li>
</ul>
<svg style="position:absolute;left:0;top:0" width="1300" height="1112"><line x1="108.9" y1="811.0" x2="108.9" y2="1015.35" stroke="#000" stroke-width="3.4"/><line x1="334.3" y1="811.0" x2="334.3" y2="1015.35" stroke="#000" stroke-width="3.4"/><line x1="560.0" y1="811.0" x2="560.0" y2="1015.35" stroke="#000" stroke-width="3.4"/><line x1="785.7" y1="811.0" x2="785.7" y2="1015.35" stroke="#000" stroke-width="3.4"/><line x1="1011.7" y1="811.0" x2="1011.7" y2="1015.35" stroke="#000" stroke-width="3.4"/><line x1="1237.0" y1="811.0" x2="1237.0" y2="1015.35" stroke="#000" stroke-width="3.4"/><line x1="107.2" y1="812.75" x2="1238.7" y2="812.75" stroke="#000" stroke-width="3.4"/><line x1="332.6" y1="884.6" x2="1238.7" y2="884.6" stroke="#000" stroke-width="3.4"/><line x1="332.6" y1="949.2" x2="1238.7" y2="949.2" stroke="#000" stroke-width="3.4"/><line x1="107.2" y1="1013.6" x2="1238.7" y2="1013.6" stroke="#000" stroke-width="3.4"/></svg>
<div class="abs" style="top:881.29px;font-size:26px;line-height:26px;font-weight:bold;color:#1f4e8c;left:111.60px;width:220px;text-align:center;">CHIẾN LƯỢC</div><div class="abs" style="top:918.99px;font-size:26px;line-height:26px;font-weight:bold;color:#1f4e8c;left:111.60px;width:220px;text-align:center;">KHUYẾN NGHỊ</div><div class="abs" style="top:836.29px;font-size:26px;line-height:26px;font-weight:bold;left:337.15px;width:220px;text-align:center;">MUA</div><div class="abs" style="top:837.39px;font-size:26px;line-height:26px;font-weight:bold;left:562.85px;width:220px;text-align:center;">425-426</div><div class="abs" style="top:820.69px;font-size:26px;line-height:26px;font-weight:bold;left:788.70px;width:220px;text-align:center;">KÝ QUỸ</div><div class="abs" style="top:851.49px;font-size:26px;line-height:26px;font-weight:bold;left:788.70px;width:220px;text-align:center;">(Tham khảo)</div><div class="abs" style="top:836.59px;font-size:26px;line-height:26px;font-weight:bold;left:1014.35px;width:220px;text-align:center;">1386$</div><div class="abs" style="top:903.99px;font-size:26px;line-height:26px;font-weight:bold;color:#21b266;left:337.15px;width:220px;text-align:center;">CHỐT LỜI</div><div class="abs" style="top:905.59px;font-size:26px;line-height:26px;font-weight:bold;color:#21b266;left:562.85px;width:220px;text-align:center;">436-438</div><div class="abs" style="top:903.99px;font-size:26px;line-height:26px;font-weight:bold;color:#21b266;left:788.70px;width:220px;text-align:center;">LÃI DỰ KIẾN</div><div class="abs" style="top:905.59px;font-size:26px;line-height:26px;font-weight:bold;color:#21b266;left:1014.35px;width:220px;text-align:center;">550$</div><div class="abs" style="top:968.69px;font-size:26px;line-height:26px;font-weight:bold;left:337.15px;width:220px;text-align:center;">DỪNG LỖ</div><div class="abs" style="top:970.49px;font-size:26px;line-height:26px;font-weight:bold;color:#e3343b;left:562.85px;width:220px;text-align:center;">419.4</div><div class="abs" style="top:968.69px;font-size:26px;line-height:26px;font-weight:bold;color:#e3343b;left:788.70px;width:220px;text-align:center;">LỖ DỰ KIẾN</div><div class="abs" style="top:970.49px;font-size:26px;line-height:26px;font-weight:bold;color:#e3343b;left:1014.35px;width:220px;text-align:center;">250$</div>
<div class="abs" style="top:1033.40px;font-size:24.1px;line-height:24.1px;font-style:italic;color:#111;left:205.50px;">*Ngoài hợp đồng tiêu chuẩn, NĐT có thể tham khảo sản phẩm mini với mức ký quỹ thấp hơn.</div>
<div class="abs" style="top:1067.90px;font-size:24.1px;line-height:24.1px;font-style:italic;color:#111;left:210.00px;">NĐT chủ động cài SL dương khi có mức lợi nhuận phù hợp để an toàn cho tài khoản</div>
</body></html>
